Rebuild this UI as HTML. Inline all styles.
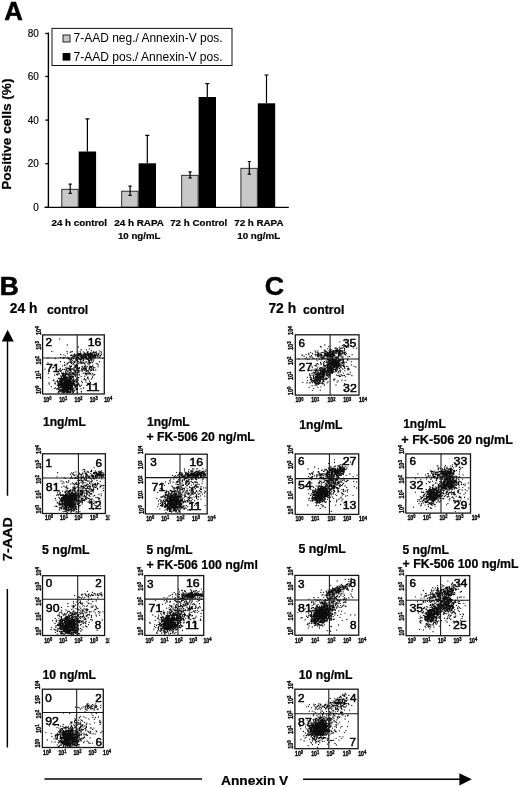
<!DOCTYPE html>
<html lang="en"><head><meta charset="utf-8"><title>Figure</title>
<style>html,body{margin:0;padding:0;background:#fff}svg{display:block}text{font-family:'Liberation Sans', Arial, Helvetica, sans-serif}</style>
</head><body>
<svg width="520" height="787" viewBox="0 0 520 787">
<defs><filter id="soft" x="0" y="0" width="520" height="787" filterUnits="userSpaceOnUse"><feGaussianBlur stdDeviation="0.38"/></filter></defs>
<g filter="url(#soft)">
<rect width="520" height="787" fill="#fff"/>
<g id="panelA">
<text x="4.3" y="20.3" font-size="25.5" font-weight="bold" textLength="18.6" lengthAdjust="spacingAndGlyphs" stroke="#000" stroke-width=".5">A</text>
<text x="11.2" y="189.8" font-size="12.6" font-weight="bold" textLength="111.3" lengthAdjust="spacingAndGlyphs" transform="rotate(-90 11.2 189.8)" stroke="#000" stroke-width=".22">Positive cells (%)</text>
<text x="38.8" y="210.9" font-size="10" text-anchor="end" stroke="#000" stroke-width=".15">0</text>
<path d="M45.3 207.3H48.8" stroke="#000" stroke-width="1.3"/>
<text x="38.8" y="167.3" font-size="10" text-anchor="end" stroke="#000" stroke-width=".15">20</text>
<path d="M45.3 163.7H48.8" stroke="#000" stroke-width="1.3"/>
<text x="38.8" y="123.7" font-size="10" text-anchor="end" stroke="#000" stroke-width=".15">40</text>
<path d="M45.3 120.1H48.8" stroke="#000" stroke-width="1.3"/>
<text x="38.8" y="80.1" font-size="10" text-anchor="end" stroke="#000" stroke-width=".15">60</text>
<path d="M45.3 76.5H48.8" stroke="#000" stroke-width="1.3"/>
<text x="38.8" y="37.1" font-size="10" text-anchor="end" stroke="#000" stroke-width=".15">80</text>
<path d="M45.3 33.5H48.8" stroke="#000" stroke-width="1.3"/>
<path d="M48.4 32.6V207.3" stroke="#000" stroke-width="1.4" fill="none"/>
<rect x="61.8" y="189.3" width="16.4" height="18.0" fill="#c8c8c8" stroke="#111" stroke-width=".85"/>
<rect x="78.7" y="151.5" width="17.4" height="55.8" fill="#050505"/>
<path d="M70.2 184.2V193.3M68.6 184.2h3.2M68.6 193.3h3.2" stroke="#000" stroke-width="1.2" fill="none"/>
<path d="M87.4 118.8V151.5M85.4 118.8h4" stroke="#000" stroke-width="1.2" fill="none"/>
<rect x="121.7" y="191.2" width="16.4" height="16.1" fill="#c8c8c8" stroke="#111" stroke-width=".85"/>
<rect x="138.6" y="163.3" width="17.4" height="44.0" fill="#050505"/>
<path d="M130.1 186.2V195.3M128.5 186.2h3.2M128.5 195.3h3.2" stroke="#000" stroke-width="1.2" fill="none"/>
<path d="M147.3 135.4V163.3M145.3 135.4h4" stroke="#000" stroke-width="1.2" fill="none"/>
<rect x="181.7" y="175.3" width="16.4" height="32.0" fill="#c8c8c8" stroke="#111" stroke-width=".85"/>
<rect x="198.6" y="97.0" width="17.4" height="110.3" fill="#050505"/>
<path d="M190.1 171.8V177.9M188.5 171.8h3.2M188.5 177.9h3.2" stroke="#000" stroke-width="1.2" fill="none"/>
<path d="M207.3 83.7V97.0M205.3 83.7h4" stroke="#000" stroke-width="1.2" fill="none"/>
<rect x="240.9" y="168.3" width="16.4" height="39.0" fill="#c8c8c8" stroke="#111" stroke-width=".85"/>
<rect x="257.8" y="103.3" width="17.4" height="104.0" fill="#050505"/>
<path d="M249.3 161.5V174.2M247.7 161.5h3.2M247.7 174.2h3.2" stroke="#000" stroke-width="1.2" fill="none"/>
<path d="M266.5 75.0V103.3M264.5 75.0h4" stroke="#000" stroke-width="1.2" fill="none"/>
<path d="M44.5 207.3H288.8" stroke="#000" stroke-width="1.35" fill="none"/>
<text x="51.5" y="226.4" font-size="9.9" font-weight="bold" textLength="55.5" lengthAdjust="spacingAndGlyphs" stroke="#000" stroke-width=".2">24 h control</text>
<text x="114.2" y="226.4" font-size="9.9" font-weight="bold" textLength="49.8" lengthAdjust="spacingAndGlyphs" stroke="#000" stroke-width=".2">24 h RAPA</text>
<text x="170.2" y="226.4" font-size="9.9" font-weight="bold" textLength="57" lengthAdjust="spacingAndGlyphs" stroke="#000" stroke-width=".2">72 h Control</text>
<text x="234.2" y="226.4" font-size="9.9" font-weight="bold" textLength="49.3" lengthAdjust="spacingAndGlyphs" stroke="#000" stroke-width=".2">72 h RAPA</text>
<text x="118" y="239.2" font-size="9.9" font-weight="bold" textLength="42.4" lengthAdjust="spacingAndGlyphs" stroke="#000" stroke-width=".2">10 ng/mL</text>
<text x="237.2" y="239.2" font-size="9.9" font-weight="bold" textLength="43" lengthAdjust="spacingAndGlyphs" stroke="#000" stroke-width=".2">10 ng/mL</text>
<rect x="52" y="28.4" width="180" height="37.1" fill="#fff" stroke="#111" stroke-width="1"/>
<rect x="63" y="35" width="7" height="7" fill="#c6c6c6" stroke="#111" stroke-width=".9"/>
<rect x="62.6" y="53" width="7.8" height="7.6" fill="#050505"/>
<text x="73.6" y="42.3" font-size="12" textLength="149" lengthAdjust="spacingAndGlyphs">7-AAD neg./ Annexin-V pos.</text>
<text x="73.6" y="60.7" font-size="12" textLength="149" lengthAdjust="spacingAndGlyphs">7-AAD pos./ Annexin-V pos.</text>
</g>
<text x="-0.3" y="294.6" font-size="25.4" font-weight="bold" textLength="19" lengthAdjust="spacingAndGlyphs" stroke="#000" stroke-width=".6">B</text>
<text x="264.8" y="294.9" font-size="25.2" font-weight="bold" textLength="19.3" lengthAdjust="spacingAndGlyphs" stroke="#000" stroke-width=".5">C</text>
<text x="9.8" y="312.9" font-size="14.2" font-weight="bold" textLength="27.6" lengthAdjust="spacingAndGlyphs" stroke="#000" stroke-width=".22">24 h</text>
<text x="47" y="314.1" font-size="12" font-weight="bold" textLength="41.2" lengthAdjust="spacingAndGlyphs" stroke="#000" stroke-width=".22">control</text>
<text x="268.4" y="313.1" font-size="14.2" font-weight="bold" textLength="27.8" lengthAdjust="spacingAndGlyphs" stroke="#000" stroke-width=".22">72 h</text>
<text x="303.1" y="314.1" font-size="12" font-weight="bold" textLength="41.2" lengthAdjust="spacingAndGlyphs" stroke="#000" stroke-width=".22">control</text>
<text x="43" y="425.7" font-size="12" font-weight="bold" textLength="42.8" lengthAdjust="spacingAndGlyphs" stroke="#000" stroke-width=".22">1ng/mL</text>
<text x="147" y="425.9" font-size="12" font-weight="bold" textLength="42.6" lengthAdjust="spacingAndGlyphs" stroke="#000" stroke-width=".22">1ng/mL</text>
<text x="146.5" y="440.7" font-size="12" font-weight="bold" textLength="108.3" lengthAdjust="spacingAndGlyphs" stroke="#000" stroke-width=".22">+ FK-506 20 ng/mL</text>
<text x="42" y="553.8" font-size="12" font-weight="bold" textLength="47.5" lengthAdjust="spacingAndGlyphs" stroke="#000" stroke-width=".22">5 ng/mL</text>
<text x="146.5" y="553.5" font-size="12" font-weight="bold" textLength="46" lengthAdjust="spacingAndGlyphs" stroke="#000" stroke-width=".22">5 ng/mL</text>
<text x="146.5" y="569.0" font-size="12" font-weight="bold" textLength="111.4" lengthAdjust="spacingAndGlyphs" stroke="#000" stroke-width=".22">+ FK-506 100 ng/ml</text>
<text x="42.5" y="679.0" font-size="12" font-weight="bold" textLength="53.5" lengthAdjust="spacingAndGlyphs" stroke="#000" stroke-width=".22">10 ng/mL</text>
<text x="299.2" y="428.6" font-size="12" font-weight="bold" textLength="43.3" lengthAdjust="spacingAndGlyphs" stroke="#000" stroke-width=".22">1ng/mL</text>
<text x="403.2" y="428.3" font-size="12" font-weight="bold" textLength="42.6" lengthAdjust="spacingAndGlyphs" stroke="#000" stroke-width=".22">1ng/mL</text>
<text x="401.3" y="443.8" font-size="12" font-weight="bold" textLength="111.7" lengthAdjust="spacingAndGlyphs" stroke="#000" stroke-width=".22">+ FK-506 20 ng/mL</text>
<text x="298.4" y="553.4" font-size="12" font-weight="bold" textLength="47.5" lengthAdjust="spacingAndGlyphs" stroke="#000" stroke-width=".22">5 ng/mL</text>
<text x="402.5" y="554.0" font-size="12" font-weight="bold" textLength="46.4" lengthAdjust="spacingAndGlyphs" stroke="#000" stroke-width=".22">5 ng/mL</text>
<text x="402.6" y="568.0" font-size="12" font-weight="bold" textLength="116" lengthAdjust="spacingAndGlyphs" stroke="#000" stroke-width=".22">+ FK-506 100 ng/mL</text>
<text x="298.7" y="679.0" font-size="12" font-weight="bold" textLength="53.8" lengthAdjust="spacingAndGlyphs" stroke="#000" stroke-width=".22">10 ng/mL</text>
<g id="b1">
<path d="M60.5 387.1h0M70.7 383.0h0M60.0 385.1h0M68.3 390.5h0M60.5 379.5h0M69.3 387.6h0M73.2 389.9h0M65.6 384.1h0M77.9 384.1h0M62.5 380.2h0M66.5 386.1h0M64.5 385.1h0M67.4 388.6h0M71.1 386.4h0M57.9 388.6h0M59.6 384.6h0M59.3 385.4h0M62.5 386.4h0M81.3 385.2h0M70.0 379.3h0M64.8 388.4h0M65.7 387.1h0M66.6 380.8h0M68.7 381.7h0M74.7 383.1h0M69.3 385.4h0M70.5 382.6h0M70.7 384.8h0M71.9 388.3h0M66.7 381.8h0M69.6 387.6h0M73.7 383.7h0M68.7 387.7h0M67.4 386.4h0M66.9 382.6h0M61.4 383.6h0M68.8 392.4h0M70.6 390.2h0M69.7 388.6h0M66.9 388.9h0M74.3 383.9h0M67.2 389.9h0M70.1 380.2h0M66.9 388.9h0M66.7 381.3h0M65.6 387.1h0M71.2 388.7h0M66.4 391.6h0M62.6 389.0h0M71.2 384.1h0M57.9 381.2h0M67.2 387.8h0M73.2 380.8h0M66.1 388.4h0M65.4 374.5h0M70.7 381.2h0M64.2 386.4h0M77.5 388.2h0M66.6 392.6h0M62.9 383.2h0M69.4 392.0h0M69.1 386.8h0M57.7 382.1h0M63.3 382.9h0M68.8 383.9h0M69.7 385.8h0M64.6 385.9h0M68.1 389.3h0M63.9 384.3h0M59.8 392.8h0M72.8 384.6h0M63.9 379.7h0M66.9 386.3h0M76.1 386.5h0M62.5 374.2h0M72.6 386.3h0M58.7 386.2h0M71.2 388.0h0M65.3 375.6h0M65.5 378.2h0M68.8 375.6h0M61.9 391.0h0M73.7 380.0h0M59.0 389.4h0M70.0 380.9h0M62.9 382.2h0M60.6 382.3h0M71.9 388.6h0M75.6 385.0h0M65.5 380.9h0M65.5 379.4h0M57.9 388.6h0M72.7 389.2h0M72.2 386.6h0M62.8 385.8h0M64.4 380.3h0M58.3 378.6h0M66.1 386.1h0M63.9 392.0h0M66.9 388.1h0M71.7 381.6h0M57.0 388.9h0M62.9 391.4h0M67.7 390.0h0M69.6 375.8h0M69.4 382.3h0M62.6 383.4h0M69.6 389.5h0M70.8 377.8h0M63.4 374.5h0M65.6 388.2h0M62.6 386.5h0M67.2 390.0h0M62.3 381.6h0M71.1 384.8h0M67.1 385.9h0M67.0 384.4h0M64.6 379.6h0M63.1 393.0h0M68.6 385.7h0M65.1 385.7h0M67.7 382.4h0M67.0 386.5h0M62.7 381.8h0M61.5 380.5h0M70.2 374.5h0M64.9 382.6h0M63.2 385.8h0M71.3 385.8h0M65.5 382.6h0M65.5 389.6h0M64.3 380.1h0M60.3 380.3h0M59.7 390.5h0M67.7 384.3h0M72.8 382.4h0M69.6 389.1h0M59.0 378.2h0M61.8 389.6h0M72.1 379.8h0M70.9 383.6h0M64.3 382.9h0M64.6 377.0h0M61.5 379.7h0M78.7 383.9h0M58.2 383.5h0M68.7 382.0h0M70.4 387.9h0M58.6 383.0h0M65.0 385.5h0M66.7 383.8h0M67.0 382.7h0M62.0 392.4h0M67.8 387.4h0M58.8 384.6h0M69.9 379.5h0M71.1 383.6h0M68.0 384.8h0M67.1 390.9h0M64.2 392.6h0M62.5 381.1h0M69.4 380.5h0M64.4 389.6h0M71.7 377.2h0M71.6 384.3h0M63.3 384.0h0M60.8 384.2h0M65.2 384.7h0M71.5 384.3h0M59.4 390.2h0M61.2 383.3h0M65.5 383.8h0M61.5 384.3h0M76.1 382.6h0M65.5 390.6h0M69.5 388.9h0M70.1 376.3h0M62.1 386.0h0M68.4 391.4h0M68.3 384.3h0M66.3 384.4h0M67.2 388.5h0M64.5 381.7h0M62.2 390.4h0M72.0 390.0h0M70.0 389.2h0M66.1 388.5h0M61.3 384.5h0M62.7 388.7h0M63.4 384.9h0M67.9 391.6h0M62.5 381.1h0M69.9 380.3h0M68.2 382.8h0M65.6 377.0h0M69.4 383.1h0M68.0 383.8h0M66.6 392.8h0M66.0 387.5h0M68.5 381.2h0M66.7 383.1h0M60.4 389.4h0M69.2 385.7h0M61.9 376.2h0M68.3 385.0h0M58.4 385.1h0M59.1 385.3h0M66.8 387.0h0M67.1 386.2h0M60.9 383.6h0M63.7 384.3h0M67.3 388.2h0M73.6 373.6h0M67.9 384.5h0M76.6 389.7h0M58.5 387.2h0M63.7 390.0h0M61.2 384.9h0M65.5 385.0h0M63.4 376.9h0M68.2 390.0h0M65.8 380.7h0M67.0 388.0h0M65.3 385.3h0M72.6 380.3h0M63.5 376.6h0M62.9 382.0h0M61.7 382.2h0M74.4 384.5h0M65.8 377.4h0M68.0 381.1h0M73.6 379.7h0M63.4 378.0h0M66.5 380.7h0M65.8 383.7h0M63.3 389.7h0M70.4 385.7h0M62.0 380.5h0M64.0 381.8h0M62.9 380.4h0M61.6 384.5h0M72.7 385.4h0M63.8 378.0h0M67.1 385.3h0M60.5 380.4h0M65.9 390.1h0M69.0 386.3h0M64.6 386.9h0M60.9 383.7h0M71.9 384.2h0M72.7 385.2h0M66.8 383.7h0M59.7 380.9h0M76.3 388.4h0M68.9 389.8h0M68.7 390.1h0M64.9 384.4h0M70.6 383.8h0M60.0 384.4h0M63.6 388.2h0M62.8 380.5h0M64.6 392.5h0M65.9 386.1h0M66.1 386.8h0M70.4 391.8h0M58.5 391.7h0M66.1 383.9h0M77.1 384.6h0M75.0 389.9h0M61.4 387.6h0M69.5 384.8h0M55.4 383.8h0M65.2 380.3h0M74.5 384.3h0M64.3 384.0h0M62.5 381.8h0M66.5 386.8h0M63.8 385.0h0M59.7 387.8h0M62.7 386.4h0M61.9 383.0h0M67.1 379.8h0M77.5 385.2h0M65.8 382.0h0M73.4 391.8h0M67.5 379.1h0M63.8 388.2h0M63.7 380.0h0M60.6 381.9h0M66.2 382.4h0M74.3 380.6h0M67.7 385.8h0M65.5 390.2h0M64.6 383.9h0M64.4 384.9h0M72.0 389.0h0M59.9 383.4h0M62.4 389.2h0M67.1 389.5h0M65.8 376.6h0M68.2 386.4h0M68.4 379.4h0M66.5 382.2h0M62.9 387.0h0M67.7 381.3h0M58.2 374.0h0M63.5 390.6h0M65.8 375.0h0M62.1 387.3h0M73.8 390.8h0M67.8 386.3h0M61.2 383.3h0M64.6 381.8h0M66.4 383.6h0M67.7 392.0h0M69.5 387.3h0M65.0 378.4h0M65.6 387.9h0M61.5 391.2h0M64.6 387.1h0M64.6 379.6h0M75.6 380.1h0M70.3 382.8h0M67.4 381.7h0M64.2 389.6h0M75.0 381.5h0M66.1 389.8h0M63.2 388.7h0M62.5 388.2h0M68.1 391.0h0M67.8 379.9h0M69.2 380.3h0M69.6 392.3h0M68.8 382.9h0M71.6 386.2h0M60.4 383.8h0M72.6 384.0h0M66.7 383.8h0M58.3 383.1h0M67.7 386.4h0M65.3 375.6h0M71.7 388.7h0M70.8 391.4h0M64.1 382.6h0M58.3 384.3h0M62.8 388.0h0M72.8 384.0h0M60.4 385.6h0M64.8 378.3h0M70.2 383.0h0M69.2 379.3h0M71.1 378.8h0M70.9 377.1h0M72.4 383.7h0M58.9 384.3h0M67.7 380.8h0M63.8 386.6h0M65.3 371.3h0M64.1 387.4h0M67.5 390.0h0M69.8 386.8h0M71.1 389.8h0M66.6 382.5h0M70.8 387.3h0M57.4 380.3h0M68.2 385.9h0M67.4 388.4h0M66.8 392.7h0M63.4 383.6h0M67.6 388.8h0M69.7 392.2h0M63.9 390.8h0M68.3 380.6h0M69.7 383.2h0M55.1 382.0h0M62.9 385.8h0M76.7 388.8h0M67.5 381.1h0M60.6 384.4h0M64.2 382.6h0M71.3 385.8h0M60.4 391.3h0M64.7 379.3h0M67.6 387.6h0M64.5 388.6h0M69.9 381.3h0M56.6 374.4h0M65.5 391.1h0M70.7 391.8h0M74.6 385.5h0M71.0 378.4h0M69.3 387.2h0M65.7 383.4h0M61.0 386.0h0M72.0 383.7h0M68.5 382.3h0M67.3 380.8h0M67.8 384.4h0M67.6 382.6h0M60.7 383.9h0M70.9 392.7h0M64.6 389.1h0M69.6 387.2h0M59.0 386.9h0M61.6 390.8h0M69.7 388.2h0M54.4 388.3h0M69.3 379.5h0M70.6 385.7h0M65.3 382.1h0M61.4 383.4h0M80.3 386.3h0M67.1 382.4h0M63.3 382.9h0M62.0 389.4h0M64.9 389.4h0M60.8 389.7h0M66.0 388.5h0M65.6 381.3h0M71.7 383.4h0M65.4 381.3h0M67.0 383.6h0M67.4 387.0h0M62.9 378.9h0M68.1 389.6h0M69.3 380.1h0M68.9 387.2h0M67.4 387.4h0M64.6 386.4h0M70.4 383.1h0M59.5 384.9h0M67.0 376.9h0M63.0 388.1h0M65.4 385.8h0M60.3 389.6h0M74.2 384.5h0M62.7 380.1h0M70.2 385.9h0M62.4 391.0h0M69.6 388.2h0M58.0 384.9h0M69.0 379.8h0M70.4 392.0h0M70.9 382.1h0M62.8 389.7h0M70.7 391.1h0M71.6 384.9h0M64.2 376.9h0M64.0 383.2h0M69.1 387.1h0M59.8 382.1h0M62.8 389.3h0M72.7 392.9h0M60.4 383.8h0M62.8 384.1h0M78.2 377.7h0M68.7 379.7h0M72.3 391.4h0M66.4 391.4h0M67.5 382.8h0M64.3 384.9h0M68.9 386.0h0M77.0 384.5h0M64.0 382.1h0M62.5 378.8h0M61.6 389.6h0M66.4 384.6h0M67.7 390.3h0M68.9 389.0h0M63.5 384.2h0M62.5 385.0h0M62.3 383.7h0M65.3 384.4h0M64.9 383.1h0M72.1 383.8h0M61.4 386.3h0M61.1 380.5h0M66.5 377.7h0M51.3 386.7h0M70.9 377.7h0M62.0 388.1h0M57.0 381.4h0M60.6 384.5h0M57.0 389.5h0M65.4 386.8h0M64.6 375.6h0M65.4 379.2h0M66.1 381.5h0M64.6 384.4h0M69.7 388.9h0M61.5 385.3h0M72.8 387.7h0M62.7 384.8h0M64.5 389.7h0M66.3 387.1h0M76.3 379.1h0M61.4 377.4h0M58.8 389.3h0M67.4 392.9h0M57.0 381.3h0M72.7 390.1h0M70.2 389.4h0M66.2 385.4h0M66.2 389.3h0M65.4 386.9h0M72.8 380.2h0M62.6 388.0h0M64.9 384.7h0M75.8 387.3h0M64.2 390.5h0M77.7 380.3h0M63.0 385.9h0M68.5 383.6h0M68.4 381.7h0M63.3 385.9h0M77.1 375.0h0M68.0 391.6h0M68.2 386.1h0M65.5 381.5h0M73.6 380.0h0M65.5 383.0h0M62.5 375.2h0M64.3 386.0h0M66.8 389.3h0M65.4 382.5h0M67.5 388.5h0M61.9 378.4h0M61.4 390.3h0M70.7 381.3h0M66.6 389.3h0M72.2 382.4h0M65.0 391.9h0M77.2 392.4h0M60.9 387.5h0M64.7 385.1h0M63.1 383.2h0M69.3 387.4h0M66.2 381.9h0M65.0 391.1h0M67.3 385.3h0M58.7 387.2h0M58.2 392.4h0M63.2 385.4h0M59.9 383.1h0M61.8 390.6h0M67.2 380.0h0M57.2 385.1h0M63.9 380.3h0M68.8 384.5h0M66.6 382.7h0M63.5 383.3h0M58.7 388.3h0M68.0 377.5h0M66.6 390.7h0M67.2 391.4h0M64.9 385.4h0M60.1 381.2h0M57.7 381.3h0M67.2 387.8h0M71.5 386.0h0M61.5 387.4h0M75.1 389.8h0M60.9 383.0h0M67.0 382.1h0M68.5 388.6h0M70.0 386.5h0M62.0 381.5h0M65.5 391.5h0M73.3 389.9h0M67.8 388.5h0M69.9 391.3h0M70.0 378.3h0M70.5 387.2h0M64.0 387.8h0M67.4 385.2h0M58.3 385.9h0M68.7 385.2h0M58.8 387.5h0M69.4 386.2h0M68.1 383.8h0M63.1 387.8h0M64.5 386.2h0M81.1 388.7h0M66.7 377.9h0M66.5 388.9h0M62.9 384.3h0M55.7 388.0h0M63.4 388.5h0M72.4 384.7h0M70.6 386.6h0M65.2 384.1h0M62.2 391.3h0M70.1 380.8h0M70.0 382.0h0M59.2 390.9h0M60.2 390.8h0M74.0 385.1h0M77.3 385.9h0M73.6 382.0h0M75.3 386.4h0M70.5 388.4h0M78.8 372.4h0M69.3 373.1h0M67.8 382.1h0M62.2 373.4h0M69.3 380.5h0M74.0 383.1h0M63.9 373.6h0M68.0 383.8h0M73.0 372.6h0M62.5 365.8h0M69.3 377.4h0M69.6 387.5h0M85.7 379.8h0M66.1 379.9h0M66.6 384.8h0M73.1 377.8h0M66.5 378.6h0M70.2 388.1h0M64.3 379.8h0M63.8 373.9h0M60.4 368.4h0M73.9 381.5h0M73.5 392.2h0M65.4 386.5h0M69.5 372.8h0M70.9 386.8h0M70.3 380.8h0M79.2 375.0h0M53.8 379.9h0M73.8 374.6h0M52.3 367.9h0M77.6 389.3h0M50.3 367.1h0M69.6 372.7h0M65.1 377.6h0M64.4 385.9h0M76.6 378.1h0M69.4 389.2h0M70.4 383.8h0M65.1 387.7h0M79.5 385.9h0M70.8 382.2h0M68.6 388.0h0M78.8 384.2h0M60.5 371.0h0M67.2 377.6h0M66.2 386.5h0M76.9 378.2h0M78.0 377.6h0M59.3 378.3h0M69.2 385.6h0M75.5 376.3h0M71.9 368.6h0M74.5 390.9h0M76.3 385.2h0M48.3 373.5h0M67.2 390.1h0M77.0 367.7h0M57.4 375.0h0M65.0 386.7h0M70.5 370.8h0M69.6 376.8h0M78.1 382.8h0M70.2 387.1h0M72.1 376.0h0M73.4 383.1h0M63.5 375.0h0M77.3 373.9h0M66.6 384.8h0M58.8 385.1h0M57.5 381.0h0M53.3 380.4h0M73.9 374.0h0M70.9 392.8h0M58.6 369.8h0M79.3 368.4h0M79.1 385.1h0M60.0 384.6h0M67.4 385.8h0M63.0 369.3h0M72.4 384.5h0M69.1 384.4h0M64.8 380.6h0M71.7 378.6h0M81.5 381.2h0M77.6 381.1h0M64.6 369.4h0M83.6 388.0h0M69.1 376.1h0M73.8 388.3h0M66.3 370.3h0M64.1 373.7h0M63.4 372.9h0M68.7 362.5h0M60.1 379.4h0M60.0 369.9h0M67.6 363.2h0M76.5 381.5h0M63.3 375.4h0M69.7 379.8h0M49.0 377.6h0M71.8 376.0h0M61.5 373.0h0M60.6 375.9h0M82.1 358.4h0M81.2 376.6h0M71.0 379.6h0M73.2 392.7h0M72.0 376.7h0M68.7 380.9h0M59.6 381.0h0M67.2 386.1h0M64.6 362.4h0M71.5 387.3h0M54.7 375.0h0M74.9 374.0h0M60.3 371.4h0M67.4 374.0h0M72.0 381.3h0M72.0 373.7h0M65.3 381.2h0M68.8 380.6h0M64.1 379.2h0M62.1 376.7h0M74.8 387.1h0M67.6 385.5h0M71.5 378.4h0M70.8 372.0h0M73.8 379.0h0M81.4 391.5h0M61.9 383.8h0M66.8 370.2h0M78.8 377.7h0M58.0 372.9h0M72.4 351.6h0M59.3 391.2h0M65.2 374.5h0M73.2 377.3h0M71.8 379.8h0M70.6 389.4h0M73.6 376.5h0M69.4 378.0h0M54.8 383.7h0M64.5 364.9h0M67.4 363.9h0M71.6 376.7h0M73.9 372.6h0M63.9 374.1h0M69.3 377.3h0M62.7 378.8h0M66.3 386.7h0M54.8 371.1h0M66.9 391.0h0M68.1 385.9h0M71.4 372.1h0M76.1 379.8h0M65.3 373.7h0M62.6 369.3h0M64.2 375.6h0M73.2 379.8h0M68.1 388.1h0M77.1 374.7h0M65.9 385.7h0M49.4 384.1h0M81.5 392.0h0M73.8 358.8h0M90.0 357.2h0M87.4 354.4h0M87.4 358.3h0M94.0 354.4h0M91.2 356.8h0M92.3 355.0h0M84.3 354.4h0M85.7 354.6h0M78.3 353.6h0M94.1 352.8h0M80.2 356.1h0M98.1 357.0h0M85.8 353.7h0M85.0 354.0h0M85.2 356.6h0M81.7 354.5h0M86.9 355.5h0M83.6 354.4h0M81.2 354.6h0M91.9 354.7h0M68.7 358.3h0M88.0 353.8h0M86.5 349.9h0M78.2 358.5h0M102.7 358.3h0M83.9 355.9h0M93.4 352.6h0M99.7 353.1h0M90.7 353.0h0M91.0 355.2h0M95.4 352.6h0M88.8 358.8h0M81.0 356.7h0M91.4 354.2h0M87.1 358.2h0M96.1 355.8h0M90.2 353.1h0M89.5 358.7h0M95.2 352.2h0M75.1 355.3h0M89.6 354.3h0M86.7 356.2h0M94.4 355.3h0M96.5 352.0h0M91.7 355.9h0M79.2 358.6h0M78.0 353.6h0M91.3 357.8h0M95.9 352.6h0M92.0 357.8h0M87.6 355.6h0M85.7 357.1h0M84.9 354.6h0M80.5 354.3h0M90.1 356.2h0M85.9 353.6h0M90.9 355.9h0M96.8 353.7h0M86.0 356.6h0M98.5 354.4h0M87.9 353.7h0M86.3 357.4h0M94.3 357.0h0M78.1 357.9h0M82.7 357.1h0M73.2 356.6h0M83.1 358.3h0M89.6 357.8h0M86.1 359.4h0M86.0 359.3h0M85.3 353.8h0M94.4 354.1h0M88.0 352.9h0M86.4 355.8h0M84.1 356.6h0M73.7 358.4h0M86.2 358.4h0M86.2 354.3h0M85.7 356.2h0M92.4 354.2h0M83.5 356.7h0M93.7 351.6h0M81.6 354.7h0M100.0 356.8h0M93.9 355.9h0M81.5 358.2h0M85.6 354.1h0M101.0 351.5h0M97.7 355.0h0M82.6 356.3h0M83.1 356.2h0M84.2 353.5h0M95.1 354.7h0M92.8 352.6h0M81.2 349.7h0M95.3 355.7h0M81.0 357.7h0M93.0 360.7h0M90.3 357.0h0M92.8 356.5h0M88.4 354.6h0M93.5 357.4h0M80.8 353.9h0M88.6 358.9h0M87.0 352.3h0M94.0 356.4h0M101.4 354.7h0M101.4 352.9h0M94.6 355.1h0M80.8 355.6h0M97.5 356.8h0M86.3 357.7h0M94.7 356.6h0M90.6 355.8h0M83.2 355.8h0M89.3 353.9h0M86.8 355.9h0M90.2 357.3h0M81.8 355.2h0M90.3 354.5h0M90.7 354.3h0M96.3 354.3h0M81.3 357.5h0M99.2 350.8h0M87.8 355.6h0M95.7 357.7h0M87.3 352.5h0M93.2 357.0h0M91.7 355.3h0M83.7 360.5h0M80.5 353.2h0M95.1 355.4h0M93.1 355.7h0M99.9 357.2h0M85.2 357.6h0M80.7 352.8h0M96.4 353.9h0M74.6 356.6h0M84.4 356.8h0M88.1 354.0h0M84.1 357.3h0M82.6 356.2h0M82.3 356.8h0M100.4 355.5h0M96.0 355.6h0M82.3 355.4h0M89.2 356.2h0M84.8 356.9h0M84.0 355.9h0M88.4 353.2h0M95.2 354.9h0M89.4 355.3h0M74.6 353.9h0M83.0 357.8h0M85.0 356.9h0M81.8 354.4h0M85.8 357.7h0M77.8 356.0h0M91.3 355.4h0M88.7 356.9h0M90.4 353.3h0M92.7 353.6h0M86.7 358.4h0M91.3 353.7h0M84.0 359.0h0M90.6 352.6h0M99.0 355.6h0M97.3 355.4h0M74.4 355.2h0M87.7 355.2h0M98.4 353.3h0M88.0 355.4h0M87.9 353.5h0M80.2 351.2h0M90.8 354.8h0M80.1 354.3h0M78.7 354.5h0M71.5 357.8h0M83.1 358.4h0M78.3 355.9h0M88.5 360.1h0M74.2 354.2h0M81.3 357.7h0M72.2 362.7h0M63.9 354.8h0M80.4 359.4h0M65.6 355.8h0M88.8 360.5h0M76.9 357.0h0M72.4 357.9h0M71.2 351.8h0M67.9 357.1h0M69.3 359.7h0M87.7 359.4h0M83.3 359.8h0M80.5 359.1h0M81.9 358.9h0M71.5 355.3h0M71.6 359.0h0M82.2 354.9h0M71.7 355.5h0M84.8 356.6h0M76.9 355.2h0M77.8 360.9h0M73.8 356.0h0M90.6 358.7h0M70.6 359.7h0M69.7 358.3h0M60.8 354.4h0M85.1 355.4h0M73.5 357.1h0M78.7 355.7h0M73.9 361.4h0M89.2 357.7h0M70.5 355.6h0M76.6 358.1h0M89.9 355.6h0M79.7 355.8h0M79.6 355.2h0M81.3 359.8h0M75.9 356.1h0M79.5 353.6h0M91.4 353.5h0M76.1 354.7h0M89.2 355.7h0M75.1 361.7h0M77.8 355.0h0M78.6 357.4h0M73.4 356.5h0M77.2 358.7h0M84.1 359.0h0M77.8 358.9h0M77.2 359.8h0M81.5 355.8h0M87.3 353.1h0M71.8 354.9h0M77.7 353.8h0M70.2 352.2h0M79.5 355.0h0M94.1 358.9h0M70.6 360.2h0M79.4 359.6h0M70.8 359.8h0M86.4 355.9h0M72.7 356.0h0M80.5 363.0h0M91.4 360.7h0M87.1 366.6h0M89.8 367.0h0M86.0 367.5h0M92.0 368.5h0M89.2 367.1h0M87.3 366.6h0M93.9 370.6h0M94.9 367.8h0M92.9 359.2h0M86.3 368.5h0M85.3 368.1h0M84.0 367.8h0M85.1 368.9h0M86.8 361.9h0M86.3 369.2h0M82.4 369.6h0M93.8 367.4h0M90.6 373.3h0M84.5 378.3h0M99.5 361.7h0M97.8 364.0h0M94.7 356.2h0M93.3 369.9h0M82.3 363.2h0M83.4 362.6h0M89.8 367.7h0M76.8 366.8h0M90.2 369.6h0M95.8 356.0h0M89.2 369.2h0M91.4 359.5h0M82.2 367.8h0M88.5 356.2h0M89.8 368.9h0M91.5 350.6h0M90.4 362.7h0M86.0 374.4h0M95.8 370.0h0M87.6 378.2h0M84.1 367.9h0M85.8 362.0h0M89.0 383.3h0M89.3 372.5h0M88.0 376.9h0M88.9 362.7h0M88.6 379.1h0M87.7 377.4h0M87.8 383.2h0M89.4 373.6h0M86.8 374.8h0M87.1 358.5h0M89.5 360.5h0M94.8 374.5h0M88.2 373.8h0M76.4 379.8h0M85.2 373.7h0M99.7 357.6h0M86.3 371.4h0M90.0 357.1h0M83.9 379.4h0M85.4 372.9h0M81.9 362.5h0M79.9 370.9h0M93.4 369.6h0M86.9 370.7h0M90.3 366.9h0M90.6 382.7h0M98.2 364.9h0M82.4 382.5h0M92.6 377.5h0M90.9 367.4h0M92.6 376.8h0M93.5 361.3h0M92.8 366.5h0M86.5 371.4h0M86.6 385.3h0M90.7 370.8h0M87.3 370.7h0M87.1 373.1h0M92.0 374.9h0M82.5 366.6h0M88.5 360.4h0M89.9 368.0h0M88.4 371.7h0M85.3 379.9h0M92.8 365.1h0M90.3 374.2h0M84.7 366.5h0M91.3 350.8h0M82.2 371.3h0M91.0 362.5h0M92.0 384.6h0M89.1 368.7h0M88.5 361.8h0M90.6 370.2h0M91.5 379.0h0M88.3 370.3h0M89.6 381.2h0M81.6 369.0h0M85.3 369.9h0M91.9 369.5h0M91.5 370.3h0M84.9 364.3h0M81.9 370.6h0M86.4 374.9h0M92.5 362.7h0M83.2 373.2h0M84.2 370.5h0M90.9 366.3h0M96.2 363.5h0M90.1 366.1h0M75.1 367.8h0M87.4 373.1h0M87.6 363.8h0M85.8 366.8h0M91.6 367.0h0M93.7 375.0h0M84.8 376.2h0M77.9 369.2h0M83.7 368.3h0M93.4 369.0h0M87.4 378.0h0M84.7 363.2h0M92.6 373.3h0M81.7 370.0h0M91.7 367.8h0M86.3 369.9h0M89.1 364.0h0M91.9 357.9h0M87.8 384.0h0M83.4 368.7h0M77.9 363.2h0M82.9 369.4h0M85.9 381.9h0M84.0 368.8h0M89.1 373.5h0M92.2 358.0h0M98.1 366.8h0M84.9 357.4h0M86.1 356.5h0M89.0 364.8h0M89.6 363.4h0M88.5 384.6h0M93.4 370.1h0M69.8 383.6h0M48.0 362.9h0M83.3 351.9h0M89.7 361.8h0M75.7 355.9h0M86.0 373.5h0M59.7 338.9h0M66.9 364.0h0M70.4 362.2h0M78.3 347.0h0M67.3 345.0h0M45.0 369.2h0M60.4 361.7h0M68.4 374.5h0M79.1 362.1h0M71.3 357.7h0M55.3 358.5h0M62.7 357.6h0M72.9 373.2h0M85.0 373.1h0M51.9 351.4h0M71.1 388.9h0M77.7 356.9h0M84.3 353.4h0M88.0 351.4h0M71.9 373.4h0M59.9 370.4h0M95.0 357.0h0M59.9 369.4h0M68.5 358.5h0M83.2 373.3h0M77.6 372.3h0M76.4 364.3h0M69.6 377.8h0M84.4 352.9h0M66.1 374.7h0M79.3 374.1h0M77.1 360.8h0M61.3 378.6h0M67.3 353.3h0M48.0 358.0h0M76.9 357.4h0M65.4 367.8h0M71.3 361.7h0M85.4 369.3h0M78.2 379.9h0M66.9 358.2h0M67.0 351.5h0M64.2 357.5h0M69.1 369.2h0M49.0 383.0h0M74.2 361.4h0M81.7 363.6h0M63.7 358.4h0M84.0 367.1h0M53.6 367.4h0M64.4 379.2h0M60.3 357.5h0M90.5 359.8h0M76.2 365.6h0M70.9 366.3h0M84.1 363.4h0M68.2 368.5h0M89.3 348.8h0M59.4 373.8h0M82.0 366.2h0M86.2 379.8h0M61.6 370.6h0M61.3 385.7h0M77.6 373.1h0M69.1 367.9h0M72.1 374.3h0M70.1 373.7h0M68.0 371.0h0M75.0 375.4h0M69.1 375.2h0M74.8 362.7h0M70.4 380.2h0M80.3 358.8h0M70.1 377.2h0M70.7 367.1h0M64.9 365.4h0M66.2 370.4h0M68.7 377.2h0M78.9 371.1h0M59.2 381.7h0M72.9 376.3h0M78.1 363.4h0M71.5 366.5h0M69.6 370.5h0M66.8 386.7h0M82.1 369.5h0M80.0 363.2h0M72.3 360.4h0M70.8 376.2h0M67.0 367.1h0M69.5 365.9h0M77.3 372.3h0M66.7 373.9h0M75.5 365.7h0M71.6 365.8h0M65.1 365.2h0M75.7 372.6h0M67.5 374.4h0M79.6 367.7h0M76.0 360.4h0M75.9 375.0h0M71.7 371.9h0M67.4 371.8h0M58.1 383.6h0M60.3 378.4h0M72.3 377.2h0M77.6 365.5h0M66.9 368.4h0M73.0 364.3h0M75.1 371.5h0M72.1 369.7h0M71.3 376.6h0M77.4 367.5h0M76.0 356.2h0M74.9 370.1h0M75.4 367.7h0M71.0 362.8h0M75.8 371.9h0M72.2 368.6h0M72.1 360.2h0M78.9 370.1h0M69.6 368.3h0M74.2 364.9h0M69.7 373.6h0M67.3 379.3h0M66.1 374.0h0M76.2 364.8h0M77.9 370.5h0M85.6 365.3h0M73.0 373.9h0M67.6 379.6h0M77.0 360.0h0M77.4 368.2h0M70.5 368.2h0M76.3 357.6h0M76.4 370.1h0M78.4 371.1h0M81.0 361.8h0M83.1 360.9h0M66.5 374.7h0M74.8 367.7h0M71.5 383.2h0M62.8 374.7h0M75.6 366.8h0M80.6 360.9h0M76.7 368.4h0M66.2 369.8h0M73.7 373.6h0M75.1 373.2h0M72.6 373.5h0M75.5 370.5h0M73.6 369.2h0M74.3 374.2h0M74.2 370.1h0M73.6 363.2h0M69.1 373.2h0M76.0 359.4h0M65.7 372.0h0M68.4 368.5h0M70.8 374.4h0M68.1 374.7h0M67.1 374.7h0M70.0 361.4h0M73.9 369.0h0M73.5 369.7h0M71.4 363.6h0M74.3 370.9h0M75.3 358.6h0M66.6 368.9h0M70.1 366.4h0M70.7 375.9h0M77.7 351.9h0M78.1 357.7h0M77.1 365.9h0M78.1 361.6h0M69.1 373.1h0M74.2 362.4h0M74.9 366.5h0M73.9 367.8h0M78.0 367.3h0M70.8 369.5h0M60.9 378.4h0M68.0 378.6h0M66.3 373.0h0M78.2 368.1h0M76.3 360.2h0M77.1 369.9h0M68.6 372.8h0M65.8 373.9h0M76.6 365.1h0M69.9 369.5h0M82.0 362.2h0M73.3 380.4h0M70.8 370.6h0M69.3 370.1h0" stroke="#0a0a0a" stroke-width="1.3" stroke-linecap="round" fill="none"/>
<rect x="42.6" y="334.9" width="61.7" height="59.1" fill="none" stroke="#161616" stroke-width="1.3"/>
<path d="M77.2 334.9V394.0M42.6 358H104.3" stroke="#161616" stroke-width="1.05" fill="none"/>
<text x="45.4" y="345.9" font-size="11.5" textLength="6.5" lengthAdjust="spacingAndGlyphs" stroke="#000" stroke-width=".5">2</text>
<text x="101.4" y="345.9" font-size="11.5" text-anchor="end" textLength="13.7" lengthAdjust="spacingAndGlyphs" stroke="#000" stroke-width=".5">16</text>
<text x="45.9" y="372.2" font-size="11.5" textLength="13.7" lengthAdjust="spacingAndGlyphs" stroke="#000" stroke-width=".5">71</text>
<text x="99.7" y="390.7" font-size="11.5" text-anchor="end" textLength="13.7" lengthAdjust="spacingAndGlyphs" stroke="#000" stroke-width=".5">11</text>
<g font-size="6.9" font-weight="bold" fill="#000" stroke="#000" stroke-width=".35">
<text x="43.5" y="401.5" textLength="8.0" lengthAdjust="spacingAndGlyphs">10<tspan dy="-1.9" font-size="5.4">0</tspan></text>
<text x="59.2" y="401.5" textLength="8.0" lengthAdjust="spacingAndGlyphs">10<tspan dy="-1.9" font-size="5.4">1</tspan></text>
<text x="74.6" y="401.5" textLength="8.0" lengthAdjust="spacingAndGlyphs">10<tspan dy="-1.9" font-size="5.4">2</tspan></text>
<text x="89.7" y="401.5" textLength="8.0" lengthAdjust="spacingAndGlyphs">10<tspan dy="-1.9" font-size="5.4">3</tspan></text>
<text x="104.2" y="401.5" textLength="8.0" lengthAdjust="spacingAndGlyphs">10<tspan dy="-1.9" font-size="5.4">4</tspan></text>
<text x="40.7" y="394.1" textLength="8.6" lengthAdjust="spacingAndGlyphs" transform="rotate(-90 40.7 394.1)">10<tspan dy="-1.9" font-size="5.4">0</tspan></text>
<text x="40.7" y="379.3" textLength="8.6" lengthAdjust="spacingAndGlyphs" transform="rotate(-90 40.7 379.3)">10<tspan dy="-1.9" font-size="5.4">1</tspan></text>
<text x="40.7" y="364.6" textLength="8.6" lengthAdjust="spacingAndGlyphs" transform="rotate(-90 40.7 364.6)">10<tspan dy="-1.9" font-size="5.4">2</tspan></text>
<text x="40.7" y="349.8" textLength="8.6" lengthAdjust="spacingAndGlyphs" transform="rotate(-90 40.7 349.8)">10<tspan dy="-1.9" font-size="5.4">3</tspan></text>
<text x="40.7" y="335.0" textLength="8.6" lengthAdjust="spacingAndGlyphs" transform="rotate(-90 40.7 335.0)">10<tspan dy="-1.9" font-size="5.4">4</tspan></text>
</g>
</g>
<g id="b2">
<path d="M62.4 502.2h0M68.0 498.8h0M73.9 501.4h0M68.0 509.8h0M66.9 495.0h0M62.7 498.6h0M72.5 505.2h0M74.8 510.0h0M77.6 504.3h0M75.8 504.4h0M66.8 505.3h0M69.8 500.3h0M79.2 505.1h0M67.2 501.0h0M80.9 500.2h0M73.1 504.4h0M72.0 504.2h0M67.2 499.1h0M68.8 499.6h0M73.5 508.9h0M65.2 504.0h0M64.8 498.0h0M68.4 501.9h0M67.4 488.7h0M76.3 500.0h0M66.5 504.7h0M66.7 494.4h0M72.0 503.4h0M65.5 505.4h0M71.4 495.8h0M78.1 502.7h0M64.0 503.6h0M70.2 506.1h0M63.0 506.4h0M74.1 504.7h0M72.5 507.8h0M73.1 502.0h0M65.5 506.8h0M74.3 502.8h0M70.3 504.9h0M57.3 502.9h0M57.4 502.5h0M74.7 510.6h0M67.3 503.4h0M69.2 490.5h0M73.1 501.3h0M69.9 496.7h0M69.3 501.7h0M75.8 502.8h0M86.5 499.3h0M68.2 501.1h0M65.6 508.7h0M72.7 495.1h0M70.1 506.9h0M62.6 502.1h0M71.5 499.3h0M66.8 510.5h0M67.3 512.4h0M61.9 500.4h0M68.4 497.9h0M68.5 504.7h0M66.3 494.4h0M76.1 508.5h0M66.2 502.8h0M57.0 506.4h0M63.1 498.6h0M80.1 495.2h0M69.6 496.1h0M60.5 495.7h0M70.8 495.0h0M66.7 504.9h0M68.8 494.9h0M76.8 501.9h0M76.4 496.2h0M77.7 494.8h0M61.0 499.3h0M67.7 502.6h0M66.8 504.4h0M76.0 498.1h0M62.8 499.4h0M73.5 505.3h0M67.8 496.5h0M69.4 506.0h0M66.0 507.6h0M70.6 502.7h0M66.5 507.9h0M69.7 494.1h0M73.5 499.3h0M74.8 502.1h0M66.5 502.1h0M67.1 497.3h0M69.6 505.4h0M69.9 500.9h0M66.8 504.1h0M70.8 506.0h0M71.3 511.7h0M61.9 501.1h0M72.1 505.7h0M62.1 495.4h0M69.3 506.4h0M74.8 493.9h0M70.1 507.0h0M69.6 496.3h0M66.0 494.8h0M75.3 500.0h0M67.4 497.1h0M68.8 496.9h0M64.8 501.1h0M68.4 503.5h0M70.2 507.0h0M69.3 502.6h0M70.6 497.4h0M75.3 498.6h0M61.8 507.4h0M72.7 498.6h0M74.1 506.0h0M72.9 495.6h0M70.4 496.3h0M66.5 498.6h0M65.4 503.7h0M65.7 504.3h0M70.3 498.4h0M70.3 504.6h0M75.0 500.0h0M77.9 504.1h0M75.5 494.7h0M64.4 507.2h0M68.4 503.6h0M75.3 494.3h0M71.7 510.7h0M73.4 501.7h0M72.2 501.3h0M73.2 507.6h0M68.4 504.1h0M71.0 504.9h0M73.5 496.1h0M75.1 505.5h0M64.2 499.9h0M62.4 499.9h0M71.1 495.7h0M65.8 497.0h0M66.1 497.5h0M64.3 504.1h0M68.5 497.3h0M74.3 498.6h0M73.8 495.3h0M76.3 499.1h0M64.9 503.3h0M63.0 496.1h0M70.6 499.0h0M71.4 502.0h0M70.7 501.9h0M72.9 501.3h0M74.8 505.9h0M60.0 492.8h0M77.0 499.1h0M70.4 500.7h0M70.8 512.0h0M66.1 501.6h0M69.5 496.1h0M65.3 500.0h0M69.4 503.1h0M60.0 493.7h0M77.4 500.4h0M73.5 499.3h0M66.1 511.5h0M63.5 496.9h0M72.7 501.4h0M61.6 502.0h0M73.0 493.9h0M66.8 505.1h0M78.7 490.1h0M66.2 501.4h0M65.1 496.9h0M67.1 503.8h0M64.3 505.5h0M73.5 505.4h0M76.9 498.8h0M69.2 506.1h0M75.6 505.8h0M67.3 498.9h0M63.1 499.2h0M65.2 498.9h0M67.6 505.3h0M73.6 501.0h0M64.0 501.0h0M71.6 505.4h0M70.5 505.2h0M66.3 504.4h0M73.0 499.6h0M65.8 507.2h0M64.7 504.6h0M68.2 499.6h0M68.3 499.1h0M69.3 509.8h0M76.5 500.6h0M71.7 505.6h0M67.4 510.1h0M69.6 504.3h0M64.9 495.9h0M64.7 498.2h0M74.4 499.7h0M73.7 499.3h0M64.9 502.1h0M67.6 493.3h0M69.7 507.0h0M68.5 495.5h0M65.8 495.4h0M68.3 496.7h0M68.9 502.1h0M75.8 495.7h0M59.6 509.1h0M71.6 499.5h0M71.9 496.8h0M67.8 504.5h0M68.0 501.9h0M71.6 501.8h0M68.3 503.7h0M75.8 507.4h0M65.2 504.9h0M60.3 494.5h0M71.4 503.8h0M76.0 493.0h0M74.7 498.7h0M67.2 503.4h0M76.2 496.7h0M61.2 498.4h0M68.9 507.0h0M71.2 499.8h0M67.0 499.0h0M74.1 493.3h0M66.1 497.1h0M74.9 501.9h0M66.2 504.9h0M78.8 506.2h0M63.2 500.2h0M74.9 492.6h0M63.6 499.3h0M72.0 497.3h0M70.2 500.5h0M71.0 495.5h0M58.8 490.9h0M70.2 505.9h0M71.7 493.5h0M61.1 499.8h0M65.0 492.4h0M66.6 497.4h0M68.8 503.0h0M70.3 502.1h0M71.9 500.7h0M67.2 499.5h0M75.1 499.9h0M73.3 509.2h0M77.8 490.9h0M70.1 505.9h0M67.2 497.8h0M62.5 498.0h0M69.4 492.2h0M69.3 497.2h0M69.5 496.0h0M69.8 502.0h0M66.1 498.0h0M73.9 504.2h0M65.6 503.3h0M63.8 498.7h0M55.4 498.5h0M72.6 498.8h0M72.2 498.1h0M70.8 500.5h0M64.7 511.2h0M65.3 494.7h0M70.0 503.4h0M71.0 500.7h0M71.6 505.6h0M72.3 494.5h0M77.6 501.0h0M59.5 505.2h0M68.7 502.5h0M78.9 498.6h0M66.4 496.5h0M70.3 504.3h0M71.2 502.0h0M59.2 502.4h0M74.6 498.7h0M66.8 496.3h0M70.5 493.7h0M78.5 500.2h0M66.5 495.3h0M72.0 505.8h0M66.7 502.0h0M70.8 505.8h0M72.3 507.1h0M67.0 495.8h0M64.9 503.0h0M75.3 497.5h0M67.7 498.9h0M66.5 500.4h0M66.4 506.8h0M71.0 504.2h0M68.6 495.6h0M71.5 499.3h0M78.9 507.1h0M63.6 496.4h0M66.7 500.2h0M74.9 500.3h0M71.6 499.6h0M68.3 507.1h0M69.4 510.6h0M69.2 503.0h0M71.3 504.4h0M78.6 497.9h0M66.9 496.7h0M78.1 503.4h0M71.6 503.4h0M60.5 504.9h0M70.0 502.7h0M69.8 500.8h0M69.0 498.5h0M68.3 504.2h0M59.3 505.2h0M72.5 496.1h0M71.8 502.7h0M66.9 509.3h0M70.2 500.6h0M63.1 511.6h0M70.4 502.7h0M68.3 511.1h0M68.7 508.7h0M74.5 505.9h0M72.4 506.7h0M68.8 491.3h0M56.5 506.5h0M59.5 507.6h0M84.2 492.1h0M72.3 503.5h0M66.0 491.7h0M69.0 509.3h0M68.9 501.2h0M69.8 501.4h0M70.8 512.2h0M65.2 492.5h0M73.4 498.7h0M67.0 494.5h0M68.5 499.1h0M71.4 499.3h0M62.4 503.6h0M69.0 492.1h0M67.8 504.8h0M69.1 499.6h0M72.2 498.1h0M66.1 503.7h0M68.6 498.2h0M70.5 502.4h0M73.9 506.0h0M69.8 501.1h0M64.9 502.2h0M67.7 505.2h0M73.2 504.3h0M69.1 502.8h0M76.6 509.4h0M66.6 487.7h0M72.4 493.9h0M69.6 503.4h0M76.6 500.4h0M68.8 498.5h0M70.8 495.4h0M72.1 502.8h0M75.9 499.7h0M71.0 502.2h0M69.3 496.6h0M66.7 501.5h0M71.8 506.2h0M66.5 502.5h0M72.3 505.3h0M70.6 502.2h0M67.8 501.4h0M68.5 492.9h0M66.0 489.8h0M71.8 505.4h0M67.7 502.0h0M70.2 500.0h0M76.5 500.3h0M71.0 500.9h0M79.0 493.4h0M70.4 494.9h0M66.0 496.7h0M73.1 496.1h0M64.6 499.7h0M64.9 496.5h0M77.0 498.1h0M65.6 507.8h0M69.9 506.6h0M61.7 499.8h0M71.7 502.3h0M72.0 507.2h0M72.2 506.5h0M73.0 497.7h0M70.4 507.5h0M64.9 503.8h0M72.5 507.6h0M62.0 501.3h0M81.6 494.8h0M80.2 502.6h0M78.6 508.2h0M70.2 497.5h0M68.0 495.1h0M62.9 503.1h0M62.5 503.0h0M69.1 500.6h0M64.5 495.3h0M73.3 496.7h0M66.7 500.4h0M72.7 510.7h0M78.8 505.0h0M72.7 504.4h0M68.5 500.3h0M61.2 503.9h0M67.1 503.1h0M80.2 505.4h0M75.0 505.5h0M66.8 498.1h0M62.5 498.5h0M70.2 504.6h0M72.2 499.6h0M64.0 501.5h0M70.9 491.8h0M69.9 494.4h0M67.3 500.6h0M64.7 498.8h0M69.5 496.4h0M72.7 504.4h0M72.0 496.2h0M68.5 499.7h0M70.0 504.8h0M66.9 501.3h0M73.4 499.7h0M72.9 501.1h0M62.7 501.0h0M70.1 499.2h0M78.6 499.4h0M62.4 500.5h0M68.3 503.7h0M81.5 501.9h0M73.3 497.8h0M64.9 497.8h0M68.5 499.1h0M69.4 498.1h0M63.7 497.5h0M73.1 495.7h0M73.1 509.0h0M65.0 505.5h0M73.4 488.5h0M73.5 504.3h0M65.6 509.6h0M60.9 507.4h0M70.7 496.3h0M69.9 493.9h0M72.3 503.8h0M75.3 507.9h0M66.1 503.6h0M66.4 487.3h0M74.0 506.8h0M70.4 509.5h0M69.1 492.9h0M67.2 499.9h0M70.7 499.2h0M58.7 495.2h0M68.7 506.6h0M66.2 494.9h0M67.1 505.6h0M75.3 496.5h0M72.6 507.5h0M73.2 495.9h0M72.3 498.8h0M66.9 510.4h0M69.2 503.6h0M75.2 509.1h0M70.7 498.2h0M69.1 497.9h0M68.8 500.6h0M62.2 497.4h0M62.6 500.9h0M73.2 504.7h0M70.3 496.6h0M69.0 494.6h0M72.1 493.7h0M66.3 509.5h0M71.4 496.5h0M68.3 496.2h0M65.5 499.1h0M65.3 502.1h0M74.5 497.0h0M64.9 497.3h0M66.4 501.8h0M66.2 496.9h0M66.1 505.9h0M74.0 506.2h0M70.2 496.6h0M76.0 511.8h0M66.2 498.2h0M74.6 504.5h0M71.3 511.2h0M68.5 497.3h0M67.6 502.2h0M70.3 507.2h0M73.0 497.7h0M72.9 500.2h0M76.6 506.7h0M66.5 503.8h0M63.1 503.4h0M69.7 503.3h0M63.5 497.1h0M66.7 500.1h0M72.6 497.2h0M59.7 498.5h0M73.0 505.3h0M63.2 504.3h0M69.8 504.6h0M70.2 507.2h0M65.9 511.5h0M74.6 495.5h0M61.8 506.1h0M61.8 497.3h0M71.6 500.4h0M70.0 490.7h0M65.7 503.6h0M79.3 503.1h0M69.5 501.7h0M74.2 504.2h0M65.0 491.6h0M68.2 499.2h0M78.1 497.0h0M72.9 491.5h0M73.0 494.8h0M69.4 500.1h0M69.7 501.1h0M63.7 503.9h0M64.9 500.8h0M65.1 500.9h0M68.7 500.1h0M65.4 506.9h0M68.4 501.4h0M58.7 503.9h0M61.6 500.0h0M59.3 510.1h0M60.7 499.7h0M63.1 494.8h0M60.7 508.0h0M79.5 500.3h0M73.1 498.6h0M63.9 509.7h0M72.2 495.4h0M68.6 500.8h0M67.7 500.5h0M65.9 500.5h0M67.1 499.3h0M65.4 508.4h0M67.0 499.9h0M70.3 501.0h0M62.8 505.1h0M63.2 497.7h0M71.1 499.9h0M65.6 500.9h0M64.9 498.0h0M63.4 494.8h0M64.3 501.0h0M66.6 500.1h0M73.4 498.6h0M60.1 501.2h0M77.6 486.8h0M67.8 495.4h0M61.8 504.7h0M68.8 500.6h0M62.7 498.3h0M63.6 508.1h0M68.8 491.1h0M67.5 507.9h0M65.2 499.5h0M68.7 503.1h0M71.3 497.8h0M67.2 504.1h0M64.0 499.1h0M70.6 499.6h0M64.3 508.7h0M69.8 499.4h0M55.0 506.1h0M73.5 500.6h0M69.1 496.8h0M78.7 505.1h0M79.9 511.7h0M60.3 503.9h0M59.1 502.6h0M69.2 498.1h0M72.2 501.5h0M67.5 499.7h0M73.5 503.2h0M73.2 502.5h0M66.9 498.6h0M70.2 497.5h0M66.1 504.8h0M70.2 499.9h0M70.1 499.1h0M75.3 500.0h0M69.3 495.3h0M65.8 494.7h0M71.2 503.6h0M72.1 499.3h0M69.4 502.7h0M67.4 492.9h0M78.6 503.3h0M73.5 504.8h0M65.7 500.8h0M66.8 506.1h0M70.1 497.5h0M69.1 503.3h0M79.2 496.5h0M70.6 506.8h0M72.3 498.1h0M69.1 501.5h0M73.8 505.9h0M59.7 501.3h0M65.7 502.4h0M67.2 502.7h0M62.0 502.0h0M71.8 506.9h0M76.7 501.0h0M66.4 507.4h0M71.1 502.6h0M72.0 494.1h0M64.9 496.8h0M63.9 508.5h0M60.4 500.3h0M68.9 496.8h0M71.1 497.0h0M62.4 494.9h0M75.7 499.1h0M70.2 503.8h0M71.3 497.5h0M73.1 506.1h0M62.5 505.0h0M71.8 506.3h0M72.1 500.3h0M65.6 504.2h0M71.1 503.1h0M66.9 506.7h0M73.7 506.3h0M66.4 504.0h0M74.0 494.7h0M65.8 502.4h0M62.4 500.7h0M69.8 494.0h0M72.1 501.1h0M75.3 501.0h0M66.9 500.9h0M71.3 492.4h0M67.9 504.6h0M73.0 502.9h0M64.1 500.7h0M71.5 501.2h0M70.1 510.1h0M78.6 499.0h0M64.8 501.3h0M75.7 496.2h0M64.8 495.2h0M74.7 498.9h0M69.0 508.9h0M72.4 499.6h0M63.2 506.5h0M69.8 499.6h0M70.5 497.7h0M70.4 502.2h0M64.2 502.4h0M72.3 508.1h0M73.6 511.2h0M73.6 501.1h0M71.1 501.4h0M64.9 500.1h0M70.2 496.3h0M69.2 503.9h0M77.4 500.7h0M67.9 498.0h0M61.7 503.9h0M67.0 498.0h0M64.1 508.2h0M75.8 503.4h0M67.7 495.5h0M59.0 497.5h0M65.7 508.3h0M68.0 493.3h0M76.0 504.1h0M67.5 502.9h0M72.5 499.0h0M65.3 502.0h0M72.3 503.7h0M64.1 496.6h0M69.3 498.3h0M68.0 510.0h0M61.5 499.9h0M64.4 502.3h0M78.3 503.0h0M75.6 496.8h0M70.7 507.7h0M67.6 497.6h0M62.1 508.2h0M68.8 507.7h0M70.3 501.4h0M73.2 502.2h0M75.0 498.4h0M66.6 501.4h0M66.9 500.2h0M73.2 502.9h0M68.9 509.5h0M63.0 498.4h0M68.4 505.8h0M72.3 503.7h0M76.4 500.8h0M65.8 506.9h0M76.7 496.4h0M66.5 500.7h0M71.0 501.7h0M72.9 493.5h0M66.9 493.8h0M73.3 506.0h0M70.5 501.2h0M68.9 500.7h0M65.5 503.4h0M72.3 497.8h0M71.3 508.1h0M76.9 512.1h0M82.4 494.2h0M67.1 499.0h0M71.6 508.3h0M62.3 503.9h0M70.9 507.1h0M71.7 498.0h0M70.6 498.8h0M68.6 499.9h0M69.4 503.0h0M71.2 506.7h0M72.6 493.0h0M72.4 499.2h0M74.0 499.2h0M65.4 494.5h0M68.8 505.0h0M65.3 502.8h0M68.0 491.6h0M68.5 499.8h0M71.7 493.3h0M72.4 500.8h0M73.7 499.1h0M66.3 500.0h0M69.3 506.1h0M65.9 499.7h0M64.5 499.4h0M70.6 507.9h0M68.8 502.3h0M69.6 506.1h0M68.0 499.9h0M70.8 499.8h0M70.4 500.7h0M67.8 505.2h0M68.3 499.3h0M71.7 509.7h0M76.0 491.3h0M82.1 493.0h0M72.0 505.4h0M82.2 484.1h0M74.4 499.1h0M77.6 492.9h0M78.0 478.4h0M73.0 499.2h0M75.8 488.2h0M66.4 509.5h0M81.9 489.9h0M81.2 498.0h0M87.5 476.1h0M67.0 482.5h0M70.5 506.4h0M63.9 482.9h0M70.9 508.8h0M83.0 498.3h0M83.9 482.7h0M72.2 490.0h0M71.6 503.7h0M73.6 488.5h0M61.0 499.7h0M69.5 491.2h0M82.4 493.0h0M82.6 498.4h0M72.0 495.1h0M86.1 478.3h0M79.5 496.7h0M76.0 492.2h0M81.5 495.8h0M74.8 491.2h0M61.1 500.6h0M65.8 493.3h0M62.6 491.2h0M69.0 498.3h0M60.1 492.5h0M86.5 492.5h0M71.8 498.1h0M74.5 496.6h0M74.1 484.3h0M64.1 507.9h0M74.4 486.3h0M85.2 488.7h0M81.0 500.8h0M89.4 492.3h0M75.3 488.9h0M74.3 490.5h0M84.4 495.5h0M79.0 499.1h0M70.9 506.8h0M68.7 480.3h0M78.0 497.9h0M74.6 486.2h0M84.2 493.7h0M80.9 501.4h0M72.2 498.2h0M66.2 481.6h0M79.7 495.0h0M70.1 496.9h0M81.1 487.0h0M80.1 492.4h0M78.6 497.3h0M57.5 494.6h0M70.2 503.4h0M81.5 486.2h0M69.2 509.4h0M67.4 490.8h0M73.9 488.3h0M80.6 493.2h0M74.2 508.6h0M76.0 496.1h0M89.3 493.1h0M56.3 506.3h0M74.4 498.0h0M85.7 498.9h0M60.1 503.5h0M81.1 486.0h0M90.8 491.4h0M78.1 483.8h0M60.5 500.7h0M74.2 495.4h0M81.3 486.5h0M73.5 509.5h0M78.7 485.7h0M57.6 472.7h0M65.3 499.2h0M77.4 490.1h0M70.4 491.1h0M75.0 506.8h0M93.2 489.5h0M62.2 483.3h0M75.7 483.5h0M72.8 497.2h0M81.8 481.0h0M74.9 499.9h0M80.2 488.2h0M79.6 495.7h0M63.9 486.2h0M79.3 503.3h0M62.2 495.1h0M87.2 497.6h0M78.4 493.5h0M56.6 495.3h0M61.8 487.1h0M76.5 482.4h0M87.0 474.6h0M74.7 489.5h0M76.9 501.2h0M65.3 497.5h0M79.0 482.9h0M88.5 472.0h0M81.2 491.0h0M77.7 491.1h0M72.9 498.5h0M66.5 491.2h0M79.7 473.7h0M76.9 487.2h0M49.6 490.3h0M69.5 501.6h0M83.8 486.6h0M84.3 487.7h0M76.7 494.0h0M78.7 480.9h0M65.8 511.4h0M76.2 495.3h0M84.1 490.5h0M79.9 502.6h0M81.9 486.8h0M74.6 490.1h0M70.9 490.5h0M76.3 484.2h0M72.9 501.5h0M82.4 501.9h0M70.6 496.9h0M77.1 500.2h0M76.0 497.7h0M61.4 498.7h0M85.9 486.1h0M81.7 498.3h0M73.6 487.8h0M74.8 490.5h0M74.6 494.2h0M86.0 496.7h0M82.7 481.5h0M81.8 500.1h0M68.2 493.2h0M91.1 488.9h0M79.0 487.3h0M89.3 492.8h0M76.5 494.9h0M79.3 490.1h0M81.1 501.6h0M66.8 487.0h0M89.8 498.9h0M73.2 499.0h0M73.0 488.9h0M70.8 499.4h0M63.3 503.9h0M60.0 503.6h0M68.9 500.2h0M71.3 494.7h0M77.6 495.7h0M79.9 496.0h0M90.3 499.6h0M80.8 491.3h0M85.7 490.6h0M78.1 484.1h0M69.1 507.1h0M61.3 495.2h0M70.5 490.0h0M81.6 492.0h0M84.0 500.7h0M74.8 491.0h0M64.1 496.1h0M70.3 498.8h0M87.5 484.2h0M68.7 482.0h0M84.4 478.7h0M70.9 483.9h0M81.5 490.2h0M74.2 506.9h0M87.4 487.4h0M72.4 497.2h0M72.6 499.9h0M69.1 491.8h0M82.3 503.9h0M68.5 506.8h0M82.1 494.7h0M79.7 495.9h0M59.3 503.9h0M59.3 504.0h0M74.3 496.6h0M74.8 487.5h0M77.4 504.2h0M83.5 487.3h0M68.9 497.2h0M82.4 491.5h0M81.5 499.2h0M80.6 494.3h0M75.1 495.3h0M72.9 487.2h0M65.1 487.1h0M68.0 488.2h0M83.0 498.9h0M74.2 499.8h0M74.8 478.2h0M76.9 477.1h0M58.8 494.5h0M57.4 492.8h0M78.5 496.1h0M82.9 492.7h0M83.5 486.4h0M77.8 503.4h0M75.1 503.9h0M66.7 485.8h0M65.9 495.3h0M77.4 495.1h0M82.3 493.1h0M76.2 478.4h0M84.6 499.7h0M72.5 501.3h0M79.3 483.8h0M56.0 500.3h0M76.3 499.5h0M81.3 493.7h0M72.4 492.2h0M70.2 496.8h0M72.0 495.4h0M66.1 491.6h0M75.8 488.1h0M84.5 495.8h0M76.4 511.7h0M59.3 491.0h0M61.7 494.8h0M79.3 500.8h0M82.9 500.2h0M61.7 509.0h0M61.0 495.3h0M99.0 473.1h0M96.4 472.2h0M97.3 475.7h0M100.4 474.7h0M97.3 475.7h0M101.2 477.5h0M99.9 475.9h0M101.7 475.3h0M100.9 474.7h0M101.6 472.4h0M95.7 473.2h0M97.1 474.0h0M103.2 474.6h0M98.9 474.7h0M101.6 472.3h0M98.8 473.0h0M101.2 476.9h0M100.0 475.6h0M103.6 473.2h0M100.0 471.2h0M100.2 474.8h0M99.0 478.1h0M100.1 473.8h0M97.6 474.4h0M92.5 475.5h0M96.3 475.1h0M101.3 476.9h0M98.0 474.4h0M99.2 475.1h0M97.0 474.8h0M97.3 475.1h0M104.2 474.6h0M103.8 475.8h0M93.4 473.6h0M93.5 475.7h0M95.3 476.5h0M98.6 475.3h0M95.4 471.0h0M96.8 473.8h0M99.5 475.5h0M95.6 475.2h0M97.2 476.7h0M96.6 475.0h0M103.1 475.3h0M101.9 476.1h0M101.6 475.3h0M96.2 477.7h0M103.2 476.9h0M97.9 475.5h0M91.6 475.2h0M96.8 474.1h0M100.9 473.8h0M100.5 471.6h0M95.4 472.7h0M101.7 470.9h0M96.3 477.4h0M94.3 473.8h0M95.7 476.4h0M96.5 475.1h0M96.8 473.8h0M92.4 476.0h0M98.3 473.7h0M100.3 474.1h0M99.0 474.8h0M100.5 473.1h0M101.7 474.9h0M96.7 473.4h0M102.1 474.3h0M94.7 472.5h0M96.2 474.3h0M95.3 477.8h0M95.6 473.1h0M99.6 472.7h0M95.2 476.0h0M102.5 476.6h0M98.9 473.0h0M97.1 473.2h0M99.2 474.7h0M97.5 475.9h0M100.8 472.3h0M102.2 472.7h0M89.0 477.9h0M94.5 473.7h0M93.2 476.5h0M82.9 469.8h0M101.7 470.9h0M88.9 481.0h0M86.5 477.4h0M82.8 480.7h0M84.1 479.7h0M91.3 479.2h0M98.5 473.4h0M84.4 471.7h0M91.9 478.6h0M89.6 476.2h0M99.4 476.0h0M97.1 476.4h0M85.6 473.9h0M90.7 473.7h0M91.6 471.5h0M93.1 477.6h0M102.0 474.5h0M97.0 480.5h0M101.0 475.4h0M83.7 477.2h0M93.7 472.7h0M84.7 471.3h0M98.7 471.5h0M86.5 476.0h0M93.9 475.9h0M85.4 473.2h0M85.8 475.8h0M85.5 476.9h0M99.2 475.5h0M92.7 477.2h0M83.1 476.9h0M93.7 478.9h0M100.9 473.5h0M103.0 474.9h0M96.8 474.6h0M88.9 472.3h0M99.8 474.0h0M96.6 472.9h0M99.7 475.5h0M88.3 476.1h0M88.9 476.9h0M99.1 476.9h0M72.2 492.7h0M82.9 500.5h0M74.5 475.5h0M85.5 485.7h0M75.4 493.1h0M88.7 484.8h0M97.3 484.7h0M90.7 471.3h0M90.3 486.1h0M86.5 493.1h0M91.5 494.0h0M90.8 494.2h0M79.3 473.1h0M81.5 477.4h0M81.2 486.5h0M87.9 492.1h0M88.1 486.7h0M92.6 485.4h0M79.9 496.7h0M82.8 496.1h0M103.1 485.6h0M98.8 498.0h0M86.8 484.7h0M98.9 494.3h0M85.4 498.2h0M86.7 488.7h0M74.3 488.1h0M89.0 478.2h0M94.6 495.5h0M92.5 481.0h0M95.2 501.8h0M103.8 475.8h0M93.1 485.9h0M100.7 485.2h0M89.3 486.3h0M101.9 478.9h0M80.9 482.3h0M82.2 490.3h0M90.0 478.0h0M83.0 482.4h0M89.9 482.1h0M86.8 478.6h0M94.8 484.4h0M94.0 487.4h0M80.3 493.0h0M98.8 483.5h0M89.0 495.6h0M82.4 494.0h0M88.1 498.5h0M78.4 485.9h0M93.2 492.0h0M85.8 482.8h0M89.9 485.9h0M94.4 478.9h0M72.7 483.0h0M97.6 497.7h0M93.6 489.0h0M94.0 503.1h0M93.6 503.3h0M93.1 489.5h0M83.3 488.3h0M85.4 479.8h0M87.1 490.7h0M87.2 493.8h0M84.5 495.5h0M93.2 496.1h0M94.2 486.9h0M90.1 487.0h0M82.5 486.4h0M86.7 494.8h0M85.1 485.9h0M85.4 496.7h0M84.2 492.2h0M100.0 500.8h0M77.0 484.6h0M86.5 484.9h0M97.5 484.6h0M99.9 487.1h0M88.8 488.5h0M84.1 485.2h0M96.0 497.5h0M83.2 477.4h0M95.8 484.6h0M101.2 495.7h0M83.2 500.1h0M80.4 490.5h0M78.3 485.1h0M97.4 484.1h0M84.9 500.5h0M96.0 487.5h0M92.4 490.0h0M91.6 470.4h0M86.0 493.3h0M91.4 499.9h0M86.0 480.4h0M94.1 467.8h0M88.8 498.3h0M95.0 485.1h0M100.2 481.4h0M86.3 478.0h0M82.9 483.1h0M92.1 498.7h0M88.0 501.9h0M95.1 505.6h0M87.9 494.3h0M70.0 502.7h0M83.1 487.3h0M92.2 491.0h0M78.7 488.1h0M97.6 489.3h0M94.1 504.1h0M86.3 495.8h0M91.5 489.9h0M101.2 493.8h0M93.2 484.7h0M89.5 495.7h0M79.9 497.3h0M88.7 491.5h0M89.1 502.2h0M90.1 503.0h0M96.6 486.0h0M91.1 490.1h0M90.2 493.7h0M89.5 483.2h0M90.0 496.3h0M89.1 489.9h0M87.5 488.1h0M97.4 483.0h0M87.5 491.9h0M97.4 488.6h0M84.1 480.1h0M83.3 491.1h0M86.5 480.0h0M87.3 474.9h0M92.4 486.5h0M80.1 480.1h0M81.7 486.1h0M86.3 491.1h0M79.6 480.3h0M92.4 483.9h0M94.2 483.9h0M91.2 476.2h0M81.6 499.3h0M73.4 490.2h0M93.8 489.6h0M103.9 485.4h0M100.5 486.7h0M101.8 485.8h0M98.8 499.5h0M102.8 476.8h0M73.3 483.8h0M90.0 488.9h0M100.6 506.3h0M96.0 487.4h0M103.4 490.7h0M71.1 505.8h0M90.3 487.0h0M80.1 491.9h0M84.1 496.9h0M82.4 502.4h0M93.9 487.7h0M91.9 480.8h0M87.2 491.2h0M96.2 505.8h0M91.2 481.4h0M86.7 485.9h0M88.8 477.1h0M95.3 483.5h0M99.7 498.5h0M93.5 478.5h0M81.3 479.1h0M85.8 489.2h0M97.7 488.3h0M90.8 484.1h0M82.0 491.4h0M82.2 488.9h0M89.4 500.7h0M93.5 509.4h0M95.3 485.6h0M96.5 502.4h0M79.8 501.8h0M103.2 488.2h0M74.9 484.1h0M93.1 490.6h0M93.5 477.1h0M94.1 500.8h0M91.2 482.1h0M87.0 488.6h0M86.8 490.8h0M91.7 493.3h0M87.4 488.1h0M86.3 497.9h0M95.4 487.4h0M91.9 499.8h0M84.1 469.4h0M86.6 490.4h0M90.1 487.6h0M84.3 495.7h0M82.4 473.2h0M77.8 475.9h0M76.6 484.0h0M81.5 475.7h0M70.4 474.2h0M80.1 477.1h0M73.7 475.2h0M75.5 477.5h0M87.3 471.3h0M83.9 473.1h0M70.5 478.3h0M87.5 481.0h0M81.1 480.1h0M76.1 474.8h0M86.9 472.3h0M80.1 477.6h0M64.1 477.8h0M85.0 470.1h0M71.1 477.7h0M72.7 474.0h0M63.0 481.3h0M81.2 474.8h0M78.0 476.5h0M77.8 476.6h0M86.6 473.7h0M82.0 477.5h0M73.5 474.8h0M83.3 476.0h0M71.5 476.2h0M72.3 478.4h0M82.2 474.1h0M81.8 478.2h0M73.6 472.7h0M77.9 480.5h0M92.0 474.6h0M80.5 477.2h0M96.2 478.6h0M61.0 481.0h0M85.7 474.1h0M79.8 474.2h0M57.0 476.8h0M75.8 471.9h0M78.6 475.2h0M80.6 474.6h0M65.6 478.3h0M71.7 473.0h0M86.2 474.7h0M92.8 476.0h0" stroke="#0a0a0a" stroke-width="1.3" stroke-linecap="round" fill="none"/>
<rect x="42.5" y="453.8" width="62.9" height="59.7" fill="none" stroke="#161616" stroke-width="1.3"/>
<path d="M78.4 453.8V513.5M42.5 477.9H105.4" stroke="#161616" stroke-width="1.05" fill="none"/>
<text x="45.5" y="466.5" font-size="11.5" textLength="6.5" lengthAdjust="spacingAndGlyphs" stroke="#000" stroke-width=".5">1</text>
<text x="102.0" y="466.5" font-size="11.5" text-anchor="end" textLength="6.5" lengthAdjust="spacingAndGlyphs" stroke="#000" stroke-width=".5">6</text>
<text x="45.8" y="491.0" font-size="11.5" textLength="13.7" lengthAdjust="spacingAndGlyphs" stroke="#000" stroke-width=".5">81</text>
<text x="101.7" y="509.2" font-size="11.5" text-anchor="end" textLength="13.7" lengthAdjust="spacingAndGlyphs" stroke="#000" stroke-width=".5">12</text>
<clipPath id="clipb2"><rect x="0" y="0" width="109.6" height="787"/></clipPath>
<g font-size="6.9" font-weight="bold" fill="#000" stroke="#000" stroke-width=".35" clip-path="url(#clipb2)">
<text x="45.1" y="520.3" textLength="8.0" lengthAdjust="spacingAndGlyphs">10<tspan dy="-1.9" font-size="5.4">0</tspan></text>
<text x="60.0" y="520.3" textLength="8.0" lengthAdjust="spacingAndGlyphs">10<tspan dy="-1.9" font-size="5.4">1</tspan></text>
<text x="74.6" y="520.3" textLength="8.0" lengthAdjust="spacingAndGlyphs">10<tspan dy="-1.9" font-size="5.4">2</tspan></text>
<text x="90.0" y="520.3" textLength="8.0" lengthAdjust="spacingAndGlyphs">10<tspan dy="-1.9" font-size="5.4">3</tspan></text>
<text x="105.4" y="520.3" textLength="8.0" lengthAdjust="spacingAndGlyphs">10<tspan dy="-1.9" font-size="5.4">4</tspan></text>
<text x="40.6" y="513.6" textLength="8.6" lengthAdjust="spacingAndGlyphs" transform="rotate(-90 40.6 513.6)">10<tspan dy="-1.9" font-size="5.4">0</tspan></text>
<text x="40.6" y="498.7" textLength="8.6" lengthAdjust="spacingAndGlyphs" transform="rotate(-90 40.6 498.7)">10<tspan dy="-1.9" font-size="5.4">1</tspan></text>
<text x="40.6" y="483.8" textLength="8.6" lengthAdjust="spacingAndGlyphs" transform="rotate(-90 40.6 483.8)">10<tspan dy="-1.9" font-size="5.4">2</tspan></text>
<text x="40.6" y="468.8" textLength="8.6" lengthAdjust="spacingAndGlyphs" transform="rotate(-90 40.6 468.8)">10<tspan dy="-1.9" font-size="5.4">3</tspan></text>
<text x="40.6" y="453.9" textLength="8.6" lengthAdjust="spacingAndGlyphs" transform="rotate(-90 40.6 453.9)">10<tspan dy="-1.9" font-size="5.4">4</tspan></text>
</g>
</g>
<g id="b3">
<path d="M175.2 509.1h0M167.7 494.8h0M175.9 504.7h0M176.5 504.1h0M172.8 499.6h0M170.2 502.3h0M173.5 507.1h0M175.7 495.7h0M177.7 501.3h0M181.6 507.9h0M174.8 493.3h0M175.6 494.2h0M181.2 497.2h0M175.7 511.1h0M165.8 504.8h0M168.5 501.3h0M171.3 506.6h0M173.3 504.4h0M175.3 493.5h0M180.9 499.4h0M165.4 501.5h0M179.9 505.9h0M171.1 503.8h0M176.9 506.9h0M175.0 507.2h0M169.1 500.2h0M178.6 504.9h0M174.9 505.3h0M176.4 505.7h0M180.8 503.3h0M177.9 499.4h0M168.7 492.0h0M176.5 502.0h0M174.7 492.8h0M171.3 500.4h0M166.7 509.1h0M178.8 494.8h0M178.8 510.0h0M169.7 508.7h0M184.6 509.1h0M166.3 499.2h0M177.0 507.8h0M167.2 500.5h0M170.3 509.1h0M172.4 505.8h0M179.1 507.0h0M176.9 503.4h0M180.7 503.1h0M167.5 501.5h0M179.1 501.9h0M173.0 504.0h0M190.7 497.8h0M177.4 503.9h0M174.6 508.4h0M179.2 503.2h0M169.3 510.2h0M178.1 501.0h0M161.0 505.7h0M168.1 502.9h0M170.8 499.1h0M179.6 501.6h0M179.3 496.2h0M175.2 509.1h0M175.1 498.5h0M169.2 500.7h0M174.9 505.8h0M176.1 505.8h0M178.7 501.8h0M181.7 504.2h0M173.3 501.8h0M173.4 498.9h0M167.8 504.3h0M172.6 505.9h0M171.6 503.6h0M174.8 499.9h0M174.4 498.7h0M173.3 506.8h0M176.3 501.8h0M171.4 506.7h0M181.5 489.4h0M179.9 502.0h0M181.3 506.5h0M171.6 512.0h0M171.1 502.0h0M177.4 501.1h0M175.0 499.6h0M169.2 503.8h0M170.7 510.2h0M177.4 508.7h0M165.5 494.1h0M162.6 503.6h0M168.4 505.8h0M165.4 497.7h0M175.2 500.1h0M178.7 505.3h0M174.6 496.1h0M173.6 504.1h0M174.9 502.1h0M172.8 499.9h0M169.2 493.5h0M182.5 499.6h0M168.5 506.6h0M175.8 494.6h0M173.7 510.2h0M177.6 503.7h0M179.1 500.4h0M174.9 510.3h0M173.3 502.2h0M177.6 501.7h0M176.3 511.0h0M175.7 497.4h0M181.8 499.5h0M170.1 503.4h0M164.2 507.1h0M170.4 502.1h0M170.8 506.8h0M177.5 507.0h0M182.9 501.5h0M175.2 503.7h0M169.6 500.8h0M177.0 497.3h0M164.3 503.3h0M177.5 509.0h0M169.6 498.9h0M174.6 501.5h0M174.9 499.6h0M174.6 499.3h0M179.6 502.4h0M176.6 499.5h0M167.3 504.3h0M175.5 507.6h0M179.0 500.9h0M172.8 497.7h0M174.4 503.4h0M170.9 497.8h0M179.5 496.3h0M184.0 505.7h0M180.8 496.3h0M175.6 494.9h0M170.6 495.6h0M170.0 500.9h0M180.4 506.2h0M172.1 501.5h0M168.2 498.2h0M165.2 503.6h0M176.2 497.9h0M174.6 496.4h0M168.6 501.1h0M177.9 498.7h0M177.6 499.6h0M166.3 494.3h0M170.7 498.4h0M179.2 503.2h0M167.3 508.4h0M173.2 487.9h0M169.4 504.8h0M165.5 501.0h0M177.1 502.8h0M177.2 504.6h0M179.4 511.6h0M173.6 505.3h0M175.7 501.1h0M176.0 503.1h0M178.6 502.7h0M175.1 504.5h0M181.3 500.7h0M177.3 502.1h0M163.5 500.6h0M168.0 497.0h0M168.9 494.8h0M174.8 499.4h0M180.6 502.5h0M167.7 502.9h0M173.5 499.0h0M171.1 497.7h0M171.0 504.5h0M174.1 508.3h0M162.9 501.3h0M174.2 509.6h0M180.5 504.3h0M180.9 508.4h0M177.1 500.3h0M174.1 498.6h0M173.5 504.2h0M171.8 503.3h0M170.4 496.7h0M168.0 507.3h0M175.3 506.0h0M173.6 502.3h0M174.9 500.3h0M182.0 505.1h0M174.7 496.8h0M171.7 503.8h0M179.6 500.5h0M174.5 504.6h0M174.4 501.3h0M170.1 509.3h0M173.1 499.8h0M171.8 496.1h0M163.6 496.0h0M174.1 495.5h0M173.0 496.5h0M164.5 501.5h0M169.4 499.8h0M182.4 500.8h0M172.1 506.9h0M173.8 508.1h0M167.6 509.1h0M167.7 500.1h0M173.5 496.8h0M165.4 502.3h0M170.3 494.8h0M177.5 497.0h0M170.5 501.8h0M175.3 506.9h0M163.4 504.8h0M178.3 502.0h0M172.0 497.0h0M174.8 499.3h0M173.1 496.9h0M172.0 501.8h0M167.9 508.7h0M171.5 496.2h0M172.7 502.9h0M170.8 497.7h0M170.9 496.0h0M167.1 509.6h0M184.3 508.4h0M186.3 505.4h0M168.5 500.6h0M178.4 498.4h0M172.0 502.4h0M174.0 495.1h0M174.5 504.2h0M165.2 509.9h0M176.4 497.2h0M183.1 501.6h0M177.9 508.6h0M161.3 505.4h0M180.6 507.2h0M173.3 501.2h0M169.6 501.4h0M166.6 492.0h0M169.6 498.1h0M170.2 500.7h0M171.5 503.1h0M172.9 500.4h0M170.6 502.3h0M172.0 501.8h0M180.7 501.3h0M169.2 493.0h0M163.0 490.2h0M179.3 506.0h0M171.2 500.4h0M176.7 504.0h0M165.0 503.1h0M170.6 496.6h0M181.5 503.6h0M170.7 502.6h0M170.4 500.4h0M173.1 507.2h0M173.1 499.8h0M170.7 504.1h0M167.5 495.6h0M175.0 509.5h0M170.6 503.6h0M174.3 507.9h0M174.4 495.5h0M182.1 499.8h0M168.6 500.8h0M175.3 506.9h0M171.4 498.9h0M182.1 507.6h0M172.1 503.1h0M175.1 500.1h0M170.6 508.0h0M166.1 494.9h0M178.0 506.6h0M176.7 497.4h0M171.1 497.3h0M168.1 491.3h0M171.2 509.5h0M170.2 511.5h0M172.1 492.7h0M177.1 496.3h0M176.2 500.5h0M171.8 501.6h0M166.4 500.2h0M174.0 510.8h0M171.3 504.3h0M177.4 507.1h0M172.8 503.3h0M166.8 505.1h0M172.3 503.2h0M170.6 500.6h0M179.7 505.2h0M173.2 501.5h0M174.5 501.4h0M176.8 505.0h0M174.1 494.1h0M172.2 497.1h0M175.6 500.1h0M175.1 501.2h0M180.0 507.1h0M172.8 494.9h0M176.3 511.3h0M170.4 502.6h0M187.7 506.7h0M177.2 502.3h0M169.4 511.4h0M176.1 493.0h0M173.1 501.6h0M172.7 499.1h0M184.7 494.8h0M181.7 503.1h0M174.4 504.1h0M176.4 497.5h0M173.5 508.2h0M178.9 502.7h0M166.0 496.0h0M182.9 506.9h0M176.8 503.2h0M172.9 504.8h0M180.6 504.1h0M171.7 504.5h0M171.2 502.4h0M165.6 492.5h0M169.0 504.3h0M170.7 505.6h0M171.5 504.2h0M173.4 509.4h0M172.0 502.7h0M181.2 507.5h0M170.1 510.4h0M167.5 499.0h0M171.1 507.9h0M169.5 506.2h0M175.7 500.7h0M178.7 511.1h0M180.6 496.1h0M174.7 499.9h0M172.6 499.8h0M175.5 497.4h0M168.0 503.9h0M177.0 507.3h0M176.1 497.2h0M169.9 504.8h0M176.1 505.1h0M177.5 490.0h0M171.6 505.5h0M170.8 511.2h0M174.2 505.0h0M173.4 504.0h0M176.5 504.1h0M164.9 495.1h0M174.5 505.9h0M172.5 501.7h0M179.9 503.8h0M169.6 504.1h0M173.0 502.7h0M174.3 504.9h0M174.3 503.7h0M173.8 501.1h0M171.5 504.1h0M178.1 508.9h0M185.1 495.8h0M172.1 507.8h0M172.1 503.3h0M168.6 506.5h0M168.2 508.7h0M170.2 504.3h0M177.7 497.0h0M176.0 512.1h0M167.4 504.5h0M164.8 506.3h0M171.8 497.2h0M169.8 509.4h0M175.7 495.7h0M176.7 496.8h0M170.6 505.0h0M174.1 504.7h0M178.4 497.8h0M177.0 502.8h0M167.0 507.9h0M177.1 494.5h0M173.6 507.1h0M177.8 499.3h0M172.5 501.0h0M168.2 504.2h0M182.3 492.9h0M172.6 497.8h0M179.2 492.6h0M178.8 503.0h0M169.5 501.8h0M176.4 510.0h0M176.8 507.3h0M179.2 501.2h0M174.1 501.8h0M183.5 506.1h0M177.9 497.9h0M173.6 506.1h0M171.4 496.1h0M167.3 506.2h0M178.3 503.6h0M179.5 492.9h0M165.5 505.0h0M177.1 497.1h0M175.6 503.3h0M170.6 498.8h0M172.2 502.1h0M177.1 499.8h0M167.9 498.4h0M172.3 505.0h0M169.3 501.5h0M176.7 502.6h0M184.4 501.7h0M179.5 511.1h0M162.7 496.5h0M170.2 503.7h0M180.4 503.7h0M169.5 496.1h0M175.3 500.4h0M167.6 497.5h0M176.8 499.8h0M174.6 501.3h0M169.5 500.8h0M170.6 502.5h0M171.1 505.7h0M169.2 504.4h0M175.0 504.6h0M159.9 508.8h0M174.7 499.4h0M171.4 500.5h0M173.0 504.1h0M167.1 501.3h0M161.8 504.4h0M169.0 502.9h0M176.9 507.5h0M172.0 496.6h0M171.5 505.0h0M178.9 487.9h0M166.2 500.0h0M173.1 504.8h0M180.6 502.6h0M179.2 496.8h0M167.1 495.1h0M170.0 505.7h0M175.4 510.9h0M170.1 497.3h0M172.9 491.4h0M177.2 502.1h0M166.6 505.5h0M175.3 506.9h0M170.7 499.2h0M172.5 500.8h0M168.8 507.0h0M176.4 496.8h0M168.5 497.1h0M169.4 498.8h0M173.3 504.5h0M178.6 495.1h0M167.3 496.9h0M173.2 505.0h0M168.1 502.4h0M165.8 496.0h0M170.8 505.8h0M168.4 493.5h0M167.1 501.1h0M180.4 493.2h0M187.2 502.1h0M179.6 503.9h0M160.3 505.6h0M174.2 503.3h0M178.5 499.3h0M169.1 504.6h0M173.8 503.2h0M170.2 501.7h0M157.8 506.3h0M177.7 500.5h0M173.0 504.4h0M170.8 500.8h0M183.2 507.3h0M163.3 501.0h0M175.1 504.6h0M166.3 500.4h0M177.5 506.3h0M167.9 501.3h0M172.9 507.2h0M175.8 502.9h0M183.1 502.9h0M175.6 508.9h0M182.9 506.3h0M182.7 501.2h0M162.8 502.8h0M174.2 501.4h0M177.5 502.2h0M183.7 502.0h0M179.6 506.3h0M180.1 497.7h0M180.6 499.9h0M165.9 512.7h0M176.5 507.4h0M169.3 506.4h0M181.1 499.6h0M161.9 505.4h0M175.0 501.1h0M175.0 500.1h0M177.3 503.1h0M170.9 506.9h0M176.1 500.5h0M169.1 498.6h0M187.9 510.0h0M177.0 498.8h0M176.3 497.3h0M166.0 493.9h0M169.9 499.4h0M179.3 502.3h0M169.8 501.2h0M172.8 501.8h0M175.0 507.3h0M166.4 504.8h0M175.2 505.6h0M172.3 498.4h0M179.1 506.2h0M171.3 508.0h0M185.7 496.3h0M173.8 489.1h0M173.8 497.5h0M175.7 500.4h0M176.6 506.9h0M179.6 505.2h0M170.3 502.0h0M173.1 500.1h0M169.9 503.3h0M175.9 500.3h0M169.5 508.5h0M172.9 511.0h0M175.5 502.8h0M180.0 500.8h0M168.0 504.3h0M164.4 506.3h0M175.0 504.4h0M176.2 510.7h0M174.0 499.7h0M188.2 498.2h0M177.3 500.3h0M172.2 502.1h0M170.7 502.6h0M171.9 499.9h0M169.3 501.4h0M162.3 506.4h0M160.3 503.6h0M172.2 498.9h0M175.8 510.6h0M173.5 499.3h0M174.2 498.0h0M163.3 500.5h0M175.9 499.9h0M176.8 504.2h0M161.9 497.2h0M167.3 496.8h0M174.8 496.6h0M169.1 509.5h0M164.7 497.3h0M179.1 500.5h0M172.8 504.4h0M169.5 500.9h0M172.8 507.7h0M170.9 495.3h0M167.4 505.5h0M164.3 496.6h0M167.7 494.8h0M176.7 510.9h0M182.6 500.0h0M180.4 500.8h0M174.0 504.8h0M172.9 499.5h0M172.4 500.5h0M176.2 506.2h0M166.5 500.8h0M169.5 510.8h0M177.0 501.7h0M169.6 507.4h0M165.9 495.5h0M171.1 508.5h0M172.0 499.7h0M171.2 506.6h0M168.0 499.9h0M176.4 503.8h0M173.2 504.0h0M172.4 491.9h0M172.5 498.8h0M172.5 501.7h0M175.5 505.2h0M167.5 499.9h0M170.7 502.0h0M165.7 504.0h0M176.1 497.9h0M165.2 507.4h0M180.5 502.1h0M182.0 505.1h0M172.4 500.6h0M185.6 502.0h0M173.0 508.3h0M169.0 500.9h0M181.2 504.7h0M172.2 506.9h0M174.5 490.7h0M173.8 506.3h0M173.2 496.8h0M176.6 498.2h0M177.8 502.3h0M177.8 497.0h0M182.2 498.3h0M171.7 499.7h0M173.0 502.7h0M172.7 505.3h0M176.0 500.3h0M173.3 503.0h0M179.5 506.7h0M169.8 506.4h0M175.2 494.7h0M177.6 509.0h0M169.6 497.0h0M162.9 504.8h0M172.1 501.4h0M175.9 495.2h0M175.0 510.2h0M180.0 496.9h0M165.1 505.7h0M175.3 502.4h0M169.7 506.5h0M167.9 497.9h0M168.9 502.7h0M171.5 496.3h0M176.9 507.4h0M166.0 506.4h0M166.1 490.3h0M172.7 496.3h0M170.9 499.1h0M158.4 501.0h0M178.3 504.4h0M167.6 506.9h0M178.2 507.8h0M185.2 507.2h0M180.6 503.6h0M172.1 496.1h0M174.3 506.5h0M177.0 497.7h0M161.4 500.6h0M165.1 505.2h0M165.0 498.9h0M171.4 500.7h0M175.2 505.5h0M176.5 507.8h0M170.3 505.3h0M188.2 500.0h0M170.5 503.2h0M172.1 500.6h0M183.1 508.9h0M170.4 498.8h0M180.4 506.1h0M175.0 506.1h0M174.1 508.8h0M174.2 503.5h0M175.9 496.4h0M181.3 494.4h0M183.4 485.4h0M160.7 501.0h0M182.1 492.2h0M187.4 500.6h0M188.9 494.0h0M176.5 487.2h0M176.3 493.5h0M171.7 499.8h0M171.5 491.4h0M162.7 489.6h0M187.7 481.3h0M163.4 483.7h0M177.4 495.6h0M177.2 487.5h0M177.7 512.6h0M176.5 498.2h0M178.7 493.6h0M191.2 489.5h0M189.6 498.4h0M184.6 490.0h0M173.6 504.9h0M172.0 485.9h0M190.8 501.3h0M187.3 491.0h0M192.5 488.9h0M171.3 500.7h0M182.3 489.0h0M166.8 491.4h0M192.8 490.5h0M177.4 506.5h0M174.9 488.9h0M175.0 502.0h0M189.2 493.2h0M165.5 481.9h0M171.4 502.8h0M165.2 492.3h0M160.3 488.5h0M180.1 474.5h0M171.5 502.8h0M187.0 497.1h0M171.2 498.6h0M188.8 479.7h0M178.0 488.0h0M161.9 497.6h0M174.2 504.3h0M193.6 502.6h0M169.2 496.5h0M179.6 488.1h0M170.2 498.2h0M182.5 485.3h0M188.8 481.6h0M189.3 493.9h0M174.3 497.4h0M182.9 480.0h0M185.9 487.1h0M189.6 496.1h0M178.8 488.2h0M174.3 487.3h0M162.1 484.1h0M173.1 482.0h0M187.7 501.4h0M192.6 492.8h0M171.8 490.8h0M156.9 498.5h0M172.8 491.5h0M189.3 483.2h0M179.9 501.6h0M177.5 502.5h0M178.9 486.8h0M183.1 488.3h0M177.3 500.6h0M177.4 490.9h0M191.9 497.8h0M175.9 491.0h0M176.8 496.7h0M180.1 478.5h0M192.7 487.9h0M190.3 510.3h0M196.5 498.4h0M180.7 503.0h0M163.7 499.9h0M176.3 507.6h0M176.1 483.9h0M187.4 490.9h0M195.9 509.5h0M169.0 509.3h0M175.0 499.9h0M188.6 499.7h0M187.8 493.3h0M158.5 504.1h0M178.5 491.3h0M176.8 502.4h0M177.1 491.2h0M173.2 491.2h0M170.5 494.7h0M192.2 499.3h0M178.9 487.0h0M176.9 499.5h0M177.3 502.1h0M196.6 494.7h0M174.1 499.4h0M180.5 497.8h0M171.6 500.4h0M176.7 488.1h0M181.8 496.9h0M175.0 491.7h0M181.6 494.9h0M171.1 497.3h0M174.4 488.9h0M179.0 488.5h0M173.9 507.4h0M182.2 480.2h0M170.5 490.7h0M167.4 510.6h0M178.1 502.0h0M170.1 490.1h0M181.9 487.5h0M178.2 481.8h0M195.8 496.4h0M164.3 485.4h0M162.1 502.9h0M161.1 502.2h0M177.4 489.5h0M180.1 489.6h0M171.4 498.6h0M174.0 499.8h0M180.5 505.9h0M174.1 503.3h0M182.9 495.1h0M171.8 490.7h0M160.0 499.4h0M184.9 493.2h0M179.6 482.6h0M177.6 490.1h0M168.7 508.1h0M188.6 484.4h0M184.3 488.5h0M161.8 488.6h0M188.4 497.3h0M179.4 503.1h0M181.2 486.0h0M188.1 494.4h0M171.7 495.4h0M177.3 488.2h0M169.8 501.8h0M195.4 485.4h0M171.9 493.9h0M185.7 481.6h0M168.6 495.4h0M173.8 491.7h0M177.1 495.6h0M189.6 490.2h0M163.0 502.0h0M165.5 492.5h0M171.3 491.6h0M175.3 491.1h0M187.4 485.7h0M170.5 504.7h0M173.8 500.0h0M157.7 492.3h0M160.9 497.0h0M186.6 482.1h0M196.7 490.9h0M169.1 496.9h0M177.5 484.5h0M178.5 484.5h0M194.7 500.7h0M184.8 499.8h0M180.3 496.1h0M171.0 499.6h0M194.1 493.3h0M167.1 497.7h0M185.3 495.9h0M172.3 486.8h0M175.4 501.1h0M182.8 485.6h0M186.9 500.6h0M166.2 492.5h0M181.8 501.2h0M178.1 496.5h0M168.7 502.6h0M162.5 505.4h0M180.6 505.1h0M177.5 482.3h0M198.0 499.5h0M180.1 495.0h0M171.4 495.2h0M178.2 498.5h0M178.1 492.3h0M190.9 495.0h0M170.9 493.5h0M173.6 494.0h0M178.5 479.7h0M176.6 493.2h0M178.5 498.6h0M179.6 493.2h0M170.7 479.1h0M181.9 489.1h0M179.6 490.3h0M170.0 505.9h0M194.1 475.0h0M193.5 473.5h0M202.5 471.5h0M205.5 475.6h0M198.3 475.5h0M188.0 473.3h0M194.2 473.8h0M190.1 474.6h0M200.9 475.2h0M197.8 471.9h0M199.8 474.7h0M200.0 474.1h0M203.3 472.2h0M196.4 475.8h0M195.5 475.1h0M203.3 478.9h0M187.9 475.0h0M198.3 473.2h0M197.0 471.3h0M201.5 475.0h0M192.6 476.0h0M192.2 474.0h0M187.1 475.5h0M198.6 478.1h0M205.1 474.8h0M190.8 473.4h0M195.4 476.9h0M194.0 474.9h0M190.7 475.8h0M195.4 472.7h0M196.1 473.3h0M191.3 477.1h0M196.7 475.0h0M198.6 474.5h0M197.1 473.9h0M199.6 472.6h0M192.6 474.5h0M197.2 471.7h0M193.7 472.8h0M196.8 476.6h0M191.9 475.4h0M203.6 473.7h0M199.6 472.5h0M188.4 476.4h0M197.9 477.3h0M196.8 473.2h0M202.1 477.2h0M201.9 473.1h0M198.8 475.4h0M194.0 474.1h0M204.2 474.9h0M198.9 473.9h0M198.6 474.1h0M198.2 475.2h0M193.3 474.9h0M193.9 474.7h0M189.5 474.6h0M195.2 475.4h0M195.2 471.9h0M196.9 468.9h0M193.5 476.4h0M192.9 473.7h0M192.3 475.2h0M193.3 475.8h0M198.9 472.0h0M205.7 471.7h0M196.0 475.6h0M186.6 474.4h0M200.7 475.5h0M195.1 474.5h0M203.9 471.6h0M193.7 477.3h0M198.1 475.2h0M194.5 473.4h0M191.1 477.0h0M197.5 472.0h0M200.3 473.2h0M202.6 471.6h0M193.9 474.0h0M189.1 475.6h0M201.3 473.6h0M191.0 471.7h0M200.2 473.9h0M194.3 474.7h0M198.7 471.5h0M202.1 473.5h0M197.1 474.0h0M198.5 476.2h0M191.6 474.2h0M191.4 473.8h0M196.6 474.0h0M197.8 473.9h0M204.1 474.2h0M205.6 474.0h0M193.0 476.1h0M203.3 472.7h0M197.7 473.2h0M193.1 475.4h0M198.5 476.2h0M194.4 475.8h0M203.3 474.3h0M194.8 475.4h0M202.0 472.1h0M198.6 477.8h0M197.9 473.8h0M199.1 474.6h0M204.2 472.7h0M190.6 474.0h0M203.3 473.7h0M200.7 474.5h0M197.7 476.7h0M196.5 476.9h0M205.4 474.9h0M199.5 475.0h0M197.4 474.1h0M202.8 475.5h0M197.6 474.3h0M201.9 476.0h0M195.0 477.4h0M195.8 475.7h0M196.7 474.1h0M199.8 473.6h0M196.3 471.2h0M201.0 472.3h0M201.6 475.2h0M200.6 476.7h0M200.4 474.3h0M194.8 472.3h0M202.3 471.8h0M201.4 472.6h0M189.2 476.7h0M198.3 474.8h0M196.1 478.1h0M194.4 475.5h0M201.3 476.8h0M197.5 475.5h0M195.2 471.9h0M195.5 477.4h0M194.6 472.9h0M204.0 473.0h0M198.5 474.5h0M195.6 472.2h0M205.3 476.1h0M199.4 475.0h0M196.1 476.8h0M192.9 471.0h0M197.3 474.9h0M198.6 475.3h0M200.2 472.8h0M192.3 475.7h0M199.3 473.8h0M195.0 475.3h0M198.5 478.1h0M197.4 476.2h0M204.1 470.8h0M188.6 473.1h0M179.4 475.9h0M176.5 472.3h0M183.4 476.9h0M200.9 470.9h0M195.7 472.0h0M200.6 475.7h0M192.1 472.5h0M179.3 473.2h0M191.0 478.2h0M205.9 469.9h0M192.5 474.9h0M182.3 473.1h0M199.2 470.5h0M183.2 475.9h0M204.1 477.1h0M191.0 470.5h0M187.6 476.8h0M185.5 478.6h0M191.4 475.3h0M184.6 476.4h0M182.7 474.5h0M195.8 474.9h0M186.2 473.0h0M182.4 481.2h0M174.1 476.6h0M188.5 474.5h0M183.9 475.8h0M188.2 476.1h0M185.1 476.2h0M191.5 479.5h0M188.2 477.8h0M194.6 476.0h0M193.8 474.9h0M187.7 474.5h0M178.3 474.6h0M180.9 473.8h0M172.3 475.4h0M185.4 476.2h0M186.6 480.4h0M188.6 471.4h0M185.2 472.5h0M188.1 480.4h0M197.9 472.0h0M204.6 473.8h0M202.2 479.1h0M184.6 470.9h0M189.6 475.4h0M187.0 478.5h0M193.0 475.6h0M197.9 474.2h0M188.2 473.9h0M195.6 479.1h0M192.2 478.2h0M184.7 476.2h0M202.8 468.7h0M185.5 474.2h0M204.1 476.3h0M203.7 476.0h0M195.7 476.6h0M193.1 471.1h0M195.1 478.1h0M184.9 474.8h0M203.2 472.7h0M193.7 475.5h0M185.6 474.2h0M179.6 473.7h0M183.4 491.5h0M202.2 481.1h0M184.6 496.2h0M201.1 486.5h0M192.9 479.5h0M204.4 493.0h0M196.1 478.1h0M195.2 488.2h0M192.3 471.0h0M194.1 497.1h0M204.8 490.8h0M203.5 487.9h0M182.9 490.0h0M184.4 469.0h0M183.3 476.4h0M201.6 492.1h0M179.3 473.5h0M194.6 505.4h0M177.9 486.4h0M190.7 495.2h0M196.8 479.3h0M185.7 482.1h0M194.4 481.9h0M191.1 487.7h0M187.2 488.6h0M189.3 475.4h0M196.4 479.6h0M192.5 468.9h0M189.3 482.0h0M197.9 493.1h0M176.0 488.0h0M202.4 494.1h0M195.7 482.1h0M184.2 497.3h0M193.1 489.9h0M193.0 491.7h0M199.1 484.4h0M195.2 485.5h0M189.3 500.2h0M199.9 493.7h0M192.4 490.2h0M189.8 509.9h0M191.2 490.9h0M189.3 483.4h0M181.2 496.3h0M195.6 492.2h0M189.8 497.5h0M186.2 491.1h0M200.0 478.1h0M192.4 476.2h0M189.6 497.1h0M188.0 493.9h0M192.1 482.3h0M191.0 492.2h0M197.0 496.5h0M196.1 484.3h0M186.5 483.3h0M195.2 488.9h0M191.2 500.7h0M196.8 491.6h0M196.6 497.2h0M205.4 491.9h0M182.8 498.3h0M193.9 468.9h0M186.6 493.2h0M193.3 487.8h0M192.3 503.5h0M205.6 487.9h0M192.5 489.1h0M199.4 490.7h0M181.7 476.6h0M192.8 487.1h0M185.7 484.4h0M188.1 492.8h0M196.0 478.4h0M197.3 487.0h0M191.9 493.2h0M195.2 493.6h0M188.5 484.4h0M193.9 477.9h0M198.7 494.3h0M195.8 476.5h0M180.6 501.1h0M183.0 484.2h0M192.7 493.8h0M191.2 481.4h0M185.1 494.6h0M195.6 486.1h0M191.5 472.0h0M196.6 491.0h0M203.5 473.5h0M182.2 481.9h0M201.6 489.4h0M196.5 487.0h0M190.8 492.1h0M193.1 489.8h0M193.7 484.1h0M197.4 486.7h0M187.2 490.4h0M192.8 492.6h0M189.7 487.0h0M198.6 486.9h0M187.1 485.4h0M196.8 496.7h0M200.8 491.5h0M200.6 489.4h0M204.8 496.2h0M194.1 492.6h0M200.6 474.5h0M191.2 490.6h0M175.9 499.5h0M191.5 488.5h0M205.2 505.3h0M185.7 492.2h0M184.2 488.3h0M186.8 485.3h0M200.3 488.3h0M189.2 502.1h0M186.1 508.4h0M200.7 495.8h0M202.1 483.3h0M200.8 488.1h0M196.5 485.6h0M196.5 505.1h0M193.2 482.8h0M187.8 481.7h0M194.3 487.4h0M196.2 481.3h0M192.3 488.1h0M191.5 493.9h0M198.6 497.0h0M194.4 486.6h0M191.3 485.1h0M185.5 483.3h0M191.9 490.6h0M184.9 501.1h0M201.0 499.1h0M195.8 482.5h0M199.3 490.9h0M187.6 481.1h0M189.6 487.5h0M189.5 500.5h0M188.2 484.0h0M193.4 491.4h0M198.8 496.8h0M193.1 494.4h0M197.3 482.5h0M196.4 495.6h0M197.6 484.1h0M189.3 475.9h0M175.1 475.9h0M184.5 480.1h0M178.8 479.9h0M185.7 477.7h0M189.6 479.6h0M176.3 482.1h0M196.1 475.7h0M177.5 481.2h0M180.9 472.5h0M188.5 475.9h0M170.0 480.5h0M186.6 481.1h0M187.5 473.8h0M184.4 479.5h0M177.7 475.6h0M181.6 475.4h0M179.2 481.1h0M175.8 475.9h0M181.1 473.4h0M182.3 476.1h0M173.8 479.1h0M170.4 482.9h0M178.0 475.8h0M176.4 477.2h0M186.0 476.2h0M183.5 477.7h0M184.5 478.6h0M190.9 476.3h0M187.0 482.5h0M177.2 477.7h0M168.5 483.5h0M190.8 474.5h0M189.0 472.5h0M197.2 468.9h0M177.0 477.7h0M179.6 479.8h0M179.5 472.7h0M181.4 474.4h0M177.0 481.3h0M179.2 476.7h0M188.9 469.6h0M185.8 478.8h0M169.9 481.2h0M186.9 472.8h0M181.2 483.8h0M182.5 476.1h0M190.1 474.1h0" stroke="#0a0a0a" stroke-width="1.3" stroke-linecap="round" fill="none"/>
<rect x="145.4" y="454.2" width="61.8" height="59.7" fill="none" stroke="#161616" stroke-width="1.3"/>
<path d="M180 454.2V513.9M145.4 477.6H207.2" stroke="#161616" stroke-width="1.05" fill="none"/>
<text x="150.2" y="466.3" font-size="11.5" textLength="6.5" lengthAdjust="spacingAndGlyphs" stroke="#000" stroke-width=".5">3</text>
<text x="203.1" y="466.3" font-size="11.5" text-anchor="end" textLength="13.7" lengthAdjust="spacingAndGlyphs" stroke="#000" stroke-width=".5">16</text>
<text x="151.5" y="491.0" font-size="11.5" textLength="13.7" lengthAdjust="spacingAndGlyphs" stroke="#000" stroke-width=".5">71</text>
<text x="201.6" y="509.6" font-size="11.5" text-anchor="end" textLength="13.7" lengthAdjust="spacingAndGlyphs" stroke="#000" stroke-width=".5">11</text>
<g font-size="6.9" font-weight="bold" fill="#000" stroke="#000" stroke-width=".35">
<text x="146.2" y="520.5" textLength="8.0" lengthAdjust="spacingAndGlyphs">10<tspan dy="-1.9" font-size="5.4">0</tspan></text>
<text x="161.2" y="520.5" textLength="8.0" lengthAdjust="spacingAndGlyphs">10<tspan dy="-1.9" font-size="5.4">1</tspan></text>
<text x="176.6" y="520.5" textLength="8.0" lengthAdjust="spacingAndGlyphs">10<tspan dy="-1.9" font-size="5.4">2</tspan></text>
<text x="192.0" y="520.5" textLength="8.0" lengthAdjust="spacingAndGlyphs">10<tspan dy="-1.9" font-size="5.4">3</tspan></text>
<text x="207.4" y="520.5" textLength="8.0" lengthAdjust="spacingAndGlyphs">10<tspan dy="-1.9" font-size="5.4">4</tspan></text>
<text x="143.5" y="514.0" textLength="8.6" lengthAdjust="spacingAndGlyphs" transform="rotate(-90 143.5 514.0)">10<tspan dy="-1.9" font-size="5.4">0</tspan></text>
<text x="143.5" y="499.1" textLength="8.6" lengthAdjust="spacingAndGlyphs" transform="rotate(-90 143.5 499.1)">10<tspan dy="-1.9" font-size="5.4">1</tspan></text>
<text x="143.5" y="484.1" textLength="8.6" lengthAdjust="spacingAndGlyphs" transform="rotate(-90 143.5 484.1)">10<tspan dy="-1.9" font-size="5.4">2</tspan></text>
<text x="143.5" y="469.2" textLength="8.6" lengthAdjust="spacingAndGlyphs" transform="rotate(-90 143.5 469.2)">10<tspan dy="-1.9" font-size="5.4">3</tspan></text>
<text x="143.5" y="454.3" textLength="8.6" lengthAdjust="spacingAndGlyphs" transform="rotate(-90 143.5 454.3)">10<tspan dy="-1.9" font-size="5.4">4</tspan></text>
</g>
</g>
<g id="b4">
<path d="M74.8 630.8h0M61.4 616.3h0M68.0 629.8h0M67.7 618.7h0M65.9 633.2h0M61.3 631.2h0M71.2 628.4h0M72.5 623.3h0M66.5 623.9h0M61.2 623.7h0M72.3 632.2h0M71.9 629.2h0M71.5 627.7h0M73.7 625.3h0M74.1 625.7h0M60.3 619.7h0M67.5 623.8h0M62.3 622.2h0M69.5 628.0h0M72.9 621.7h0M70.5 631.2h0M66.1 626.0h0M69.4 624.0h0M68.3 627.2h0M68.3 623.5h0M66.2 625.6h0M60.7 626.9h0M62.9 624.8h0M63.0 626.5h0M66.6 624.7h0M64.7 626.6h0M76.7 617.2h0M71.1 627.1h0M66.5 619.8h0M76.6 626.9h0M73.6 624.2h0M64.6 631.3h0M72.3 624.5h0M67.4 629.1h0M64.5 621.9h0M68.3 631.0h0M72.9 626.9h0M75.4 625.3h0M66.0 629.0h0M71.4 626.6h0M69.7 629.4h0M71.3 623.2h0M68.6 632.8h0M72.2 623.9h0M68.9 621.2h0M62.0 623.5h0M76.7 623.0h0M58.5 625.5h0M65.1 629.7h0M74.8 624.4h0M69.2 621.7h0M74.7 622.5h0M63.9 626.9h0M68.3 628.3h0M70.9 633.3h0M71.1 629.0h0M62.3 628.0h0M61.8 632.0h0M68.3 630.8h0M66.1 627.2h0M69.0 628.8h0M68.0 623.2h0M66.7 622.9h0M63.9 620.2h0M64.8 620.7h0M73.6 627.5h0M67.9 631.6h0M78.0 621.9h0M75.8 628.9h0M74.5 623.5h0M77.1 631.7h0M55.4 632.3h0M75.4 619.3h0M70.3 625.2h0M69.7 621.9h0M71.9 629.7h0M68.1 625.7h0M59.8 628.7h0M62.1 626.2h0M68.6 633.6h0M68.4 625.9h0M72.3 625.9h0M80.4 625.2h0M76.8 620.3h0M64.0 629.3h0M71.3 626.5h0M77.6 623.5h0M64.8 613.4h0M58.7 624.6h0M58.0 629.8h0M73.6 628.3h0M60.3 621.9h0M61.6 629.5h0M73.8 625.0h0M68.9 627.2h0M72.3 621.7h0M63.7 629.9h0M71.2 628.4h0M68.9 629.8h0M71.0 623.1h0M77.3 631.4h0M67.3 625.6h0M64.9 619.2h0M63.2 619.0h0M65.2 627.6h0M68.2 619.0h0M67.6 622.9h0M62.9 631.5h0M63.2 630.5h0M59.9 627.4h0M65.0 630.8h0M70.6 622.2h0M71.8 632.4h0M75.4 633.3h0M65.6 625.4h0M60.7 625.0h0M61.1 626.6h0M72.7 634.0h0M74.6 626.9h0M71.0 627.1h0M58.9 620.3h0M66.6 630.7h0M61.5 627.0h0M65.6 629.8h0M72.5 620.9h0M62.7 633.4h0M74.0 626.0h0M72.9 626.4h0M71.1 624.2h0M71.4 634.4h0M76.1 632.4h0M69.3 630.9h0M66.4 624.6h0M69.4 620.7h0M69.6 617.6h0M77.1 630.3h0M70.2 622.6h0M65.5 624.2h0M60.1 624.0h0M63.9 630.3h0M75.5 633.3h0M61.6 619.3h0M76.0 630.0h0M74.1 629.4h0M73.1 629.5h0M63.5 626.9h0M75.6 628.9h0M73.3 625.2h0M72.3 623.3h0M67.7 631.4h0M77.4 624.5h0M67.5 624.9h0M67.6 626.3h0M73.2 627.8h0M68.6 628.3h0M59.4 625.4h0M78.8 621.0h0M65.6 627.4h0M73.8 624.8h0M63.2 633.8h0M56.5 621.6h0M64.7 614.5h0M60.7 624.0h0M67.3 629.6h0M67.6 628.9h0M71.0 625.4h0M68.8 633.1h0M69.5 629.3h0M68.4 629.7h0M77.0 626.5h0M66.1 622.4h0M73.9 622.2h0M68.7 625.7h0M71.6 621.7h0M55.9 625.8h0M64.8 627.1h0M78.8 629.2h0M60.6 628.2h0M59.3 615.2h0M79.7 621.4h0M57.1 625.7h0M67.6 628.4h0M67.7 625.1h0M73.0 625.2h0M64.7 627.9h0M65.6 631.6h0M68.8 625.2h0M66.3 629.1h0M73.9 624.6h0M57.0 630.0h0M64.6 629.2h0M65.4 628.2h0M67.3 622.1h0M61.7 625.6h0M69.4 617.8h0M55.9 627.4h0M80.0 622.1h0M67.2 620.6h0M61.9 633.6h0M60.0 627.4h0M64.7 629.1h0M76.9 626.9h0M67.0 631.7h0M67.0 616.7h0M75.7 623.5h0M73.6 627.7h0M77.5 621.6h0M59.8 620.4h0M69.2 627.3h0M73.0 627.1h0M65.0 625.8h0M70.2 624.3h0M72.2 626.3h0M59.5 631.6h0M65.0 631.6h0M70.9 619.5h0M69.0 625.2h0M67.5 625.7h0M69.2 625.1h0M73.1 629.0h0M67.9 625.4h0M67.0 624.2h0M67.8 627.3h0M67.1 616.7h0M69.1 621.6h0M74.1 614.0h0M59.3 631.2h0M64.5 618.1h0M59.4 625.3h0M64.3 626.0h0M67.0 626.2h0M66.3 622.0h0M72.4 634.0h0M64.0 625.3h0M79.3 620.5h0M62.7 628.9h0M73.4 626.0h0M74.7 625.5h0M69.8 626.0h0M70.3 626.2h0M76.3 629.8h0M77.3 625.4h0M64.5 623.0h0M66.5 627.8h0M66.4 627.5h0M70.9 620.2h0M61.2 632.8h0M67.0 619.1h0M62.4 622.0h0M82.5 616.6h0M56.2 621.4h0M74.0 621.2h0M76.9 632.7h0M65.1 629.1h0M70.6 625.4h0M66.2 623.2h0M71.0 623.4h0M73.2 629.6h0M60.1 628.2h0M67.7 630.1h0M66.7 632.1h0M73.0 630.7h0M71.9 619.1h0M68.3 631.7h0M73.4 629.1h0M68.5 625.8h0M61.4 617.0h0M67.7 630.3h0M67.2 623.4h0M67.6 632.9h0M65.4 625.7h0M70.4 631.5h0M70.8 623.5h0M65.9 620.4h0M67.6 631.1h0M69.6 623.9h0M62.8 624.3h0M72.6 629.3h0M71.0 630.5h0M75.1 627.2h0M72.1 616.4h0M72.1 624.4h0M70.0 621.5h0M67.2 620.5h0M68.3 621.0h0M74.1 624.6h0M69.5 623.0h0M68.0 622.6h0M64.2 628.7h0M65.0 620.3h0M74.2 627.4h0M70.2 627.7h0M76.7 627.1h0M59.8 621.5h0M70.1 623.9h0M71.1 624.7h0M71.3 628.5h0M66.3 619.8h0M67.2 622.8h0M63.9 626.7h0M75.1 624.5h0M66.7 620.8h0M70.3 627.5h0M69.8 634.1h0M70.2 631.5h0M67.0 628.2h0M64.4 630.2h0M76.4 621.7h0M64.5 627.7h0M68.8 630.6h0M55.0 623.4h0M71.5 627.5h0M63.2 629.9h0M69.5 626.4h0M67.6 625.7h0M71.9 619.3h0M51.0 629.4h0M56.0 627.3h0M68.9 628.0h0M63.0 629.1h0M67.1 623.8h0M67.4 622.0h0M77.2 623.0h0M68.7 624.5h0M69.7 626.5h0M67.2 626.5h0M69.6 627.4h0M74.3 625.8h0M68.3 628.8h0M68.0 628.3h0M71.9 615.1h0M69.3 624.2h0M60.5 619.9h0M61.4 631.3h0M74.8 626.5h0M68.3 620.7h0M79.7 633.8h0M70.1 622.2h0M68.1 623.0h0M62.4 620.8h0M64.0 622.9h0M70.9 621.4h0M71.2 627.2h0M73.8 633.0h0M80.9 631.1h0M66.7 625.1h0M83.3 620.9h0M69.2 632.4h0M68.8 628.7h0M78.1 630.8h0M69.1 629.3h0M70.4 629.7h0M71.9 624.9h0M69.2 627.6h0M67.9 623.7h0M73.7 615.2h0M67.5 631.5h0M70.5 620.5h0M72.3 626.0h0M69.3 624.8h0M70.7 621.9h0M69.7 625.9h0M69.9 630.9h0M59.5 625.8h0M69.7 627.3h0M68.6 628.3h0M74.4 624.0h0M69.9 630.2h0M68.0 631.5h0M65.3 632.3h0M70.2 633.4h0M76.0 621.7h0M73.7 628.8h0M69.3 624.3h0M70.8 625.1h0M69.0 626.4h0M69.3 625.1h0M61.7 627.2h0M51.8 627.6h0M68.1 625.7h0M66.1 627.8h0M71.4 623.7h0M65.6 621.4h0M62.5 628.4h0M68.3 633.2h0M60.8 620.6h0M69.4 623.9h0M70.4 622.0h0M75.2 624.9h0M70.6 631.7h0M62.5 624.3h0M63.3 630.4h0M59.5 623.8h0M65.3 630.6h0M77.1 626.5h0M78.4 629.6h0M61.8 625.3h0M63.5 630.1h0M71.0 627.7h0M64.2 625.1h0M62.4 625.9h0M76.0 625.0h0M76.1 626.9h0M67.1 628.9h0M61.2 634.0h0M70.0 620.7h0M72.5 621.4h0M73.3 632.3h0M73.6 620.3h0M66.9 631.5h0M71.2 628.7h0M80.8 631.2h0M67.4 620.3h0M65.3 618.9h0M64.6 626.7h0M62.0 626.3h0M65.8 628.4h0M62.0 622.4h0M68.8 628.6h0M69.0 611.5h0M67.3 616.8h0M67.7 621.1h0M63.5 623.3h0M71.0 625.7h0M71.2 625.9h0M66.2 632.1h0M78.5 622.4h0M69.0 618.8h0M68.6 621.7h0M75.2 627.9h0M69.7 631.4h0M70.1 612.2h0M76.6 634.2h0M69.2 632.0h0M71.0 618.8h0M60.5 633.2h0M73.1 634.2h0M78.5 625.2h0M72.4 629.3h0M72.4 628.7h0M66.0 627.7h0M58.9 628.3h0M66.2 622.4h0M70.4 627.7h0M70.1 622.4h0M65.3 624.8h0M67.8 624.0h0M63.0 626.9h0M64.9 625.8h0M63.2 614.4h0M69.0 627.9h0M67.7 630.5h0M69.4 625.0h0M74.7 627.6h0M65.0 626.7h0M66.4 621.4h0M72.1 625.3h0M65.8 625.6h0M78.8 633.5h0M75.0 620.6h0M60.7 625.9h0M69.0 629.1h0M69.3 629.9h0M63.6 629.5h0M67.9 630.6h0M71.4 617.5h0M68.4 632.4h0M74.2 630.4h0M66.1 623.8h0M72.4 620.3h0M72.5 625.2h0M73.7 633.1h0M68.5 622.4h0M65.5 627.1h0M54.3 629.2h0M68.1 630.7h0M78.7 615.0h0M61.9 625.4h0M60.4 625.7h0M78.3 620.1h0M63.2 623.8h0M73.2 620.0h0M70.9 625.9h0M67.7 617.1h0M68.1 626.6h0M68.8 621.5h0M69.8 624.3h0M68.0 619.7h0M72.8 625.6h0M65.7 629.8h0M63.1 628.1h0M70.5 631.1h0M75.4 628.3h0M70.9 622.2h0M55.5 630.1h0M72.6 619.5h0M56.5 619.9h0M61.4 627.1h0M72.1 622.9h0M61.6 629.2h0M66.7 618.4h0M65.0 628.2h0M69.5 618.1h0M64.5 625.5h0M74.2 628.6h0M77.3 620.5h0M68.4 620.8h0M75.8 618.4h0M66.2 631.8h0M66.3 628.5h0M64.8 626.2h0M82.1 621.5h0M68.4 629.0h0M63.9 634.2h0M73.3 625.9h0M69.9 624.0h0M76.0 628.0h0M67.1 629.4h0M59.3 625.7h0M62.3 628.2h0M68.6 623.8h0M67.1 625.9h0M69.3 628.5h0M74.4 626.7h0M69.2 626.3h0M74.0 623.4h0M73.1 620.5h0M60.6 622.1h0M72.1 626.1h0M61.5 611.8h0M70.4 630.7h0M65.6 620.1h0M68.3 624.5h0M68.8 633.5h0M68.1 618.6h0M71.7 617.5h0M72.9 626.0h0M70.9 627.1h0M67.7 621.1h0M69.4 625.2h0M54.9 629.9h0M63.3 631.7h0M74.9 619.4h0M66.0 630.9h0M69.4 619.9h0M57.3 631.4h0M68.2 633.7h0M64.1 631.6h0M68.9 615.5h0M70.5 620.4h0M61.6 622.3h0M68.8 614.7h0M69.6 626.1h0M75.7 624.2h0M72.1 628.4h0M71.4 629.3h0M73.8 632.2h0M71.8 630.5h0M73.4 627.8h0M68.1 632.2h0M68.2 629.5h0M71.6 625.8h0M68.4 624.3h0M65.0 634.0h0M67.4 618.4h0M62.9 626.3h0M75.7 628.3h0M65.3 622.3h0M70.9 629.1h0M69.3 624.0h0M61.3 621.0h0M68.5 621.2h0M67.1 622.8h0M67.5 633.1h0M73.3 629.9h0M67.9 624.7h0M77.6 628.5h0M72.4 613.4h0M76.2 632.2h0M62.5 623.4h0M70.6 630.3h0M68.9 626.9h0M67.8 623.8h0M76.2 630.6h0M69.6 624.0h0M65.7 627.0h0M65.3 630.6h0M67.5 630.5h0M60.5 628.0h0M69.4 628.9h0M64.3 627.0h0M68.8 628.9h0M72.4 617.8h0M74.1 630.9h0M66.7 626.7h0M73.4 629.7h0M66.0 618.0h0M68.0 624.1h0M66.7 627.6h0M66.8 617.3h0M69.3 632.6h0M68.6 630.8h0M70.3 630.1h0M69.0 626.7h0M60.8 631.7h0M63.2 620.7h0M65.4 626.7h0M68.4 628.3h0M66.1 624.2h0M67.9 625.0h0M68.0 622.3h0M71.5 630.7h0M65.3 621.4h0M59.8 624.2h0M65.3 621.7h0M63.3 624.2h0M62.2 619.2h0M70.1 613.7h0M70.5 626.3h0M78.1 634.0h0M64.3 630.2h0M63.0 627.8h0M65.0 619.8h0M70.1 631.6h0M71.8 621.5h0M64.3 627.0h0M64.2 628.7h0M71.2 632.3h0M72.1 627.6h0M77.9 626.9h0M63.9 628.1h0M74.3 619.8h0M68.6 633.1h0M67.7 630.7h0M73.5 629.5h0M66.0 623.0h0M66.0 628.9h0M63.7 615.6h0M73.9 619.3h0M70.1 621.2h0M76.7 624.9h0M68.5 627.8h0M67.1 624.5h0M70.5 623.5h0M68.0 628.4h0M69.1 622.9h0M70.9 630.1h0M69.9 627.3h0M73.1 623.4h0M68.5 629.1h0M68.4 624.7h0M62.9 625.6h0M63.8 624.9h0M70.0 625.2h0M68.6 623.1h0M70.8 626.8h0M67.6 631.7h0M68.8 629.1h0M74.9 632.7h0M71.9 623.6h0M69.1 618.6h0M75.4 617.0h0M65.1 624.3h0M63.4 629.5h0M72.5 627.7h0M75.1 630.9h0M68.8 628.9h0M67.0 632.8h0M66.9 621.5h0M67.5 626.9h0M61.2 627.2h0M61.5 623.7h0M59.3 623.2h0M72.5 621.6h0M70.4 623.6h0M66.2 630.3h0M73.5 630.4h0M68.1 624.0h0M68.1 627.6h0M65.1 627.6h0M61.8 622.0h0M63.1 628.7h0M76.2 624.8h0M75.7 631.2h0M58.0 628.6h0M72.2 630.5h0M77.6 624.7h0M74.5 616.6h0M73.6 620.4h0M76.4 628.9h0M66.4 626.1h0M72.2 626.1h0M73.2 613.9h0M64.1 622.5h0M62.8 626.2h0M66.0 625.0h0M70.8 621.5h0M66.3 628.4h0M70.9 632.3h0M71.3 624.5h0M68.5 616.0h0M58.3 622.9h0M74.5 621.8h0M69.4 620.6h0M72.5 629.6h0M64.8 626.9h0M69.8 631.1h0M84.3 622.3h0M73.5 634.3h0M67.0 630.9h0M74.3 621.0h0M70.2 624.3h0M64.9 626.4h0M68.4 624.7h0M61.1 629.3h0M64.6 620.6h0M71.8 626.0h0M65.3 625.1h0M67.2 633.0h0M63.9 623.2h0M73.5 629.1h0M61.4 623.5h0M65.5 623.2h0M61.8 622.4h0M86.1 621.5h0M73.8 626.4h0M75.5 630.4h0M61.3 621.9h0M68.3 625.2h0M76.2 616.2h0M65.4 623.4h0M74.7 624.1h0M74.4 622.1h0M74.9 625.3h0M68.5 626.9h0M71.5 628.5h0M71.3 629.0h0M63.2 623.6h0M67.3 626.4h0M71.4 629.1h0M77.6 608.3h0M72.8 614.6h0M87.5 609.3h0M57.3 634.0h0M66.7 622.8h0M71.1 615.4h0M70.2 615.6h0M82.0 609.8h0M80.6 603.5h0M64.8 613.8h0M80.6 628.4h0M73.8 610.7h0M80.5 616.5h0M61.2 618.2h0M73.9 617.6h0M67.9 616.2h0M74.8 630.4h0M67.1 625.7h0M60.2 612.3h0M80.1 614.2h0M69.5 621.4h0M75.0 628.1h0M67.1 623.1h0M59.6 613.0h0M73.3 626.1h0M52.6 620.7h0M68.2 617.8h0M69.0 623.7h0M67.9 627.6h0M69.2 624.3h0M77.5 621.8h0M69.4 620.6h0M82.0 629.9h0M86.0 626.4h0M66.0 619.8h0M71.3 622.6h0M72.6 613.2h0M57.7 624.7h0M65.2 618.5h0M61.7 610.2h0M64.4 622.5h0M68.6 619.1h0M71.8 609.4h0M77.6 620.5h0M73.4 601.7h0M72.8 619.8h0M75.7 617.3h0M82.5 613.0h0M76.4 613.9h0M62.6 621.7h0M84.6 597.7h0M85.8 622.0h0M91.9 619.3h0M81.8 613.2h0M65.9 622.6h0M66.1 620.0h0M73.2 622.7h0M72.4 616.8h0M76.6 619.1h0M70.1 618.7h0M82.8 622.9h0M73.5 605.7h0M72.0 606.1h0M77.7 609.6h0M69.0 617.7h0M89.5 614.4h0M61.8 625.8h0M72.1 613.1h0M71.4 615.0h0M86.3 610.1h0M77.9 619.4h0M66.7 616.5h0M73.0 607.9h0M77.9 614.6h0M91.4 617.3h0M67.2 617.3h0M73.7 622.3h0M65.4 617.3h0M75.2 627.4h0M65.7 615.1h0M67.7 633.6h0M59.8 616.5h0M71.9 616.8h0M75.3 613.1h0M61.1 622.5h0M86.8 611.9h0M68.0 618.2h0M75.1 628.3h0M57.7 615.6h0M77.8 600.9h0M61.5 607.4h0M73.5 611.5h0M61.5 617.4h0M67.9 611.2h0M81.3 624.3h0M74.1 622.8h0M73.0 611.9h0M86.7 606.3h0M70.7 615.8h0M74.3 619.6h0M84.4 611.8h0M72.5 628.7h0M73.7 605.9h0M66.0 610.0h0M76.4 619.0h0M82.4 621.0h0M80.5 625.2h0M71.9 614.1h0M60.5 629.6h0M81.3 621.1h0M73.0 616.6h0M70.9 620.5h0M70.8 619.0h0M71.6 620.1h0M58.9 618.1h0M75.3 624.1h0M65.1 622.7h0M76.2 621.1h0M72.5 626.8h0M83.5 623.5h0M67.9 603.5h0M77.3 621.5h0M75.3 620.9h0M66.4 613.9h0M77.6 615.8h0M72.8 623.1h0M71.2 621.3h0M69.8 626.8h0M82.0 616.5h0M75.3 621.1h0M72.7 624.4h0M78.8 609.8h0M78.0 614.4h0M83.4 615.5h0M66.4 619.6h0M74.4 619.1h0M62.0 613.2h0M86.8 616.1h0M77.1 612.5h0M91.1 606.9h0M74.7 613.3h0M82.0 617.8h0M92.2 620.6h0M64.6 621.4h0M71.5 620.1h0M73.7 607.0h0M80.5 618.4h0M80.2 600.9h0M80.7 608.3h0M68.3 626.0h0M90.6 619.6h0M62.1 632.0h0M74.9 612.2h0M62.3 620.5h0M81.3 622.1h0M73.7 631.9h0M73.0 623.3h0M86.9 601.8h0M74.8 614.1h0M74.6 621.3h0M71.9 634.0h0M71.1 612.9h0M79.8 602.7h0M76.7 618.6h0M85.2 609.1h0M78.2 615.1h0M73.1 606.0h0M60.1 622.8h0M79.6 617.4h0M56.2 620.1h0M77.7 620.8h0M70.5 613.1h0M75.4 604.8h0M77.5 624.8h0M78.5 618.6h0M78.3 628.2h0M86.8 612.7h0M85.8 625.3h0M55.2 618.4h0M87.8 610.1h0M58.3 614.9h0M67.7 624.8h0M57.8 624.6h0M71.1 628.0h0M72.2 619.9h0M69.6 616.6h0M72.0 616.0h0M73.1 617.8h0M78.0 619.7h0M67.5 612.7h0M83.1 627.0h0M79.1 622.7h0M65.9 616.6h0M61.4 618.5h0M75.4 614.8h0M66.7 625.1h0M79.3 612.6h0M78.7 616.3h0M88.5 624.6h0M77.3 605.2h0M72.1 625.7h0M75.1 631.9h0M78.9 597.2h0M98.7 595.5h0M95.0 593.5h0M91.7 595.1h0M81.9 595.0h0M86.2 595.6h0M74.7 595.5h0M97.8 597.7h0M88.2 596.2h0M101.7 594.2h0M101.9 596.0h0M93.7 595.3h0M90.4 595.9h0M99.1 593.3h0M100.1 594.7h0M100.9 594.0h0M95.8 595.1h0M101.1 592.6h0M95.9 594.9h0M94.2 593.6h0M92.4 595.4h0M85.5 594.5h0M88.4 594.7h0M97.6 595.0h0M92.8 595.2h0M81.3 594.8h0M86.7 595.9h0M79.8 597.3h0M88.4 596.5h0M89.1 594.0h0M97.7 594.0h0M91.5 594.3h0M88.7 597.0h0M102.0 595.1h0M90.0 595.6h0M82.8 594.2h0M86.2 595.3h0M88.3 594.7h0M85.7 623.4h0M91.1 604.0h0M88.2 603.1h0M88.2 617.8h0M72.4 618.3h0M80.2 610.6h0M93.9 611.2h0M99.6 615.2h0M96.3 606.9h0M92.7 601.5h0M75.9 612.6h0M83.6 614.0h0M86.7 609.0h0M73.3 611.5h0M99.0 613.3h0M87.0 616.0h0M93.1 605.9h0M82.4 604.1h0M82.1 602.9h0M89.5 612.1h0M92.2 607.1h0M81.8 603.9h0M92.5 607.1h0M92.5 592.5h0M95.5 605.8h0M78.3 603.9h0M89.7 611.8h0M102.3 620.0h0M84.5 606.1h0M85.9 619.7h0M85.0 593.7h0M91.5 615.5h0M94.9 609.7h0M96.4 616.0h0M80.5 616.3h0M86.1 616.0h0M87.5 591.3h0M83.5 610.8h0M79.9 597.4h0M97.8 608.7h0M89.0 599.1h0M98.4 611.4h0M96.0 614.8h0M82.8 613.4h0M82.6 597.1h0M81.9 629.6h0M81.2 611.7h0M83.3 599.4h0M82.7 611.1h0M86.9 627.0h0M81.4 598.2h0M91.3 599.0h0M89.2 615.0h0M68.0 606.4h0M78.8 609.5h0M88.9 603.5h0M85.6 618.5h0M91.4 617.0h0M84.0 609.0h0M84.2 617.1h0M79.9 606.9h0M78.6 596.8h0M84.5 617.5h0M96.7 607.9h0M100.0 611.8h0M86.0 610.1h0M87.3 610.4h0M96.2 601.0h0M83.0 605.8h0M95.2 612.8h0M75.9 608.7h0M80.5 601.9h0M103.0 611.8h0M84.7 619.6h0M84.0 618.8h0M83.6 616.6h0M74.6 606.2h0M85.4 612.8h0M80.6 613.1h0M91.2 611.8h0M87.1 615.2h0M87.1 615.0h0M80.3 620.7h0M88.4 600.1h0M82.7 610.1h0M95.8 609.2h0M76.4 602.1h0M87.2 605.6h0M89.1 622.2h0M87.9 609.3h0M88.2 603.2h0M89.9 611.3h0M88.0 614.6h0M97.1 630.4h0M99.9 612.3h0M73.7 603.3h0" stroke="#0a0a0a" stroke-width="1.3" stroke-linecap="round" fill="none"/>
<rect x="42.5" y="575.7" width="62.1" height="59.8" fill="none" stroke="#161616" stroke-width="1.3"/>
<path d="M77.7 575.7V635.5M42.5 599.2H104.6" stroke="#161616" stroke-width="1.05" fill="none"/>
<text x="45.8" y="587.1" font-size="11.5" textLength="6.5" lengthAdjust="spacingAndGlyphs" stroke="#000" stroke-width=".5">0</text>
<text x="101.7" y="587.1" font-size="11.5" text-anchor="end" textLength="6.5" lengthAdjust="spacingAndGlyphs" stroke="#000" stroke-width=".5">2</text>
<text x="45.8" y="612.1" font-size="11.5" textLength="13.7" lengthAdjust="spacingAndGlyphs" stroke="#000" stroke-width=".5">90</text>
<text x="101.2" y="628.8" font-size="11.5" text-anchor="end" textLength="6.5" lengthAdjust="spacingAndGlyphs" stroke="#000" stroke-width=".5">8</text>
<clipPath id="clipb4"><rect x="0" y="0" width="109.4" height="787"/></clipPath>
<g font-size="6.9" font-weight="bold" fill="#000" stroke="#000" stroke-width=".35" clip-path="url(#clipb4)">
<text x="44.2" y="642.5" textLength="8.0" lengthAdjust="spacingAndGlyphs">10<tspan dy="-1.9" font-size="5.4">0</tspan></text>
<text x="59.2" y="642.5" textLength="8.0" lengthAdjust="spacingAndGlyphs">10<tspan dy="-1.9" font-size="5.4">1</tspan></text>
<text x="74.6" y="642.5" textLength="8.0" lengthAdjust="spacingAndGlyphs">10<tspan dy="-1.9" font-size="5.4">2</tspan></text>
<text x="90.0" y="642.5" textLength="8.0" lengthAdjust="spacingAndGlyphs">10<tspan dy="-1.9" font-size="5.4">3</tspan></text>
<text x="105.4" y="642.5" textLength="8.0" lengthAdjust="spacingAndGlyphs">10<tspan dy="-1.9" font-size="5.4">4</tspan></text>
<text x="40.6" y="635.6" textLength="8.6" lengthAdjust="spacingAndGlyphs" transform="rotate(-90 40.6 635.6)">10<tspan dy="-1.9" font-size="5.4">0</tspan></text>
<text x="40.6" y="620.7" textLength="8.6" lengthAdjust="spacingAndGlyphs" transform="rotate(-90 40.6 620.7)">10<tspan dy="-1.9" font-size="5.4">1</tspan></text>
<text x="40.6" y="605.7" textLength="8.6" lengthAdjust="spacingAndGlyphs" transform="rotate(-90 40.6 605.7)">10<tspan dy="-1.9" font-size="5.4">2</tspan></text>
<text x="40.6" y="590.8" textLength="8.6" lengthAdjust="spacingAndGlyphs" transform="rotate(-90 40.6 590.8)">10<tspan dy="-1.9" font-size="5.4">3</tspan></text>
<text x="40.6" y="575.8" textLength="8.6" lengthAdjust="spacingAndGlyphs" transform="rotate(-90 40.6 575.8)">10<tspan dy="-1.9" font-size="5.4">4</tspan></text>
</g>
</g>
<g id="b5">
<path d="M170.8 622.3h0M168.5 620.7h0M171.1 622.3h0M173.6 615.4h0M176.6 602.0h0M172.5 626.3h0M167.2 620.4h0M171.4 625.9h0M173.3 612.6h0M169.7 619.5h0M174.6 617.4h0M173.3 626.9h0M168.6 624.8h0M164.6 624.1h0M156.6 625.5h0M164.9 621.6h0M175.9 606.4h0M157.5 630.9h0M173.2 621.5h0M180.8 627.8h0M163.6 618.8h0M171.3 628.3h0M171.3 620.6h0M171.8 623.0h0M160.9 630.2h0M164.2 624.5h0M166.7 624.8h0M174.2 619.0h0M172.5 626.1h0M170.4 618.6h0M172.9 618.6h0M168.5 624.6h0M175.9 614.4h0M167.7 624.7h0M165.0 626.1h0M172.2 611.4h0M168.0 619.8h0M182.3 618.7h0M172.6 620.4h0M164.0 626.5h0M171.6 621.8h0M181.4 620.3h0M163.6 624.1h0M168.3 616.9h0M167.0 620.9h0M170.9 622.8h0M169.1 630.1h0M167.9 627.5h0M161.5 622.2h0M165.1 623.2h0M170.6 614.0h0M176.0 612.5h0M178.4 618.9h0M168.9 627.9h0M167.0 624.4h0M168.8 633.9h0M166.4 620.8h0M169.9 629.6h0M166.6 620.3h0M173.7 622.0h0M172.8 614.7h0M180.8 623.1h0M164.8 623.7h0M171.6 620.3h0M175.3 622.7h0M166.7 618.2h0M159.0 630.5h0M165.2 631.5h0M179.6 617.7h0M177.3 625.2h0M171.4 615.6h0M162.7 624.0h0M167.9 619.1h0M173.7 627.5h0M167.3 624.2h0M163.7 625.5h0M177.8 625.4h0M168.9 618.8h0M175.5 608.0h0M165.2 621.1h0M170.9 625.2h0M183.1 619.8h0M163.2 618.1h0M178.3 622.6h0M175.7 627.4h0M168.9 615.4h0M158.2 627.4h0M171.8 625.0h0M170.7 621.2h0M166.4 627.8h0M172.3 618.1h0M163.2 624.2h0M164.4 627.0h0M163.6 628.1h0M166.0 627.6h0M180.3 610.4h0M175.9 632.4h0M175.2 620.7h0M171.9 619.9h0M155.3 616.6h0M163.9 622.7h0M176.4 620.4h0M161.8 629.8h0M165.2 631.8h0M165.6 629.7h0M168.9 620.4h0M175.0 618.4h0M156.6 632.5h0M163.0 624.2h0M172.5 625.1h0M167.8 617.9h0M162.6 620.3h0M166.3 620.8h0M172.0 617.4h0M179.1 627.3h0M171.6 620.4h0M173.9 615.3h0M172.2 628.6h0M172.2 620.3h0M166.5 621.6h0M182.4 626.3h0M177.8 618.2h0M169.3 618.2h0M164.8 629.2h0M170.1 615.3h0M163.3 628.2h0M164.5 631.7h0M173.5 614.2h0M169.8 627.7h0M175.0 619.4h0M168.0 622.1h0M173.9 623.5h0M166.8 621.4h0M168.2 622.3h0M163.8 618.8h0M171.6 625.9h0M172.7 627.6h0M173.2 624.7h0M169.2 611.7h0M175.9 625.0h0M158.3 618.8h0M162.9 624.7h0M167.4 615.2h0M165.2 618.5h0M170.1 621.5h0M168.9 619.9h0M168.7 627.9h0M162.6 626.3h0M165.1 623.4h0M167.6 630.3h0M173.9 618.5h0M180.8 617.2h0M175.0 613.4h0M164.6 621.9h0M183.3 620.1h0M168.0 625.2h0M168.5 622.7h0M166.5 629.6h0M169.7 618.4h0M173.7 625.4h0M170.2 620.7h0M174.9 623.9h0M179.3 614.3h0M171.6 621.7h0M167.1 624.6h0M159.8 624.0h0M162.3 628.3h0M164.9 620.1h0M168.1 626.5h0M160.9 613.5h0M181.0 614.2h0M171.9 615.5h0M167.4 624.5h0M169.7 619.9h0M177.8 614.0h0M172.6 632.8h0M166.3 615.4h0M174.6 623.0h0M181.8 626.6h0M172.8 627.1h0M167.9 618.8h0M162.6 621.7h0M164.8 634.3h0M162.5 619.7h0M166.1 617.9h0M180.3 627.3h0M172.1 620.9h0M168.9 626.1h0M177.1 624.0h0M168.0 625.3h0M162.3 628.3h0M177.7 624.3h0M161.0 619.7h0M181.1 616.4h0M169.2 625.0h0M169.7 625.9h0M171.4 618.1h0M160.7 625.2h0M163.6 620.6h0M173.6 624.3h0M165.6 620.2h0M158.1 624.6h0M161.6 618.7h0M169.4 624.8h0M173.0 632.6h0M171.4 624.8h0M194.1 618.2h0M171.5 624.1h0M169.6 624.4h0M165.6 617.4h0M164.2 630.3h0M180.1 618.2h0M161.5 621.0h0M182.8 625.8h0M176.0 619.0h0M169.9 628.8h0M166.1 619.5h0M155.8 627.6h0M166.5 619.9h0M175.9 614.5h0M176.7 619.9h0M170.5 627.0h0M166.3 632.5h0M165.9 622.8h0M173.4 622.2h0M167.4 629.2h0M164.5 626.2h0M165.2 624.9h0M173.2 620.0h0M167.2 630.3h0M171.0 617.8h0M166.1 622.2h0M184.6 615.5h0M180.0 620.9h0M174.9 621.0h0M158.2 628.7h0M169.8 618.9h0M179.3 618.1h0M164.4 613.8h0M178.0 624.2h0M158.8 622.1h0M172.2 614.3h0M170.6 620.8h0M177.1 618.3h0M171.7 620.1h0M158.4 628.5h0M176.6 617.6h0M170.7 621.8h0M174.4 622.9h0M173.5 615.0h0M161.7 633.0h0M167.0 624.4h0M177.0 615.8h0M179.3 617.3h0M158.6 629.3h0M170.8 623.0h0M174.6 633.3h0M179.8 622.0h0M167.0 624.0h0M175.8 627.8h0M164.7 633.1h0M177.7 620.7h0M171.1 619.2h0M171.9 628.8h0M176.6 625.9h0M173.3 618.9h0M179.6 627.0h0M181.5 619.8h0M163.6 631.2h0M163.5 620.8h0M177.8 621.6h0M174.4 628.7h0M170.0 626.4h0M174.1 623.8h0M174.5 623.4h0M158.7 627.1h0M168.8 618.7h0M173.6 618.6h0M165.3 628.6h0M163.5 623.1h0M166.9 621.7h0M173.3 625.7h0M166.9 626.2h0M167.8 623.4h0M166.0 628.0h0M167.0 622.9h0M164.6 621.2h0M172.1 620.4h0M164.8 631.4h0M177.4 614.8h0M173.0 617.6h0M172.5 625.6h0M162.3 621.5h0M167.7 625.9h0M172.0 618.5h0M175.1 630.1h0M168.0 616.3h0M169.1 616.4h0M164.7 622.4h0M180.5 627.8h0M179.8 623.0h0M169.9 631.1h0M175.3 614.4h0M181.6 617.9h0M172.4 625.7h0M180.0 616.3h0M179.5 626.2h0M172.9 628.7h0M170.1 621.0h0M172.3 624.1h0M181.3 625.5h0M175.1 620.9h0M170.4 621.8h0M161.4 630.5h0M176.5 614.2h0M171.8 622.4h0M167.2 618.7h0M162.2 628.0h0M169.8 619.0h0M174.0 619.5h0M170.9 620.9h0M177.9 620.1h0M166.8 617.3h0M183.6 620.0h0M178.1 613.0h0M169.7 622.6h0M167.4 625.7h0M173.5 626.9h0M172.2 615.6h0M174.8 619.5h0M180.4 622.2h0M172.9 617.0h0M174.2 628.1h0M172.3 627.0h0M160.9 623.7h0M168.9 621.2h0M166.5 628.7h0M170.2 624.7h0M172.2 627.4h0M155.2 620.5h0M174.9 626.7h0M172.0 624.5h0M171.3 627.7h0M171.1 618.5h0M177.7 615.5h0M163.9 632.8h0M170.4 623.7h0M163.7 628.5h0M169.4 622.5h0M178.5 618.7h0M174.4 617.6h0M169.0 620.2h0M175.8 624.2h0M172.4 620.9h0M161.4 626.3h0M180.3 618.4h0M177.7 627.9h0M168.2 623.0h0M173.8 626.2h0M179.6 620.4h0M168.1 625.3h0M175.2 627.8h0M165.3 628.4h0M173.3 625.1h0M173.1 626.9h0M171.3 623.1h0M181.9 611.9h0M182.3 618.5h0M171.0 628.7h0M167.8 624.0h0M169.1 628.2h0M162.8 625.1h0M167.9 629.0h0M178.7 623.6h0M166.4 623.2h0M164.7 627.7h0M166.3 625.2h0M163.5 627.3h0M180.4 616.1h0M168.4 618.9h0M165.1 625.2h0M160.0 623.4h0M167.4 611.9h0M167.0 615.5h0M166.8 625.8h0M167.4 629.0h0M164.2 627.1h0M185.6 615.0h0M168.0 627.4h0M171.3 617.9h0M169.5 620.8h0M168.4 623.6h0M160.4 628.2h0M172.6 629.1h0M167.3 619.1h0M177.0 626.5h0M174.9 611.0h0M180.6 615.8h0M167.3 631.3h0M169.2 617.8h0M171.6 620.3h0M166.3 616.8h0M171.6 624.8h0M168.2 621.9h0M170.7 633.5h0M167.4 619.2h0M166.7 626.4h0M166.9 618.0h0M166.1 622.5h0M173.1 619.4h0M158.6 615.1h0M170.9 621.3h0M160.9 626.0h0M166.6 626.2h0M173.1 626.1h0M163.9 621.0h0M171.0 618.9h0M157.4 618.1h0M169.1 627.9h0M169.8 624.9h0M177.2 627.5h0M170.1 626.7h0M170.2 622.4h0M169.8 626.0h0M169.1 625.6h0M167.1 620.6h0M167.7 621.7h0M170.8 620.4h0M169.5 620.3h0M164.6 628.9h0M177.3 622.3h0M164.6 622.0h0M166.9 618.2h0M180.0 619.6h0M172.9 620.8h0M176.3 625.4h0M164.3 621.9h0M175.2 625.5h0M168.7 629.1h0M174.2 618.1h0M182.4 615.6h0M174.3 626.5h0M173.1 623.3h0M168.3 623.4h0M167.3 616.3h0M178.5 616.9h0M170.9 618.4h0M173.8 620.4h0M177.9 612.3h0M166.2 615.6h0M177.1 628.1h0M172.6 625.1h0M180.6 621.9h0M167.7 618.6h0M173.3 621.8h0M170.1 615.8h0M173.0 632.9h0M168.5 623.3h0M174.8 619.8h0M160.3 631.4h0M173.1 619.3h0M172.2 619.1h0M172.3 621.9h0M176.4 625.2h0M173.3 631.2h0M169.1 624.8h0M167.8 624.3h0M182.6 616.3h0M172.9 622.8h0M171.1 625.0h0M164.2 629.5h0M166.7 629.1h0M173.6 621.9h0M172.6 628.9h0M163.7 613.1h0M167.0 625.3h0M168.7 627.8h0M174.9 615.8h0M164.2 626.9h0M165.6 617.2h0M174.2 617.3h0M164.7 612.3h0M171.9 620.1h0M176.3 618.1h0M176.4 612.5h0M172.6 613.9h0M158.6 607.7h0M165.6 623.4h0M162.2 624.3h0M171.6 615.9h0M164.1 630.5h0M166.4 625.5h0M177.2 617.2h0M160.0 623.3h0M163.6 624.6h0M178.3 620.7h0M172.1 628.9h0M174.9 615.4h0M168.8 621.2h0M159.2 619.8h0M161.5 626.3h0M171.2 630.1h0M172.7 627.9h0M168.1 617.6h0M166.6 622.6h0M161.7 624.6h0M167.4 621.2h0M163.2 625.7h0M166.4 623.9h0M171.7 616.1h0M165.2 622.6h0M167.0 627.3h0M171.6 625.0h0M172.3 622.7h0M166.1 620.6h0M168.1 627.9h0M180.4 613.7h0M172.9 629.3h0M179.5 615.3h0M160.8 629.4h0M175.5 628.1h0M173.4 629.5h0M170.4 633.3h0M174.9 623.4h0M174.4 626.3h0M173.6 622.0h0M170.8 623.9h0M163.0 617.1h0M175.2 618.7h0M167.9 629.6h0M169.9 623.6h0M165.3 631.6h0M171.8 626.2h0M168.1 632.2h0M168.9 627.4h0M171.7 625.1h0M175.3 610.9h0M169.6 616.7h0M170.4 629.7h0M165.6 624.1h0M161.4 618.0h0M165.9 621.2h0M179.6 614.1h0M165.7 622.0h0M177.3 629.6h0M170.6 624.8h0M172.7 631.4h0M170.2 612.3h0M174.5 615.0h0M159.9 622.9h0M154.4 626.4h0M170.3 624.3h0M167.5 617.9h0M173.6 617.5h0M166.8 623.2h0M167.7 625.7h0M172.7 621.6h0M162.1 617.0h0M180.8 620.4h0M163.7 625.1h0M188.3 616.5h0M167.2 622.2h0M165.2 625.7h0M169.6 624.9h0M175.2 618.5h0M173.9 623.4h0M164.2 623.8h0M170.3 622.2h0M168.7 622.3h0M161.6 624.8h0M165.1 618.6h0M170.1 621.1h0M172.9 621.5h0M168.3 625.7h0M170.4 624.4h0M170.6 626.1h0M180.0 627.3h0M163.1 616.3h0M168.2 625.8h0M176.6 626.0h0M171.5 624.7h0M167.5 627.7h0M171.1 627.7h0M167.3 616.7h0M171.6 627.3h0M181.3 611.5h0M169.1 626.7h0M174.0 625.9h0M171.4 620.6h0M160.5 625.9h0M179.1 620.6h0M174.7 622.7h0M166.1 626.7h0M170.8 625.5h0M164.4 632.8h0M171.4 618.0h0M178.3 622.7h0M161.3 628.5h0M165.5 625.7h0M176.2 621.9h0M173.5 623.0h0M171.5 628.0h0M166.7 627.8h0M173.4 622.2h0M174.1 622.6h0M168.6 628.5h0M170.0 622.8h0M166.0 622.9h0M174.7 614.6h0M150.2 623.5h0M167.3 628.8h0M175.3 629.8h0M175.8 626.4h0M169.0 607.8h0M164.7 624.0h0M172.7 626.7h0M184.2 622.6h0M181.4 625.6h0M169.0 625.0h0M177.7 610.0h0M183.3 622.8h0M175.7 625.6h0M168.6 625.7h0M176.4 629.5h0M163.3 624.5h0M177.2 626.0h0M162.6 627.8h0M158.6 617.0h0M162.9 621.2h0M170.3 625.7h0M174.0 619.4h0M174.8 614.7h0M180.9 622.6h0M173.4 626.1h0M174.6 625.0h0M167.2 618.9h0M167.8 614.9h0M171.3 630.5h0M157.3 633.3h0M169.6 620.7h0M172.1 615.5h0M172.7 614.6h0M189.2 617.3h0M159.2 624.5h0M183.3 608.9h0M188.4 608.5h0M172.3 621.5h0M173.0 618.8h0M162.2 620.4h0M173.2 606.8h0M172.8 632.3h0M183.1 604.4h0M176.4 610.3h0M171.9 607.3h0M182.8 611.6h0M152.9 615.0h0M190.7 589.6h0M179.2 611.0h0M179.3 606.7h0M170.0 609.6h0M170.3 619.7h0M184.7 601.4h0M172.2 623.6h0M175.9 608.1h0M177.7 618.0h0M184.1 619.9h0M160.7 617.4h0M163.3 625.2h0M166.2 628.9h0M164.1 614.3h0M177.7 608.4h0M182.3 606.7h0M192.8 608.0h0M186.9 606.9h0M175.2 607.5h0M176.0 614.9h0M163.5 620.1h0M183.6 598.4h0M163.6 629.1h0M168.9 621.8h0M171.2 619.0h0M165.9 624.8h0M177.6 615.7h0M149.8 622.4h0M191.2 590.4h0M163.3 613.0h0M170.6 608.8h0M166.2 620.5h0M171.7 611.6h0M176.1 601.3h0M171.3 610.9h0M167.8 618.4h0M172.1 617.8h0M180.3 611.1h0M194.5 625.7h0M168.7 623.9h0M178.6 606.1h0M180.2 614.8h0M181.7 613.8h0M179.6 617.7h0M180.6 624.7h0M171.8 605.6h0M176.3 618.1h0M170.4 620.1h0M183.5 604.8h0M162.1 630.6h0M176.4 615.6h0M153.9 629.2h0M175.2 623.4h0M181.1 618.1h0M174.1 615.8h0M192.3 604.3h0M177.6 609.9h0M176.3 607.2h0M177.9 614.1h0M184.3 616.2h0M184.6 613.3h0M165.7 620.1h0M177.9 617.7h0M175.4 623.6h0M173.1 630.0h0M179.1 610.9h0M180.6 605.0h0M167.6 619.9h0M185.6 605.5h0M170.8 609.8h0M168.5 620.4h0M170.8 626.8h0M173.2 613.0h0M178.1 616.4h0M170.4 606.2h0M171.8 619.7h0M180.7 606.7h0M177.4 609.0h0M165.4 626.2h0M173.2 618.1h0M172.6 616.0h0M167.3 613.6h0M170.3 614.8h0M180.0 618.7h0M184.6 605.9h0M179.9 617.0h0M154.8 624.3h0M168.5 617.0h0M178.5 611.4h0M179.2 617.4h0M166.6 608.2h0M165.2 633.1h0M189.5 607.8h0M177.9 611.5h0M177.1 618.4h0M174.7 619.4h0M176.7 616.7h0M169.6 605.3h0M162.2 620.3h0M164.7 619.4h0M180.1 598.1h0M177.4 622.8h0M161.6 614.9h0M178.6 611.2h0M174.9 628.3h0M177.7 620.6h0M180.9 618.9h0M167.4 617.9h0M192.1 600.6h0M177.4 619.9h0M181.2 612.7h0M175.5 610.1h0M169.0 612.9h0M163.2 610.9h0M182.4 630.5h0M178.3 615.9h0M190.5 614.4h0M191.1 595.0h0M178.3 606.1h0M173.9 609.9h0M163.5 626.5h0M173.3 608.8h0M163.9 617.9h0M172.7 622.5h0M172.6 618.5h0M198.0 608.5h0M183.1 618.1h0M178.1 617.4h0M164.0 612.3h0M170.3 613.0h0M189.1 610.3h0M182.2 606.7h0M193.0 618.5h0M176.7 610.6h0M180.4 616.7h0M174.9 610.0h0M177.6 611.8h0M172.8 608.9h0M172.2 622.3h0M176.5 604.5h0M183.8 608.4h0M177.6 609.9h0M190.4 608.1h0M185.1 604.5h0M174.2 613.1h0M165.6 627.5h0M159.0 626.4h0M183.4 618.5h0M169.9 613.6h0M179.9 608.4h0M171.5 610.5h0M189.9 608.1h0M187.1 610.7h0M179.8 609.9h0M176.2 604.9h0M175.7 612.9h0M172.8 619.6h0M175.2 620.6h0M160.3 625.8h0M170.6 620.5h0M187.6 603.8h0M160.0 625.4h0M166.8 618.2h0M171.2 618.0h0M181.0 610.3h0M169.3 609.6h0M183.0 605.8h0M176.9 614.7h0M172.6 620.0h0M179.1 626.5h0M168.7 616.3h0M168.3 616.4h0M171.4 612.3h0M174.1 604.0h0M174.1 617.4h0M166.3 618.5h0M170.8 614.0h0M163.1 624.8h0M162.7 620.1h0M189.2 624.0h0M179.7 625.7h0M178.5 618.9h0M182.6 607.6h0M176.7 619.3h0M178.9 613.0h0M177.8 619.9h0M179.6 591.9h0M196.0 594.7h0M192.9 594.5h0M193.4 594.6h0M194.3 596.4h0M192.2 597.7h0M191.6 594.3h0M202.3 594.0h0M191.7 597.7h0M188.7 595.9h0M196.4 590.7h0M187.1 596.7h0M197.5 592.2h0M193.1 597.3h0M190.8 595.9h0M187.6 595.7h0M189.4 594.6h0M196.2 594.6h0M192.6 594.0h0M183.8 595.2h0M184.7 596.6h0M189.0 595.9h0M186.2 595.5h0M194.2 594.2h0M185.0 590.9h0M187.4 593.8h0M187.7 594.7h0M191.1 596.3h0M202.1 595.3h0M201.2 594.0h0M200.5 593.9h0M192.5 596.8h0M185.4 594.4h0M188.1 594.5h0M185.0 596.4h0M188.2 594.8h0M193.1 594.8h0M193.0 594.5h0M192.7 596.0h0M185.7 594.3h0M199.0 591.4h0M186.0 595.5h0M193.0 595.7h0M184.8 599.4h0M189.6 595.2h0M189.8 594.0h0M186.8 594.1h0M191.9 593.7h0M184.3 593.9h0M189.5 594.2h0M191.7 595.9h0M198.4 594.7h0M188.5 596.1h0M183.5 595.4h0M200.1 596.2h0M194.8 593.7h0M187.1 594.4h0M189.3 594.5h0M192.9 598.7h0M193.9 595.3h0M196.2 595.5h0M192.8 593.7h0M192.2 596.9h0M187.4 594.3h0M194.9 594.2h0M196.2 592.8h0M188.0 594.1h0M202.3 594.2h0M193.6 597.2h0M189.6 597.2h0M188.5 594.9h0M188.4 595.7h0M199.3 594.1h0M188.0 596.2h0M191.7 597.5h0M193.8 596.4h0M186.7 596.1h0M192.0 594.3h0M190.1 596.6h0M185.7 596.1h0M201.5 596.1h0M187.9 597.6h0M186.0 595.1h0M195.3 595.5h0M193.8 591.0h0M196.7 594.1h0M194.7 596.0h0M193.5 595.5h0M198.8 593.5h0M201.8 595.3h0M189.4 595.7h0M189.2 593.7h0M197.6 597.2h0M193.2 595.8h0M186.0 595.8h0M182.6 597.6h0M202.6 595.5h0M187.3 595.8h0M189.1 595.0h0M187.8 595.9h0M186.9 595.2h0M198.4 595.2h0M189.9 596.3h0M193.8 594.9h0M192.0 596.5h0M192.5 596.4h0M187.6 596.7h0M184.4 596.1h0M195.1 591.2h0M195.8 590.8h0M190.1 595.9h0M191.9 593.0h0M195.4 593.4h0M190.3 592.6h0M190.9 593.6h0M201.2 594.9h0M188.9 596.5h0M200.5 595.1h0M191.0 595.2h0M194.5 596.8h0M199.7 597.8h0M183.9 596.4h0M190.3 594.1h0M192.3 595.8h0M196.6 593.4h0M183.2 595.4h0M199.2 595.5h0M197.7 595.5h0M192.3 594.8h0M192.0 596.5h0M191.5 596.8h0M190.9 594.3h0M191.7 595.5h0M195.2 598.2h0M200.2 595.1h0M188.6 593.1h0M184.2 597.9h0M185.9 595.1h0M198.5 593.3h0M186.0 592.6h0M192.1 593.3h0M194.9 593.0h0M185.2 597.2h0M182.9 592.4h0M202.5 591.9h0M197.3 594.9h0M187.1 596.6h0M189.0 593.7h0M191.4 592.2h0M192.4 592.8h0M190.5 595.7h0M183.9 594.9h0M192.7 595.9h0M197.1 595.4h0M184.1 593.7h0M182.0 594.7h0M193.0 596.2h0M187.9 594.4h0M183.7 597.9h0M192.3 597.7h0M186.5 597.9h0M185.7 595.1h0M191.7 594.8h0M190.0 597.5h0M190.1 600.1h0M195.4 593.4h0M181.3 598.1h0M182.6 600.3h0M182.4 590.5h0M195.8 597.8h0M185.9 596.5h0M176.1 594.8h0M193.1 591.9h0M191.3 597.5h0M189.1 597.9h0M202.6 596.0h0M181.8 594.0h0M190.4 599.7h0M181.7 590.4h0M185.4 591.5h0M178.5 597.4h0M179.3 599.4h0M183.4 593.4h0M199.4 597.7h0M180.4 598.9h0M198.4 595.0h0M197.9 594.0h0M187.0 593.9h0M181.8 595.6h0M189.0 597.3h0M201.4 596.9h0M184.5 591.0h0M182.5 597.3h0M179.2 596.7h0M184.1 595.7h0M197.8 599.4h0M190.0 593.1h0M178.3 594.6h0M182.6 596.9h0M192.5 596.2h0M188.7 596.1h0M181.8 596.0h0M196.2 594.4h0M183.0 594.8h0M195.3 594.9h0M177.3 596.7h0M181.9 598.4h0M188.6 593.6h0M188.1 603.2h0M197.5 595.2h0M197.8 595.9h0M184.9 596.7h0M178.1 593.4h0M182.5 595.7h0M195.7 606.3h0M180.4 617.5h0M197.8 608.1h0M192.2 608.3h0M201.9 610.2h0M189.5 605.8h0M198.3 600.8h0M190.8 619.5h0M188.0 609.8h0M195.6 610.7h0M192.5 608.9h0M199.2 600.5h0M189.9 612.0h0M201.0 616.6h0M187.2 602.8h0M196.2 607.5h0M181.3 605.6h0M187.7 615.9h0M194.0 611.0h0M184.2 602.4h0M194.5 604.5h0M181.5 609.0h0M197.3 612.6h0M202.3 610.3h0M188.9 617.5h0M177.6 610.0h0M185.8 618.7h0M195.8 617.9h0M180.6 614.4h0M196.0 616.2h0M190.9 608.8h0M195.8 623.7h0M189.5 601.5h0M176.5 604.6h0M188.0 604.3h0M183.2 600.6h0M187.3 607.8h0M188.4 594.4h0M190.1 600.7h0M189.7 608.9h0M194.1 618.8h0M199.5 603.7h0M186.7 601.9h0M198.8 611.3h0M194.0 620.9h0M190.5 604.1h0M200.3 620.2h0M184.7 614.7h0M189.2 617.0h0M185.5 609.6h0M201.3 599.4h0M191.8 612.4h0M192.1 601.7h0M201.4 589.1h0M184.0 620.8h0M183.6 610.5h0M176.5 610.3h0M175.6 594.0h0M190.9 615.1h0M181.1 606.0h0M190.8 608.2h0M183.5 605.8h0M200.9 620.3h0M191.6 607.6h0M191.8 608.0h0M193.4 603.9h0M192.5 615.4h0M175.6 606.0h0M198.4 607.6h0M182.7 611.1h0M185.7 599.7h0M189.3 619.0h0M180.2 606.4h0M184.1 610.4h0M188.4 616.7h0M189.6 606.5h0M189.1 613.2h0M190.1 608.0h0M197.3 610.3h0M185.4 610.7h0M185.3 614.4h0M189.9 609.1h0M189.5 615.5h0M183.0 614.7h0M192.0 616.0h0M176.5 607.3h0M187.4 598.4h0M200.2 607.7h0M197.0 601.6h0M183.8 612.2h0M201.1 613.4h0M193.8 603.9h0M191.8 628.3h0M182.0 598.3h0M181.5 600.7h0M191.6 608.1h0M174.1 592.4h0M175.7 607.7h0M195.9 605.2h0M200.6 619.1h0M191.4 602.6h0M188.9 615.0h0M185.8 603.8h0M199.7 606.4h0M189.3 614.5h0M186.3 601.7h0M184.5 599.1h0M186.9 615.9h0M189.0 609.5h0M194.4 604.4h0M193.2 611.3h0M188.9 618.5h0M190.3 609.8h0M191.3 606.9h0M188.0 617.9h0M191.8 608.5h0M194.9 612.4h0M184.1 617.0h0M187.1 604.9h0M182.6 597.9h0M185.8 605.0h0M170.6 610.0h0M184.0 614.3h0M195.0 608.4h0M189.0 602.9h0M195.3 608.5h0M184.2 602.8h0M194.7 612.1h0M192.5 606.3h0M162.4 604.3h0M175.4 597.9h0M171.5 606.7h0M191.3 597.4h0M180.2 602.2h0M189.9 597.8h0M191.2 595.0h0M190.3 596.5h0M170.5 601.5h0M186.2 600.7h0M180.8 603.5h0M172.6 594.4h0M179.7 601.9h0M165.4 603.1h0M191.4 591.6h0M189.5 594.2h0M181.4 601.5h0M201.6 595.4h0M164.3 600.3h0M169.0 595.9h0M166.8 602.1h0M155.4 600.2h0M172.7 596.8h0M189.8 597.1h0M176.1 599.8h0M177.2 601.9h0M170.6 595.3h0M191.0 598.4h0M189.1 597.7h0M167.0 598.0h0M183.9 594.1h0M166.8 600.5h0M191.5 594.9h0M190.4 599.7h0M185.0 596.7h0M183.1 598.9h0M178.7 601.8h0M178.5 589.4h0M174.8 600.3h0M179.6 594.5h0M164.0 597.3h0M191.8 596.7h0M174.8 598.5h0M175.3 600.9h0M167.1 601.5h0M169.7 602.0h0M186.3 603.0h0M179.4 601.6h0" stroke="#0a0a0a" stroke-width="1.3" stroke-linecap="round" fill="none"/>
<rect x="144.8" y="575.6" width="58.9" height="59.8" fill="none" stroke="#161616" stroke-width="1.3"/>
<path d="M178 575.6V635.4M144.8 599.1H203.7" stroke="#161616" stroke-width="1.05" fill="none"/>
<text x="147.1" y="587.5" font-size="11.5" textLength="6.5" lengthAdjust="spacingAndGlyphs" stroke="#000" stroke-width=".5">3</text>
<text x="199.6" y="587.1" font-size="11.5" text-anchor="end" textLength="13.7" lengthAdjust="spacingAndGlyphs" stroke="#000" stroke-width=".5">16</text>
<text x="148.6" y="612.1" font-size="11.5" textLength="13.7" lengthAdjust="spacingAndGlyphs" stroke="#000" stroke-width=".5">71</text>
<text x="198.8" y="629.0" font-size="11.5" text-anchor="end" textLength="13.7" lengthAdjust="spacingAndGlyphs" stroke="#000" stroke-width=".5">11</text>
<g font-size="6.9" font-weight="bold" fill="#000" stroke="#000" stroke-width=".35">
<text x="145.5" y="642.6" textLength="8.0" lengthAdjust="spacingAndGlyphs">10<tspan dy="-1.9" font-size="5.4">0</tspan></text>
<text x="160.5" y="642.6" textLength="8.0" lengthAdjust="spacingAndGlyphs">10<tspan dy="-1.9" font-size="5.4">1</tspan></text>
<text x="174.8" y="642.6" textLength="8.0" lengthAdjust="spacingAndGlyphs">10<tspan dy="-1.9" font-size="5.4">2</tspan></text>
<text x="189.2" y="642.6" textLength="8.0" lengthAdjust="spacingAndGlyphs">10<tspan dy="-1.9" font-size="5.4">3</tspan></text>
<text x="203.5" y="642.6" textLength="8.0" lengthAdjust="spacingAndGlyphs">10<tspan dy="-1.9" font-size="5.4">4</tspan></text>
<text x="142.9" y="635.5" textLength="8.6" lengthAdjust="spacingAndGlyphs" transform="rotate(-90 142.9 635.5)">10<tspan dy="-1.9" font-size="5.4">0</tspan></text>
<text x="142.9" y="620.5" textLength="8.6" lengthAdjust="spacingAndGlyphs" transform="rotate(-90 142.9 620.5)">10<tspan dy="-1.9" font-size="5.4">1</tspan></text>
<text x="142.9" y="605.6" textLength="8.6" lengthAdjust="spacingAndGlyphs" transform="rotate(-90 142.9 605.6)">10<tspan dy="-1.9" font-size="5.4">2</tspan></text>
<text x="142.9" y="590.7" textLength="8.6" lengthAdjust="spacingAndGlyphs" transform="rotate(-90 142.9 590.7)">10<tspan dy="-1.9" font-size="5.4">3</tspan></text>
<text x="142.9" y="575.7" textLength="8.6" lengthAdjust="spacingAndGlyphs" transform="rotate(-90 142.9 575.7)">10<tspan dy="-1.9" font-size="5.4">4</tspan></text>
</g>
</g>
<g id="b6">
<path d="M64.7 742.8h0M63.7 741.2h0M62.2 742.4h0M68.0 745.4h0M72.6 738.8h0M67.0 740.8h0M68.2 734.3h0M71.5 726.6h0M71.0 731.7h0M73.8 739.4h0M65.5 735.6h0M69.1 742.7h0M65.4 742.7h0M60.8 729.2h0M68.0 739.9h0M77.7 737.0h0M69.9 732.7h0M68.7 741.3h0M66.5 743.6h0M75.5 741.5h0M68.3 737.7h0M71.6 733.7h0M73.4 735.8h0M70.0 733.3h0M63.9 734.7h0M71.2 738.9h0M69.0 743.5h0M64.2 743.0h0M65.7 734.3h0M65.9 743.8h0M76.8 736.0h0M63.2 731.0h0M68.7 740.7h0M70.5 739.9h0M75.4 738.9h0M70.5 737.3h0M63.8 727.8h0M68.7 735.7h0M65.9 735.6h0M68.7 739.2h0M57.3 736.8h0M70.6 740.2h0M67.3 739.4h0M60.5 740.3h0M67.0 738.8h0M71.7 739.1h0M62.7 728.8h0M66.1 738.5h0M69.5 743.5h0M70.3 740.0h0M59.6 742.3h0M72.2 734.8h0M68.9 741.6h0M63.8 730.5h0M70.6 735.9h0M67.5 739.0h0M67.0 742.4h0M69.8 739.9h0M72.7 738.3h0M62.2 738.5h0M61.8 739.6h0M62.6 738.4h0M74.6 741.8h0M64.5 731.6h0M66.2 743.5h0M71.2 731.1h0M72.7 739.9h0M72.1 745.3h0M64.3 741.3h0M69.3 743.8h0M67.0 731.7h0M69.3 743.3h0M67.2 737.3h0M69.3 737.9h0M66.4 736.5h0M75.8 736.5h0M69.4 744.2h0M73.9 730.6h0M64.7 732.5h0M67.9 727.6h0M61.5 737.9h0M70.2 732.9h0M69.7 744.8h0M63.8 744.8h0M68.3 727.8h0M69.2 739.2h0M75.8 735.2h0M77.6 738.4h0M71.2 737.7h0M71.1 744.7h0M68.5 736.1h0M71.8 737.4h0M69.9 743.5h0M69.3 740.4h0M69.5 739.1h0M72.8 744.5h0M70.0 730.2h0M61.1 742.6h0M75.9 745.0h0M66.2 739.8h0M66.0 740.7h0M68.2 733.8h0M71.7 738.8h0M79.2 744.3h0M61.0 743.0h0M64.1 735.7h0M67.7 732.3h0M83.8 742.7h0M64.2 744.3h0M57.3 744.8h0M69.2 739.9h0M73.3 739.8h0M71.6 734.1h0M70.9 737.4h0M71.4 737.9h0M70.9 736.4h0M62.4 735.2h0M73.5 737.6h0M69.3 737.2h0M73.3 735.0h0M55.6 735.5h0M65.7 744.7h0M64.8 736.3h0M71.6 742.6h0M67.0 745.1h0M66.7 739.6h0M64.2 728.2h0M65.3 735.7h0M60.9 741.2h0M76.6 742.6h0M71.4 736.1h0M65.9 745.2h0M76.8 736.0h0M70.8 738.8h0M72.3 735.3h0M73.6 736.9h0M70.2 735.5h0M73.9 737.3h0M71.7 738.6h0M72.9 741.0h0M81.2 735.0h0M73.0 736.3h0M69.4 730.5h0M74.9 727.2h0M72.6 731.3h0M67.1 741.2h0M64.8 740.5h0M68.4 735.6h0M70.8 746.1h0M70.4 739.0h0M69.4 738.5h0M75.1 743.2h0M68.1 740.8h0M63.7 738.6h0M70.2 738.5h0M68.3 743.6h0M72.2 742.0h0M57.0 739.6h0M65.1 735.9h0M68.9 741.6h0M59.0 746.4h0M71.2 738.0h0M63.2 731.9h0M75.9 734.8h0M66.9 736.9h0M77.2 733.1h0M63.9 745.8h0M69.6 733.7h0M65.6 743.2h0M67.4 738.3h0M87.1 741.0h0M64.1 741.3h0M63.2 735.3h0M66.4 732.8h0M69.9 738.7h0M68.0 743.1h0M74.2 738.0h0M74.9 745.3h0M66.3 743.2h0M63.0 732.7h0M68.6 743.6h0M80.1 739.2h0M75.0 732.1h0M70.4 745.1h0M65.8 739.7h0M63.1 734.4h0M72.8 743.4h0M71.0 736.5h0M67.6 743.9h0M75.5 734.5h0M66.7 742.6h0M68.4 739.9h0M65.6 738.1h0M69.9 739.9h0M75.1 740.7h0M68.5 742.4h0M60.4 737.5h0M70.1 738.2h0M67.9 739.2h0M63.9 744.3h0M65.6 742.9h0M72.2 729.0h0M60.4 731.7h0M67.0 736.8h0M60.7 735.9h0M58.5 734.7h0M69.3 741.2h0M70.0 746.3h0M63.4 735.0h0M69.9 743.4h0M67.9 740.6h0M77.0 736.0h0M69.7 733.9h0M73.2 730.9h0M69.0 736.9h0M70.1 739.8h0M67.0 736.0h0M69.2 739.5h0M64.5 740.1h0M65.5 737.3h0M66.2 732.0h0M58.1 746.3h0M63.2 735.1h0M68.7 742.6h0M67.4 734.1h0M72.5 741.7h0M65.6 738.7h0M70.4 733.6h0M68.8 731.5h0M70.5 744.3h0M74.6 741.2h0M66.1 738.0h0M64.7 738.1h0M60.4 726.2h0M69.0 736.8h0M63.2 735.0h0M71.9 736.5h0M72.4 741.2h0M63.3 746.5h0M73.5 734.1h0M68.8 733.3h0M67.6 743.7h0M66.5 734.6h0M71.0 733.7h0M68.7 744.3h0M71.6 735.1h0M66.0 743.9h0M76.9 735.8h0M67.7 734.8h0M62.7 733.7h0M66.5 744.2h0M64.9 732.3h0M71.9 730.9h0M64.6 744.1h0M73.7 743.8h0M64.1 742.8h0M70.4 734.9h0M71.1 737.3h0M57.3 734.1h0M64.2 732.8h0M71.8 742.5h0M68.5 738.3h0M67.4 734.4h0M64.4 742.7h0M72.6 738.4h0M72.6 737.5h0M67.0 737.6h0M73.9 737.7h0M55.6 738.8h0M67.5 739.0h0M67.8 739.4h0M78.3 740.9h0M70.2 730.9h0M65.3 734.8h0M64.6 736.7h0M62.4 732.4h0M65.5 741.1h0M66.7 741.5h0M76.7 734.1h0M67.6 740.6h0M60.0 738.4h0M66.1 740.8h0M71.3 731.2h0M62.4 743.5h0M65.3 746.2h0M64.8 733.2h0M66.0 745.0h0M60.6 735.4h0M70.7 739.4h0M66.8 741.3h0M63.4 743.1h0M68.7 736.1h0M67.1 736.3h0M68.8 728.8h0M67.1 734.2h0M63.7 744.9h0M69.9 736.6h0M69.0 735.1h0M69.3 739.8h0M65.6 737.2h0M69.7 740.4h0M66.4 740.2h0M73.4 742.4h0M68.8 739.1h0M76.9 740.5h0M68.1 737.9h0M77.9 735.8h0M78.8 739.1h0M71.9 738.5h0M72.9 742.8h0M66.5 735.6h0M61.0 733.9h0M71.2 739.7h0M68.5 738.0h0M67.2 742.2h0M67.7 738.1h0M75.2 738.6h0M68.1 736.9h0M65.8 736.3h0M71.3 731.9h0M65.8 735.9h0M55.0 741.9h0M61.0 738.0h0M68.8 734.5h0M67.5 735.6h0M64.1 737.7h0M64.9 732.0h0M72.3 733.5h0M72.4 742.9h0M72.7 742.0h0M64.3 740.8h0M68.4 741.4h0M67.6 745.6h0M71.2 743.4h0M81.0 735.1h0M68.5 732.6h0M63.4 735.8h0M72.4 734.9h0M78.3 741.8h0M71.5 736.0h0M72.9 734.9h0M73.2 741.9h0M72.7 736.5h0M62.0 730.2h0M63.9 737.4h0M64.9 736.4h0M70.0 735.5h0M69.0 732.5h0M71.1 737.6h0M73.8 744.5h0M66.7 743.8h0M67.9 739.9h0M57.3 738.7h0M70.4 745.9h0M76.5 745.2h0M72.1 739.0h0M68.5 745.4h0M61.0 737.8h0M59.5 734.3h0M69.6 741.7h0M60.4 735.2h0M58.3 742.5h0M60.4 738.1h0M79.0 737.2h0M70.6 731.4h0M63.7 744.9h0M63.4 734.4h0M75.8 745.7h0M72.7 727.6h0M63.9 739.4h0M59.3 732.9h0M65.1 741.8h0M58.6 724.5h0M61.9 732.4h0M66.6 739.1h0M72.8 734.9h0M66.1 735.1h0M69.6 735.9h0M57.8 735.6h0M68.3 736.7h0M76.5 728.5h0M71.9 737.1h0M74.7 738.7h0M66.8 736.3h0M66.8 738.6h0M77.5 744.8h0M65.4 735.9h0M65.9 737.3h0M63.5 744.4h0M67.6 740.5h0M70.5 737.8h0M64.4 735.2h0M60.5 736.6h0M67.9 743.8h0M66.0 743.2h0M64.8 734.7h0M70.0 731.4h0M66.4 734.0h0M66.7 744.6h0M64.7 734.1h0M71.6 738.3h0M55.1 736.0h0M67.3 746.5h0M65.6 728.1h0M65.2 741.3h0M67.7 730.4h0M63.8 734.7h0M73.3 741.3h0M63.7 745.2h0M74.3 737.8h0M70.6 734.2h0M62.0 742.0h0M70.7 743.5h0M72.8 740.0h0M79.0 728.5h0M68.5 744.9h0M67.2 738.4h0M72.5 744.6h0M75.6 745.6h0M71.9 736.5h0M70.4 738.8h0M77.5 743.7h0M58.8 728.1h0M63.1 731.7h0M61.7 741.2h0M71.0 737.5h0M69.5 739.1h0M65.4 741.3h0M66.8 743.3h0M62.9 737.7h0M72.1 746.2h0M68.0 737.3h0M59.8 745.4h0M66.3 738.5h0M69.0 735.6h0M60.2 737.0h0M82.8 738.8h0M69.2 738.9h0M68.3 739.6h0M65.3 734.3h0M61.8 737.9h0M72.4 741.0h0M78.3 735.3h0M62.9 736.7h0M73.1 728.7h0M73.5 739.5h0M76.8 738.5h0M64.1 732.4h0M75.8 741.2h0M66.6 738.2h0M70.7 741.0h0M66.2 741.2h0M63.8 732.3h0M70.9 732.4h0M63.6 735.1h0M65.6 731.1h0M76.4 742.5h0M83.0 738.0h0M67.4 741.8h0M77.0 735.2h0M73.6 741.6h0M66.9 737.2h0M71.8 737.7h0M70.8 736.2h0M71.9 739.1h0M75.8 741.3h0M65.2 736.7h0M69.5 734.8h0M65.8 741.1h0M57.3 735.3h0M70.9 729.5h0M73.2 732.8h0M68.4 744.6h0M62.8 741.3h0M66.3 740.9h0M73.4 733.1h0M63.2 735.8h0M72.4 742.6h0M73.6 739.8h0M64.7 743.0h0M66.5 736.4h0M70.5 740.2h0M67.0 745.6h0M71.3 742.9h0M77.7 740.9h0M76.3 731.8h0M69.6 736.6h0M64.6 739.9h0M64.1 743.2h0M75.3 732.4h0M73.3 743.9h0M74.2 735.4h0M69.1 746.5h0M71.4 739.8h0M72.9 739.0h0M61.0 741.0h0M68.5 740.3h0M66.3 737.8h0M68.3 732.1h0M63.4 742.1h0M74.5 741.0h0M55.5 737.1h0M79.0 736.4h0M71.9 739.4h0M79.4 737.7h0M75.7 736.9h0M70.8 742.6h0M61.8 744.8h0M71.0 744.5h0M57.5 733.3h0M70.4 730.4h0M68.6 733.1h0M64.0 742.5h0M74.7 739.6h0M79.6 733.6h0M68.6 742.5h0M70.1 733.9h0M74.7 737.7h0M66.6 745.4h0M60.0 732.9h0M68.8 734.9h0M68.3 740.7h0M72.2 735.0h0M73.2 733.6h0M70.9 739.1h0M67.0 735.9h0M75.8 742.9h0M73.4 738.4h0M84.5 737.5h0M62.0 738.5h0M75.6 734.8h0M65.8 741.9h0M80.0 739.8h0M64.8 735.9h0M74.7 741.9h0M77.6 737.5h0M74.1 743.6h0M81.3 740.3h0M67.7 733.3h0M64.1 734.9h0M61.7 738.1h0M74.3 734.2h0M74.1 737.8h0M71.4 732.0h0M68.1 729.9h0M58.6 740.7h0M67.4 739.6h0M81.1 738.5h0M65.5 741.9h0M70.4 738.3h0M61.8 739.5h0M76.5 741.3h0M71.7 743.1h0M54.0 738.8h0M66.5 741.8h0M63.8 741.5h0M65.8 732.0h0M73.5 737.2h0M72.9 736.2h0M70.7 744.6h0M65.7 740.9h0M64.1 727.3h0M67.5 734.7h0M73.8 739.0h0M73.7 734.8h0M60.0 741.4h0M61.9 732.0h0M61.3 737.6h0M70.6 736.1h0M67.8 738.9h0M79.0 739.6h0M72.7 729.9h0M66.6 742.2h0M74.4 740.4h0M65.9 744.3h0M61.7 737.4h0M64.6 737.4h0M65.5 740.2h0M67.9 735.1h0M80.1 734.6h0M62.9 740.9h0M62.8 733.3h0M70.2 731.4h0M65.1 741.0h0M68.0 739.7h0M70.2 731.7h0M68.3 731.4h0M70.0 739.6h0M66.3 726.8h0M63.2 732.7h0M72.2 737.9h0M69.8 739.6h0M70.7 738.8h0M72.7 734.1h0M73.5 740.6h0M82.9 730.1h0M70.3 739.0h0M65.9 743.9h0M76.8 740.0h0M65.4 742.7h0M65.9 741.2h0M73.5 735.0h0M71.7 730.4h0M67.8 733.1h0M65.1 743.7h0M62.3 735.3h0M70.3 740.0h0M69.5 738.4h0M63.1 735.6h0M62.8 731.7h0M65.9 729.0h0M72.3 740.4h0M65.3 733.7h0M75.0 742.6h0M68.6 737.6h0M71.4 739.5h0M75.4 735.1h0M77.2 740.9h0M72.0 729.3h0M59.6 740.9h0M70.3 733.6h0M68.5 736.2h0M70.3 736.0h0M73.2 730.3h0M60.8 744.9h0M77.4 732.4h0M77.5 733.3h0M72.8 738.2h0M73.2 744.5h0M64.5 741.7h0M80.5 727.5h0M68.6 740.9h0M76.1 733.6h0M64.1 742.9h0M73.0 736.2h0M73.6 741.4h0M62.9 726.4h0M69.0 743.4h0M64.8 737.5h0M78.2 741.5h0M61.4 728.7h0M72.7 733.8h0M65.6 740.5h0M68.0 741.5h0M73.1 735.6h0M69.0 735.5h0M66.8 739.9h0M71.3 737.4h0M71.9 721.8h0M70.7 737.8h0M69.0 742.9h0M75.8 739.5h0M67.7 745.2h0M70.7 736.4h0M67.2 742.0h0M67.7 743.3h0M65.7 731.0h0M67.8 727.5h0M73.8 740.0h0M70.6 745.0h0M68.8 735.9h0M65.0 732.4h0M60.2 732.4h0M72.5 738.7h0M66.2 740.4h0M62.3 728.4h0M81.1 730.1h0M72.4 736.5h0M76.0 740.2h0M72.9 733.0h0M66.6 742.6h0M67.0 738.2h0M75.7 738.3h0M77.6 731.7h0M69.4 733.1h0M72.0 730.0h0M64.2 736.2h0M70.0 737.1h0M62.7 737.4h0M67.7 732.0h0M72.1 734.1h0M60.3 729.6h0M68.1 739.1h0M62.0 740.0h0M71.5 733.8h0M76.8 743.1h0M69.4 737.1h0M75.0 736.7h0M78.9 746.2h0M74.1 745.9h0M58.6 731.8h0M59.9 732.3h0M73.1 733.3h0M74.2 735.0h0M62.1 743.3h0M75.5 739.0h0M65.4 740.9h0M69.8 745.7h0M64.5 735.8h0M69.9 738.8h0M71.5 736.2h0M67.8 732.1h0M65.8 738.3h0M67.3 738.0h0M62.5 743.3h0M65.1 739.0h0M76.6 743.2h0M71.7 735.7h0M66.0 736.5h0M65.2 739.1h0M70.0 740.1h0M64.5 739.3h0M71.0 736.2h0M63.4 736.9h0M70.9 741.7h0M63.0 733.0h0M61.3 741.7h0M65.7 736.6h0M69.5 735.7h0M73.0 732.2h0M66.2 730.8h0M70.9 730.4h0M73.3 735.2h0M69.4 738.4h0M72.2 741.3h0M69.0 741.7h0M74.6 741.1h0M71.4 738.4h0M77.6 744.0h0M78.1 734.3h0M73.5 738.6h0M67.8 733.8h0M70.3 731.3h0M69.6 746.0h0M69.1 735.5h0M57.3 737.4h0M80.8 739.9h0M72.9 738.1h0M70.7 734.4h0M72.3 736.5h0M81.2 741.1h0M70.7 728.2h0M69.6 713.5h0M85.1 734.5h0M75.9 734.7h0M92.6 729.4h0M69.9 739.8h0M72.1 722.9h0M74.9 720.5h0M80.6 724.0h0M65.4 737.3h0M78.9 732.6h0M57.0 735.2h0M72.2 727.5h0M64.4 736.8h0M74.9 728.1h0M90.6 731.5h0M74.5 725.6h0M72.5 727.7h0M94.0 728.1h0M84.9 725.7h0M72.1 729.7h0M80.6 731.1h0M62.3 729.9h0M73.9 741.8h0M66.9 730.4h0M75.0 722.7h0M70.9 731.4h0M72.2 731.6h0M79.3 730.8h0M76.6 724.3h0M74.5 721.3h0M78.5 730.8h0M77.9 722.4h0M79.2 730.9h0M63.0 741.5h0M60.9 743.0h0M81.5 729.2h0M84.0 733.2h0M77.0 724.5h0M70.5 736.3h0M83.4 738.0h0M63.2 724.4h0M80.0 728.8h0M96.6 731.7h0M84.2 741.3h0M88.3 742.1h0M85.9 727.4h0M78.8 723.0h0M70.0 724.1h0M47.3 739.9h0M76.0 737.6h0M60.8 736.2h0M45.9 732.3h0M65.4 739.6h0M76.0 727.1h0M69.3 728.3h0M79.9 729.5h0M73.9 725.0h0M71.4 723.2h0M70.1 734.9h0M85.5 728.3h0M75.6 737.8h0M63.8 744.4h0M72.2 727.0h0M82.4 721.0h0M77.4 731.4h0M87.5 735.3h0M61.0 737.1h0M65.6 735.7h0M79.4 727.7h0M80.5 722.1h0M51.9 741.8h0M70.9 730.2h0M58.4 742.9h0M89.0 743.1h0M77.5 739.1h0M78.8 732.8h0M64.8 744.4h0M85.1 734.8h0M64.5 727.6h0M65.7 730.6h0M77.2 742.7h0M84.5 725.8h0M77.5 737.2h0M78.2 744.7h0M66.1 728.0h0M68.3 726.6h0M82.6 725.4h0M51.2 733.3h0M70.0 731.1h0M75.1 738.9h0M61.3 744.9h0M57.0 727.6h0M75.6 737.3h0M74.7 722.1h0M72.2 740.9h0M74.5 738.3h0M65.6 733.1h0M78.5 740.4h0M84.4 736.8h0M77.6 731.7h0M59.3 731.1h0M85.0 728.7h0M68.6 732.5h0M61.7 734.0h0M86.7 735.2h0M81.0 732.3h0M77.9 733.2h0M74.4 736.8h0M80.5 716.3h0M81.8 733.8h0M68.8 735.1h0M79.0 735.0h0M68.4 742.9h0M55.1 725.3h0M77.9 741.9h0M88.5 732.1h0M76.9 723.1h0M81.8 726.7h0M74.8 732.8h0M78.1 740.7h0M81.4 725.7h0M68.2 733.0h0M57.4 736.4h0M69.9 738.1h0M77.3 733.3h0M76.2 716.0h0M74.7 744.5h0M59.8 730.1h0M60.9 730.7h0M58.4 725.6h0M71.5 726.8h0M56.0 734.5h0M51.9 736.4h0M75.7 726.1h0M75.4 730.1h0M57.2 735.9h0M75.3 731.0h0M49.5 726.0h0M62.6 742.5h0M63.1 733.5h0M90.4 727.9h0M72.9 738.5h0M62.6 731.8h0M81.4 738.5h0M74.2 741.4h0M65.7 726.9h0M71.0 737.9h0M69.0 736.3h0M85.0 711.6h0M79.4 735.4h0M79.6 728.7h0M61.1 739.0h0M81.3 731.1h0M70.3 731.2h0M85.9 730.5h0M77.4 729.2h0M64.5 731.7h0M66.0 736.5h0M75.0 718.7h0M78.9 724.5h0M65.4 742.3h0M69.2 736.7h0M77.1 725.3h0M56.7 738.4h0M66.3 727.7h0M61.6 738.0h0M62.8 735.2h0M63.7 733.5h0M67.3 735.3h0M76.2 730.5h0M81.2 720.1h0M60.4 730.1h0M71.1 722.6h0M70.3 727.1h0M72.4 729.4h0M79.2 739.4h0M75.8 733.6h0M77.6 745.0h0M68.2 742.0h0M71.4 725.4h0M81.1 734.8h0M58.1 735.0h0M83.9 716.9h0M80.5 726.5h0M74.8 727.4h0M78.7 720.2h0M88.8 732.0h0M80.4 724.6h0M86.6 734.2h0M83.8 734.8h0M76.6 738.9h0M85.2 708.3h0M85.5 709.3h0M89.6 707.1h0M94.0 710.2h0M79.2 707.8h0M92.1 708.7h0M87.3 705.5h0M86.9 709.0h0M87.4 707.2h0M92.4 704.6h0M91.3 705.3h0M94.4 708.9h0M96.3 705.6h0M87.7 704.9h0M91.9 708.8h0M96.8 706.4h0M63.5 713.1h0M94.4 706.9h0M89.5 707.7h0M90.9 706.3h0M92.2 706.4h0M89.0 705.2h0M89.1 705.7h0M90.3 707.7h0M88.3 708.4h0M85.4 706.2h0M96.5 707.0h0M81.7 708.1h0M85.2 707.2h0M95.3 706.0h0M100.6 707.6h0M86.3 706.2h0M95.9 707.7h0M88.2 706.4h0M86.8 704.1h0M78.0 707.4h0M93.8 705.2h0M91.5 707.0h0M90.8 709.0h0M87.8 705.2h0M87.9 708.0h0M97.2 709.4h0M80.4 709.1h0M75.5 707.0h0M88.0 705.3h0M95.2 707.2h0M85.6 706.1h0M88.0 703.6h0M100.7 705.4h0M83.1 707.0h0M92.9 708.4h0M95.7 704.0h0M93.0 715.4h0M79.3 729.7h0M88.9 718.9h0M80.9 724.2h0M96.3 713.5h0M99.8 720.4h0M78.9 741.5h0M96.1 731.0h0M71.8 728.9h0M76.0 722.7h0M90.1 743.2h0M79.6 717.9h0M94.6 722.8h0M98.1 709.0h0M82.8 724.6h0M76.6 724.3h0M86.5 724.5h0M93.0 733.7h0M90.1 737.9h0M100.3 721.9h0M82.1 729.5h0M92.3 743.1h0M84.6 722.4h0M81.0 719.8h0M76.0 720.4h0M75.4 719.8h0M98.4 717.0h0M88.8 712.3h0M81.3 720.2h0M99.6 722.2h0M100.9 722.7h0M87.8 731.1h0M79.2 717.5h0M80.5 724.3h0M95.5 717.5h0M100.8 732.7h0M100.1 724.4h0M90.0 724.2h0M86.9 723.2h0M102.0 731.5h0M94.4 719.4h0M75.9 724.3h0M86.4 726.5h0M87.0 710.4h0M83.4 729.5h0M80.2 723.5h0M91.6 713.8h0M85.8 729.1h0M90.9 733.2h0M86.0 717.8h0M89.9 733.0h0M92.8 717.4h0M86.3 727.4h0M91.2 728.0h0M95.1 733.9h0M70.7 722.1h0M83.1 727.1h0" stroke="#0a0a0a" stroke-width="1.3" stroke-linecap="round" fill="none"/>
<rect x="42.4" y="689.2" width="60.9" height="58.3" fill="none" stroke="#161616" stroke-width="1.3"/>
<path d="M76.7 689.2V747.5M42.4 712.5H103.3" stroke="#161616" stroke-width="1.05" fill="none"/>
<text x="45.2" y="701.7" font-size="11.5" textLength="6.5" lengthAdjust="spacingAndGlyphs" stroke="#000" stroke-width=".5">0</text>
<text x="101.7" y="701.7" font-size="11.5" text-anchor="end" textLength="6.5" lengthAdjust="spacingAndGlyphs" stroke="#000" stroke-width=".5">2</text>
<text x="45.2" y="725.4" font-size="11.5" textLength="13.7" lengthAdjust="spacingAndGlyphs" stroke="#000" stroke-width=".5">92</text>
<text x="102.0" y="746.0" font-size="11.5" text-anchor="end" textLength="6.5" lengthAdjust="spacingAndGlyphs" stroke="#000" stroke-width=".5">6</text>
<g font-size="6.9" font-weight="bold" fill="#000" stroke="#000" stroke-width=".35">
<text x="43.1" y="754.7" textLength="8.0" lengthAdjust="spacingAndGlyphs">10<tspan dy="-1.9" font-size="5.4">0</tspan></text>
<text x="58.5" y="754.7" textLength="8.0" lengthAdjust="spacingAndGlyphs">10<tspan dy="-1.9" font-size="5.4">1</tspan></text>
<text x="73.4" y="754.7" textLength="8.0" lengthAdjust="spacingAndGlyphs">10<tspan dy="-1.9" font-size="5.4">2</tspan></text>
<text x="88.5" y="754.7" textLength="8.0" lengthAdjust="spacingAndGlyphs">10<tspan dy="-1.9" font-size="5.4">3</tspan></text>
<text x="103.1" y="754.7" textLength="8.0" lengthAdjust="spacingAndGlyphs">10<tspan dy="-1.9" font-size="5.4">4</tspan></text>
<text x="40.5" y="747.6" textLength="8.6" lengthAdjust="spacingAndGlyphs" transform="rotate(-90 40.5 747.6)">10<tspan dy="-1.9" font-size="5.4">0</tspan></text>
<text x="40.5" y="733.0" textLength="8.6" lengthAdjust="spacingAndGlyphs" transform="rotate(-90 40.5 733.0)">10<tspan dy="-1.9" font-size="5.4">1</tspan></text>
<text x="40.5" y="718.5" textLength="8.6" lengthAdjust="spacingAndGlyphs" transform="rotate(-90 40.5 718.5)">10<tspan dy="-1.9" font-size="5.4">2</tspan></text>
<text x="40.5" y="703.9" textLength="8.6" lengthAdjust="spacingAndGlyphs" transform="rotate(-90 40.5 703.9)">10<tspan dy="-1.9" font-size="5.4">3</tspan></text>
<text x="40.5" y="689.3" textLength="8.6" lengthAdjust="spacingAndGlyphs" transform="rotate(-90 40.5 689.3)">10<tspan dy="-1.9" font-size="5.4">4</tspan></text>
</g>
</g>
<g id="c1">
<path d="M324.9 379.1h0M313.7 377.4h0M324.2 381.6h0M317.8 372.9h0M315.8 379.8h0M322.5 374.7h0M317.0 378.0h0M317.8 374.9h0M319.5 378.4h0M325.1 372.5h0M320.3 371.7h0M322.6 375.5h0M316.8 379.1h0M321.6 373.9h0M326.4 379.0h0M328.9 377.5h0M314.8 382.4h0M318.4 382.4h0M319.7 378.0h0M319.3 374.5h0M317.6 375.2h0M325.9 370.0h0M314.9 372.4h0M311.3 379.6h0M323.8 377.5h0M318.5 374.9h0M323.7 369.0h0M316.7 381.6h0M315.7 381.4h0M322.5 374.5h0M320.6 376.5h0M309.0 370.3h0M314.2 381.3h0M311.3 380.9h0M322.8 380.9h0M312.4 380.2h0M321.0 378.5h0M317.8 387.3h0M318.3 383.3h0M319.1 379.4h0M327.0 374.6h0M317.1 374.2h0M313.1 375.4h0M323.2 366.9h0M312.7 390.3h0M323.1 372.6h0M320.3 372.6h0M317.8 380.8h0M319.4 375.0h0M326.9 374.8h0M316.7 373.7h0M318.7 376.2h0M320.5 380.2h0M317.3 380.1h0M322.8 376.2h0M323.8 365.4h0M315.9 374.3h0M324.5 385.3h0M311.8 381.7h0M321.7 375.9h0M318.9 370.2h0M320.5 371.8h0M315.4 383.0h0M319.0 374.0h0M315.2 379.5h0M318.4 377.1h0M309.5 373.8h0M324.4 374.1h0M310.3 376.7h0M315.2 378.5h0M313.8 388.3h0M319.7 375.3h0M320.7 377.2h0M323.3 374.8h0M327.4 378.3h0M316.5 377.2h0M314.8 379.6h0M316.0 379.8h0M321.3 378.3h0M316.8 384.4h0M317.3 378.2h0M312.1 373.2h0M315.7 371.5h0M323.2 374.3h0M326.4 374.8h0M324.8 379.6h0M322.2 382.3h0M318.9 378.8h0M317.4 381.3h0M320.2 374.0h0M313.7 381.4h0M320.1 375.8h0M313.3 378.4h0M311.6 370.6h0M319.8 383.7h0M313.2 380.9h0M327.0 374.5h0M322.0 374.3h0M320.3 390.2h0M320.5 377.4h0M327.1 375.0h0M316.4 374.1h0M317.8 377.6h0M314.1 377.1h0M314.6 380.3h0M317.4 380.6h0M323.5 375.4h0M322.5 382.2h0M317.9 371.2h0M316.4 380.4h0M317.1 382.6h0M307.4 377.3h0M323.9 376.3h0M312.6 382.7h0M321.4 370.2h0M311.2 377.6h0M310.8 375.4h0M313.5 374.8h0M324.2 384.1h0M316.7 383.5h0M317.9 367.1h0M319.1 377.2h0M319.3 381.0h0M317.8 380.0h0M316.9 378.4h0M320.9 386.8h0M315.9 374.4h0M330.0 376.3h0M316.4 376.2h0M318.7 383.5h0M315.8 376.5h0M321.4 374.2h0M323.0 383.5h0M325.0 378.7h0M323.4 380.2h0M320.3 381.0h0M321.9 373.2h0M314.9 383.1h0M319.7 379.8h0M317.6 381.0h0M328.0 381.7h0M326.6 373.3h0M322.9 371.3h0M323.6 374.4h0M324.7 374.5h0M316.2 376.2h0M323.8 373.9h0M322.6 376.8h0M312.1 385.7h0M318.2 379.9h0M316.4 370.7h0M317.3 378.4h0M322.4 379.2h0M315.5 379.0h0M316.9 370.2h0M323.8 369.1h0M324.2 374.0h0M328.5 374.9h0M314.6 372.6h0M320.0 378.2h0M317.9 372.2h0M313.7 377.8h0M317.8 374.1h0M320.4 380.7h0M320.2 382.9h0M319.3 376.0h0M324.2 375.7h0M316.2 376.7h0M319.3 378.8h0M323.8 374.9h0M313.2 375.5h0M320.6 378.0h0M321.9 372.6h0M315.6 384.1h0M315.2 374.5h0M327.3 375.2h0M319.6 378.2h0M318.1 382.8h0M316.0 377.6h0M314.9 375.1h0M326.6 379.4h0M316.9 369.2h0M316.0 376.6h0M315.2 370.1h0M309.2 382.8h0M322.1 374.0h0M325.4 368.3h0M318.5 377.0h0M318.0 383.4h0M311.1 378.5h0M316.2 377.3h0M321.9 372.6h0M319.6 374.7h0M323.7 373.6h0M315.9 371.9h0M320.0 373.5h0M323.4 376.4h0M323.5 379.3h0M318.1 373.8h0M319.7 377.6h0M315.5 383.0h0M325.0 373.8h0M320.2 378.6h0M321.8 372.6h0M320.7 372.5h0M322.0 377.5h0M315.2 383.5h0M315.7 372.0h0M315.5 377.1h0M316.2 381.6h0M315.7 380.2h0M313.8 380.1h0M326.8 373.2h0M310.4 379.6h0M314.4 373.2h0M322.4 374.5h0M318.6 378.0h0M313.4 376.3h0M302.8 382.3h0M321.2 378.9h0M313.7 372.7h0M317.5 378.7h0M316.8 385.6h0M314.3 381.0h0M316.5 383.6h0M311.7 378.8h0M320.1 370.5h0M317.8 380.9h0M316.0 371.3h0M320.4 374.9h0M319.5 368.7h0M322.6 376.5h0M316.2 377.5h0M318.6 374.4h0M315.6 376.4h0M320.8 379.2h0M312.5 382.5h0M323.4 381.1h0M318.7 383.6h0M318.1 380.4h0M335.8 364.4h0M332.7 360.2h0M341.2 367.7h0M334.2 363.1h0M332.7 358.8h0M331.5 366.1h0M337.8 361.9h0M330.6 360.4h0M333.4 366.8h0M333.5 358.2h0M331.2 365.9h0M337.5 369.9h0M339.8 363.0h0M332.7 365.0h0M330.3 362.0h0M338.8 365.0h0M339.4 368.6h0M334.2 367.0h0M335.3 364.7h0M336.1 365.4h0M328.8 359.7h0M335.6 365.3h0M333.1 363.6h0M331.0 368.4h0M337.8 368.8h0M333.3 363.6h0M336.4 368.6h0M337.1 364.5h0M328.4 361.9h0M329.7 364.2h0M337.7 363.0h0M333.7 372.0h0M332.5 369.7h0M338.9 363.5h0M338.2 358.3h0M332.6 363.0h0M335.8 362.6h0M340.1 360.6h0M332.8 359.3h0M337.2 366.1h0M331.0 359.6h0M331.3 369.2h0M337.7 363.9h0M337.8 364.7h0M334.7 357.1h0M337.2 365.7h0M339.6 366.2h0M332.8 365.2h0M331.5 370.2h0M330.9 367.5h0M331.3 361.2h0M331.5 363.2h0M337.2 367.4h0M334.6 367.0h0M339.8 370.5h0M333.1 365.3h0M337.2 363.5h0M336.2 360.5h0M332.9 361.6h0M331.7 360.8h0M333.2 359.1h0M333.4 366.3h0M328.4 361.0h0M332.3 359.9h0M333.3 371.5h0M335.4 361.6h0M330.7 358.4h0M328.5 356.0h0M336.1 361.2h0M337.8 362.7h0M330.0 372.5h0M337.4 366.4h0M332.3 362.0h0M335.9 370.4h0M329.5 360.7h0M334.5 355.7h0M338.6 357.9h0M338.6 361.9h0M332.4 359.6h0M339.4 361.2h0M330.9 367.2h0M334.8 365.6h0M333.8 365.3h0M336.3 363.2h0M329.8 366.9h0M339.8 364.0h0M338.7 365.7h0M334.8 367.8h0M333.0 360.0h0M331.6 368.6h0M337.8 365.3h0M331.1 357.3h0M337.3 362.5h0M332.1 361.8h0M331.0 357.2h0M337.6 365.6h0M337.3 361.5h0M329.2 359.6h0M335.5 370.4h0M337.9 362.9h0M337.2 366.2h0M335.2 364.4h0M334.9 361.2h0M330.4 362.5h0M337.0 356.7h0M332.9 362.4h0M334.4 361.9h0M337.0 361.5h0M335.5 366.2h0M331.1 368.9h0M336.9 357.8h0M333.7 360.9h0M334.3 366.8h0M329.3 368.4h0M336.2 363.2h0M341.7 359.8h0M330.1 366.4h0M334.6 361.1h0M325.8 358.4h0M338.7 356.5h0M340.2 365.4h0M327.6 366.3h0M338.0 367.1h0M340.5 367.1h0M334.4 362.7h0M334.6 365.7h0M330.6 360.4h0M343.4 365.1h0M338.1 361.8h0M331.5 362.8h0M331.5 362.0h0M330.2 367.3h0M336.7 366.2h0M334.3 360.9h0M342.5 365.3h0M337.5 366.4h0M334.5 366.6h0M333.3 368.0h0M338.7 365.9h0M336.2 363.7h0M336.3 366.1h0M334.0 366.6h0M336.1 358.2h0M329.4 366.2h0M332.8 360.9h0M329.5 360.6h0M328.9 363.7h0M327.9 358.6h0M335.9 369.3h0M338.7 361.8h0M335.8 362.3h0M333.6 360.8h0M333.7 359.6h0M332.1 363.6h0M336.5 371.2h0M330.7 360.2h0M337.5 365.1h0M336.9 362.5h0M329.4 363.6h0M330.4 364.4h0M340.3 360.8h0M336.2 367.5h0M331.0 367.6h0M332.9 361.3h0M332.5 360.2h0M337.7 363.2h0M333.7 365.8h0M327.0 354.6h0M338.5 360.2h0M336.3 359.5h0M327.6 361.1h0M338.1 364.1h0M333.3 366.6h0M333.9 364.4h0M328.9 356.1h0M335.7 365.9h0M333.3 370.2h0M337.4 369.8h0M338.1 367.5h0M332.4 358.3h0M343.4 366.4h0M336.1 359.5h0M336.7 358.9h0M337.3 366.5h0M335.4 359.4h0M336.9 363.7h0M337.8 367.7h0M331.7 361.0h0M329.1 371.0h0M333.3 369.0h0M337.1 367.6h0M336.0 365.1h0M334.4 365.4h0M332.2 368.3h0M328.5 363.1h0M333.5 364.2h0M333.3 359.9h0M332.1 353.3h0M332.1 363.8h0M333.2 367.7h0M334.6 365.4h0M331.7 367.9h0M335.5 357.1h0M338.1 357.9h0M331.4 367.6h0M341.1 364.3h0M333.3 360.9h0M332.3 364.8h0M334.8 359.5h0M334.0 354.8h0M334.4 359.8h0M332.4 372.4h0M336.2 361.7h0M332.3 369.7h0M334.1 360.5h0M327.5 369.0h0M337.5 364.6h0M329.1 357.6h0M338.0 361.2h0M334.5 353.2h0M334.3 366.3h0M336.2 370.3h0M338.5 366.5h0M336.6 362.0h0M331.0 361.0h0M338.5 361.6h0M327.6 366.0h0M334.3 361.5h0M335.0 359.7h0M342.8 359.4h0M331.3 364.7h0M336.0 366.5h0M335.9 365.7h0M334.3 362.4h0M330.3 361.6h0M333.1 358.8h0M336.9 361.6h0M339.3 365.4h0M336.6 375.1h0M338.6 359.7h0M335.4 360.8h0M331.6 364.8h0M333.8 367.1h0M330.1 365.7h0M339.2 363.2h0M342.9 369.1h0M330.1 363.1h0M334.1 369.6h0M330.8 356.1h0M332.1 362.8h0M333.8 362.9h0M333.8 360.4h0M333.9 361.7h0M332.8 362.7h0M337.6 363.6h0M335.9 360.0h0M328.6 364.2h0M337.3 362.5h0M331.1 358.0h0M334.8 360.0h0M329.2 366.2h0M335.9 367.9h0M328.9 359.3h0M336.5 369.1h0M336.3 353.6h0M327.8 355.1h0M326.0 350.8h0M339.2 353.9h0M331.3 353.9h0M337.7 351.3h0M335.4 353.2h0M329.8 351.4h0M338.5 356.8h0M332.7 352.2h0M344.6 348.5h0M332.2 357.6h0M339.0 353.1h0M324.4 358.3h0M334.3 355.0h0M338.9 355.7h0M340.5 355.2h0M332.3 355.8h0M338.0 350.6h0M327.7 354.1h0M330.2 352.9h0M332.1 351.9h0M335.8 352.7h0M329.4 352.4h0M335.9 351.2h0M332.0 351.3h0M325.2 354.6h0M329.6 353.8h0M333.2 352.1h0M339.3 349.6h0M341.3 351.7h0M348.7 346.9h0M331.8 354.3h0M339.1 350.9h0M339.3 351.7h0M327.6 355.3h0M339.9 352.2h0M334.1 350.8h0M339.9 354.6h0M328.1 355.9h0M325.7 355.6h0M320.8 356.0h0M337.7 348.6h0M328.1 354.7h0M333.9 353.6h0M341.8 348.1h0M335.3 348.1h0M318.5 354.8h0M320.9 357.5h0M340.1 352.4h0M326.0 353.3h0M325.9 354.6h0M330.3 356.4h0M336.6 349.3h0M343.1 350.9h0M339.8 351.4h0M342.7 353.2h0M340.2 354.4h0M338.7 352.4h0M330.0 349.1h0M342.2 352.1h0M329.9 356.0h0M336.2 352.6h0M345.7 352.1h0M328.0 354.7h0M341.4 353.6h0M337.9 351.0h0M336.2 348.0h0M342.1 350.6h0M331.9 351.9h0M335.7 350.6h0M329.4 351.9h0M344.6 349.9h0M338.2 352.6h0M332.4 355.2h0M334.0 351.2h0M329.6 353.2h0M333.5 356.2h0M322.4 358.6h0M344.0 353.8h0M331.0 351.8h0M342.5 352.2h0M336.4 350.3h0M333.1 350.5h0M344.8 352.5h0M333.6 355.5h0M334.9 348.1h0M338.0 350.2h0M336.8 351.1h0M329.7 353.3h0M340.3 348.5h0M329.2 350.7h0M332.5 355.4h0M339.6 352.7h0M338.9 355.2h0M344.3 353.9h0M330.3 352.5h0M340.0 353.0h0M332.4 352.9h0M340.2 351.0h0M331.5 354.4h0M332.6 354.6h0M336.4 351.6h0M331.1 356.0h0M330.7 354.1h0M333.4 353.2h0M333.9 355.3h0M335.3 350.2h0M329.1 356.0h0M334.9 355.5h0M338.5 354.7h0M327.6 353.9h0M341.3 348.1h0M339.1 351.5h0M340.6 350.5h0M331.9 355.4h0M346.2 347.0h0M336.4 350.5h0M338.2 352.9h0M330.6 350.7h0M335.7 352.6h0M340.1 351.2h0M341.2 351.7h0M343.9 352.7h0M328.0 354.0h0M337.6 351.5h0M338.3 355.7h0M330.5 352.4h0M331.4 356.1h0M347.0 347.6h0M347.3 346.3h0M336.3 352.7h0M336.8 350.7h0M329.3 353.9h0M340.9 350.7h0M338.0 353.0h0M342.7 348.2h0M345.2 354.5h0M330.0 356.7h0M325.2 353.5h0M334.0 353.0h0M325.2 353.7h0M327.4 357.0h0M330.7 354.5h0M320.8 356.3h0M304.1 356.5h0M312.7 353.8h0M327.8 356.4h0M317.3 354.4h0M340.3 353.6h0M332.6 356.4h0M330.8 354.0h0M323.6 356.8h0M302.7 355.1h0M328.1 355.8h0M329.3 353.3h0M317.7 352.3h0M326.2 354.6h0M324.9 349.8h0M321.1 352.8h0M332.3 355.7h0M329.9 355.6h0M333.7 354.6h0M317.9 355.7h0M324.9 355.6h0M328.4 354.6h0M326.4 354.6h0M322.3 352.6h0M318.4 354.3h0M338.6 353.1h0M317.4 356.7h0M328.3 353.8h0M331.9 352.0h0M315.2 354.5h0M321.3 354.5h0M324.5 356.8h0M325.0 355.7h0M322.2 352.7h0M323.7 352.7h0M329.8 353.7h0M316.0 355.4h0M325.3 353.6h0M315.8 354.8h0M320.1 354.0h0M301.9 355.1h0M341.6 356.8h0M332.8 353.6h0M332.6 355.3h0M324.7 354.7h0M324.2 351.0h0M332.6 356.1h0M326.5 355.4h0M317.6 355.1h0M318.8 353.0h0M327.0 359.5h0M338.6 353.7h0M321.3 359.7h0M317.3 353.9h0M328.0 358.7h0M336.6 349.3h0M308.7 353.5h0M333.4 352.0h0M318.8 357.8h0M316.5 358.9h0M309.0 354.7h0M334.5 351.6h0M326.6 356.5h0M330.6 355.3h0M328.1 356.0h0M325.3 353.6h0M339.7 351.0h0M324.9 353.1h0M322.3 357.3h0M310.7 352.6h0M327.7 354.6h0M325.0 354.3h0M328.2 353.6h0M333.2 353.7h0M312.4 353.3h0M327.8 352.4h0M310.8 356.9h0M324.2 356.7h0M335.4 350.5h0M327.6 352.7h0M322.3 355.8h0M325.5 354.1h0M325.1 355.2h0M299.1 358.9h0M329.9 355.0h0M323.2 358.3h0M321.3 356.1h0M317.8 350.9h0M325.8 355.4h0M309.0 359.0h0M328.4 354.9h0M315.8 352.6h0M322.0 355.2h0M320.8 354.8h0M326.8 354.9h0M327.7 354.1h0M309.8 356.7h0M326.9 356.7h0M326.8 351.8h0M327.9 357.1h0M339.0 353.4h0M326.0 354.5h0M333.2 355.0h0M344.7 353.5h0M321.9 357.7h0M330.2 352.7h0M324.6 353.5h0M312.3 357.1h0M319.3 355.5h0M328.9 352.8h0M330.1 353.3h0M326.1 353.6h0M315.0 350.8h0M318.4 353.7h0M344.8 352.3h0M326.7 353.2h0M333.7 355.6h0M326.2 355.2h0M306.1 354.6h0M322.7 359.0h0M338.7 356.5h0M329.7 368.5h0M339.5 355.2h0M329.3 370.1h0M324.7 369.8h0M329.9 368.7h0M320.2 373.7h0M327.1 367.4h0M332.2 360.1h0M322.8 377.9h0M323.9 370.4h0M331.1 363.9h0M314.3 380.3h0M331.2 366.4h0M336.5 362.5h0M331.7 372.6h0M315.0 365.7h0M331.0 370.3h0M325.4 366.3h0M333.4 370.1h0M325.7 366.0h0M324.8 373.3h0M319.3 381.5h0M321.8 383.4h0M324.1 376.4h0M323.7 362.7h0M327.8 365.0h0M323.7 373.4h0M314.6 378.8h0M330.0 370.6h0M333.3 366.0h0M309.2 387.3h0M315.4 371.1h0M330.6 371.1h0M324.8 370.0h0M317.4 375.5h0M330.5 367.0h0M325.7 368.2h0M320.5 371.9h0M319.9 382.0h0M319.4 382.2h0M326.9 364.5h0M331.8 367.8h0M330.3 365.7h0M322.1 372.4h0M321.8 367.4h0M330.5 362.6h0M337.0 365.8h0M311.1 378.9h0M320.8 374.7h0M320.2 377.9h0M320.6 369.3h0M328.9 363.6h0M333.9 372.1h0M324.2 369.6h0M316.1 381.6h0M323.1 372.1h0M330.0 361.5h0M332.6 371.3h0M329.1 363.2h0M332.4 363.0h0M335.3 362.7h0M328.3 359.6h0M321.3 363.9h0M326.1 365.6h0M330.2 367.9h0M340.8 360.4h0M326.2 361.0h0M324.9 366.6h0M324.9 371.2h0M331.5 369.6h0M331.9 366.6h0M322.6 373.3h0M328.3 370.3h0M316.5 381.4h0M318.7 379.5h0M320.0 367.9h0M325.7 365.6h0M330.2 367.6h0M327.4 373.4h0M319.1 373.7h0M326.8 372.6h0M317.4 363.3h0M324.1 369.9h0M318.9 369.3h0M317.3 376.8h0M328.7 364.1h0M324.0 369.7h0M327.8 363.9h0M332.3 370.9h0M327.0 365.2h0M326.0 377.2h0M341.3 356.5h0M326.2 375.3h0M324.8 373.4h0M321.1 373.9h0M315.8 380.9h0M307.0 382.9h0M328.8 370.8h0M336.3 364.2h0M326.9 372.9h0M309.6 375.0h0M320.9 363.7h0M331.8 363.1h0M332.0 372.8h0M327.6 370.8h0M322.1 379.4h0M320.5 372.1h0M329.9 369.1h0M319.1 373.6h0M315.9 377.7h0M313.5 377.7h0M331.3 363.2h0M323.9 376.7h0M327.7 371.9h0M322.7 368.7h0M332.5 365.4h0M326.1 371.9h0M334.9 363.5h0M326.1 362.3h0M321.9 372.4h0M321.9 371.5h0M329.0 372.0h0M329.0 369.5h0M328.7 368.0h0M334.6 361.5h0M325.1 369.2h0M323.2 370.3h0M319.6 376.0h0M327.9 367.6h0M334.3 363.4h0M317.3 377.4h0M332.3 367.1h0M321.5 368.6h0M326.3 370.9h0M339.7 360.9h0M326.8 371.6h0M326.8 372.9h0M324.3 371.7h0M317.2 376.9h0M317.8 376.6h0M328.9 372.5h0M324.4 368.3h0M326.8 367.2h0M314.4 382.4h0M322.3 370.8h0M324.5 374.7h0M324.2 367.8h0M328.1 362.7h0M327.4 364.4h0M327.9 375.7h0M324.8 372.2h0M323.1 374.1h0M331.3 367.4h0M333.8 361.6h0M320.3 378.1h0M322.4 377.6h0M330.0 376.0h0M325.7 366.1h0M320.2 374.3h0M323.5 364.2h0M328.3 367.5h0M328.9 366.2h0M332.5 367.7h0M323.6 370.9h0M312.0 373.8h0M324.1 363.8h0M331.0 369.6h0M328.6 372.6h0M336.1 351.3h0M328.5 374.2h0M310.1 377.2h0M323.8 373.2h0M329.8 368.7h0M323.9 372.8h0M323.5 370.0h0M336.4 363.1h0M317.5 380.0h0M320.1 373.8h0M338.7 363.0h0M322.7 370.3h0M335.2 365.5h0M333.6 360.5h0M339.6 351.5h0M330.0 369.1h0M323.7 373.1h0M315.8 380.6h0M329.7 375.6h0M330.2 375.2h0M329.5 368.5h0M334.7 364.5h0M335.9 362.7h0M317.5 383.1h0M320.7 381.1h0M324.2 367.8h0M324.7 365.6h0M319.7 373.5h0M332.7 369.1h0M319.7 375.6h0M329.8 366.9h0M331.2 362.8h0M334.2 366.6h0M331.4 370.7h0M316.7 380.0h0M327.8 368.0h0M332.6 357.1h0M328.5 369.9h0M325.0 371.8h0M333.3 367.9h0M331.3 371.8h0M331.9 371.8h0M324.0 371.1h0M316.2 369.9h0M328.0 368.7h0M322.5 370.0h0M321.8 376.8h0M335.3 364.2h0M337.6 366.7h0M334.9 366.4h0M324.7 371.4h0M333.3 367.5h0M324.5 373.6h0M330.8 368.3h0M326.4 367.9h0M325.3 368.9h0M326.9 362.6h0M329.1 364.7h0M332.0 364.4h0M310.6 363.4h0M333.3 365.4h0M324.4 361.5h0M338.4 371.7h0M337.6 367.4h0M333.7 367.0h0M328.8 346.5h0M323.6 357.8h0M338.1 352.9h0M328.0 365.6h0M328.9 371.8h0M305.4 358.6h0M321.1 364.3h0M330.5 360.8h0M329.9 362.0h0M344.5 350.8h0M341.0 356.2h0M320.5 362.4h0M323.9 355.6h0M315.7 380.3h0M336.1 357.4h0M345.3 389.4h0M329.6 374.3h0M321.3 368.5h0M323.8 371.7h0M317.2 381.0h0M320.4 346.5h0M335.7 357.5h0M325.2 351.8h0M318.1 364.3h0M338.2 352.5h0M333.7 360.5h0M329.1 370.2h0M322.7 358.2h0M330.7 373.5h0M322.4 371.3h0M316.9 374.8h0M337.6 360.6h0M314.8 373.2h0M312.3 367.6h0M315.1 385.3h0M325.5 355.2h0M310.2 370.3h0M332.9 371.8h0M318.7 373.0h0M343.3 359.9h0M342.4 345.6h0M313.5 372.3h0M329.1 368.7h0M329.9 352.8h0M315.3 365.6h0M337.8 358.1h0M312.2 369.8h0M311.5 355.7h0M349.6 356.3h0M339.7 360.5h0M327.1 382.8h0M335.7 352.1h0M314.0 370.6h0M340.5 359.4h0M327.8 367.6h0M331.3 372.4h0M337.1 365.2h0M325.9 379.6h0M331.8 356.0h0M325.9 351.0h0M337.6 364.1h0M332.2 359.3h0M316.3 364.2h0M327.8 348.7h0M329.9 359.6h0M315.9 351.8h0M306.6 357.6h0M342.7 362.2h0M337.6 357.8h0M329.2 373.1h0M326.8 375.5h0M322.6 369.9h0M307.6 380.6h0M329.1 372.4h0M339.6 349.6h0M324.9 345.0h0M338.2 358.3h0M346.4 353.6h0M320.8 362.2h0M339.7 347.1h0M315.0 369.0h0M326.5 370.9h0M334.0 379.3h0M318.6 373.5h0M307.3 359.6h0M335.0 364.8h0M327.5 359.1h0M317.1 368.6h0M317.1 360.3h0M323.7 378.3h0M343.6 347.1h0M317.2 378.8h0M336.0 384.9h0M343.1 356.1h0M321.2 347.1h0M317.3 370.5h0M312.0 366.1h0M325.8 379.1h0M332.3 367.9h0M337.3 363.2h0M327.5 370.0h0M325.5 351.8h0M327.9 371.1h0M318.4 384.4h0M331.3 349.7h0M322.8 383.9h0M321.1 370.7h0M337.7 350.0h0M334.5 363.3h0M315.0 378.6h0M321.5 376.1h0M344.4 366.2h0M325.1 374.1h0M340.2 372.2h0M330.5 352.8h0M316.4 365.9h0M318.8 356.4h0M356.7 348.2h0M327.3 367.1h0M318.9 354.4h0M326.6 378.5h0M348.0 356.9h0M313.8 358.7h0M310.4 382.8h0M329.7 365.8h0M340.1 363.1h0M335.1 369.3h0M346.3 362.2h0M339.9 341.8h0M328.1 376.6h0M316.0 372.4h0M323.5 358.0h0M339.4 359.6h0M345.7 355.2h0M341.5 354.1h0M319.5 359.1h0M335.6 359.9h0M320.3 367.5h0M324.6 370.8h0M327.5 357.1h0M338.2 380.8h0M336.9 360.9h0M340.1 350.8h0M334.5 367.4h0M313.0 358.5h0M353.6 348.1h0M328.2 361.7h0M327.4 355.4h0M328.0 366.0h0M342.7 357.3h0M339.4 362.8h0M344.5 367.2h0M352.1 354.7h0M351.9 375.7h0M337.5 362.2h0M335.3 371.7h0M351.4 361.8h0M335.7 369.3h0M345.7 376.8h0M347.7 359.1h0M336.9 362.7h0M354.0 366.3h0M333.5 366.5h0M343.9 362.0h0M338.9 363.0h0M342.8 361.0h0M351.3 364.9h0M334.6 366.0h0M338.2 364.6h0M348.8 369.1h0M340.5 376.5h0M343.3 373.1h0M348.1 366.8h0M342.3 363.4h0M350.1 374.2h0M332.4 373.4h0M349.3 369.1h0M338.8 364.5h0M341.5 362.6h0M345.0 370.7h0M348.1 370.1h0M343.1 363.0h0M341.2 374.9h0M344.5 383.7h0M343.8 364.3h0M335.3 353.1h0M348.4 368.4h0M347.5 369.0h0M347.1 374.0h0M345.1 380.3h0M340.5 370.1h0M336.0 364.9h0M341.7 354.6h0M342.4 375.7h0M339.4 347.2h0M334.5 364.3h0M339.1 375.2h0M339.4 376.3h0M341.1 374.7h0M344.8 368.4h0M346.0 362.3h0M346.7 366.4h0M334.0 380.6h0M333.8 371.9h0M343.3 360.0h0M342.6 368.9h0M347.4 359.9h0M345.7 345.6h0M347.9 360.1h0M348.3 374.5h0M339.5 368.2h0M347.8 368.7h0M333.8 379.6h0M355.8 367.0h0M337.2 381.9h0M338.1 373.0h0M340.8 366.7h0M341.3 365.3h0M333.9 360.8h0M350.3 372.1h0M336.8 367.4h0M343.4 361.0h0M344.5 375.5h0M334.9 378.9h0M343.9 375.6h0M343.5 359.0h0M340.5 371.6h0M337.9 375.7h0M346.2 340.3h0M335.4 365.8h0M342.7 358.9h0M342.0 380.2h0M344.4 362.9h0M343.7 365.6h0" stroke="#0a0a0a" stroke-width="1.3" stroke-linecap="round" fill="none"/>
<rect x="295.3" y="334.8" width="63.7" height="60.3" fill="none" stroke="#161616" stroke-width="1.3"/>
<path d="M330.1 334.8V395.1M295.3 358.9H359.0" stroke="#161616" stroke-width="1.05" fill="none"/>
<text x="298.6" y="346.6" font-size="11.5" textLength="6.5" lengthAdjust="spacingAndGlyphs" stroke="#000" stroke-width=".5">6</text>
<text x="356.4" y="346.6" font-size="11.5" text-anchor="end" textLength="13.7" lengthAdjust="spacingAndGlyphs" stroke="#000" stroke-width=".5">35</text>
<text x="298.6" y="371.0" font-size="11.5" textLength="13.7" lengthAdjust="spacingAndGlyphs" stroke="#000" stroke-width=".5">27</text>
<text x="356.8" y="391.6" font-size="11.5" text-anchor="end" textLength="13.7" lengthAdjust="spacingAndGlyphs" stroke="#000" stroke-width=".5">32</text>
<g font-size="6.9" font-weight="bold" fill="#000" stroke="#000" stroke-width=".35">
<text x="295.5" y="402.4" textLength="8.0" lengthAdjust="spacingAndGlyphs">10<tspan dy="-1.9" font-size="5.4">0</tspan></text>
<text x="311.2" y="402.4" textLength="8.0" lengthAdjust="spacingAndGlyphs">10<tspan dy="-1.9" font-size="5.4">1</tspan></text>
<text x="327.4" y="402.4" textLength="8.0" lengthAdjust="spacingAndGlyphs">10<tspan dy="-1.9" font-size="5.4">2</tspan></text>
<text x="343.2" y="402.4" textLength="8.0" lengthAdjust="spacingAndGlyphs">10<tspan dy="-1.9" font-size="5.4">3</tspan></text>
<text x="358.9" y="402.4" textLength="8.0" lengthAdjust="spacingAndGlyphs">10<tspan dy="-1.9" font-size="5.4">4</tspan></text>
<text x="293.4" y="395.2" textLength="8.6" lengthAdjust="spacingAndGlyphs" transform="rotate(-90 293.4 395.2)">10<tspan dy="-1.9" font-size="5.4">0</tspan></text>
<text x="293.4" y="380.1" textLength="8.6" lengthAdjust="spacingAndGlyphs" transform="rotate(-90 293.4 380.1)">10<tspan dy="-1.9" font-size="5.4">1</tspan></text>
<text x="293.4" y="365.1" textLength="8.6" lengthAdjust="spacingAndGlyphs" transform="rotate(-90 293.4 365.1)">10<tspan dy="-1.9" font-size="5.4">2</tspan></text>
<text x="293.4" y="350.0" textLength="8.6" lengthAdjust="spacingAndGlyphs" transform="rotate(-90 293.4 350.0)">10<tspan dy="-1.9" font-size="5.4">3</tspan></text>
<text x="293.4" y="334.9" textLength="8.6" lengthAdjust="spacingAndGlyphs" transform="rotate(-90 293.4 334.9)">10<tspan dy="-1.9" font-size="5.4">4</tspan></text>
</g>
</g>
<g id="c2">
<path d="M322.2 492.5h0M334.6 486.0h0M322.4 495.2h0M317.0 493.7h0M321.5 491.5h0M323.1 491.4h0M310.8 495.6h0M312.7 490.8h0M319.6 493.7h0M322.0 489.0h0M321.1 496.8h0M320.9 489.1h0M324.8 488.1h0M324.3 490.0h0M316.1 491.8h0M325.8 502.1h0M321.9 500.9h0M324.6 489.4h0M328.1 495.4h0M318.2 493.7h0M325.6 492.2h0M329.6 489.6h0M316.2 497.6h0M318.0 500.1h0M322.3 491.1h0M319.5 499.7h0M322.1 499.2h0M316.3 496.4h0M316.1 492.8h0M334.8 491.6h0M320.2 498.7h0M316.9 503.5h0M323.8 490.2h0M319.9 496.2h0M321.5 492.0h0M316.8 496.1h0M320.9 498.0h0M321.5 494.9h0M313.5 498.1h0M317.9 494.0h0M319.5 493.8h0M317.2 501.7h0M322.9 490.2h0M320.8 489.7h0M315.5 497.5h0M326.2 489.6h0M315.6 499.6h0M316.9 493.9h0M317.9 488.0h0M310.6 495.2h0M325.1 491.6h0M316.9 494.1h0M326.3 496.3h0M318.8 497.3h0M331.1 489.4h0M320.4 496.4h0M322.9 496.1h0M321.0 491.9h0M321.4 495.9h0M318.5 496.6h0M320.5 500.9h0M324.6 487.2h0M324.5 492.5h0M320.7 493.4h0M324.3 496.7h0M318.8 501.1h0M317.3 491.8h0M322.3 496.5h0M321.3 495.6h0M318.4 493.7h0M322.4 488.6h0M325.4 492.5h0M319.4 494.5h0M319.8 495.1h0M320.4 494.1h0M308.7 493.6h0M320.7 491.5h0M318.4 495.5h0M320.5 502.3h0M320.5 493.9h0M319.1 500.1h0M327.1 496.8h0M322.3 489.4h0M319.5 502.2h0M318.2 496.0h0M321.6 496.4h0M320.5 489.7h0M314.5 491.0h0M322.6 492.3h0M317.2 502.4h0M318.6 491.3h0M318.1 493.8h0M321.8 494.7h0M319.9 497.3h0M310.6 500.8h0M325.6 495.4h0M321.4 489.0h0M314.0 498.2h0M329.9 488.7h0M314.3 491.5h0M320.4 492.6h0M323.2 493.6h0M312.1 500.7h0M322.4 490.4h0M313.8 494.3h0M321.2 504.8h0M324.6 488.6h0M323.4 487.3h0M317.2 493.7h0M321.7 496.9h0M330.0 490.8h0M320.8 495.2h0M320.9 496.2h0M318.3 497.6h0M324.7 495.9h0M318.8 498.0h0M320.0 491.2h0M312.4 498.4h0M323.4 491.1h0M330.4 489.6h0M318.0 496.2h0M323.6 494.5h0M321.0 496.4h0M333.7 488.7h0M320.3 492.5h0M314.8 500.0h0M319.2 495.4h0M320.6 498.3h0M323.1 489.3h0M316.6 499.2h0M326.8 491.7h0M319.3 488.9h0M320.2 497.7h0M322.1 493.3h0M324.9 495.3h0M319.5 492.0h0M316.2 499.0h0M319.8 494.4h0M323.3 489.3h0M321.3 497.1h0M312.6 490.5h0M320.7 498.4h0M318.0 495.4h0M316.9 503.2h0M312.9 497.4h0M324.6 500.7h0M319.5 492.0h0M314.7 497.7h0M314.9 496.0h0M323.8 497.9h0M320.0 501.6h0M318.3 505.6h0M317.6 495.1h0M319.6 496.4h0M319.8 493.6h0M317.0 494.7h0M319.7 492.7h0M315.0 492.1h0M322.0 495.8h0M319.4 500.2h0M320.9 494.8h0M316.1 501.0h0M329.7 496.6h0M318.4 495.9h0M324.7 493.9h0M318.6 496.4h0M325.6 493.3h0M323.0 497.6h0M316.5 499.9h0M317.6 495.2h0M327.7 497.3h0M322.7 493.5h0M328.4 492.0h0M311.5 498.8h0M316.9 494.3h0M316.9 500.5h0M325.4 499.0h0M320.1 495.5h0M320.5 499.5h0M329.2 495.8h0M323.2 489.9h0M323.1 488.4h0M318.3 495.6h0M326.7 486.5h0M317.9 497.9h0M326.4 492.8h0M321.0 490.4h0M322.5 499.2h0M319.8 492.2h0M322.8 499.3h0M328.0 490.8h0M321.9 501.5h0M318.9 496.5h0M322.5 493.2h0M324.0 499.6h0M318.9 489.4h0M321.9 499.9h0M318.1 491.9h0M325.3 493.3h0M322.5 495.9h0M320.1 496.0h0M321.8 491.2h0M323.0 487.9h0M328.5 488.9h0M319.6 489.9h0M321.9 489.8h0M322.8 493.1h0M322.2 501.8h0M320.4 492.5h0M320.5 496.3h0M323.1 496.7h0M319.5 496.6h0M317.7 493.7h0M322.1 489.8h0M316.8 500.8h0M320.5 497.5h0M324.1 494.4h0M324.9 498.7h0M320.0 500.7h0M321.2 495.7h0M321.5 498.1h0M321.8 491.8h0M322.4 495.7h0M326.2 501.9h0M322.2 491.7h0M325.3 492.4h0M318.6 494.8h0M317.2 501.0h0M326.3 490.0h0M314.4 491.6h0M316.9 497.8h0M318.6 495.7h0M317.8 496.3h0M320.8 495.6h0M321.9 494.7h0M317.7 495.8h0M315.7 496.3h0M322.0 495.8h0M314.3 495.3h0M316.5 492.4h0M319.7 494.6h0M322.2 501.0h0M320.2 496.3h0M316.8 501.7h0M322.7 494.1h0M313.5 500.1h0M319.6 497.4h0M319.8 493.0h0M322.2 499.2h0M321.0 486.5h0M320.9 497.4h0M320.3 496.4h0M323.6 500.0h0M323.2 491.9h0M327.5 492.4h0M325.9 488.5h0M317.6 500.8h0M317.2 489.3h0M307.8 505.1h0M319.5 491.9h0M319.6 496.0h0M319.0 501.8h0M316.5 498.1h0M319.9 493.0h0M320.2 499.0h0M315.3 498.8h0M324.9 487.8h0M314.5 497.2h0M308.9 500.2h0M314.9 495.2h0M319.1 498.5h0M318.7 491.4h0M323.2 488.0h0M324.9 489.0h0M316.6 495.6h0M326.2 490.8h0M317.0 489.7h0M320.0 493.6h0M317.8 493.1h0M318.1 502.5h0M318.7 498.8h0M323.2 493.3h0M322.7 495.9h0M319.4 495.1h0M322.4 494.1h0M313.6 487.5h0M317.9 490.9h0M327.8 494.8h0M322.2 494.5h0M313.2 499.5h0M322.2 501.9h0M321.2 504.6h0M315.5 489.0h0M326.7 488.8h0M324.6 496.6h0M314.1 497.4h0M324.2 497.7h0M321.5 496.6h0M315.8 500.8h0M316.8 495.9h0M323.2 496.7h0M319.4 497.6h0M321.2 497.1h0M322.4 499.7h0M314.8 494.3h0M323.7 488.8h0M324.8 494.6h0M314.2 498.2h0M318.9 495.4h0M316.0 499.0h0M319.0 490.6h0M321.4 495.0h0M314.6 498.9h0M325.7 494.1h0M315.2 495.2h0M321.8 495.5h0M323.9 492.4h0M322.1 490.3h0M326.8 488.8h0M316.1 495.4h0M312.7 497.2h0M320.7 496.7h0M322.7 488.8h0M319.6 498.5h0M326.0 493.8h0M318.9 490.3h0M315.2 491.4h0M321.0 500.0h0M325.5 489.3h0M325.8 496.7h0M313.7 493.4h0M313.5 490.1h0M322.8 492.2h0M319.6 495.4h0M322.2 493.0h0M317.6 499.6h0M319.2 496.7h0M318.1 496.3h0M315.2 499.1h0M321.8 498.3h0M315.6 494.1h0M318.4 486.7h0M322.4 492.4h0M319.0 495.9h0M317.3 492.5h0M320.9 489.8h0M320.3 493.5h0M316.3 494.6h0M320.5 492.6h0M327.0 493.2h0M321.0 498.5h0M315.9 505.8h0M312.8 494.3h0M320.5 486.6h0M318.4 497.4h0M312.7 499.7h0M321.9 489.8h0M323.5 487.8h0M326.3 491.6h0M320.2 493.3h0M319.2 500.2h0M316.1 497.6h0M323.9 493.8h0M321.3 490.7h0M316.3 498.6h0M322.2 497.9h0M313.3 499.8h0M320.6 491.9h0M314.6 498.9h0M322.4 489.5h0M314.7 494.0h0M312.7 491.9h0M330.8 485.1h0M327.1 494.5h0M319.6 497.6h0M329.9 493.2h0M322.3 489.5h0M318.2 496.3h0M324.3 488.1h0M325.5 495.9h0M323.3 492.2h0M319.8 498.2h0M320.2 496.4h0M317.5 494.3h0M316.6 492.7h0M320.7 487.8h0M320.9 492.1h0M318.5 488.2h0M320.7 494.6h0M327.8 493.5h0M321.7 493.2h0M323.1 497.2h0M326.6 492.5h0M321.5 486.7h0M328.5 497.5h0M319.8 492.4h0M321.4 485.2h0M322.3 487.7h0M319.8 489.7h0M326.1 490.5h0M318.6 496.0h0M329.1 495.1h0M321.1 493.1h0M326.5 490.7h0M323.2 501.5h0M316.0 499.7h0M327.6 491.3h0M324.1 496.4h0M317.6 497.1h0M323.2 497.4h0M323.0 493.4h0M328.6 494.9h0M322.8 505.2h0M321.5 492.0h0M321.8 482.6h0M317.7 498.6h0M316.4 492.9h0M323.8 499.5h0M323.5 496.7h0M324.0 492.3h0M320.1 492.4h0M324.0 496.1h0M320.7 494.8h0M323.3 493.3h0M318.4 488.3h0M319.2 488.7h0M323.3 492.2h0M317.2 492.1h0M323.7 490.7h0M315.7 490.2h0M325.6 488.7h0M321.1 500.0h0M317.9 485.9h0M324.4 499.0h0M318.9 493.0h0M325.9 494.3h0M316.8 494.9h0M318.3 494.4h0M315.4 495.9h0M320.2 488.2h0M326.0 493.1h0M325.6 494.6h0M315.0 492.2h0M325.1 491.2h0M324.9 496.0h0M316.6 497.8h0M318.9 491.8h0M318.2 496.8h0M325.3 497.0h0M327.5 496.1h0M320.2 496.4h0M320.3 493.7h0M322.3 499.6h0M326.4 490.6h0M309.3 498.4h0M322.0 501.5h0M324.4 490.7h0M324.4 493.4h0M320.6 494.3h0M315.7 494.0h0M318.2 491.8h0M321.8 492.6h0M319.0 497.7h0M317.7 495.5h0M319.3 498.8h0M321.1 493.5h0M321.4 496.3h0M315.5 490.5h0M327.2 490.1h0M321.8 489.9h0M313.1 495.5h0M322.2 491.7h0M319.3 493.6h0M319.2 503.2h0M315.5 494.2h0M317.8 498.4h0M325.6 491.6h0M321.8 492.6h0M326.1 491.5h0M320.1 490.3h0M326.7 493.1h0M317.8 493.7h0M319.7 489.7h0M319.6 491.9h0M319.8 500.3h0M313.4 492.1h0M324.6 488.6h0M324.7 491.5h0M314.1 492.4h0M320.8 495.7h0M317.8 495.1h0M317.9 496.2h0M320.8 493.4h0M312.1 497.6h0M318.4 494.1h0M313.0 497.7h0M311.7 493.8h0M319.9 490.7h0M326.9 494.5h0M314.6 500.1h0M316.5 500.1h0M327.3 495.4h0M321.8 487.1h0M318.1 489.4h0M323.9 495.5h0M321.9 497.2h0M316.6 495.3h0M312.5 492.4h0M320.9 494.1h0M315.1 494.8h0M316.9 500.5h0M321.4 491.4h0M318.2 494.2h0M318.3 497.8h0M319.4 486.0h0M321.5 489.5h0M316.1 491.3h0M318.4 495.4h0M325.2 502.5h0M318.5 494.7h0M320.4 496.5h0M324.6 494.5h0M320.8 495.1h0M312.6 501.0h0M317.7 497.8h0M319.8 497.6h0M320.8 496.9h0M315.7 502.7h0M319.2 502.7h0M315.6 498.4h0M317.3 497.5h0M322.2 489.0h0M323.5 495.9h0M318.8 499.5h0M319.9 497.6h0M323.7 506.1h0M315.6 489.0h0M321.4 492.2h0M314.2 497.7h0M316.5 498.1h0M331.1 470.9h0M337.7 472.4h0M336.8 472.7h0M336.5 472.8h0M343.0 472.1h0M340.8 474.9h0M330.0 477.5h0M327.1 473.5h0M332.9 474.9h0M342.3 467.6h0M329.2 477.7h0M334.3 468.4h0M346.7 469.0h0M337.5 471.9h0M335.7 474.0h0M338.2 474.9h0M329.7 474.6h0M340.2 466.9h0M339.1 468.4h0M342.4 473.5h0M339.5 470.7h0M332.5 471.6h0M337.9 471.3h0M332.5 474.0h0M332.8 477.3h0M340.4 470.4h0M341.5 469.3h0M343.2 469.6h0M328.7 469.1h0M343.4 464.1h0M337.3 474.4h0M334.4 470.1h0M336.0 472.8h0M338.0 472.9h0M332.9 476.9h0M338.9 473.4h0M341.4 471.6h0M330.6 472.2h0M332.1 470.7h0M332.1 468.5h0M336.8 471.8h0M341.0 468.7h0M344.5 468.5h0M335.4 472.6h0M344.4 471.9h0M338.2 471.3h0M333.3 469.2h0M335.6 471.3h0M343.7 467.7h0M342.8 469.7h0M335.8 474.3h0M324.7 470.9h0M345.3 469.5h0M338.3 470.7h0M337.2 471.4h0M336.5 472.6h0M338.5 472.9h0M331.7 472.7h0M343.9 467.9h0M338.5 471.7h0M337.1 477.4h0M337.6 465.9h0M340.4 466.6h0M327.7 473.4h0M338.7 465.9h0M339.9 467.9h0M343.0 471.6h0M330.7 467.0h0M334.2 466.3h0M339.7 469.2h0M341.4 468.2h0M332.6 474.9h0M331.9 473.9h0M335.3 470.1h0M331.1 475.9h0M343.8 468.1h0M332.1 472.7h0M329.0 469.0h0M341.4 470.4h0M336.9 477.1h0M336.5 471.8h0M339.8 468.7h0M338.4 472.3h0M340.2 471.5h0M343.8 471.4h0M340.8 472.8h0M333.0 470.6h0M336.5 475.3h0M331.1 475.2h0M332.8 472.0h0M330.9 468.7h0M342.7 468.6h0M336.7 472.0h0M325.4 480.5h0M343.9 468.7h0M338.5 473.2h0M340.4 473.1h0M339.5 470.1h0M337.8 467.8h0M337.3 475.1h0M343.4 470.7h0M339.5 469.2h0M340.3 470.0h0M333.7 476.9h0M337.3 472.5h0M331.3 474.1h0M338.8 472.7h0M339.4 472.1h0M341.9 473.5h0M340.6 467.6h0M338.9 475.0h0M340.6 469.5h0M336.5 471.6h0M335.5 466.2h0M326.6 474.2h0M329.0 471.9h0M332.2 473.9h0M337.3 475.6h0M336.6 471.1h0M335.9 471.5h0M330.8 470.4h0M341.8 467.6h0M331.3 470.2h0M331.9 469.6h0M331.0 468.7h0M331.7 480.0h0M337.5 472.5h0M342.7 470.7h0M337.7 470.2h0M340.0 468.2h0M334.7 471.1h0M341.8 469.7h0M338.6 475.5h0M343.6 470.4h0M337.5 470.2h0M337.5 474.1h0M340.3 474.5h0M337.6 468.3h0M331.1 467.8h0M337.6 468.7h0M338.6 469.9h0M337.2 470.5h0M336.2 473.4h0M334.4 472.2h0M334.1 471.8h0M333.0 470.1h0M336.3 473.7h0M336.1 470.1h0M333.7 479.2h0M340.9 466.8h0M329.3 470.3h0M339.4 465.7h0M335.6 469.1h0M335.8 469.1h0M335.6 472.1h0M341.9 473.7h0M338.8 471.8h0M342.0 465.0h0M344.4 467.8h0M336.1 476.2h0M334.7 472.6h0M341.4 473.6h0M332.0 475.7h0M338.1 470.8h0M346.2 475.3h0M340.7 472.3h0M333.0 472.6h0M335.1 473.8h0M337.2 469.6h0M334.6 469.3h0M334.8 472.6h0M337.2 471.3h0M337.1 471.3h0M333.8 475.4h0M333.4 471.7h0M340.9 470.1h0M339.9 475.6h0M332.0 470.2h0M345.2 466.6h0M335.5 478.6h0M337.7 470.8h0M327.2 475.2h0M333.8 474.7h0M328.0 476.0h0M343.6 469.5h0M331.0 466.6h0M333.8 471.1h0M330.9 470.2h0M343.6 473.0h0M330.8 471.8h0M331.7 470.4h0M338.7 472.5h0M340.8 470.3h0M339.4 474.9h0M339.0 471.9h0M328.4 474.6h0M335.2 472.6h0M341.4 468.2h0M342.4 466.9h0M342.7 466.2h0M334.4 466.6h0M328.3 467.8h0M338.8 470.1h0M326.0 477.2h0M318.0 471.9h0M320.4 475.1h0M322.3 474.6h0M327.8 476.3h0M312.7 476.5h0M311.6 473.2h0M310.2 473.8h0M331.9 474.3h0M335.3 471.9h0M333.2 468.0h0M328.4 476.3h0M328.3 472.5h0M318.1 474.7h0M339.1 475.3h0M321.7 470.4h0M331.1 471.8h0M330.4 470.3h0M314.6 475.9h0M325.9 476.7h0M324.3 473.8h0M328.2 473.4h0M316.5 474.9h0M334.1 474.2h0M326.8 476.3h0M327.4 471.7h0M320.9 475.7h0M337.7 473.6h0M316.5 475.2h0M323.5 471.4h0M326.4 480.2h0M317.3 476.1h0M331.4 473.4h0M308.5 476.6h0M319.5 473.3h0M326.0 474.4h0M331.5 476.8h0M316.5 477.1h0M322.7 475.1h0M334.9 473.1h0M318.7 471.6h0M337.4 474.5h0M327.1 472.8h0M335.7 468.5h0M331.9 478.3h0M336.0 474.4h0M327.5 473.8h0M321.7 474.7h0M320.6 474.5h0M318.1 474.9h0M327.8 477.3h0M323.7 475.7h0M321.6 476.8h0M318.2 472.0h0M312.3 473.6h0M321.9 478.1h0M326.5 474.5h0M312.5 473.9h0M320.0 481.5h0M334.4 476.3h0M312.8 474.4h0M320.7 475.0h0M312.1 476.7h0M322.1 470.0h0M320.4 477.4h0M329.6 475.6h0M311.0 477.5h0M325.3 474.6h0M312.9 472.3h0M334.2 475.1h0M332.7 477.4h0M319.6 473.5h0M312.6 478.5h0M325.2 474.0h0M319.6 475.2h0M342.1 471.4h0M309.8 477.8h0M323.3 479.0h0M326.2 476.0h0M310.2 474.8h0M319.5 474.9h0M327.8 474.3h0M321.1 478.0h0M330.3 478.7h0M319.0 473.1h0M309.2 473.6h0M323.0 478.0h0M313.4 471.8h0M321.6 473.8h0M326.7 472.8h0M320.0 473.9h0M326.4 469.7h0M327.2 470.5h0M331.5 472.1h0M327.0 472.5h0M327.1 475.4h0M312.2 477.8h0M330.5 480.0h0M328.0 475.8h0M328.8 491.4h0M333.5 486.8h0M335.6 484.0h0M337.8 479.9h0M331.5 480.3h0M340.3 486.2h0M331.7 486.7h0M333.5 482.9h0M334.8 474.2h0M341.0 471.7h0M319.1 486.8h0M336.5 487.3h0M331.8 480.4h0M340.5 467.7h0M334.4 483.9h0M335.8 481.5h0M331.4 491.8h0M334.7 484.2h0M324.0 482.3h0M341.1 474.3h0M328.3 482.7h0M330.7 484.8h0M331.9 483.3h0M328.9 479.7h0M335.4 483.0h0M327.5 485.3h0M329.1 478.9h0M331.2 481.3h0M341.7 485.7h0M328.5 481.1h0M333.9 481.2h0M329.3 484.1h0M332.7 485.8h0M331.5 484.7h0M339.1 483.3h0M337.7 482.8h0M339.9 473.6h0M341.3 478.9h0M325.2 486.6h0M329.5 472.7h0M330.1 492.7h0M337.3 484.3h0M335.6 473.3h0M330.9 493.4h0M320.3 489.2h0M331.2 478.4h0M331.8 485.6h0M333.2 480.0h0M337.0 480.4h0M336.0 482.0h0M328.5 482.1h0M333.1 477.8h0M334.7 473.0h0M335.2 486.9h0M329.4 482.8h0M343.2 474.4h0M335.6 479.9h0M342.4 480.3h0M326.2 483.7h0M319.5 495.6h0M339.4 485.4h0M333.2 486.0h0M327.7 482.2h0M323.5 487.6h0M337.7 479.2h0M327.5 493.3h0M330.4 479.0h0M328.2 492.6h0M331.3 482.2h0M330.9 474.3h0M334.5 488.4h0M328.7 487.0h0M339.2 478.5h0M328.8 480.8h0M328.9 483.5h0M332.3 475.1h0M329.9 485.3h0M337.3 477.9h0M333.0 483.6h0M333.3 493.2h0M324.3 489.9h0M329.4 487.7h0M338.4 482.6h0M327.0 482.0h0M326.6 490.1h0M341.6 485.5h0M332.9 479.8h0M333.9 474.7h0M341.5 475.6h0M331.8 479.2h0M337.0 484.0h0M335.3 480.5h0M328.3 481.8h0M327.0 495.2h0M331.3 479.5h0M333.8 481.8h0M326.0 483.2h0M338.1 476.5h0M322.4 486.5h0M326.2 488.5h0M331.0 489.0h0M327.6 481.6h0M329.5 480.4h0M326.6 484.7h0M322.6 489.0h0M333.6 482.4h0M334.8 484.1h0M338.8 481.7h0M327.8 488.9h0M331.2 481.3h0M337.7 473.1h0M336.4 487.7h0M332.3 482.6h0M331.2 490.8h0M332.1 485.9h0M333.5 486.0h0M328.0 480.8h0M330.3 497.2h0M331.6 489.2h0M339.4 466.8h0M329.1 488.4h0M325.5 485.3h0M325.3 488.0h0M334.8 483.4h0M328.1 485.5h0M331.0 484.4h0M331.6 486.0h0M321.9 494.0h0M335.5 482.9h0M332.0 486.9h0M334.5 481.8h0M323.2 482.4h0M340.9 474.8h0M330.3 476.3h0M331.1 481.6h0M334.5 490.7h0M323.1 490.9h0M337.1 488.4h0M333.6 479.5h0M320.5 475.0h0M336.3 480.0h0M336.3 474.2h0M331.6 486.1h0M332.9 481.2h0M333.5 481.5h0M332.1 488.5h0M321.8 488.1h0M325.5 496.1h0M332.4 487.2h0M336.4 478.4h0M330.4 484.8h0M330.9 478.0h0M333.9 475.1h0M331.3 484.7h0M331.4 488.8h0M330.2 488.9h0M334.4 484.5h0M337.6 472.9h0M329.5 492.9h0M340.3 478.6h0M333.7 485.8h0M325.7 489.4h0M333.1 485.9h0M328.2 493.2h0M338.6 471.1h0M323.7 477.5h0M343.5 474.5h0M331.9 484.3h0M339.9 485.5h0M330.2 483.0h0M333.2 493.1h0M344.6 470.0h0M337.2 470.2h0M334.3 476.8h0M335.4 486.5h0M339.1 477.7h0M333.4 485.3h0M327.3 491.2h0M324.7 488.6h0M335.6 479.4h0M308.1 489.6h0M319.7 480.8h0M331.0 480.4h0M323.7 487.5h0M320.8 490.5h0M329.6 474.1h0M334.6 487.4h0M341.6 485.5h0M334.6 462.5h0M327.2 481.8h0M321.3 484.1h0M334.3 485.1h0M327.8 481.8h0M331.6 475.9h0M322.3 506.8h0M338.6 488.7h0M331.8 470.7h0M331.9 488.0h0M328.3 471.6h0M334.0 479.3h0M333.8 498.3h0M331.3 511.4h0M330.0 489.5h0M325.1 488.0h0M320.2 508.4h0M318.8 482.5h0M311.5 479.6h0M356.9 475.1h0M334.4 474.7h0M341.4 492.9h0M323.8 487.0h0M316.1 486.1h0M326.7 485.2h0M317.3 489.9h0M333.1 468.9h0M320.0 477.4h0M341.0 497.2h0M340.6 504.5h0M318.3 490.5h0M324.0 496.1h0M323.4 488.8h0M327.5 487.7h0M323.7 486.7h0M330.7 486.3h0M326.6 486.6h0M315.8 496.3h0M338.9 485.2h0M331.3 494.8h0M330.2 494.0h0M329.7 482.9h0M342.8 464.1h0M311.8 483.0h0M322.6 478.1h0M333.8 486.3h0M312.7 486.4h0M308.1 468.9h0M332.3 497.0h0M336.4 501.8h0M344.3 480.2h0M331.4 477.5h0M338.4 476.6h0M337.5 478.9h0M334.2 475.6h0M328.6 463.6h0M310.8 489.5h0M318.3 468.6h0M327.9 471.5h0M320.0 477.0h0M330.2 486.4h0M332.4 480.2h0M325.2 491.0h0M333.1 488.9h0M323.6 487.3h0M332.5 471.1h0M336.3 485.3h0M314.6 467.0h0M328.1 486.9h0M335.7 494.6h0M324.6 501.2h0M345.2 481.7h0M309.0 498.4h0M322.9 493.8h0M325.3 507.4h0M321.2 481.2h0M323.4 494.2h0M356.8 482.0h0M334.5 459.8h0M325.8 486.9h0M337.0 483.7h0M321.5 491.7h0M347.0 467.2h0M322.7 492.8h0M326.4 495.7h0M326.1 489.2h0M330.3 469.3h0M337.4 479.1h0M316.9 501.1h0M316.5 505.1h0M324.6 479.1h0M321.7 478.5h0M334.1 478.4h0M334.1 491.0h0M334.9 483.6h0M331.3 472.4h0M325.4 469.7h0M318.9 483.8h0M332.0 476.1h0M330.9 481.1h0M300.8 486.2h0M319.1 490.0h0M319.6 493.3h0M339.2 487.8h0M338.3 490.7h0M315.2 491.1h0M327.8 484.0h0M339.9 482.4h0M348.0 480.3h0M324.3 481.0h0M320.4 488.6h0M327.4 499.3h0M325.2 488.1h0M343.8 479.8h0M331.2 471.0h0M316.1 491.3h0M312.5 496.2h0M317.9 489.6h0M333.6 492.6h0M318.2 494.6h0M340.2 480.9h0M336.3 475.1h0M323.0 473.6h0M340.2 474.4h0M343.4 483.3h0M350.4 462.0h0M319.7 482.9h0M324.8 484.1h0M325.0 469.2h0M330.4 501.5h0M340.3 464.6h0M331.0 469.6h0M317.0 493.5h0M334.5 488.5h0M337.3 487.4h0M329.9 489.7h0M336.8 500.8h0M353.1 476.7h0M327.7 480.4h0M343.5 489.5h0M345.3 491.2h0M346.7 487.5h0M346.6 481.4h0M347.4 491.9h0M332.1 480.0h0M343.3 491.4h0M333.7 492.4h0M343.9 479.7h0M336.6 479.0h0M337.8 489.0h0M353.6 481.3h0M338.5 477.7h0M342.0 482.4h0M348.0 489.8h0M337.9 490.2h0M335.7 505.1h0M340.3 484.6h0M339.0 499.0h0M337.6 482.3h0M326.6 480.9h0M356.7 488.0h0M338.8 491.5h0M332.3 488.1h0M343.7 490.8h0M338.6 481.5h0M347.1 490.3h0M326.6 485.2h0M334.5 478.5h0M347.4 480.5h0M331.6 482.5h0M329.7 492.5h0M323.9 491.9h0M327.3 478.1h0M347.3 495.7h0M342.2 495.1h0M339.0 488.1h0M343.4 478.1h0M336.7 495.6h0M342.6 484.5h0M336.9 499.8h0M354.2 486.5h0M337.9 492.0h0M341.9 489.7h0M343.7 494.2h0M340.0 486.4h0M342.8 499.2h0M341.1 481.4h0M344.9 486.0h0M342.5 493.5h0M322.2 488.6h0M342.0 500.8h0M328.1 477.6h0M349.9 474.0h0M333.4 479.5h0M333.6 487.7h0M338.3 483.6h0M344.8 504.9h0M333.4 490.4h0M335.5 482.7h0M341.1 498.1h0M329.4 496.7h0M333.8 485.8h0M333.1 494.1h0M353.0 495.3h0M345.6 496.1h0" stroke="#0a0a0a" stroke-width="1.3" stroke-linecap="round" fill="none"/>
<rect x="295.2" y="453.9" width="63.5" height="60.5" fill="none" stroke="#161616" stroke-width="1.3"/>
<path d="M329.4 453.9V514.4M295.2 478.6H358.7" stroke="#161616" stroke-width="1.05" fill="none"/>
<text x="298.1" y="465.0" font-size="11.5" textLength="6.5" lengthAdjust="spacingAndGlyphs" stroke="#000" stroke-width=".5">6</text>
<text x="356.4" y="465.0" font-size="11.5" text-anchor="end" textLength="13.7" lengthAdjust="spacingAndGlyphs" stroke="#000" stroke-width=".5">27</text>
<text x="298.1" y="489.0" font-size="11.5" textLength="13.7" lengthAdjust="spacingAndGlyphs" stroke="#000" stroke-width=".5">54</text>
<text x="356.4" y="509.2" font-size="11.5" text-anchor="end" textLength="13.7" lengthAdjust="spacingAndGlyphs" stroke="#000" stroke-width=".5">13</text>
<g font-size="6.9" font-weight="bold" fill="#000" stroke="#000" stroke-width=".35">
<text x="295.5" y="521.4" textLength="8.0" lengthAdjust="spacingAndGlyphs">10<tspan dy="-1.9" font-size="5.4">0</tspan></text>
<text x="311.2" y="521.4" textLength="8.0" lengthAdjust="spacingAndGlyphs">10<tspan dy="-1.9" font-size="5.4">1</tspan></text>
<text x="327.4" y="521.4" textLength="8.0" lengthAdjust="spacingAndGlyphs">10<tspan dy="-1.9" font-size="5.4">2</tspan></text>
<text x="343.2" y="521.4" textLength="8.0" lengthAdjust="spacingAndGlyphs">10<tspan dy="-1.9" font-size="5.4">3</tspan></text>
<text x="358.9" y="521.4" textLength="8.0" lengthAdjust="spacingAndGlyphs">10<tspan dy="-1.9" font-size="5.4">4</tspan></text>
<text x="293.3" y="514.5" textLength="8.6" lengthAdjust="spacingAndGlyphs" transform="rotate(-90 293.3 514.5)">10<tspan dy="-1.9" font-size="5.4">0</tspan></text>
<text x="293.3" y="499.4" textLength="8.6" lengthAdjust="spacingAndGlyphs" transform="rotate(-90 293.3 499.4)">10<tspan dy="-1.9" font-size="5.4">1</tspan></text>
<text x="293.3" y="484.2" textLength="8.6" lengthAdjust="spacingAndGlyphs" transform="rotate(-90 293.3 484.2)">10<tspan dy="-1.9" font-size="5.4">2</tspan></text>
<text x="293.3" y="469.1" textLength="8.6" lengthAdjust="spacingAndGlyphs" transform="rotate(-90 293.3 469.1)">10<tspan dy="-1.9" font-size="5.4">3</tspan></text>
<text x="293.3" y="454.0" textLength="8.6" lengthAdjust="spacingAndGlyphs" transform="rotate(-90 293.3 454.0)">10<tspan dy="-1.9" font-size="5.4">4</tspan></text>
</g>
</g>
<g id="c3">
<path d="M438.2 485.6h0M432.9 494.3h0M427.4 497.4h0M430.0 497.6h0M436.4 497.9h0M435.8 498.8h0M434.1 495.0h0M428.7 494.0h0M425.5 501.2h0M432.1 497.7h0M430.1 491.4h0M426.3 495.3h0M435.6 492.6h0M430.1 493.1h0M425.4 498.7h0M432.6 497.9h0M426.7 502.2h0M427.2 497.5h0M429.5 496.0h0M435.8 497.3h0M431.8 493.5h0M434.4 495.9h0M435.9 494.2h0M423.6 499.3h0M432.5 500.3h0M433.6 499.4h0M430.1 491.8h0M433.4 497.7h0M429.8 490.5h0M432.1 493.1h0M422.2 501.5h0M420.9 499.0h0M443.6 498.7h0M437.1 494.0h0M440.1 491.0h0M421.9 492.2h0M429.8 486.6h0M419.0 503.7h0M430.0 493.5h0M435.7 492.5h0M433.8 496.8h0M430.1 498.8h0M438.7 485.7h0M433.8 497.2h0M429.6 497.9h0M424.0 500.6h0M434.8 499.4h0M434.2 491.4h0M432.1 505.4h0M430.7 487.6h0M428.3 494.7h0M425.3 493.1h0M429.0 496.1h0M433.6 500.1h0M429.8 491.8h0M423.8 500.4h0M438.9 495.2h0M432.6 501.6h0M432.2 493.0h0M433.5 494.5h0M426.5 498.6h0M436.0 499.6h0M428.5 500.4h0M432.0 496.0h0M430.4 504.1h0M441.3 496.6h0M437.7 499.1h0M436.7 497.4h0M431.3 498.0h0M428.2 494.1h0M427.6 494.3h0M426.7 498.8h0M434.9 504.4h0M441.9 493.5h0M433.1 491.0h0M429.6 491.0h0M428.4 496.9h0M432.8 500.0h0M435.1 506.1h0M432.2 500.5h0M428.1 504.2h0M427.7 500.9h0M434.2 498.7h0M435.6 495.3h0M436.5 502.6h0M430.4 497.8h0M430.6 498.2h0M427.3 498.2h0M432.7 492.8h0M432.6 492.9h0M437.5 491.0h0M440.5 491.8h0M434.0 499.5h0M440.7 496.9h0M440.0 494.2h0M429.8 502.9h0M432.8 497.7h0M435.4 489.8h0M443.6 498.9h0M433.6 493.4h0M438.1 492.1h0M439.6 496.4h0M426.9 502.3h0M424.3 499.2h0M431.6 490.6h0M428.1 497.3h0M434.3 496.2h0M432.7 493.2h0M430.2 500.0h0M426.6 496.7h0M432.9 491.5h0M431.3 502.6h0M426.3 489.6h0M434.0 504.6h0M442.7 485.8h0M436.8 496.1h0M428.8 489.7h0M436.8 493.7h0M427.0 492.1h0M429.3 498.0h0M431.6 497.7h0M433.0 500.5h0M431.7 490.7h0M430.7 499.5h0M433.4 502.3h0M430.5 498.8h0M431.6 490.8h0M436.5 491.4h0M427.4 496.5h0M421.8 497.8h0M437.7 490.8h0M431.4 497.7h0M432.3 491.9h0M431.9 497.7h0M436.7 493.6h0M438.1 490.0h0M427.2 493.2h0M433.5 498.3h0M430.6 496.5h0M426.6 497.7h0M430.0 497.4h0M437.6 494.1h0M438.6 496.7h0M433.5 501.8h0M428.9 492.1h0M429.4 498.0h0M431.7 508.3h0M434.0 498.9h0M427.4 500.6h0M431.1 493.1h0M433.0 495.4h0M430.4 491.4h0M433.3 493.6h0M423.1 492.5h0M430.3 495.7h0M438.4 484.7h0M441.0 495.0h0M434.2 495.6h0M430.2 490.1h0M436.8 490.5h0M429.0 498.7h0M417.7 501.4h0M423.3 495.5h0M438.3 499.0h0M431.2 495.2h0M431.9 493.6h0M433.5 497.0h0M430.0 495.8h0M432.3 496.2h0M430.8 489.4h0M426.2 498.5h0M430.6 490.7h0M440.3 496.5h0M431.7 502.0h0M423.3 502.9h0M428.1 504.8h0M436.5 494.9h0M426.6 494.8h0M432.2 493.3h0M430.5 489.2h0M434.7 496.3h0M419.5 500.0h0M427.4 496.8h0M424.9 502.0h0M427.0 499.8h0M421.4 498.8h0M430.1 488.8h0M435.1 500.7h0M431.5 489.6h0M439.1 487.1h0M437.7 496.0h0M431.9 499.2h0M420.8 505.7h0M431.4 494.7h0M434.8 499.0h0M433.8 491.2h0M437.7 497.1h0M433.0 497.0h0M417.9 499.7h0M429.3 490.5h0M437.9 496.9h0M424.7 496.1h0M431.3 497.6h0M434.2 492.8h0M429.2 493.1h0M430.7 493.0h0M437.3 495.0h0M425.8 502.7h0M429.6 502.8h0M430.5 503.5h0M440.6 498.5h0M432.9 495.3h0M433.3 488.5h0M430.5 495.4h0M427.3 491.7h0M420.5 496.8h0M436.5 490.3h0M433.6 493.8h0M433.8 500.9h0M421.7 503.3h0M426.0 496.1h0M421.2 497.1h0M429.4 503.5h0M427.5 497.2h0M432.3 498.7h0M436.1 493.4h0M432.8 497.8h0M428.8 499.5h0M436.5 488.7h0M424.2 494.5h0M433.2 497.9h0M428.9 496.7h0M436.2 492.4h0M433.3 492.8h0M438.9 494.6h0M429.4 495.0h0M438.9 484.6h0M421.5 492.0h0M434.4 494.1h0M427.4 492.0h0M429.6 493.8h0M426.3 499.4h0M432.4 494.8h0M431.4 500.1h0M431.6 494.3h0M434.6 495.2h0M437.3 495.7h0M433.0 492.0h0M439.3 494.8h0M432.6 501.7h0M429.5 493.0h0M428.3 492.6h0M432.9 488.8h0M435.3 488.8h0M434.3 500.5h0M428.9 490.2h0M426.6 491.3h0M431.8 491.0h0M431.0 496.1h0M426.5 502.2h0M436.4 487.6h0M430.3 499.2h0M434.3 489.6h0M433.3 496.6h0M433.8 490.3h0M446.5 494.1h0M424.4 498.4h0M431.6 493.2h0M429.7 498.0h0M427.3 496.8h0M431.6 494.4h0M435.8 498.1h0M436.4 492.8h0M438.9 488.3h0M439.8 498.6h0M434.6 498.0h0M428.6 496.1h0M433.8 497.0h0M434.9 497.0h0M432.9 494.9h0M429.2 497.9h0M432.1 496.0h0M430.8 503.5h0M436.8 493.3h0M432.8 501.0h0M430.4 496.3h0M432.9 492.7h0M431.3 494.4h0M435.4 495.5h0M435.9 495.2h0M434.2 496.3h0M432.8 490.8h0M427.6 500.3h0M432.0 495.0h0M439.0 492.7h0M437.2 492.4h0M423.4 496.7h0M436.3 492.8h0M433.3 501.5h0M439.7 491.8h0M436.3 491.1h0M424.4 494.5h0M432.5 488.2h0M430.7 497.7h0M429.8 488.9h0M429.2 494.6h0M437.2 490.9h0M433.7 503.3h0M434.6 498.0h0M432.9 494.7h0M433.2 491.7h0M425.1 498.8h0M433.6 493.1h0M437.9 494.8h0M435.6 498.7h0M434.3 495.9h0M430.8 496.8h0M434.4 499.5h0M440.8 494.2h0M432.8 495.1h0M431.7 493.7h0M431.2 495.3h0M426.2 489.5h0M433.7 498.1h0M432.2 504.8h0M431.3 494.1h0M435.3 488.9h0M440.8 485.4h0M439.2 497.3h0M435.1 494.3h0M429.1 498.1h0M435.4 498.3h0M425.1 505.1h0M426.3 498.1h0M430.2 494.7h0M430.5 489.5h0M431.5 491.8h0M430.5 497.2h0M427.7 501.9h0M438.7 487.5h0M432.3 503.4h0M433.6 484.9h0M428.8 495.0h0M432.5 495.4h0M427.1 498.2h0M434.1 490.0h0M434.5 497.3h0M439.7 491.9h0M430.7 492.7h0M436.3 499.3h0M436.8 498.3h0M432.2 500.0h0M429.4 495.0h0M432.6 501.7h0M433.9 493.8h0M433.1 499.4h0M433.1 500.9h0M431.9 493.6h0M428.9 493.8h0M426.8 498.2h0M429.4 496.7h0M427.6 496.7h0M430.1 491.3h0M426.5 509.3h0M433.0 496.4h0M439.3 495.7h0M440.0 494.3h0M436.3 495.1h0M431.4 496.3h0M429.3 493.7h0M434.9 490.5h0M431.5 492.5h0M430.4 503.2h0M428.9 491.3h0M436.9 496.7h0M432.8 499.2h0M440.0 495.4h0M436.5 496.4h0M438.9 491.6h0M430.5 496.3h0M442.1 482.9h0M427.8 490.8h0M431.6 495.8h0M433.7 498.7h0M438.4 492.1h0M427.8 497.3h0M430.4 494.0h0M433.1 498.0h0M437.9 501.4h0M426.1 502.0h0M433.5 489.6h0M430.6 507.8h0M437.2 494.7h0M434.3 489.4h0M431.5 504.4h0M449.1 477.4h0M451.3 488.7h0M445.4 478.5h0M442.7 484.6h0M449.3 480.9h0M448.2 482.6h0M447.7 481.6h0M453.4 482.4h0M450.2 476.2h0M448.2 487.4h0M451.7 486.6h0M446.2 486.6h0M448.4 483.6h0M447.1 480.4h0M446.7 483.5h0M452.6 478.5h0M447.4 480.2h0M448.2 486.1h0M447.9 480.1h0M452.8 483.7h0M451.5 483.3h0M449.1 486.4h0M448.5 484.4h0M451.8 487.0h0M450.5 486.1h0M444.9 485.0h0M451.0 483.3h0M444.5 487.4h0M447.6 481.3h0M455.0 481.0h0M451.6 476.3h0M452.7 483.2h0M450.3 479.5h0M451.2 482.1h0M454.1 480.2h0M446.1 488.2h0M446.6 483.3h0M454.2 488.3h0M452.7 485.1h0M451.0 483.4h0M450.4 484.3h0M447.6 484.6h0M454.2 482.7h0M450.5 485.9h0M447.3 483.1h0M458.3 484.1h0M452.7 482.1h0M447.0 479.8h0M451.6 487.6h0M450.9 486.1h0M449.5 483.8h0M454.3 493.1h0M449.9 479.9h0M453.3 482.3h0M451.4 480.2h0M452.6 480.0h0M451.3 481.5h0M448.6 485.9h0M449.8 475.8h0M453.4 485.4h0M451.3 484.2h0M451.6 484.0h0M450.2 487.1h0M453.6 479.2h0M449.7 480.0h0M449.8 486.9h0M450.7 483.9h0M451.4 491.6h0M454.4 483.5h0M452.6 489.1h0M454.5 483.2h0M448.8 479.4h0M456.2 487.9h0M458.1 482.2h0M451.4 475.7h0M451.8 480.1h0M447.0 481.0h0M447.2 482.2h0M451.5 480.3h0M449.1 483.0h0M457.5 484.2h0M449.2 486.4h0M455.5 481.3h0M453.7 486.3h0M446.1 484.9h0M450.8 486.1h0M454.1 480.4h0M445.2 482.8h0M449.8 480.9h0M450.1 479.0h0M452.8 485.3h0M456.6 481.1h0M452.9 479.9h0M447.5 481.1h0M448.8 478.9h0M446.8 492.4h0M449.5 483.4h0M450.6 481.6h0M450.8 487.2h0M452.3 486.8h0M447.1 485.8h0M446.3 479.5h0M452.9 483.4h0M453.2 484.8h0M444.7 486.7h0M456.5 482.2h0M454.7 487.3h0M453.7 473.2h0M449.3 482.9h0M450.6 487.1h0M444.2 475.9h0M451.0 482.1h0M454.7 486.1h0M452.8 487.5h0M446.2 484.0h0M447.9 490.7h0M450.4 486.7h0M452.5 485.3h0M454.6 486.1h0M452.9 482.9h0M450.9 476.1h0M448.9 488.9h0M450.9 477.9h0M445.3 480.1h0M449.9 486.4h0M451.0 485.8h0M446.2 483.9h0M451.3 484.5h0M452.7 483.0h0M454.1 486.7h0M450.8 478.7h0M447.5 480.8h0M456.0 484.6h0M450.0 481.1h0M449.9 488.7h0M449.3 481.3h0M448.6 486.2h0M444.1 482.9h0M453.1 485.4h0M451.9 481.7h0M454.5 488.1h0M447.0 481.1h0M449.4 483.8h0M448.2 481.5h0M444.1 488.0h0M447.1 484.2h0M449.4 486.0h0M445.5 480.4h0M450.7 483.4h0M449.2 484.9h0M448.5 482.4h0M446.6 484.1h0M453.1 481.9h0M451.0 486.5h0M448.5 481.3h0M452.2 488.8h0M449.1 483.3h0M451.0 481.4h0M450.4 487.8h0M445.5 486.3h0M454.4 486.6h0M451.5 484.6h0M447.0 477.8h0M451.2 483.6h0M452.9 487.3h0M458.8 482.8h0M456.0 482.4h0M450.6 479.6h0M450.7 480.9h0M449.8 478.4h0M452.5 477.2h0M450.0 475.8h0M450.6 484.1h0M454.4 487.7h0M446.5 483.8h0M449.7 483.5h0M453.7 480.1h0M446.5 482.0h0M452.5 479.8h0M444.3 483.2h0M455.5 487.6h0M447.7 481.5h0M453.7 486.0h0M450.4 483.4h0M451.4 477.2h0M453.9 478.4h0M445.5 489.2h0M451.3 485.9h0M445.8 485.6h0M451.5 483.7h0M450.8 482.8h0M449.1 479.2h0M456.2 479.7h0M446.6 485.3h0M448.9 480.8h0M460.8 481.9h0M444.3 483.0h0M449.0 483.2h0M452.7 484.3h0M455.9 480.2h0M450.5 487.2h0M454.0 481.3h0M449.8 487.6h0M453.6 486.7h0M454.5 484.1h0M451.3 483.7h0M449.4 478.9h0M453.0 485.8h0M452.2 480.4h0M450.9 487.4h0M453.2 479.2h0M446.1 485.2h0M447.6 491.1h0M450.7 485.8h0M444.7 485.3h0M449.7 477.8h0M456.3 481.7h0M451.6 481.8h0M451.8 485.4h0M452.1 484.3h0M445.3 484.5h0M446.7 485.3h0M446.4 477.7h0M455.2 480.9h0M449.3 483.5h0M450.4 485.6h0M455.1 480.4h0M453.1 485.0h0M447.0 486.7h0M453.2 481.9h0M448.4 480.0h0M453.0 480.0h0M449.6 478.4h0M447.8 477.6h0M448.3 486.4h0M445.6 480.3h0M447.3 482.0h0M446.6 484.5h0M448.8 485.9h0M451.7 483.4h0M451.5 484.3h0M446.2 491.6h0M445.8 489.4h0M445.5 476.3h0M443.7 477.2h0M450.5 481.7h0M458.8 481.1h0M449.0 488.3h0M458.8 477.7h0M447.4 483.5h0M445.3 481.4h0M456.3 485.5h0M453.7 482.4h0M452.5 476.0h0M453.2 476.6h0M447.4 485.1h0M446.6 484.8h0M451.9 486.4h0M449.8 483.5h0M449.2 482.9h0M449.2 483.0h0M452.8 486.4h0M448.2 472.4h0M449.2 476.5h0M443.0 474.5h0M435.2 473.6h0M448.7 471.5h0M444.5 469.4h0M456.4 466.2h0M444.5 474.4h0M449.0 473.3h0M453.6 467.8h0M450.0 469.6h0M448.3 471.5h0M444.0 473.1h0M445.3 479.5h0M460.8 468.7h0M438.9 467.9h0M440.1 477.0h0M441.8 472.6h0M445.2 471.4h0M445.6 471.7h0M456.4 470.5h0M459.7 469.7h0M451.2 476.3h0M446.4 475.9h0M445.0 475.9h0M450.2 472.9h0M448.5 478.6h0M452.0 469.5h0M459.3 467.5h0M453.3 473.1h0M449.9 473.6h0M447.5 473.7h0M445.1 471.9h0M447.2 473.3h0M448.4 476.0h0M446.8 478.4h0M449.3 472.0h0M449.1 474.6h0M447.0 474.5h0M447.3 468.7h0M450.1 476.3h0M444.7 475.2h0M443.7 476.2h0M442.8 472.1h0M449.5 472.4h0M448.8 476.4h0M452.6 469.7h0M451.5 471.7h0M450.6 470.8h0M446.7 472.8h0M443.7 473.2h0M462.4 467.4h0M438.7 474.4h0M445.1 470.4h0M448.3 471.3h0M453.9 474.3h0M440.6 473.6h0M440.0 471.3h0M448.6 473.3h0M447.0 476.9h0M439.7 474.1h0M448.4 469.7h0M446.5 468.2h0M442.1 473.4h0M443.0 473.8h0M450.7 474.3h0M450.3 469.9h0M444.4 474.1h0M446.3 477.6h0M447.8 471.0h0M443.6 472.9h0M446.9 473.1h0M444.2 471.7h0M446.9 471.2h0M442.8 473.1h0M447.0 471.6h0M449.0 468.9h0M448.6 473.3h0M448.5 471.5h0M444.4 471.9h0M442.4 478.7h0M450.7 472.4h0M453.1 470.8h0M449.7 471.8h0M442.1 468.3h0M452.3 473.6h0M451.3 470.8h0M452.2 473.2h0M454.8 471.2h0M452.4 466.6h0M453.6 472.5h0M442.8 473.3h0M451.8 473.9h0M453.4 473.5h0M448.5 471.9h0M450.7 469.6h0M443.6 474.7h0M447.4 472.2h0M452.6 464.8h0M447.4 474.0h0M447.9 475.5h0M441.8 473.1h0M445.0 471.6h0M442.1 473.2h0M442.7 471.0h0M450.9 471.1h0M441.5 473.5h0M451.3 473.0h0M449.2 474.6h0M446.7 470.5h0M445.1 473.1h0M436.4 479.0h0M451.6 469.6h0M446.9 473.5h0M455.8 466.2h0M453.7 471.2h0M445.6 473.7h0M442.5 469.6h0M439.9 479.1h0M445.1 471.6h0M446.9 471.1h0M443.1 474.9h0M449.5 472.6h0M441.9 476.8h0M450.6 473.9h0M445.6 471.7h0M442.0 477.0h0M449.2 468.7h0M447.9 471.8h0M449.3 473.9h0M453.7 471.4h0M442.1 471.3h0M443.2 471.5h0M449.9 470.0h0M447.6 473.8h0M446.6 477.0h0M438.0 476.1h0M443.4 473.4h0M447.2 471.8h0M443.7 473.4h0M443.3 473.5h0M443.8 470.1h0M454.4 470.3h0M444.4 474.1h0M452.9 474.7h0M450.4 473.0h0M444.3 477.6h0M445.4 472.8h0M449.8 473.5h0M448.4 471.7h0M449.6 475.4h0M454.4 471.9h0M450.7 469.0h0M445.4 469.8h0M457.0 465.3h0M441.0 471.8h0M444.6 468.6h0M442.7 475.3h0M426.2 477.3h0M440.3 471.7h0M417.9 473.8h0M437.2 472.3h0M435.0 474.3h0M436.7 478.3h0M442.2 476.5h0M438.3 467.9h0M435.7 474.5h0M429.0 476.3h0M438.3 469.1h0M444.7 474.3h0M436.9 472.1h0M444.7 467.0h0M433.5 477.2h0M447.8 474.1h0M449.2 471.7h0M430.9 479.4h0M446.8 473.2h0M444.5 474.2h0M437.5 475.2h0M446.7 470.1h0M433.7 473.9h0M432.8 474.2h0M427.8 473.7h0M442.7 472.9h0M437.5 475.5h0M449.5 471.4h0M433.6 476.3h0M441.5 470.7h0M431.6 473.2h0M437.6 473.9h0M444.2 477.4h0M445.6 471.8h0M433.6 472.1h0M432.1 476.9h0M440.4 468.5h0M437.8 476.6h0M427.1 476.3h0M450.4 468.1h0M433.0 471.5h0M439.7 474.3h0M447.5 473.5h0M436.0 473.7h0M445.5 470.8h0M435.7 472.4h0M435.1 477.0h0M433.7 476.9h0M432.2 471.7h0M428.3 481.6h0M437.8 477.0h0M436.4 474.5h0M431.9 477.2h0M442.4 471.7h0M443.4 476.3h0M445.9 474.1h0M446.0 475.7h0M438.2 469.7h0M431.4 478.0h0M432.7 474.2h0M436.4 472.4h0M449.9 471.5h0M448.5 473.2h0M435.6 474.3h0M428.6 475.3h0M441.9 473.8h0M438.2 472.0h0M442.3 471.7h0M434.0 472.3h0M448.2 473.4h0M435.8 477.1h0M434.9 471.2h0M439.5 475.1h0M444.4 468.8h0M433.1 477.2h0M441.6 473.2h0M425.5 474.8h0M432.4 471.8h0M439.3 471.5h0M439.0 475.9h0M435.0 476.5h0M447.8 476.2h0M430.9 471.5h0M431.0 471.0h0M432.7 475.0h0M438.6 475.0h0M448.0 472.2h0M431.3 472.0h0M430.2 475.8h0M448.2 473.9h0M435.2 474.6h0M445.6 472.2h0M443.0 473.6h0M434.5 476.7h0M444.9 473.3h0M432.1 471.4h0M439.5 496.1h0M442.9 487.6h0M445.1 484.9h0M441.7 483.8h0M447.2 478.3h0M440.2 476.7h0M433.1 489.4h0M441.3 481.3h0M434.8 497.0h0M452.5 482.1h0M456.8 478.5h0M429.6 488.2h0M435.6 489.3h0M434.8 493.7h0M453.2 482.3h0M444.8 487.7h0M440.2 495.4h0M438.1 493.0h0M435.8 490.7h0M449.6 488.3h0M433.7 496.9h0M459.2 474.2h0M447.2 488.1h0M445.6 487.8h0M439.7 483.5h0M444.1 485.1h0M446.7 475.5h0M440.2 498.6h0M443.5 493.4h0M440.4 493.9h0M429.9 491.3h0M441.1 489.9h0M443.4 493.9h0M440.1 493.5h0M435.8 488.8h0M444.1 482.0h0M429.8 499.3h0M447.6 483.8h0M434.0 488.2h0M436.3 494.3h0M449.2 475.2h0M443.4 491.2h0M444.2 485.4h0M439.9 493.0h0M439.1 487.4h0M431.8 499.3h0M445.5 486.5h0M439.1 495.0h0M444.5 483.9h0M434.5 495.9h0M442.3 477.3h0M443.3 484.3h0M441.0 489.4h0M447.7 483.2h0M435.1 496.1h0M443.7 484.9h0M449.6 478.8h0M450.1 485.5h0M443.6 487.1h0M438.4 488.3h0M435.9 488.4h0M436.9 488.2h0M438.6 489.0h0M444.9 478.1h0M438.3 495.9h0M450.1 483.7h0M448.5 493.7h0M442.8 487.4h0M446.0 479.0h0M438.7 488.8h0M433.8 497.5h0M452.7 481.4h0M438.1 489.5h0M434.8 493.0h0M440.6 482.6h0M442.9 479.4h0M437.4 491.5h0M446.4 483.1h0M430.2 491.2h0M442.8 488.0h0M439.8 481.6h0M445.7 487.4h0M433.6 490.6h0M443.1 481.8h0M448.9 488.7h0M438.2 492.6h0M445.6 486.9h0M444.7 486.8h0M438.3 490.3h0M448.7 488.0h0M449.2 488.1h0M446.6 483.6h0M448.1 486.6h0M431.8 497.2h0M432.5 499.6h0M449.9 482.5h0M447.2 484.2h0M444.0 483.5h0M459.5 476.6h0M449.6 480.9h0M448.8 486.5h0M441.6 485.5h0M447.4 478.9h0M445.2 486.6h0M435.9 498.1h0M442.7 484.3h0M444.5 480.1h0M449.1 482.2h0M442.9 492.7h0M440.6 486.2h0M443.5 486.7h0M430.9 495.4h0M443.9 493.2h0M444.0 481.4h0M442.3 487.4h0M451.5 483.7h0M441.3 487.3h0M428.6 491.2h0M442.7 498.3h0M440.6 485.4h0M450.0 488.7h0M441.5 488.9h0M450.6 480.3h0M438.4 487.8h0M444.7 482.4h0M443.1 489.9h0M432.1 489.5h0M442.0 485.8h0M436.2 489.3h0M450.5 483.2h0M443.4 487.8h0M443.1 486.0h0M435.6 493.5h0M455.4 487.8h0M443.6 486.5h0M440.8 494.2h0M431.2 494.1h0M434.1 491.9h0M444.0 485.2h0M436.6 493.0h0M447.8 481.3h0M430.8 497.3h0M449.9 479.7h0M445.0 485.3h0M443.2 487.3h0M456.9 476.5h0M435.2 497.8h0M442.7 490.0h0M443.7 485.5h0M442.1 485.9h0M435.3 494.0h0M432.5 493.1h0M453.1 484.2h0M444.4 488.7h0M445.8 484.9h0M434.1 491.6h0M450.6 477.0h0M439.8 492.5h0M436.5 492.2h0M438.6 495.8h0M449.3 492.3h0M445.5 479.3h0M429.6 482.5h0M435.5 493.8h0M431.8 489.7h0M438.0 492.1h0M450.7 479.3h0M439.2 487.9h0M436.2 496.2h0M443.3 483.1h0M451.4 482.8h0M443.7 481.0h0M438.0 486.7h0M441.2 490.2h0M452.3 483.2h0M441.6 481.9h0M433.6 493.2h0M441.1 486.1h0M443.4 488.8h0M447.9 481.3h0M437.9 486.9h0M441.3 480.1h0M430.2 508.0h0M450.9 478.5h0M438.4 500.3h0M448.2 480.4h0M438.5 495.6h0M441.2 490.2h0M441.6 492.1h0M434.3 494.9h0M447.4 479.3h0M435.6 494.7h0M438.5 472.2h0M435.9 494.3h0M433.5 474.8h0M441.0 490.5h0M444.1 485.6h0M428.3 473.7h0M439.1 485.7h0M440.5 492.1h0M457.0 483.0h0M445.5 465.7h0M441.0 477.7h0M436.7 479.4h0M439.4 502.0h0M456.2 476.7h0M442.5 495.7h0M446.1 489.2h0M451.2 475.6h0M452.4 492.9h0M446.2 473.2h0M421.2 488.9h0M446.2 473.6h0M435.5 486.8h0M467.0 490.7h0M448.8 493.7h0M445.2 487.7h0M446.2 493.3h0M454.1 501.0h0M446.6 504.8h0M420.8 479.7h0M440.1 486.6h0M445.8 485.7h0M445.3 485.1h0M448.3 493.1h0M435.6 483.0h0M432.7 500.9h0M458.7 483.5h0M443.6 484.6h0M437.4 474.5h0M432.7 485.8h0M454.6 487.5h0M437.1 465.8h0M450.4 488.4h0M440.0 490.0h0M429.4 495.4h0M443.1 490.5h0M449.5 480.9h0M413.4 507.2h0M436.3 480.7h0M444.6 490.3h0M442.2 483.8h0M451.5 468.1h0M444.4 496.5h0M458.7 484.2h0M433.7 498.7h0M459.9 467.0h0M441.3 471.6h0M437.8 497.3h0M437.6 478.3h0M451.9 472.3h0M445.5 479.5h0M430.2 493.3h0M444.5 496.5h0M432.5 491.5h0M447.2 494.3h0M438.5 492.5h0M453.8 480.2h0M437.0 483.1h0M444.4 479.5h0M445.2 484.6h0M441.1 478.8h0M458.8 479.4h0M447.2 491.4h0M432.7 487.3h0M445.9 474.4h0M426.4 483.7h0M423.7 492.1h0M443.0 490.4h0M426.8 501.3h0M431.6 493.9h0M450.7 465.8h0M454.1 470.9h0M432.5 481.2h0M453.8 498.2h0M415.7 478.7h0M454.9 500.5h0M454.3 493.6h0M428.4 502.3h0M432.8 485.2h0M440.8 478.9h0M433.1 475.6h0M430.8 470.6h0M462.8 487.3h0M433.0 471.3h0M453.2 473.8h0M438.0 475.0h0M450.5 474.3h0M439.8 485.9h0M439.0 489.9h0M454.1 477.0h0M446.9 483.5h0M447.7 479.1h0M440.7 500.9h0M463.1 474.8h0M438.4 488.0h0M451.4 483.6h0M430.3 481.8h0M442.3 488.4h0M436.6 480.3h0M433.6 494.0h0M415.4 492.2h0M437.8 465.9h0M447.1 496.7h0M426.5 479.1h0M428.4 506.7h0M423.0 500.7h0M427.8 497.6h0M446.7 489.2h0M426.6 491.8h0M422.5 497.7h0M444.2 474.2h0M452.5 482.1h0M459.8 489.6h0M447.7 497.1h0M434.5 478.0h0M445.3 475.2h0M421.4 504.8h0M454.5 491.8h0M449.8 481.0h0M420.2 501.7h0M447.1 467.1h0M461.0 498.9h0M455.3 494.4h0M455.0 476.2h0M448.5 494.9h0M452.7 496.9h0M464.5 497.3h0M454.9 484.3h0M457.3 500.3h0M468.1 498.9h0M456.2 481.1h0M453.3 494.2h0M460.3 500.9h0M450.3 492.7h0M451.8 489.6h0M459.7 481.2h0M459.6 496.4h0M461.0 497.2h0M451.9 492.6h0M465.1 489.6h0M449.9 498.7h0M454.2 488.2h0M447.8 489.8h0M454.0 498.3h0M450.8 481.6h0M459.0 487.7h0M447.9 503.3h0M457.9 492.6h0M460.2 493.4h0M458.9 497.4h0M451.3 491.3h0M447.6 484.9h0M454.4 494.9h0M462.2 490.0h0M458.4 492.8h0M454.8 482.4h0M465.0 485.8h0M464.6 497.5h0M460.8 481.8h0M465.2 484.2h0M451.5 494.1h0M458.4 491.2h0M453.8 492.9h0M460.3 497.4h0M455.2 511.6h0M458.8 500.3h0M449.7 489.9h0M459.5 471.8h0M456.9 488.4h0M452.0 497.5h0M463.6 484.5h0M449.2 500.0h0M458.3 490.4h0M458.5 490.3h0M457.7 491.0h0M459.1 485.7h0M461.4 482.8h0M463.5 507.3h0M461.6 484.5h0M458.0 492.5h0M456.2 496.2h0M455.8 485.4h0M453.4 492.3h0M458.8 484.8h0M465.4 492.9h0M453.1 482.2h0M456.0 483.8h0M459.7 477.3h0M445.9 493.3h0M453.6 500.5h0M454.3 489.0h0M446.9 482.4h0M448.9 496.5h0M469.3 504.2h0M464.0 494.3h0M445.4 495.3h0M468.3 482.9h0M468.8 488.0h0M458.6 491.4h0M447.0 492.3h0M462.6 479.1h0" stroke="#0a0a0a" stroke-width="1.3" stroke-linecap="round" fill="none"/>
<rect x="405.8" y="453.9" width="64.7" height="59.2" fill="none" stroke="#161616" stroke-width="1.3"/>
<path d="M441 453.9V513.1M405.8 477.7H470.5" stroke="#161616" stroke-width="1.05" fill="none"/>
<text x="409.6" y="465.0" font-size="11.5" textLength="6.5" lengthAdjust="spacingAndGlyphs" stroke="#000" stroke-width=".5">6</text>
<text x="467.3" y="464.6" font-size="11.5" text-anchor="end" textLength="13.7" lengthAdjust="spacingAndGlyphs" stroke="#000" stroke-width=".5">33</text>
<text x="409.6" y="489.0" font-size="11.5" textLength="13.7" lengthAdjust="spacingAndGlyphs" stroke="#000" stroke-width=".5">32</text>
<text x="467.3" y="509.2" font-size="11.5" text-anchor="end" textLength="13.7" lengthAdjust="spacingAndGlyphs" stroke="#000" stroke-width=".5">29</text>
<g font-size="6.9" font-weight="bold" fill="#000" stroke="#000" stroke-width=".35">
<text x="407.4" y="520.2" textLength="8.0" lengthAdjust="spacingAndGlyphs">10<tspan dy="-1.9" font-size="5.4">0</tspan></text>
<text x="423.1" y="520.2" textLength="8.0" lengthAdjust="spacingAndGlyphs">10<tspan dy="-1.9" font-size="5.4">1</tspan></text>
<text x="439.4" y="520.2" textLength="8.0" lengthAdjust="spacingAndGlyphs">10<tspan dy="-1.9" font-size="5.4">2</tspan></text>
<text x="455.4" y="520.2" textLength="8.0" lengthAdjust="spacingAndGlyphs">10<tspan dy="-1.9" font-size="5.4">3</tspan></text>
<text x="471.7" y="520.2" textLength="8.0" lengthAdjust="spacingAndGlyphs">10<tspan dy="-1.9" font-size="5.4">4</tspan></text>
<text x="403.9" y="513.2" textLength="8.6" lengthAdjust="spacingAndGlyphs" transform="rotate(-90 403.9 513.2)">10<tspan dy="-1.9" font-size="5.4">0</tspan></text>
<text x="403.9" y="498.4" textLength="8.6" lengthAdjust="spacingAndGlyphs" transform="rotate(-90 403.9 498.4)">10<tspan dy="-1.9" font-size="5.4">1</tspan></text>
<text x="403.9" y="483.6" textLength="8.6" lengthAdjust="spacingAndGlyphs" transform="rotate(-90 403.9 483.6)">10<tspan dy="-1.9" font-size="5.4">2</tspan></text>
<text x="403.9" y="468.8" textLength="8.6" lengthAdjust="spacingAndGlyphs" transform="rotate(-90 403.9 468.8)">10<tspan dy="-1.9" font-size="5.4">3</tspan></text>
<text x="403.9" y="454.0" textLength="8.6" lengthAdjust="spacingAndGlyphs" transform="rotate(-90 403.9 454.0)">10<tspan dy="-1.9" font-size="5.4">4</tspan></text>
</g>
</g>
<g id="c4">
<path d="M315.1 610.2h0M334.3 619.2h0M326.3 616.7h0M328.8 612.5h0M327.6 615.1h0M316.2 610.1h0M315.4 622.1h0M323.0 612.6h0M310.6 621.1h0M318.3 611.3h0M323.1 623.6h0M328.8 612.2h0M321.3 611.8h0M321.3 617.6h0M316.9 616.3h0M324.9 604.6h0M322.1 622.5h0M323.1 613.5h0M314.0 612.5h0M319.8 602.0h0M321.7 610.9h0M315.5 607.9h0M326.4 613.1h0M323.4 614.6h0M315.7 619.3h0M323.0 612.3h0M307.3 624.5h0M318.8 610.3h0M324.6 618.1h0M324.0 618.7h0M316.9 613.7h0M320.0 610.5h0M314.6 621.0h0M322.6 616.1h0M316.2 615.7h0M322.0 611.0h0M320.7 615.7h0M318.4 617.5h0M316.0 620.7h0M334.2 607.2h0M315.3 610.4h0M315.4 617.2h0M319.0 618.4h0M323.6 616.2h0M322.1 617.5h0M324.7 606.7h0M320.3 614.1h0M323.6 618.1h0M317.4 612.5h0M311.7 614.0h0M322.9 617.4h0M319.3 611.5h0M318.1 611.9h0M325.8 611.2h0M329.0 611.4h0M321.5 609.1h0M322.4 611.3h0M319.3 616.6h0M329.4 610.4h0M331.5 609.6h0M314.1 617.1h0M330.8 609.8h0M320.6 612.5h0M323.1 615.0h0M319.5 615.4h0M319.9 609.9h0M318.6 612.7h0M316.6 613.5h0M316.8 613.7h0M328.4 607.9h0M321.1 610.5h0M323.1 615.1h0M332.5 614.4h0M324.0 621.2h0M324.9 617.8h0M323.1 616.7h0M317.9 610.3h0M323.3 611.3h0M321.7 615.4h0M329.8 620.2h0M316.0 616.1h0M320.7 621.2h0M319.0 613.3h0M323.8 612.9h0M320.3 607.8h0M323.2 616.0h0M322.2 620.0h0M319.4 612.1h0M321.2 617.2h0M324.8 609.3h0M323.2 611.3h0M315.5 614.1h0M323.6 610.4h0M326.2 618.8h0M324.8 609.7h0M321.1 615.9h0M314.5 623.1h0M320.4 618.8h0M317.8 615.4h0M326.5 613.5h0M328.0 606.9h0M322.7 620.8h0M321.0 608.8h0M320.6 617.0h0M316.1 611.3h0M322.8 615.4h0M329.5 613.4h0M322.9 609.1h0M314.1 615.0h0M326.0 615.1h0M315.0 622.0h0M328.8 616.0h0M326.9 614.7h0M321.7 612.5h0M320.8 614.5h0M316.4 617.6h0M324.8 609.9h0M324.5 607.5h0M321.3 610.4h0M327.6 612.9h0M327.4 613.6h0M326.2 616.0h0M316.3 606.0h0M323.2 615.3h0M314.7 625.3h0M323.6 617.6h0M320.6 615.7h0M317.4 616.1h0M315.5 620.1h0M318.2 613.4h0M315.9 613.6h0M320.9 613.9h0M323.3 619.4h0M315.8 616.4h0M315.2 617.7h0M316.1 609.2h0M317.7 606.8h0M318.3 615.1h0M319.1 622.6h0M318.7 609.6h0M323.7 614.2h0M316.8 613.5h0M330.7 618.2h0M327.3 620.0h0M310.1 614.7h0M320.0 611.9h0M326.7 619.1h0M317.9 618.9h0M317.9 610.3h0M317.5 611.4h0M323.7 619.6h0M328.1 614.1h0M320.5 612.2h0M329.9 607.5h0M325.6 616.0h0M321.8 616.1h0M321.9 615.4h0M321.7 607.1h0M320.3 612.2h0M321.2 616.0h0M322.3 602.9h0M326.9 606.8h0M315.9 614.7h0M322.2 614.1h0M309.8 614.9h0M324.9 610.7h0M312.4 619.7h0M323.4 619.9h0M316.3 615.0h0M320.2 616.7h0M324.6 614.6h0M328.1 608.1h0M327.9 609.3h0M326.7 614.6h0M326.2 605.3h0M325.8 600.9h0M320.0 614.2h0M324.3 618.6h0M311.1 616.2h0M329.2 616.5h0M315.0 616.0h0M325.2 614.0h0M314.2 618.9h0M315.7 612.3h0M318.1 612.3h0M320.9 625.5h0M316.1 612.8h0M327.8 606.9h0M312.9 607.8h0M317.9 623.9h0M316.3 615.6h0M320.5 615.5h0M325.1 602.8h0M318.1 624.5h0M325.9 614.2h0M326.5 609.7h0M326.9 615.2h0M327.9 610.1h0M314.6 615.8h0M319.4 613.7h0M323.4 607.0h0M322.3 611.1h0M325.6 618.1h0M324.2 608.9h0M323.7 617.2h0M324.0 617.3h0M326.0 608.6h0M328.5 618.4h0M322.4 609.9h0M327.0 609.7h0M321.2 616.3h0M323.2 610.0h0M324.3 615.0h0M324.7 611.3h0M318.5 616.9h0M323.5 613.5h0M326.1 612.2h0M317.0 620.5h0M321.1 605.9h0M326.6 614.6h0M324.7 614.5h0M319.6 618.4h0M321.4 609.9h0M326.6 615.3h0M325.5 620.9h0M323.7 613.9h0M324.9 612.8h0M320.5 612.8h0M311.5 615.4h0M325.6 618.4h0M313.6 608.1h0M321.9 608.3h0M318.7 618.1h0M322.6 614.1h0M317.7 613.9h0M325.8 615.0h0M327.1 614.8h0M324.1 610.5h0M323.7 612.7h0M322.3 622.3h0M325.1 608.9h0M320.3 616.1h0M321.1 613.3h0M324.4 619.3h0M318.8 613.1h0M326.6 609.5h0M318.5 613.1h0M320.9 613.4h0M320.2 614.3h0M319.3 609.5h0M316.7 615.7h0M320.7 613.3h0M321.7 614.3h0M319.5 614.2h0M329.0 608.4h0M321.6 617.9h0M321.0 610.3h0M321.8 601.8h0M324.4 613.8h0M324.3 612.0h0M308.3 616.9h0M319.4 608.4h0M330.7 615.2h0M316.5 621.1h0M330.5 618.8h0M319.9 617.7h0M322.3 608.0h0M319.0 618.8h0M318.6 611.6h0M316.1 617.2h0M319.4 618.1h0M324.8 619.6h0M318.6 613.7h0M325.0 615.2h0M315.7 615.3h0M314.6 613.5h0M321.5 615.6h0M316.1 613.2h0M321.0 622.7h0M323.2 614.4h0M316.8 614.2h0M319.3 613.9h0M316.0 618.8h0M319.6 616.4h0M325.0 613.1h0M323.5 621.7h0M328.6 611.5h0M324.9 609.6h0M326.5 615.6h0M323.7 610.0h0M319.2 612.5h0M323.0 617.1h0M310.5 615.5h0M322.3 614.4h0M324.2 618.5h0M316.5 612.5h0M317.7 611.5h0M331.4 616.0h0M321.1 614.7h0M324.1 615.0h0M318.5 612.3h0M327.0 616.0h0M315.2 613.1h0M325.1 621.3h0M316.3 613.8h0M322.8 611.2h0M322.4 619.1h0M315.3 615.9h0M328.7 612.7h0M324.5 610.9h0M321.0 612.1h0M327.1 613.5h0M324.6 609.0h0M322.6 615.7h0M324.6 607.8h0M324.1 611.7h0M319.9 612.3h0M325.5 614.1h0M320.3 621.3h0M318.9 617.8h0M324.0 605.7h0M315.9 620.9h0M325.0 613.1h0M322.6 609.2h0M324.3 613.9h0M322.7 610.0h0M331.7 605.4h0M312.1 616.6h0M320.0 621.6h0M326.3 612.1h0M324.4 612.0h0M325.0 608.6h0M329.6 610.2h0M324.0 603.7h0M319.5 616.4h0M318.8 609.8h0M326.3 611.8h0M313.4 614.8h0M317.3 614.4h0M322.5 613.9h0M325.7 613.9h0M317.6 623.6h0M313.7 619.9h0M315.2 612.2h0M321.6 606.0h0M317.0 612.3h0M321.5 611.0h0M322.2 615.8h0M322.8 615.0h0M324.3 615.5h0M311.4 608.6h0M314.4 613.7h0M318.6 615.5h0M317.3 611.0h0M314.9 621.4h0M322.9 611.9h0M325.1 611.6h0M315.7 615.9h0M321.9 617.0h0M319.8 615.9h0M313.0 621.1h0M323.4 606.9h0M324.8 615.6h0M324.1 614.0h0M322.7 613.4h0M318.8 612.3h0M316.6 612.8h0M324.2 618.7h0M318.6 616.3h0M323.1 618.1h0M324.0 617.3h0M318.8 624.3h0M328.4 615.3h0M322.3 614.5h0M321.1 607.3h0M317.1 623.2h0M322.2 617.7h0M322.1 606.7h0M323.8 610.7h0M315.1 608.4h0M318.2 612.3h0M325.8 606.9h0M326.2 611.7h0M327.3 607.8h0M319.8 613.5h0M321.4 610.9h0M326.1 617.8h0M309.0 626.0h0M321.2 612.5h0M323.9 612.8h0M324.7 613.0h0M320.9 615.0h0M315.8 609.9h0M319.6 619.2h0M307.6 617.4h0M319.8 612.1h0M317.3 615.8h0M325.0 605.7h0M313.0 623.1h0M318.6 607.7h0M319.8 622.1h0M328.7 615.9h0M318.2 623.5h0M318.4 617.1h0M322.8 617.2h0M322.5 609.4h0M321.3 624.8h0M320.7 613.0h0M311.6 621.3h0M320.9 614.6h0M313.7 616.8h0M318.0 609.8h0M318.8 618.6h0M331.4 613.2h0M323.0 612.6h0M322.1 614.2h0M319.5 621.3h0M320.3 617.5h0M316.6 619.4h0M315.7 616.1h0M318.7 618.7h0M317.5 613.8h0M326.6 609.3h0M321.5 608.2h0M321.7 613.7h0M322.6 618.8h0M324.0 609.9h0M325.7 616.7h0M321.7 613.7h0M327.4 612.4h0M330.0 616.6h0M327.9 610.2h0M322.3 619.3h0M316.4 613.1h0M319.9 624.7h0M319.1 616.9h0M326.8 610.1h0M324.9 617.0h0M322.3 615.6h0M315.8 619.1h0M315.6 625.0h0M323.1 608.0h0M313.8 610.7h0M315.0 623.6h0M326.7 621.0h0M321.6 612.2h0M326.6 610.1h0M319.6 618.8h0M325.9 612.1h0M313.6 614.9h0M314.0 616.2h0M314.6 623.7h0M324.2 617.2h0M319.5 622.5h0M320.4 616.3h0M317.0 610.5h0M323.8 622.4h0M324.2 611.9h0M323.8 606.0h0M317.4 616.0h0M328.4 611.0h0M332.7 613.6h0M323.8 615.1h0M325.4 612.2h0M315.1 620.6h0M322.8 614.7h0M322.6 623.1h0M322.2 617.7h0M327.1 607.1h0M316.7 620.8h0M318.9 619.9h0M318.6 612.5h0M328.2 611.2h0M314.5 610.1h0M326.6 612.7h0M318.0 616.3h0M317.6 619.6h0M322.2 612.3h0M331.3 616.8h0M316.8 617.3h0M321.2 603.8h0M319.3 626.0h0M316.3 615.8h0M316.9 612.0h0M319.6 613.5h0M320.5 611.5h0M322.6 619.2h0M315.4 615.0h0M324.0 615.6h0M316.5 614.2h0M324.8 613.3h0M315.9 618.1h0M325.9 609.6h0M323.9 605.6h0M322.2 614.2h0M322.6 609.8h0M308.5 613.2h0M325.6 611.1h0M318.7 611.6h0M318.7 612.4h0M321.9 608.2h0M327.3 613.0h0M321.5 616.7h0M322.5 611.9h0M316.8 615.9h0M316.1 616.2h0M318.2 620.6h0M325.9 616.0h0M317.2 615.1h0M328.6 612.3h0M311.1 616.2h0M321.7 611.7h0M324.4 611.0h0M317.7 616.9h0M314.0 615.7h0M322.2 616.8h0M315.7 615.0h0M318.9 614.9h0M326.8 605.8h0M324.7 614.1h0M322.8 613.3h0M323.8 612.5h0M310.5 616.4h0M318.8 615.8h0M321.3 612.0h0M316.5 614.2h0M319.5 616.2h0M327.6 613.8h0M316.9 612.8h0M320.6 621.1h0M315.6 622.1h0M319.7 614.2h0M325.0 614.4h0M327.2 609.9h0M323.3 606.2h0M315.3 616.9h0M322.9 610.3h0M322.2 612.4h0M328.3 610.8h0M320.8 611.9h0M320.2 622.3h0M327.3 605.4h0M315.4 617.7h0M327.2 604.3h0M328.5 617.4h0M324.6 608.9h0M323.6 617.2h0M317.0 609.1h0M320.1 615.6h0M324.2 614.1h0M321.8 617.8h0M318.5 618.3h0M321.7 618.7h0M324.8 611.6h0M317.7 608.0h0M326.6 612.0h0M319.3 613.9h0M318.0 619.7h0M323.2 616.1h0M326.0 611.2h0M318.0 615.9h0M316.4 615.8h0M327.3 612.6h0M323.0 608.0h0M324.6 608.3h0M330.9 614.7h0M322.8 616.3h0M325.5 616.5h0M319.4 617.4h0M323.5 613.9h0M320.8 616.8h0M325.7 611.7h0M315.1 616.3h0M322.2 611.6h0M317.0 612.7h0M320.9 616.3h0M322.7 613.7h0M327.7 618.1h0M318.6 614.2h0M314.4 613.2h0M317.2 615.5h0M323.2 608.7h0M317.8 624.9h0M318.8 608.5h0M309.4 622.9h0M320.0 617.6h0M329.2 611.4h0M321.1 610.2h0M324.0 609.9h0M329.8 608.3h0M332.4 610.9h0M315.4 616.7h0M316.8 618.4h0M327.6 609.0h0M318.3 613.0h0M325.3 620.8h0M319.9 615.9h0M314.1 623.7h0M330.5 608.5h0M323.4 617.6h0M315.7 615.8h0M315.8 617.5h0M323.1 615.2h0M322.6 612.7h0M322.0 611.1h0M323.0 619.7h0M311.6 617.5h0M321.1 620.2h0M326.3 611.7h0M317.9 620.3h0M321.6 606.9h0M325.0 612.4h0M318.6 612.4h0M326.2 620.3h0M321.8 609.0h0M313.5 619.7h0M316.6 618.1h0M320.7 617.0h0M321.7 608.7h0M316.0 611.1h0M325.9 615.7h0M324.0 612.1h0M311.9 615.9h0M319.4 607.4h0M326.3 612.8h0M316.6 615.6h0M323.0 610.3h0M321.0 607.4h0M315.9 615.3h0M311.5 622.1h0M321.4 615.6h0M321.2 618.0h0M320.6 617.4h0M318.1 614.6h0M318.3 613.4h0M329.0 614.6h0M325.1 605.9h0M317.4 611.8h0M312.6 618.5h0M324.1 615.6h0M324.6 611.4h0M319.4 616.9h0M317.7 618.6h0M318.4 617.7h0M323.4 603.2h0M318.8 613.4h0M326.5 608.3h0M317.7 612.3h0M326.4 621.1h0M321.0 618.2h0M330.1 615.7h0M321.0 612.6h0M323.7 616.4h0M323.5 614.7h0M326.2 612.0h0M316.0 614.0h0M320.4 618.9h0M315.5 616.1h0M317.8 610.6h0M319.7 610.7h0M315.7 617.9h0M333.3 602.0h0M326.3 613.5h0M317.5 621.6h0M322.2 608.0h0M332.3 613.9h0M319.6 616.2h0M318.9 621.3h0M325.3 609.0h0M320.9 613.6h0M322.2 620.5h0M322.5 614.5h0M320.1 615.3h0M322.8 613.3h0M314.7 617.0h0M319.6 611.5h0M308.7 615.3h0M326.0 609.4h0M317.9 613.7h0M326.8 617.9h0M314.1 622.1h0M326.3 604.1h0M324.6 619.2h0M325.3 602.5h0M317.9 614.5h0M320.0 618.7h0M313.8 616.1h0M320.2 616.7h0M314.9 620.9h0M324.1 610.4h0M323.2 619.7h0M321.6 610.6h0M324.3 624.9h0M328.1 613.1h0M313.3 616.1h0M313.9 616.5h0M321.7 614.1h0M317.0 611.6h0M326.7 610.3h0M329.1 609.2h0M318.6 610.4h0M319.6 621.5h0M325.7 612.6h0M322.3 603.8h0M320.1 614.1h0M319.9 616.0h0M316.6 621.2h0M318.7 615.4h0M316.9 617.5h0M322.8 618.0h0M315.0 618.1h0M319.4 616.4h0M321.9 610.7h0M322.1 613.0h0M322.6 603.0h0M325.7 613.6h0M319.7 618.3h0M318.8 618.9h0M320.7 620.6h0M316.8 616.3h0M320.3 611.6h0M319.2 612.9h0M313.3 618.1h0M319.5 628.0h0M335.3 605.4h0M322.4 611.2h0M321.1 608.0h0M315.9 623.0h0M322.1 610.8h0M319.1 607.6h0M313.9 610.9h0M321.2 615.2h0M316.3 616.9h0M318.9 619.1h0M325.3 606.2h0M314.7 615.7h0M316.2 622.6h0M320.7 616.7h0M320.2 614.4h0M318.3 616.6h0M317.2 611.2h0M320.7 617.2h0M320.5 616.4h0M314.2 615.9h0M316.2 613.0h0M312.0 607.7h0M324.2 616.0h0M317.3 613.9h0M330.4 612.2h0M321.0 610.0h0M324.4 612.3h0M316.4 613.3h0M311.2 619.7h0M324.2 610.4h0M313.0 616.3h0M321.6 613.1h0M316.1 612.7h0M313.2 621.4h0M318.8 619.4h0M324.8 610.0h0M319.7 614.6h0M320.0 621.9h0M320.3 618.0h0M325.3 611.4h0M314.5 619.6h0M323.9 618.1h0M315.1 617.3h0M323.7 614.0h0M322.9 613.5h0M321.9 610.7h0M322.3 614.8h0M316.2 624.7h0M321.4 609.5h0M319.6 613.4h0M328.8 612.5h0M317.1 617.3h0M323.3 611.2h0M327.1 612.8h0M328.6 610.7h0M322.9 616.3h0M326.8 614.5h0M315.5 617.9h0M323.1 604.9h0M335.4 612.9h0M323.2 613.9h0M318.3 608.2h0M325.2 613.0h0M318.3 607.8h0M318.9 608.4h0M321.9 615.0h0M324.0 610.9h0M320.8 620.1h0M323.4 614.9h0M320.5 618.0h0M327.0 621.2h0M315.4 616.6h0M320.2 616.1h0M315.0 609.6h0M330.5 609.2h0M319.0 609.8h0M323.4 616.0h0M317.6 611.2h0M321.8 616.9h0M316.7 606.8h0M309.7 610.1h0M315.3 616.5h0M317.7 611.6h0M315.7 622.0h0M315.5 616.0h0M316.8 615.3h0M314.9 617.9h0M317.2 611.6h0M320.7 615.4h0M325.3 607.8h0M320.9 612.5h0M323.1 607.2h0M317.1 620.7h0M315.1 617.0h0M316.8 617.7h0M321.9 610.3h0M322.4 613.6h0M328.6 614.1h0M323.7 614.0h0M318.6 608.2h0M314.0 613.7h0M311.3 619.0h0M319.3 616.7h0M316.5 616.7h0M321.5 621.5h0M313.7 621.0h0M324.1 615.7h0M313.3 607.3h0M312.0 620.3h0M317.9 610.4h0M323.5 617.8h0M327.7 611.0h0M322.9 613.5h0M321.5 606.8h0M311.0 610.3h0M323.8 619.0h0M314.7 625.6h0M321.3 617.5h0M329.7 616.5h0M322.9 621.3h0M321.1 621.1h0M323.3 619.7h0M316.0 619.1h0M312.7 621.8h0M324.7 612.5h0M316.3 613.7h0M326.4 614.6h0M320.0 615.4h0M316.5 621.9h0M328.4 616.3h0M326.2 612.8h0M317.8 615.6h0M314.4 615.7h0M322.0 615.2h0M322.4 609.4h0M332.6 607.4h0M325.0 611.9h0M323.5 614.6h0M323.0 609.5h0M328.6 609.8h0M318.6 615.0h0M327.0 606.1h0M324.7 618.1h0M318.7 610.6h0M318.6 617.7h0M322.6 611.7h0M323.4 610.9h0M317.3 625.9h0M322.0 619.7h0M318.1 620.2h0M320.1 613.0h0M323.5 616.6h0M318.2 624.7h0M321.3 617.4h0M315.1 613.2h0M320.1 616.1h0M324.9 610.2h0M319.2 612.8h0M327.6 609.3h0M319.7 614.5h0M324.4 603.5h0M313.8 619.8h0M314.0 615.2h0M333.2 619.5h0M311.9 612.0h0M324.5 612.2h0M328.1 616.0h0M320.6 613.0h0M333.0 607.5h0M326.8 602.9h0M321.9 624.9h0M320.4 616.4h0M315.4 623.4h0M326.7 615.9h0M315.6 621.8h0M325.0 611.4h0M320.3 615.1h0M319.5 606.1h0M317.6 615.1h0M315.4 619.6h0M315.3 615.5h0M315.2 618.0h0M331.5 615.1h0M317.1 614.5h0M319.2 617.9h0M317.3 615.0h0M315.5 615.0h0M316.5 608.6h0M333.7 588.6h0M332.4 588.0h0M336.6 591.9h0M336.9 590.7h0M334.9 591.1h0M342.4 587.5h0M335.7 592.7h0M330.0 593.7h0M339.6 588.8h0M331.7 590.5h0M332.1 591.5h0M348.1 583.5h0M346.2 585.0h0M343.5 587.7h0M328.2 595.4h0M334.9 592.9h0M339.1 589.3h0M328.8 591.5h0M337.3 592.2h0M333.3 590.5h0M327.1 592.9h0M327.0 593.9h0M343.4 587.3h0M339.2 591.2h0M338.0 591.8h0M342.8 588.0h0M347.9 588.1h0M323.0 594.3h0M345.2 585.8h0M341.4 589.8h0M338.0 590.2h0M334.1 594.1h0M337.4 590.4h0M340.2 590.5h0M337.4 590.3h0M343.1 586.0h0M336.2 593.9h0M345.0 585.6h0M315.0 599.2h0M333.4 591.1h0M328.8 592.1h0M333.6 591.0h0M346.4 584.5h0M336.7 591.6h0M343.4 588.1h0M332.1 591.3h0M344.0 588.2h0M335.6 589.9h0M339.4 586.5h0M333.4 590.9h0M345.0 586.4h0M330.6 592.5h0M327.1 594.7h0M337.0 587.9h0M332.3 593.8h0M330.8 589.9h0M330.0 594.9h0M344.5 587.5h0M339.9 589.2h0M337.2 592.6h0M339.3 588.9h0M340.1 586.8h0M339.4 588.6h0M326.4 595.7h0M328.0 593.5h0M350.0 584.0h0M337.4 592.5h0M338.9 585.9h0M334.4 589.9h0M338.9 590.5h0M340.9 585.4h0M320.9 592.5h0M349.5 586.3h0M337.2 586.3h0M337.3 588.0h0M338.3 592.9h0M343.9 589.5h0M343.0 587.7h0M342.4 586.6h0M328.5 593.4h0M345.3 586.1h0M340.8 587.9h0M326.1 591.1h0M326.8 593.1h0M347.5 584.4h0M340.9 587.9h0M335.7 588.0h0M342.6 589.7h0M328.1 592.1h0M341.3 584.4h0M338.8 588.4h0M329.7 594.5h0M340.7 587.4h0M331.4 592.6h0M342.6 585.5h0M334.5 588.5h0M347.3 588.0h0M322.0 595.2h0M347.8 586.0h0M340.1 589.2h0M330.0 594.5h0M350.1 583.1h0M336.8 591.6h0M352.0 582.1h0M342.1 586.8h0M331.6 592.2h0M335.3 589.2h0M333.6 593.1h0M332.8 591.7h0M329.1 592.4h0M337.3 590.6h0M336.9 591.9h0M332.4 593.6h0M345.7 587.8h0M348.0 585.7h0M336.7 589.1h0M333.3 588.9h0M332.0 590.2h0M328.1 590.1h0M338.4 592.7h0M339.0 587.5h0M337.3 586.7h0M330.9 595.0h0M331.6 592.2h0M337.5 589.9h0M340.9 589.6h0M313.9 597.5h0M336.8 588.9h0M349.3 585.0h0M339.9 589.6h0M338.9 587.3h0M332.8 592.0h0M338.5 588.7h0M343.6 586.7h0M346.1 586.8h0M332.9 589.8h0M333.0 589.5h0M329.3 598.9h0M337.2 590.6h0M332.4 589.3h0M342.4 587.4h0M336.0 591.5h0M344.1 587.3h0M334.1 590.6h0M338.9 592.2h0M337.1 587.6h0M334.7 590.6h0M331.9 591.3h0M331.3 590.8h0M327.0 594.0h0M338.4 590.7h0M334.6 589.8h0M332.6 596.4h0M339.2 588.6h0M339.3 588.2h0M344.9 588.2h0M342.5 587.5h0M348.7 579.4h0M329.1 593.8h0M338.0 590.7h0M338.4 592.3h0M328.8 593.9h0M332.6 592.7h0M330.9 591.9h0M338.7 589.4h0M341.0 587.0h0M336.6 592.7h0M345.6 586.8h0M321.5 606.9h0M311.9 601.1h0M346.5 589.0h0M326.1 611.2h0M338.9 611.0h0M331.9 596.6h0M332.2 598.5h0M321.9 612.8h0M340.9 594.1h0M333.7 595.4h0M332.4 606.3h0M339.6 596.7h0M339.3 601.6h0M331.9 591.3h0M334.3 598.0h0M325.1 615.1h0M322.4 614.9h0M321.1 590.1h0M332.2 594.8h0M330.0 608.9h0M319.7 612.7h0M314.8 613.4h0M333.9 597.0h0M333.9 594.3h0M343.2 596.3h0M345.4 606.5h0M325.1 595.2h0M333.1 593.1h0M336.6 587.6h0M318.3 614.6h0M326.4 595.1h0M320.1 611.6h0M322.7 603.4h0M348.2 589.8h0M323.4 612.5h0M324.3 620.3h0M326.2 595.1h0M323.7 612.4h0M350.9 594.0h0M340.8 595.3h0M334.3 608.0h0M333.2 607.5h0M333.5 595.1h0M328.8 602.3h0M338.0 600.3h0M326.3 611.3h0M336.4 603.5h0M337.6 599.6h0M348.9 581.4h0M338.8 591.7h0M335.1 605.0h0M335.8 590.6h0M332.3 607.1h0M339.6 593.1h0M332.0 594.5h0M337.7 600.6h0M324.1 607.3h0M335.4 598.2h0M334.8 614.9h0M332.0 607.2h0M318.1 604.5h0M340.5 599.9h0M330.1 594.2h0M325.7 612.1h0M351.9 591.2h0M320.2 599.7h0M316.0 624.7h0M311.3 615.5h0M328.9 616.3h0M344.0 594.1h0M341.1 591.8h0M335.5 597.2h0M342.4 606.2h0M351.2 578.5h0M345.8 601.0h0M327.6 609.9h0M332.1 601.6h0M332.6 607.7h0M329.6 603.3h0M320.1 610.2h0M325.1 602.1h0M323.5 600.6h0M313.0 610.5h0M325.4 605.3h0M326.8 608.0h0M336.8 603.4h0M330.3 600.8h0M338.7 594.1h0M322.8 611.4h0M317.9 607.7h0M326.9 608.6h0M333.9 592.8h0M311.6 620.5h0M331.6 601.1h0M340.2 603.4h0M328.9 602.8h0M335.4 603.1h0M333.7 603.6h0M331.7 610.4h0M323.8 597.3h0M342.9 586.1h0M324.8 604.9h0M336.5 599.0h0M311.7 614.5h0M337.4 595.5h0M323.7 604.7h0M327.0 600.5h0M333.7 603.7h0M324.7 609.6h0M344.6 595.3h0M327.4 600.2h0M330.1 604.7h0M331.0 610.8h0M327.9 607.6h0M328.3 610.8h0M330.8 597.1h0M343.0 598.8h0M325.7 613.6h0M322.0 610.3h0M324.4 615.9h0M339.7 601.6h0M328.4 605.1h0M323.5 615.3h0M319.9 607.5h0M333.2 616.7h0M339.6 591.4h0M323.0 609.4h0M321.4 608.7h0M343.3 591.8h0M320.5 611.2h0M344.8 597.7h0M332.5 605.9h0M334.3 599.1h0M323.3 606.4h0M334.0 609.6h0M329.7 604.9h0M326.8 603.2h0M332.4 607.8h0M328.5 593.5h0M322.9 607.1h0M320.2 608.8h0M331.2 608.6h0M328.3 595.5h0M336.6 598.1h0M324.5 602.0h0M331.7 602.0h0M332.7 595.0h0M322.9 608.2h0M337.2 581.0h0M326.7 608.3h0M337.2 596.5h0M323.6 592.3h0M332.2 613.6h0M326.5 591.8h0M344.6 602.1h0M334.7 598.8h0M334.6 598.3h0M328.8 611.5h0M336.2 604.3h0M329.5 604.8h0M335.1 604.8h0M325.8 605.9h0M333.3 598.9h0M323.0 616.4h0M345.3 579.5h0M333.1 604.3h0M345.8 602.4h0M339.5 600.8h0M327.6 610.1h0M325.0 601.4h0M315.9 614.3h0M355.2 582.9h0M333.3 602.3h0M340.5 591.1h0M333.2 610.0h0M336.3 604.0h0M335.3 609.8h0M328.2 598.3h0M333.0 600.9h0M318.4 607.4h0M325.0 600.4h0M330.8 585.3h0M347.5 589.5h0M333.9 601.6h0M343.5 599.7h0M329.7 593.8h0M320.1 612.5h0M321.1 602.5h0M337.5 605.4h0M330.3 591.3h0M346.4 599.0h0M334.4 596.1h0M325.8 605.4h0M343.9 605.0h0M330.7 609.4h0M340.9 591.6h0M334.7 601.3h0M322.6 609.8h0M336.5 596.6h0M321.0 608.1h0M322.3 602.0h0M326.8 603.3h0M321.5 612.6h0M342.0 593.5h0M325.5 599.3h0M328.8 602.2h0M328.4 598.6h0M332.8 609.7h0M325.0 609.2h0M336.2 606.9h0M331.3 599.0h0M328.3 599.8h0M326.9 606.3h0M331.8 597.4h0M337.1 602.7h0M326.9 597.6h0M348.8 598.0h0M352.4 589.3h0M334.5 607.9h0M339.0 601.9h0M340.7 599.6h0M327.6 598.4h0M315.4 607.9h0M317.2 605.7h0M330.3 606.6h0M345.8 599.2h0M333.7 600.9h0M332.8 609.0h0M331.7 596.6h0M332.1 605.8h0M332.5 598.9h0M339.0 597.1h0M344.4 599.3h0M336.3 603.0h0M331.2 606.0h0M331.2 602.8h0M331.6 591.7h0M322.9 608.4h0M346.4 586.3h0M338.2 606.3h0M324.6 604.2h0M320.3 622.1h0M340.6 605.3h0M355.0 615.0h0M324.0 617.5h0M330.4 598.3h0M323.0 602.5h0M313.6 604.4h0M307.7 623.9h0M320.9 609.9h0M342.9 605.9h0M322.8 609.3h0M351.7 596.0h0M313.2 602.0h0M323.1 611.0h0M313.7 602.7h0M315.9 601.2h0M337.7 607.1h0M332.3 603.2h0M342.3 620.3h0M330.4 631.1h0M312.1 605.6h0M337.6 600.9h0M317.6 612.8h0M315.2 612.0h0M329.0 611.2h0M321.0 614.2h0M322.7 617.7h0M328.3 617.4h0M323.4 606.5h0M330.6 596.9h0M316.6 607.8h0M315.0 603.9h0M333.2 607.0h0M318.8 600.5h0M311.9 615.5h0M326.7 596.0h0M329.9 599.6h0M330.0 605.9h0M320.5 617.2h0M333.3 609.9h0M312.3 627.0h0M332.8 614.4h0M346.9 619.5h0M327.2 596.9h0M337.8 588.2h0M316.0 610.9h0M306.5 616.2h0M332.7 602.0h0M343.6 602.5h0M326.0 617.5h0M337.0 587.1h0M331.3 626.5h0M336.4 608.2h0M350.7 614.9h0M313.2 618.2h0M309.0 599.2h0M319.6 612.7h0M324.4 622.0h0M320.0 609.6h0M335.7 613.0h0M317.2 599.8h0M301.0 617.9h0M315.1 612.5h0M330.6 631.2h0M333.7 606.8h0M315.9 622.8h0M338.6 625.0h0M331.6 613.1h0M330.2 613.4h0M341.2 607.4h0M330.4 606.9h0M309.0 623.7h0M330.1 599.0h0M325.3 604.0h0M316.8 620.8h0M311.5 602.5h0M346.0 606.2h0M331.3 620.3h0M340.9 591.2h0M344.7 598.1h0M339.8 607.6h0M327.1 630.7h0M333.2 601.1h0M312.4 610.7h0M325.0 609.4h0M338.3 603.6h0M331.2 619.7h0M317.7 610.2h0M348.3 590.4h0M311.3 623.4h0M334.6 594.7h0M331.0 617.9h0M313.5 604.1h0M332.3 611.2h0M324.4 613.6h0M320.7 603.4h0M323.5 616.1h0M337.6 615.3h0M328.4 598.5h0M331.7 618.8h0M308.4 628.1h0M341.7 611.2h0M329.6 606.4h0M340.0 617.3h0M338.7 599.9h0M332.6 610.0h0M322.7 626.0h0M315.8 611.0h0M323.3 617.6h0M322.8 607.6h0M332.2 597.1h0M329.0 605.0h0M333.5 593.7h0M318.2 597.6h0M326.0 617.3h0M314.4 614.0h0M329.6 592.2h0M340.9 614.3h0M311.5 613.0h0M325.4 605.5h0M323.2 608.0h0M320.8 613.2h0M327.4 595.4h0M317.3 600.4h0M327.0 603.4h0M330.8 603.1h0M323.3 617.1h0M305.5 608.8h0M323.0 612.0h0M305.2 619.7h0M336.7 630.1h0M330.8 626.6h0M334.8 609.9h0M334.6 612.6h0M327.5 610.2h0M297.9 612.3h0M335.3 610.4h0M327.6 619.4h0M302.1 617.6h0M333.4 605.5h0M345.0 613.1h0M352.8 597.5h0" stroke="#0a0a0a" stroke-width="1.3" stroke-linecap="round" fill="none"/>
<rect x="294.9" y="575.4" width="63.8" height="59.8" fill="none" stroke="#161616" stroke-width="1.3"/>
<path d="M329.4 575.4V635.2M294.9 600.0H358.7" stroke="#161616" stroke-width="1.05" fill="none"/>
<text x="298.1" y="587.5" font-size="11.5" textLength="6.5" lengthAdjust="spacingAndGlyphs" stroke="#000" stroke-width=".5">3</text>
<text x="356.1" y="587.1" font-size="11.5" text-anchor="end" textLength="6.5" lengthAdjust="spacingAndGlyphs" stroke="#000" stroke-width=".5">8</text>
<text x="298.1" y="612.1" font-size="11.5" textLength="13.7" lengthAdjust="spacingAndGlyphs" stroke="#000" stroke-width=".5">81</text>
<text x="356.4" y="629.0" font-size="11.5" text-anchor="end" textLength="6.5" lengthAdjust="spacingAndGlyphs" stroke="#000" stroke-width=".5">8</text>
<g font-size="6.9" font-weight="bold" fill="#000" stroke="#000" stroke-width=".35">
<text x="295.1" y="642.5" textLength="8.0" lengthAdjust="spacingAndGlyphs">10<tspan dy="-1.9" font-size="5.4">0</tspan></text>
<text x="311.2" y="642.5" textLength="8.0" lengthAdjust="spacingAndGlyphs">10<tspan dy="-1.9" font-size="5.4">1</tspan></text>
<text x="327.4" y="642.5" textLength="8.0" lengthAdjust="spacingAndGlyphs">10<tspan dy="-1.9" font-size="5.4">2</tspan></text>
<text x="343.2" y="642.5" textLength="8.0" lengthAdjust="spacingAndGlyphs">10<tspan dy="-1.9" font-size="5.4">3</tspan></text>
<text x="358.2" y="642.5" textLength="8.0" lengthAdjust="spacingAndGlyphs">10<tspan dy="-1.9" font-size="5.4">4</tspan></text>
<text x="293.0" y="635.3" textLength="8.6" lengthAdjust="spacingAndGlyphs" transform="rotate(-90 293.0 635.3)">10<tspan dy="-1.9" font-size="5.4">0</tspan></text>
<text x="293.0" y="620.4" textLength="8.6" lengthAdjust="spacingAndGlyphs" transform="rotate(-90 293.0 620.4)">10<tspan dy="-1.9" font-size="5.4">1</tspan></text>
<text x="293.0" y="605.4" textLength="8.6" lengthAdjust="spacingAndGlyphs" transform="rotate(-90 293.0 605.4)">10<tspan dy="-1.9" font-size="5.4">2</tspan></text>
<text x="293.0" y="590.5" textLength="8.6" lengthAdjust="spacingAndGlyphs" transform="rotate(-90 293.0 590.5)">10<tspan dy="-1.9" font-size="5.4">3</tspan></text>
<text x="293.0" y="575.5" textLength="8.6" lengthAdjust="spacingAndGlyphs" transform="rotate(-90 293.0 575.5)">10<tspan dy="-1.9" font-size="5.4">4</tspan></text>
</g>
</g>
<g id="c5">
<path d="M428.6 626.3h0M431.2 612.9h0M432.4 609.4h0M442.3 609.1h0M433.1 618.4h0M427.9 621.9h0M438.2 615.0h0M430.8 610.8h0M429.2 610.7h0M430.8 613.3h0M430.5 620.9h0M443.8 612.8h0M429.0 616.0h0M426.2 617.7h0M433.4 616.7h0M429.9 617.5h0M425.5 618.6h0M440.5 614.9h0M433.9 614.2h0M430.6 613.0h0M428.0 621.7h0M428.0 621.1h0M426.4 620.0h0M439.7 611.5h0M431.6 617.0h0M427.5 624.3h0M426.0 616.4h0M428.5 618.7h0M426.8 616.6h0M433.6 614.7h0M438.3 613.7h0M433.2 608.2h0M432.9 617.1h0M434.0 611.7h0M436.6 616.8h0M425.3 616.8h0M428.5 619.6h0M426.8 620.0h0M426.8 614.8h0M429.8 628.9h0M439.0 614.3h0M427.1 624.1h0M426.6 613.6h0M427.7 616.6h0M438.1 610.4h0M432.2 617.4h0M430.0 610.6h0M436.5 612.3h0M439.6 617.0h0M435.8 623.7h0M429.2 616.3h0M425.9 627.8h0M429.0 615.0h0M430.4 619.5h0M437.5 614.0h0M428.5 614.9h0M421.9 620.9h0M432.0 613.1h0M441.5 611.6h0M431.3 618.4h0M430.2 612.9h0M426.1 612.8h0M432.6 620.0h0M433.8 622.5h0M432.4 618.7h0M431.5 612.3h0M427.8 621.2h0M434.4 613.0h0M423.5 608.4h0M431.0 620.8h0M436.5 613.1h0M430.4 621.2h0M432.2 619.2h0M434.8 608.0h0M430.9 617.6h0M433.2 614.8h0M437.2 615.4h0M428.8 617.6h0M432.8 609.1h0M423.7 612.0h0M432.8 624.6h0M439.0 607.2h0M440.0 610.7h0M432.9 614.1h0M432.5 607.6h0M438.1 611.2h0M427.3 610.9h0M443.4 609.6h0M433.1 615.1h0M434.5 610.9h0M435.1 616.9h0M427.4 616.4h0M434.3 609.1h0M429.8 620.3h0M444.8 613.5h0M433.4 625.1h0M425.5 619.4h0M435.9 617.0h0M436.3 614.5h0M420.4 617.9h0M433.1 617.2h0M430.3 614.0h0M435.4 617.5h0M423.3 630.0h0M440.6 611.5h0M429.3 618.2h0M437.3 621.5h0M435.4 616.9h0M436.3 612.6h0M425.1 613.3h0M431.1 620.5h0M430.2 607.4h0M430.1 617.4h0M433.6 611.8h0M430.0 617.1h0M433.2 614.3h0M427.6 618.0h0M430.3 613.8h0M430.2 615.8h0M429.7 626.6h0M433.2 618.5h0M440.1 609.8h0M428.1 618.7h0M427.4 617.7h0M432.6 611.1h0M434.4 614.4h0M439.0 611.7h0M436.6 614.5h0M429.0 616.5h0M424.8 616.0h0M437.2 605.4h0M435.5 611.1h0M427.1 620.0h0M437.3 615.4h0M435.8 611.6h0M431.4 612.4h0M430.0 620.7h0M434.4 612.0h0M429.8 614.2h0M428.5 612.5h0M431.8 615.2h0M435.8 622.3h0M428.8 619.5h0M432.0 611.1h0M432.6 610.2h0M433.2 614.8h0M432.9 605.9h0M444.5 618.2h0M431.0 610.6h0M428.7 611.8h0M434.8 613.5h0M431.1 625.1h0M434.0 621.0h0M428.8 616.1h0M427.0 621.2h0M428.2 613.8h0M438.0 609.0h0M440.1 609.4h0M419.9 618.2h0M436.4 619.9h0M427.7 613.9h0M430.5 621.9h0M436.6 609.9h0M424.3 616.0h0M431.2 610.1h0M430.1 615.4h0M433.1 604.3h0M424.9 618.3h0M434.5 610.2h0M433.0 610.1h0M420.6 620.5h0M434.3 609.8h0M425.3 619.4h0M427.8 619.8h0M433.7 617.8h0M438.8 621.0h0M427.1 625.2h0M419.5 629.4h0M426.8 617.2h0M429.2 619.5h0M431.4 619.3h0M432.9 619.3h0M441.6 608.4h0M430.3 612.3h0M431.1 614.5h0M424.8 617.0h0M434.5 603.1h0M422.2 617.8h0M429.5 615.2h0M433.4 615.4h0M428.4 612.6h0M430.6 621.1h0M434.3 610.8h0M431.0 611.8h0M423.5 615.4h0M439.8 618.3h0M433.3 616.8h0M433.6 612.9h0M425.1 626.5h0M436.2 618.5h0M429.8 615.1h0M444.4 613.4h0M430.5 609.7h0M425.8 616.3h0M431.5 614.9h0M432.4 618.8h0M420.4 616.1h0M432.4 617.2h0M436.5 621.1h0M428.5 616.3h0M427.5 614.1h0M435.2 613.8h0M432.1 605.0h0M428.6 623.9h0M432.3 613.8h0M434.5 617.1h0M431.5 621.9h0M433.6 613.3h0M433.3 620.0h0M429.4 614.6h0M424.6 619.0h0M429.2 612.8h0M431.9 621.3h0M429.9 620.9h0M426.2 606.7h0M433.5 613.6h0M425.4 619.4h0M428.0 617.6h0M431.6 620.1h0M435.5 617.5h0M434.0 609.2h0M434.4 616.2h0M429.6 624.3h0M433.0 614.6h0M431.1 611.8h0M436.0 617.3h0M438.2 611.5h0M431.6 614.3h0M421.0 623.1h0M431.8 619.2h0M431.2 615.7h0M437.2 612.2h0M430.6 610.5h0M427.1 614.7h0M433.9 612.2h0M428.2 617.3h0M432.6 621.2h0M439.0 612.5h0M436.0 620.5h0M437.5 615.6h0M428.1 618.7h0M428.7 610.4h0M428.7 621.7h0M427.0 623.6h0M432.6 614.9h0M429.4 616.6h0M433.5 606.3h0M433.0 617.4h0M431.5 614.2h0M429.1 617.6h0M435.1 612.0h0M427.7 615.2h0M432.7 608.6h0M432.8 614.5h0M432.0 619.3h0M437.2 611.6h0M436.5 612.0h0M429.1 613.6h0M433.3 623.5h0M427.7 610.3h0M434.7 614.9h0M430.2 621.2h0M426.0 609.5h0M429.3 616.6h0M435.6 612.9h0M432.2 614.2h0M431.7 615.2h0M436.0 612.3h0M435.4 614.0h0M440.9 605.4h0M428.9 610.4h0M430.6 620.4h0M427.1 618.7h0M428.0 616.2h0M426.7 619.2h0M433.9 615.7h0M428.2 620.0h0M428.0 626.3h0M432.7 619.3h0M428.6 627.0h0M437.4 609.6h0M436.1 611.6h0M433.5 612.7h0M427.8 611.2h0M420.2 622.5h0M436.2 624.3h0M433.5 623.3h0M426.1 614.2h0M429.4 618.5h0M430.8 624.8h0M428.6 617.4h0M425.3 617.8h0M433.9 606.2h0M431.8 613.3h0M426.2 619.9h0M425.9 624.9h0M432.7 613.6h0M429.8 612.0h0M430.7 616.9h0M425.3 620.6h0M429.2 614.9h0M433.0 620.4h0M435.3 622.5h0M430.4 617.0h0M428.3 617.6h0M428.1 613.4h0M432.4 613.2h0M425.5 613.5h0M429.7 624.5h0M430.6 605.2h0M427.9 616.8h0M430.9 613.2h0M428.3 614.2h0M429.9 619.9h0M421.7 617.4h0M431.0 615.2h0M431.7 609.1h0M428.7 625.3h0M434.8 622.4h0M435.9 609.2h0M431.0 620.1h0M432.5 619.8h0M439.9 616.4h0M431.0 619.0h0M435.9 618.2h0M439.4 611.7h0M448.8 600.9h0M454.1 611.3h0M440.8 611.4h0M444.3 599.5h0M446.2 603.6h0M452.4 607.7h0M446.4 606.9h0M449.8 602.2h0M443.7 604.8h0M448.4 601.6h0M446.8 607.2h0M450.8 606.6h0M446.2 597.8h0M446.6 609.4h0M444.4 605.2h0M446.1 598.9h0M450.7 605.6h0M445.3 601.9h0M445.4 602.9h0M448.0 606.5h0M448.2 599.7h0M452.0 606.3h0M448.1 604.7h0M448.8 603.0h0M450.6 601.9h0M453.9 607.5h0M443.7 600.5h0M454.7 609.6h0M448.8 599.4h0M440.1 612.2h0M450.1 601.8h0M444.3 607.1h0M439.3 594.7h0M447.3 601.2h0M448.6 604.4h0M449.1 604.7h0M445.6 608.0h0M442.9 604.6h0M447.5 603.5h0M446.6 602.1h0M445.5 596.6h0M452.4 605.7h0M451.1 607.0h0M451.0 608.9h0M444.3 612.7h0M440.7 603.5h0M447.4 611.2h0M453.3 606.4h0M448.2 602.5h0M445.3 603.9h0M451.2 610.2h0M453.4 607.0h0M445.8 604.7h0M448.2 609.0h0M450.9 608.6h0M457.5 598.8h0M448.6 604.4h0M444.6 610.1h0M450.5 601.0h0M446.4 606.8h0M447.5 598.4h0M445.2 608.1h0M441.4 606.1h0M451.5 595.3h0M447.3 598.9h0M447.7 601.2h0M447.9 601.8h0M450.0 598.2h0M452.4 608.8h0M444.9 607.4h0M450.6 606.5h0M443.7 605.7h0M447.3 604.2h0M444.7 595.7h0M444.4 608.3h0M447.1 601.5h0M442.9 602.0h0M449.5 598.3h0M445.0 603.8h0M449.2 603.8h0M450.7 596.1h0M449.7 609.8h0M449.6 607.7h0M450.6 606.6h0M453.2 607.3h0M445.0 604.7h0M449.1 601.7h0M447.7 608.8h0M453.1 611.7h0M446.7 605.6h0M449.2 606.6h0M449.4 603.0h0M447.5 605.1h0M452.1 600.6h0M453.9 602.9h0M447.6 608.2h0M448.8 604.2h0M446.9 598.1h0M443.0 601.0h0M446.3 602.1h0M444.0 605.9h0M443.6 608.6h0M446.7 609.1h0M448.9 603.6h0M441.4 604.6h0M450.8 594.5h0M444.5 609.9h0M450.2 598.2h0M445.2 607.6h0M445.9 601.8h0M447.9 604.8h0M449.2 601.0h0M451.4 605.8h0M447.1 605.2h0M445.8 599.2h0M439.6 600.1h0M446.2 601.4h0M446.8 593.0h0M444.4 601.2h0M446.6 605.0h0M447.2 597.8h0M449.4 606.0h0M443.2 608.1h0M451.0 609.9h0M449.0 602.3h0M448.3 605.3h0M442.5 606.8h0M450.5 605.6h0M446.2 607.3h0M446.9 604.6h0M448.8 597.2h0M449.1 604.2h0M452.9 608.0h0M453.7 603.7h0M445.7 611.3h0M445.9 610.2h0M451.1 603.9h0M450.1 607.7h0M452.2 599.3h0M446.3 606.2h0M452.5 605.6h0M448.1 600.0h0M448.9 602.4h0M448.8 605.1h0M445.9 604.3h0M444.7 597.9h0M448.2 612.9h0M453.1 602.5h0M443.5 603.7h0M445.1 611.3h0M453.6 604.3h0M443.1 605.0h0M453.0 606.7h0M445.7 605.5h0M442.8 607.0h0M438.3 596.8h0M437.7 596.3h0M452.8 603.7h0M449.2 600.8h0M448.4 604.8h0M446.6 610.1h0M449.9 606.3h0M446.7 604.6h0M450.0 606.0h0M446.9 597.4h0M446.6 607.0h0M448.7 608.1h0M442.7 598.5h0M450.5 602.1h0M446.4 606.3h0M446.3 604.4h0M447.3 605.2h0M446.0 611.1h0M439.1 614.6h0M449.3 598.8h0M450.5 600.2h0M449.2 601.5h0M448.4 611.6h0M444.1 600.5h0M448.4 608.5h0M447.6 605.1h0M444.9 598.7h0M439.7 607.1h0M453.1 605.2h0M453.0 606.3h0M448.0 603.4h0M451.2 599.6h0M443.2 605.6h0M448.4 603.9h0M445.7 603.0h0M450.3 606.3h0M441.6 604.4h0M444.4 600.3h0M455.0 602.5h0M458.0 602.0h0M442.4 606.5h0M444.4 602.7h0M443.1 599.8h0M449.3 610.6h0M445.7 606.1h0M447.2 609.6h0M448.8 607.1h0M448.3 603.8h0M450.6 601.6h0M450.4 598.7h0M448.7 601.6h0M440.3 605.8h0M446.1 606.4h0M450.1 600.1h0M446.5 601.3h0M447.3 599.9h0M449.3 599.9h0M446.1 605.4h0M448.4 600.8h0M444.2 600.6h0M444.0 605.8h0M447.9 605.3h0M447.9 606.7h0M450.7 611.9h0M450.6 601.4h0M448.0 603.8h0M451.7 604.9h0M449.4 609.1h0M445.5 605.3h0M456.4 605.4h0M447.6 610.3h0M446.8 604.0h0M448.2 601.3h0M448.4 593.1h0M441.1 598.1h0M450.7 591.7h0M444.4 596.7h0M447.9 595.9h0M450.3 600.1h0M445.4 599.4h0M451.2 599.1h0M437.2 590.2h0M449.6 591.9h0M449.6 591.3h0M450.0 599.4h0M453.9 592.8h0M450.0 594.5h0M453.5 594.4h0M451.2 593.8h0M454.7 592.7h0M450.4 588.4h0M448.1 586.9h0M441.3 589.4h0M452.0 590.2h0M440.1 597.6h0M445.7 593.3h0M448.0 591.6h0M454.2 588.0h0M454.3 587.7h0M444.5 598.5h0M445.9 592.9h0M450.4 594.2h0M444.4 591.8h0M447.3 591.3h0M444.0 598.2h0M451.6 584.6h0M438.3 593.4h0M443.4 589.9h0M450.7 594.0h0M446.7 586.9h0M445.0 592.6h0M444.9 591.2h0M449.0 595.8h0M447.7 589.7h0M458.3 588.9h0M453.3 589.5h0M446.4 593.8h0M447.8 591.1h0M448.3 595.6h0M449.2 593.8h0M450.2 598.4h0M447.8 594.0h0M447.0 593.2h0M442.0 593.3h0M447.0 590.8h0M455.7 588.4h0M449.5 587.9h0M453.3 585.6h0M442.4 595.6h0M450.2 595.0h0M450.9 595.5h0M448.8 594.6h0M446.3 590.1h0M453.2 586.2h0M451.2 590.3h0M443.0 597.6h0M453.9 588.9h0M448.8 592.9h0M448.4 595.4h0M448.2 591.5h0M441.6 590.7h0M449.8 594.3h0M449.7 589.4h0M446.0 588.2h0M451.2 593.6h0M442.9 589.5h0M439.3 592.5h0M449.6 593.9h0M453.1 586.1h0M447.4 592.0h0M447.3 589.1h0M451.1 600.4h0M446.8 588.4h0M444.4 591.4h0M452.2 586.2h0M451.0 592.7h0M449.6 598.1h0M443.2 591.6h0M454.0 588.8h0M446.9 594.1h0M451.8 591.3h0M443.8 594.7h0M451.1 590.7h0M437.8 597.1h0M447.8 587.7h0M442.4 593.6h0M439.1 591.2h0M454.2 584.6h0M452.0 588.5h0M438.9 595.1h0M449.2 590.3h0M451.9 589.7h0M445.9 596.6h0M448.2 593.3h0M452.4 590.7h0M443.6 597.1h0M448.8 595.9h0M443.9 591.6h0M438.0 595.8h0M439.6 593.7h0M451.8 587.3h0M452.5 589.0h0M445.8 591.1h0M447.5 590.0h0M449.6 594.8h0M445.4 587.8h0M445.7 598.7h0M448.5 595.5h0M448.3 595.0h0M439.7 598.5h0M448.0 591.2h0M453.3 585.1h0M452.2 590.1h0M451.1 590.1h0M447.7 588.6h0M450.7 591.7h0M440.5 597.5h0M452.4 592.5h0M452.6 594.2h0M448.7 591.5h0M440.6 597.2h0M453.3 594.5h0M440.4 589.0h0M448.2 594.9h0M446.1 594.9h0M439.7 596.2h0M440.1 595.3h0M436.5 593.4h0M442.2 594.2h0M437.9 594.7h0M451.9 588.9h0M435.6 596.3h0M434.9 594.1h0M454.5 592.7h0M444.1 591.9h0M438.7 594.0h0M442.2 595.6h0M461.5 591.5h0M442.1 595.1h0M440.7 593.4h0M438.0 594.7h0M429.7 599.9h0M445.6 594.2h0M438.2 593.6h0M430.6 593.9h0M436.6 590.8h0M430.8 596.2h0M443.9 598.1h0M438.1 591.9h0M432.3 597.1h0M432.3 592.9h0M433.1 590.9h0M441.5 590.2h0M448.1 597.1h0M441.4 601.9h0M440.6 591.2h0M444.3 593.1h0M438.6 591.0h0M451.3 591.2h0M456.7 589.3h0M441.1 592.9h0M436.2 590.3h0M437.4 588.6h0M433.7 596.5h0M447.8 591.2h0M434.7 596.3h0M437.8 590.9h0M424.1 597.9h0M452.1 583.5h0M438.1 588.4h0M447.7 592.1h0M443.4 589.6h0M429.0 597.5h0M440.9 592.9h0M436.6 590.5h0M430.5 604.6h0M443.2 589.3h0M430.7 596.4h0M437.9 589.6h0M451.2 593.0h0M449.4 595.6h0M457.9 581.9h0M460.4 592.0h0M449.5 586.3h0M431.6 591.1h0M430.0 594.8h0M439.9 593.7h0M442.9 586.0h0M438.1 595.0h0M442.0 592.9h0M435.7 592.7h0M437.5 587.6h0M432.8 595.8h0M432.6 597.7h0M438.1 590.0h0M451.6 591.9h0M427.6 598.4h0M431.6 590.0h0M429.5 598.2h0M443.1 598.0h0M424.7 596.2h0M440.3 594.4h0M444.0 598.8h0M415.4 596.8h0M447.4 590.9h0M441.9 584.6h0M434.9 595.1h0M441.6 601.2h0M430.6 592.3h0M437.6 593.9h0M425.4 600.7h0M442.4 594.7h0M433.6 594.8h0M438.0 593.5h0M431.1 601.5h0M445.3 592.9h0M421.3 594.7h0M442.8 592.8h0M425.6 593.6h0M435.5 599.1h0M431.4 598.0h0M437.0 590.2h0M453.6 587.4h0M449.5 588.7h0M429.6 601.5h0M444.0 585.8h0M450.8 589.7h0M444.4 590.6h0M449.0 590.1h0M445.6 591.5h0M438.7 597.0h0M431.7 594.2h0M447.9 589.9h0M439.7 594.7h0M432.8 587.7h0M450.2 589.7h0M433.4 596.0h0M450.5 591.3h0M439.0 590.9h0M438.3 596.4h0M432.6 600.7h0M452.7 582.9h0M450.9 593.8h0M444.5 599.7h0M434.4 595.0h0M435.7 597.4h0M436.4 594.0h0M433.0 594.7h0M443.3 590.0h0M426.8 595.3h0M443.0 589.4h0M432.4 597.9h0M443.9 596.8h0M437.3 593.0h0M428.4 595.0h0M430.7 597.1h0M429.6 597.9h0M451.1 590.5h0M441.2 591.7h0M423.1 601.0h0M432.9 593.6h0M430.7 602.4h0M420.7 600.3h0M446.9 594.6h0M441.6 589.4h0M448.9 598.0h0M437.2 595.8h0M437.5 594.2h0M426.2 593.3h0M449.2 588.3h0M423.5 590.5h0M445.4 588.9h0M458.1 584.5h0M444.1 589.1h0M440.1 594.0h0M459.9 586.3h0M436.6 592.9h0M433.6 594.1h0M452.7 589.3h0M445.4 588.1h0M444.4 595.4h0M426.3 595.6h0M452.1 592.9h0M445.1 598.3h0M443.7 596.8h0M449.4 592.1h0M446.9 601.1h0M442.4 592.7h0M437.6 585.7h0M438.6 597.3h0M440.8 591.9h0M417.4 601.7h0M442.8 592.4h0M425.1 618.1h0M431.1 612.9h0M432.8 615.9h0M434.5 610.7h0M427.3 612.3h0M438.3 599.8h0M438.7 598.9h0M449.1 609.4h0M436.8 599.9h0M442.4 607.1h0M439.0 598.6h0M437.4 613.9h0M439.1 605.7h0M437.0 607.3h0M429.6 609.4h0M438.4 607.1h0M432.3 611.6h0M441.7 605.3h0M438.6 607.4h0M429.0 616.0h0M437.5 610.4h0M438.3 608.4h0M446.1 602.0h0M442.8 599.8h0M444.5 610.2h0M435.4 603.1h0M445.1 604.1h0M439.0 605.8h0M449.0 602.5h0M439.4 600.1h0M441.8 607.7h0M433.4 608.9h0M432.9 618.4h0M442.3 602.2h0M444.5 603.4h0M445.4 597.5h0M436.6 599.4h0M439.8 596.9h0M438.3 600.4h0M429.1 617.0h0M447.8 593.5h0M434.8 611.7h0M434.7 606.7h0M437.6 601.2h0M438.0 612.8h0M449.7 607.9h0M427.7 621.5h0M439.0 603.9h0M437.0 604.8h0M438.1 608.0h0M428.2 620.1h0M451.0 606.8h0M455.8 590.0h0M437.2 604.1h0M442.7 607.2h0M443.2 601.6h0M430.9 615.0h0M434.2 609.8h0M439.3 605.5h0M445.5 598.2h0M437.2 613.6h0M436.2 608.0h0M441.0 600.3h0M435.2 612.2h0M437.3 606.6h0M444.8 604.4h0M439.2 609.3h0M443.3 605.1h0M434.9 612.1h0M432.6 615.9h0M449.5 606.6h0M433.7 606.7h0M431.1 615.6h0M453.0 607.5h0M446.0 597.6h0M431.9 615.7h0M446.2 604.2h0M440.9 609.5h0M450.2 600.2h0M448.6 595.8h0M427.5 620.4h0M427.5 617.1h0M431.6 619.2h0M438.5 604.3h0M434.7 605.7h0M439.8 609.1h0M440.3 604.6h0M447.2 604.1h0M440.2 607.2h0M436.7 604.3h0M435.4 611.2h0M429.9 605.1h0M428.6 610.6h0M440.9 596.9h0M435.5 608.4h0M451.4 609.5h0M438.9 603.1h0M441.7 611.1h0M432.9 605.8h0M437.8 594.3h0M440.3 602.7h0M430.3 612.2h0M454.9 594.1h0M433.4 610.9h0M430.3 605.2h0M438.9 611.4h0M440.9 611.8h0M433.7 600.3h0M437.1 613.7h0M440.6 598.5h0M432.4 609.4h0M446.9 599.2h0M442.5 604.6h0M444.0 607.9h0M439.0 609.1h0M443.3 597.6h0M434.1 608.7h0M443.7 606.8h0M443.3 599.3h0M439.2 605.9h0M453.0 602.3h0M434.4 606.4h0M433.3 616.5h0M436.9 599.2h0M436.8 617.0h0M446.5 596.0h0M432.2 603.8h0M447.8 597.9h0M453.9 594.5h0M446.3 609.0h0M429.7 609.7h0M434.0 608.3h0M445.9 604.8h0M446.0 602.1h0M438.7 607.3h0M427.6 607.0h0M433.9 604.3h0M426.7 609.1h0M428.0 620.3h0M449.5 607.2h0M440.2 614.3h0M431.8 601.1h0M438.7 609.7h0M445.0 608.7h0M439.3 608.9h0M445.1 604.1h0M441.0 605.4h0M440.9 610.2h0M439.8 604.5h0M441.0 608.0h0M438.5 609.2h0M430.1 614.4h0M430.8 605.5h0M436.3 610.5h0M429.2 614.5h0M438.4 605.1h0M447.1 601.7h0M439.4 605.8h0M436.6 601.9h0M440.9 612.0h0M433.5 618.0h0M446.4 607.5h0M431.6 617.8h0M445.5 605.5h0M428.2 613.6h0M443.9 602.6h0M431.5 607.0h0M438.8 606.3h0M443.9 607.1h0M437.4 614.2h0M427.6 617.3h0M433.5 613.2h0M432.0 610.8h0M431.2 614.3h0M428.6 615.5h0M441.0 607.1h0M436.9 618.2h0M446.8 606.4h0M448.8 600.8h0M446.7 602.3h0M452.3 608.2h0M449.6 595.4h0M446.5 606.2h0M439.3 626.1h0M439.8 595.9h0M457.8 608.7h0M444.6 593.9h0M451.1 615.3h0M459.3 601.4h0M434.2 618.8h0M437.8 599.5h0M433.0 631.7h0M436.2 598.8h0M433.2 613.0h0M440.4 613.0h0M433.0 598.2h0M440.8 601.3h0M453.5 590.5h0M430.5 611.0h0M421.0 598.1h0M437.4 604.6h0M441.9 587.1h0M440.4 610.4h0M435.3 587.9h0M440.5 599.9h0M445.3 602.0h0M431.2 610.9h0M437.4 615.7h0M441.8 605.5h0M440.0 606.5h0M433.9 627.0h0M438.4 601.5h0M430.4 598.8h0M437.5 608.8h0M425.6 602.1h0M451.9 600.5h0M432.3 601.1h0M435.5 599.3h0M427.9 610.4h0M440.8 593.9h0M431.8 610.1h0M463.9 603.3h0M437.0 608.7h0M447.9 611.0h0M447.1 622.2h0M434.4 597.3h0M442.6 611.0h0M437.0 595.7h0M441.7 603.2h0M431.8 615.5h0M423.8 602.0h0M448.2 606.5h0M418.4 612.9h0M435.4 606.4h0M450.4 615.7h0M462.0 600.4h0M443.6 614.2h0M435.8 607.1h0M440.8 610.0h0M447.9 581.1h0M433.2 597.1h0M439.9 601.1h0M434.1 589.8h0M424.5 608.1h0M459.7 597.2h0M440.2 596.4h0M436.4 620.1h0M426.3 623.3h0M440.7 600.7h0M442.8 597.1h0M445.3 598.0h0M427.0 612.3h0M446.3 610.1h0M437.0 615.9h0M444.7 609.9h0M454.8 601.2h0M459.0 579.1h0M435.7 596.9h0M449.1 614.8h0M452.2 602.8h0M451.6 594.3h0M443.5 601.5h0M439.4 595.1h0M434.0 610.5h0M449.3 591.7h0M455.4 590.0h0M436.0 612.7h0M447.2 603.2h0M461.3 596.8h0M427.6 601.4h0M454.5 617.4h0M435.3 620.5h0M437.0 599.9h0M426.4 609.0h0M447.6 618.5h0M436.3 617.1h0M439.1 604.1h0M434.1 601.6h0M423.7 611.4h0M451.3 604.1h0M427.2 615.2h0M443.8 598.7h0M457.4 597.2h0M439.1 614.0h0M441.5 620.7h0M445.9 604.7h0M455.7 600.1h0M443.4 614.4h0M430.6 626.9h0M419.9 621.5h0M437.3 623.0h0M452.9 591.5h0M422.0 612.3h0M451.3 588.7h0M424.3 607.5h0M425.8 595.6h0M453.3 621.2h0M449.5 587.1h0M435.9 607.4h0M435.1 608.9h0M440.0 596.2h0M447.0 618.6h0M434.8 609.2h0M453.9 603.5h0M465.1 605.7h0M455.8 589.2h0M423.0 602.8h0M426.2 596.5h0M438.2 617.8h0M432.3 618.4h0M446.6 587.7h0M422.7 613.2h0M433.8 617.5h0M446.1 613.4h0M435.5 618.2h0M436.9 604.6h0M427.8 617.8h0M449.2 609.6h0M451.4 601.7h0M445.1 602.7h0M440.0 607.8h0M435.2 613.5h0M448.0 604.4h0M436.1 619.4h0M457.5 607.9h0M463.0 613.8h0M448.2 600.8h0M455.8 616.0h0M460.7 608.3h0M449.4 608.4h0M447.9 616.8h0M459.4 607.7h0M437.5 612.2h0M454.5 612.6h0M458.2 610.5h0M454.0 617.2h0M450.4 600.8h0M447.8 601.4h0M451.3 613.1h0M448.5 615.2h0M454.7 612.8h0M436.2 611.6h0M458.3 606.3h0M449.6 625.5h0M443.9 612.2h0M459.5 611.6h0M456.5 622.0h0M453.8 611.3h0M452.1 610.6h0M449.4 610.9h0M449.4 618.2h0M451.0 610.7h0M450.9 619.6h0M452.3 613.0h0M451.7 609.4h0M450.8 619.2h0M462.3 616.5h0M460.4 620.1h0M444.4 607.5h0M446.0 620.6h0M464.0 597.2h0M455.3 617.0h0M455.8 602.4h0M457.2 621.1h0M449.4 607.8h0M449.9 616.7h0M450.5 600.2h0M455.5 613.5h0M461.9 618.4h0M440.7 612.2h0M459.9 603.4h0M463.5 614.7h0M455.2 613.9h0M447.0 622.1h0M453.9 612.3h0M453.0 608.4h0M439.1 616.9h0M452.6 607.7h0M458.6 603.4h0M460.3 614.4h0M460.0 597.6h0M455.7 601.1h0" stroke="#0a0a0a" stroke-width="1.3" stroke-linecap="round" fill="none"/>
<rect x="406.1" y="575.6" width="63.6" height="60.1" fill="none" stroke="#161616" stroke-width="1.3"/>
<path d="M440.6 575.6V635.7M406.1 600.2H469.7" stroke="#161616" stroke-width="1.05" fill="none"/>
<text x="409.4" y="586.9" font-size="11.5" textLength="6.5" lengthAdjust="spacingAndGlyphs" stroke="#000" stroke-width=".5">6</text>
<text x="467.4" y="586.9" font-size="11.5" text-anchor="end" textLength="13.7" lengthAdjust="spacingAndGlyphs" stroke="#000" stroke-width=".5">34</text>
<text x="409.4" y="611.7" font-size="11.5" textLength="13.7" lengthAdjust="spacingAndGlyphs" stroke="#000" stroke-width=".5">35</text>
<text x="466.8" y="629.3" font-size="11.5" text-anchor="end" textLength="13.7" lengthAdjust="spacingAndGlyphs" stroke="#000" stroke-width=".5">25</text>
<g font-size="6.9" font-weight="bold" fill="#000" stroke="#000" stroke-width=".35">
<text x="407.7" y="642.8" textLength="8.0" lengthAdjust="spacingAndGlyphs">10<tspan dy="-1.9" font-size="5.4">0</tspan></text>
<text x="422.5" y="642.8" textLength="8.0" lengthAdjust="spacingAndGlyphs">10<tspan dy="-1.9" font-size="5.4">1</tspan></text>
<text x="437.9" y="642.8" textLength="8.0" lengthAdjust="spacingAndGlyphs">10<tspan dy="-1.9" font-size="5.4">2</tspan></text>
<text x="453.5" y="642.8" textLength="8.0" lengthAdjust="spacingAndGlyphs">10<tspan dy="-1.9" font-size="5.4">3</tspan></text>
<text x="469.2" y="642.8" textLength="8.0" lengthAdjust="spacingAndGlyphs">10<tspan dy="-1.9" font-size="5.4">4</tspan></text>
<text x="404.2" y="635.8" textLength="8.6" lengthAdjust="spacingAndGlyphs" transform="rotate(-90 404.2 635.8)">10<tspan dy="-1.9" font-size="5.4">0</tspan></text>
<text x="404.2" y="620.8" textLength="8.6" lengthAdjust="spacingAndGlyphs" transform="rotate(-90 404.2 620.8)">10<tspan dy="-1.9" font-size="5.4">1</tspan></text>
<text x="404.2" y="605.8" textLength="8.6" lengthAdjust="spacingAndGlyphs" transform="rotate(-90 404.2 605.8)">10<tspan dy="-1.9" font-size="5.4">2</tspan></text>
<text x="404.2" y="590.7" textLength="8.6" lengthAdjust="spacingAndGlyphs" transform="rotate(-90 404.2 590.7)">10<tspan dy="-1.9" font-size="5.4">3</tspan></text>
<text x="404.2" y="575.7" textLength="8.6" lengthAdjust="spacingAndGlyphs" transform="rotate(-90 404.2 575.7)">10<tspan dy="-1.9" font-size="5.4">4</tspan></text>
</g>
</g>
<g id="c6">
<path d="M318.2 726.2h0M323.8 732.1h0M327.8 726.5h0M319.1 727.4h0M315.4 726.0h0M308.8 726.1h0M323.9 725.6h0M320.9 721.0h0M320.5 727.8h0M321.9 725.9h0M325.6 729.6h0M321.1 717.8h0M317.1 736.5h0M331.8 723.8h0M320.5 733.5h0M320.9 728.7h0M325.6 725.3h0M310.8 730.4h0M320.6 724.0h0M320.2 725.6h0M321.0 725.3h0M322.8 725.0h0M315.9 733.0h0M321.5 728.1h0M312.1 730.8h0M324.4 727.0h0M317.0 735.9h0M321.4 727.3h0M317.4 729.2h0M317.1 719.2h0M315.5 725.0h0M321.7 727.8h0M320.5 729.9h0M330.7 730.8h0M317.7 737.8h0M316.7 722.2h0M323.7 722.4h0M318.6 733.3h0M319.1 729.6h0M325.7 726.6h0M307.4 733.8h0M311.2 727.5h0M314.3 732.4h0M319.6 727.4h0M324.4 726.3h0M320.4 732.7h0M322.5 727.9h0M326.0 728.5h0M320.5 728.1h0M315.8 726.3h0M330.5 723.8h0M309.7 734.9h0M314.3 726.9h0M318.6 730.4h0M323.7 725.1h0M319.8 730.8h0M306.2 728.8h0M315.3 735.8h0M315.7 725.5h0M312.9 726.2h0M320.5 727.4h0M322.8 729.4h0M323.5 727.8h0M317.4 731.1h0M319.1 728.8h0M323.8 722.3h0M322.8 728.6h0M318.6 726.5h0M318.9 727.6h0M312.8 727.6h0M311.2 731.2h0M329.1 718.0h0M325.1 727.1h0M327.1 729.2h0M321.5 730.1h0M320.4 728.3h0M320.7 730.9h0M311.1 732.1h0M317.2 725.9h0M322.8 734.7h0M321.5 734.0h0M324.7 724.4h0M318.4 729.5h0M323.7 737.4h0M321.2 728.1h0M315.6 728.4h0M316.2 728.5h0M321.7 730.7h0M315.1 724.2h0M326.9 725.6h0M317.7 724.4h0M320.4 728.5h0M321.4 727.2h0M321.1 727.6h0M329.0 713.7h0M315.6 719.9h0M319.5 726.9h0M317.1 734.5h0M313.7 724.7h0M317.9 727.3h0M314.2 738.4h0M316.8 727.7h0M312.7 738.2h0M320.4 730.2h0M319.3 722.5h0M317.9 733.3h0M322.0 734.2h0M320.3 733.7h0M323.8 722.9h0M319.1 730.8h0M318.2 729.3h0M318.1 724.3h0M316.7 731.4h0M316.1 725.7h0M317.3 730.9h0M321.5 728.3h0M323.6 733.7h0M317.0 727.4h0M323.3 727.1h0M316.9 726.9h0M317.7 730.2h0M318.4 723.3h0M309.7 739.3h0M316.0 730.4h0M310.8 723.2h0M309.5 727.0h0M315.6 729.6h0M318.0 728.1h0M324.5 725.2h0M323.5 727.0h0M310.8 727.2h0M322.3 724.8h0M322.2 723.6h0M310.0 729.9h0M315.9 724.8h0M323.7 726.6h0M317.4 725.0h0M328.7 724.8h0M317.5 735.5h0M318.8 732.6h0M313.9 728.8h0M323.5 723.4h0M318.3 733.9h0M316.5 722.8h0M325.1 725.9h0M322.0 723.9h0M321.8 729.4h0M311.1 731.6h0M318.0 724.8h0M323.7 727.4h0M314.1 728.7h0M318.1 731.3h0M317.5 730.5h0M317.1 728.0h0M329.3 731.7h0M323.9 726.7h0M317.6 729.7h0M317.0 737.4h0M318.3 725.1h0M317.9 731.8h0M320.0 724.8h0M314.9 719.3h0M321.0 734.1h0M319.4 723.3h0M322.1 725.5h0M315.9 731.4h0M321.8 738.3h0M324.1 727.5h0M322.8 726.3h0M311.8 724.7h0M321.2 730.7h0M318.2 727.7h0M309.9 728.0h0M325.0 719.8h0M312.1 733.8h0M325.4 723.4h0M322.8 734.5h0M314.9 730.8h0M326.9 731.6h0M318.5 728.0h0M320.5 729.2h0M312.1 730.8h0M319.2 731.3h0M316.7 734.2h0M321.5 727.9h0M310.9 725.0h0M317.7 728.8h0M316.1 730.3h0M315.9 729.7h0M324.2 737.6h0M318.2 733.1h0M324.2 725.7h0M319.2 731.8h0M327.3 731.4h0M324.1 723.7h0M317.4 728.2h0M324.2 727.7h0M327.1 726.9h0M313.8 723.2h0M317.5 733.4h0M324.6 727.4h0M321.4 725.7h0M313.6 729.1h0M321.6 731.1h0M328.5 728.6h0M322.6 720.4h0M320.1 727.6h0M323.5 728.5h0M326.0 730.4h0M315.4 728.5h0M320.4 728.0h0M321.4 730.2h0M323.6 727.4h0M308.9 723.3h0M316.2 729.5h0M313.8 731.2h0M324.9 731.7h0M322.2 722.2h0M325.5 728.9h0M325.7 723.5h0M319.0 731.8h0M318.8 725.2h0M329.3 720.7h0M316.9 728.8h0M313.9 728.2h0M321.1 727.7h0M315.3 731.9h0M327.2 729.9h0M316.3 727.6h0M318.0 723.4h0M317.7 734.6h0M321.0 728.7h0M315.2 726.0h0M318.2 733.0h0M317.3 727.9h0M317.2 727.9h0M322.0 725.5h0M313.3 727.9h0M322.2 728.3h0M327.8 718.2h0M321.5 720.0h0M322.2 725.1h0M321.6 730.1h0M319.2 730.8h0M316.3 735.2h0M317.9 729.4h0M320.2 725.1h0M320.4 726.9h0M323.3 726.7h0M309.8 726.0h0M311.3 731.2h0M323.7 727.2h0M317.2 731.0h0M321.0 728.1h0M321.9 729.9h0M319.4 729.4h0M310.7 728.9h0M316.6 726.9h0M311.6 733.6h0M320.2 733.9h0M317.9 732.1h0M314.8 736.0h0M319.2 726.7h0M313.4 724.4h0M317.2 728.3h0M321.8 724.6h0M313.9 732.7h0M320.4 729.7h0M324.8 723.8h0M320.7 728.5h0M318.9 727.5h0M324.0 725.3h0M315.8 724.1h0M323.1 724.8h0M321.9 723.8h0M318.8 733.4h0M320.9 731.5h0M313.1 723.6h0M325.0 729.6h0M314.8 725.8h0M315.8 723.3h0M318.2 729.5h0M318.9 725.7h0M329.0 729.6h0M321.5 724.2h0M315.8 731.1h0M318.2 723.9h0M325.8 720.7h0M323.3 733.6h0M313.8 730.3h0M321.0 728.9h0M323.9 730.5h0M309.9 732.2h0M317.4 727.1h0M313.7 739.2h0M322.6 729.2h0M314.7 737.2h0M321.0 736.1h0M318.5 728.0h0M327.1 729.1h0M316.2 729.3h0M314.7 733.3h0M326.7 734.5h0M317.2 729.8h0M320.5 729.8h0M317.6 733.1h0M312.8 733.5h0M319.2 730.4h0M303.8 735.8h0M325.1 730.1h0M308.6 735.7h0M331.3 733.2h0M319.5 729.2h0M315.4 727.3h0M324.0 719.2h0M318.1 720.0h0M316.5 731.6h0M315.2 736.4h0M324.7 728.3h0M316.7 734.7h0M323.1 725.5h0M315.6 728.5h0M317.8 725.5h0M312.5 733.3h0M322.7 730.8h0M319.5 721.8h0M326.4 722.1h0M314.4 733.0h0M314.8 729.2h0M311.0 725.2h0M315.0 733.6h0M320.4 732.3h0M322.5 727.4h0M320.1 722.6h0M321.4 725.8h0M320.9 722.4h0M317.4 726.6h0M320.7 724.5h0M321.8 726.2h0M320.7 725.0h0M318.9 729.4h0M321.8 725.0h0M322.4 724.0h0M317.0 728.1h0M325.0 725.6h0M314.3 729.5h0M328.6 727.9h0M329.4 729.7h0M317.4 730.8h0M325.7 723.7h0M315.1 723.5h0M314.6 733.6h0M318.4 732.7h0M324.9 732.2h0M322.0 728.1h0M328.1 723.4h0M317.8 726.1h0M323.8 724.9h0M318.8 724.5h0M322.1 727.0h0M319.1 727.6h0M320.3 722.3h0M318.8 726.6h0M322.4 725.2h0M324.0 727.8h0M312.9 728.3h0M327.3 725.7h0M321.5 723.2h0M326.0 725.6h0M314.8 730.0h0M321.0 718.8h0M321.7 730.3h0M312.8 733.8h0M318.8 728.9h0M313.4 720.0h0M324.6 720.0h0M323.0 727.1h0M321.6 734.8h0M323.9 729.3h0M321.5 730.0h0M321.6 719.7h0M321.8 729.4h0M320.3 733.7h0M317.6 733.8h0M322.8 725.8h0M311.6 723.0h0M323.4 729.3h0M317.5 724.5h0M320.9 730.1h0M318.8 725.5h0M314.5 727.0h0M319.4 726.4h0M317.7 726.3h0M320.7 725.3h0M313.8 728.5h0M325.1 729.6h0M307.6 731.0h0M316.8 728.9h0M318.0 729.2h0M315.5 723.8h0M319.1 727.8h0M322.6 731.3h0M320.2 727.7h0M315.3 727.8h0M318.1 724.4h0M324.7 724.6h0M324.3 727.8h0M314.7 731.4h0M317.3 730.4h0M316.7 728.5h0M317.7 730.0h0M317.9 730.5h0M327.5 733.7h0M312.6 732.0h0M321.8 724.4h0M309.4 725.5h0M315.8 739.8h0M309.5 734.3h0M324.5 734.1h0M315.9 732.6h0M313.5 730.6h0M324.2 724.6h0M323.5 734.5h0M321.2 722.5h0M322.8 735.7h0M316.0 729.0h0M324.5 724.2h0M322.1 727.2h0M321.8 735.2h0M313.3 734.5h0M317.4 730.6h0M325.4 724.1h0M320.2 723.9h0M322.9 730.1h0M324.8 730.6h0M323.5 729.1h0M322.0 725.5h0M328.6 729.3h0M322.2 728.2h0M312.1 729.9h0M317.5 723.8h0M317.6 727.1h0M321.2 726.6h0M320.5 732.5h0M308.8 732.6h0M317.6 735.9h0M317.9 722.9h0M310.3 733.8h0M323.3 731.7h0M319.9 723.2h0M322.2 729.7h0M311.7 730.1h0M322.6 727.5h0M323.8 728.2h0M316.3 718.5h0M322.2 725.1h0M318.3 729.0h0M318.8 724.8h0M309.0 721.3h0M321.6 717.4h0M316.6 727.6h0M321.0 730.3h0M316.6 739.0h0M309.7 726.8h0M316.7 730.4h0M320.3 730.0h0M320.0 733.1h0M328.3 729.4h0M324.9 726.1h0M326.1 730.2h0M323.2 728.2h0M321.6 725.3h0M319.0 724.4h0M318.5 731.6h0M317.1 736.3h0M322.2 731.2h0M334.7 729.7h0M323.9 727.4h0M311.1 727.8h0M322.3 723.0h0M314.8 733.5h0M323.6 728.3h0M305.4 732.9h0M320.1 725.2h0M312.8 731.0h0M318.0 727.2h0M322.2 723.1h0M317.4 732.2h0M314.8 728.0h0M324.7 727.4h0M315.2 734.5h0M317.6 731.7h0M305.5 726.9h0M308.7 732.4h0M320.8 729.7h0M325.0 737.7h0M310.8 730.5h0M320.4 730.1h0M312.9 728.2h0M320.1 729.6h0M322.2 719.5h0M318.9 726.1h0M321.0 724.0h0M311.6 729.7h0M320.9 732.4h0M326.3 722.3h0M314.8 727.0h0M312.0 726.3h0M319.8 728.6h0M310.5 725.2h0M320.7 718.8h0M319.7 731.9h0M320.8 727.4h0M320.5 732.5h0M326.2 732.0h0M326.5 730.9h0M313.1 728.5h0M317.9 730.7h0M326.4 725.5h0M326.1 731.7h0M313.8 731.5h0M320.9 722.6h0M321.2 728.1h0M320.9 727.1h0M321.2 729.0h0M322.4 724.3h0M311.5 728.8h0M321.5 734.3h0M324.8 731.3h0M329.2 723.2h0M319.0 731.4h0M325.2 722.3h0M320.2 727.6h0M319.6 729.8h0M322.5 722.9h0M317.8 728.3h0M329.9 727.2h0M323.4 730.9h0M321.0 733.1h0M326.4 726.3h0M319.6 723.0h0M313.9 736.5h0M321.1 730.2h0M316.1 738.7h0M314.1 732.5h0M316.9 730.0h0M321.8 729.4h0M325.1 735.0h0M316.9 731.4h0M322.3 727.6h0M325.8 720.9h0M309.5 728.3h0M322.7 731.7h0M324.4 726.2h0M323.6 733.9h0M311.5 729.1h0M329.7 725.3h0M327.2 729.3h0M316.3 728.6h0M314.9 729.8h0M314.1 729.3h0M319.2 732.5h0M319.9 731.5h0M321.2 733.5h0M318.1 728.7h0M321.9 729.0h0M326.6 728.9h0M316.6 727.7h0M317.5 729.5h0M325.9 722.0h0M327.5 729.1h0M314.3 729.6h0M308.9 728.4h0M324.9 727.0h0M322.8 723.4h0M325.4 726.4h0M323.2 730.9h0M324.8 729.8h0M309.3 726.8h0M319.6 730.4h0M325.7 728.1h0M321.6 730.6h0M319.5 726.0h0M318.8 725.4h0M312.2 729.7h0M324.2 725.2h0M328.4 729.0h0M320.8 722.6h0M314.0 730.3h0M319.6 732.9h0M316.5 733.4h0M315.7 725.2h0M323.5 732.0h0M319.9 725.3h0M314.0 726.8h0M319.6 725.5h0M318.3 732.7h0M315.1 725.4h0M322.9 731.5h0M315.9 733.0h0M317.5 727.5h0M328.4 731.1h0M319.6 733.3h0M325.3 728.4h0M318.2 733.3h0M318.0 726.0h0M320.2 721.0h0M317.0 724.7h0M327.4 728.9h0M324.0 724.2h0M331.8 718.7h0M322.5 729.4h0M315.8 726.1h0M318.9 731.2h0M307.8 729.4h0M325.8 732.9h0M316.3 722.8h0M318.9 732.0h0M319.2 730.8h0M313.2 730.9h0M314.2 730.5h0M322.5 730.2h0M315.4 721.6h0M319.4 728.0h0M312.4 725.1h0M318.9 729.6h0M322.1 730.6h0M322.9 732.7h0M322.1 725.8h0M325.3 728.9h0M317.0 726.9h0M317.0 726.4h0M316.5 728.6h0M323.4 722.8h0M314.5 727.7h0M319.4 727.1h0M323.1 725.4h0M315.4 735.2h0M319.9 726.0h0M313.3 733.9h0M322.0 732.6h0M321.3 737.5h0M317.5 733.5h0M318.7 731.0h0M315.0 735.2h0M319.5 730.9h0M317.3 727.0h0M321.4 729.4h0M323.7 722.4h0M318.2 732.6h0M323.9 724.6h0M313.8 720.8h0M312.8 727.9h0M314.7 730.6h0M320.3 723.5h0M313.9 730.0h0M314.9 731.1h0M321.4 728.2h0M312.6 737.6h0M319.5 725.8h0M315.5 720.8h0M316.3 731.5h0M320.5 734.5h0M321.7 731.0h0M317.1 730.8h0M320.5 720.4h0M314.9 728.4h0M319.4 726.9h0M318.2 727.1h0M316.5 735.1h0M317.6 727.1h0M315.7 731.0h0M324.6 720.9h0M316.8 733.5h0M312.3 726.5h0M323.0 718.0h0M319.8 730.2h0M312.3 739.0h0M321.2 725.5h0M318.1 730.6h0M318.7 738.5h0M318.3 727.9h0M317.4 734.7h0M315.8 726.3h0M321.0 740.2h0M316.4 734.6h0M314.8 739.6h0M321.4 726.7h0M320.6 727.3h0M323.2 729.6h0M321.0 731.9h0M318.4 721.3h0M325.8 733.2h0M324.5 733.9h0M309.9 729.9h0M327.9 732.7h0M320.3 725.2h0M322.1 725.0h0M313.8 730.2h0M322.2 732.4h0M312.7 732.3h0M313.1 719.3h0M318.8 729.0h0M325.0 729.9h0M311.4 731.4h0M328.2 730.4h0M313.4 738.6h0M325.5 731.0h0M319.9 731.8h0M314.4 730.5h0M325.1 733.8h0M317.0 724.0h0M321.3 732.4h0M315.7 724.3h0M325.6 730.3h0M318.2 720.5h0M322.3 728.1h0M326.9 729.5h0M316.1 732.5h0M322.0 725.7h0M313.8 725.9h0M312.2 733.4h0M312.0 730.3h0M320.0 729.2h0M319.2 722.7h0M312.6 727.2h0M323.2 728.4h0M313.6 730.1h0M320.3 725.2h0M312.5 734.1h0M319.0 726.6h0M317.0 734.7h0M317.5 722.7h0M316.7 724.4h0M318.6 726.7h0M319.1 720.0h0M325.2 724.3h0M317.5 728.4h0M317.1 725.3h0M316.2 733.0h0M322.9 732.6h0M321.0 725.3h0M320.2 729.8h0M321.2 724.7h0M327.6 730.9h0M320.7 731.3h0M326.5 727.5h0M323.1 737.4h0M316.3 726.9h0M318.8 731.7h0M319.6 731.7h0M323.5 725.9h0M316.9 734.0h0M320.5 718.3h0M311.3 732.1h0M325.4 724.6h0M310.0 730.0h0M317.4 731.8h0M323.1 732.4h0M319.2 726.4h0M316.6 733.1h0M321.2 727.0h0M321.8 731.4h0M317.4 735.2h0M322.2 725.9h0M317.3 730.8h0M319.1 735.1h0M319.7 727.4h0M313.1 728.3h0M320.1 731.0h0M320.0 729.1h0M318.4 730.1h0M319.1 724.3h0M323.3 724.9h0M316.6 734.9h0M320.1 728.0h0M318.4 726.3h0M322.2 729.8h0M323.3 731.8h0M304.1 741.0h0M321.8 730.9h0M312.8 733.9h0M316.2 734.8h0M325.1 724.0h0M312.8 735.3h0M322.9 728.5h0M319.8 738.0h0M326.6 725.9h0M319.0 728.7h0M326.1 726.1h0M322.0 733.1h0M324.0 728.9h0M320.9 734.3h0M318.2 726.3h0M321.4 721.5h0M324.3 724.9h0M318.9 727.4h0M315.4 723.0h0M324.8 728.2h0M316.8 733.5h0M326.2 728.8h0M310.2 732.0h0M324.0 723.3h0M319.5 728.3h0M325.1 726.3h0M317.2 730.9h0M320.0 725.4h0M314.0 721.7h0M330.1 724.0h0M325.6 728.8h0M323.1 723.5h0M318.2 723.9h0M320.1 724.7h0M320.3 728.7h0M320.2 732.1h0M320.0 728.9h0M329.0 724.2h0M322.3 724.8h0M322.9 717.7h0M315.8 730.7h0M322.5 728.2h0M323.6 733.1h0M316.7 729.9h0M317.0 734.4h0M316.5 725.7h0M310.4 732.4h0M315.4 731.0h0M321.7 731.5h0M315.3 732.3h0M321.7 728.9h0M321.8 726.3h0M311.9 735.2h0M324.6 724.3h0M312.4 728.1h0M322.6 727.4h0M314.5 728.8h0M324.6 721.0h0M320.0 728.7h0M315.8 727.3h0M322.4 735.1h0M317.2 731.1h0M318.2 727.6h0M325.6 723.0h0M320.4 728.9h0M320.3 735.7h0M319.3 740.3h0M312.0 722.3h0M317.0 726.5h0M323.9 725.9h0M323.7 720.9h0M323.0 722.3h0M312.8 727.2h0M312.1 724.3h0M323.2 728.0h0M319.7 735.0h0M310.8 725.2h0M321.3 731.8h0M315.5 724.8h0M323.9 734.5h0M321.4 726.6h0M319.4 728.4h0M319.1 719.1h0M314.6 727.9h0M317.8 725.1h0M315.8 729.1h0M317.6 722.6h0M316.0 731.8h0M328.6 731.7h0M321.6 734.8h0M317.4 733.5h0M313.8 734.8h0M317.5 729.0h0M321.9 728.0h0M322.4 724.9h0M314.8 725.3h0M318.9 725.4h0M322.2 711.3h0M320.2 724.8h0M323.6 733.2h0M326.7 731.9h0M316.5 728.2h0M320.7 731.9h0M322.4 725.6h0M326.4 725.8h0M319.0 730.2h0M318.6 729.3h0M317.7 735.4h0M317.7 726.2h0M317.8 731.9h0M314.1 726.5h0M313.5 724.7h0M323.5 730.0h0M318.3 729.8h0M320.3 728.8h0M319.9 729.0h0M321.8 731.9h0M322.5 729.1h0M311.0 725.6h0M320.3 722.7h0M310.9 734.8h0M321.3 730.1h0M318.7 729.5h0M318.4 723.1h0M325.1 726.2h0M319.5 730.3h0M313.4 728.2h0M317.1 730.7h0M322.3 729.9h0M322.7 732.5h0M316.6 730.3h0M318.8 729.0h0M311.5 733.4h0M322.1 730.4h0M314.3 730.2h0M317.2 729.4h0M313.8 734.2h0M323.9 725.7h0M321.8 728.1h0M316.8 727.1h0M314.2 729.1h0M326.5 727.0h0M320.0 725.5h0M313.5 732.9h0M314.2 728.3h0M316.6 727.4h0M309.1 734.0h0M323.8 718.2h0M316.8 720.7h0M321.6 724.4h0M316.8 727.9h0M324.2 724.5h0M320.9 732.4h0M317.3 726.3h0M317.9 730.9h0M324.3 731.3h0M311.0 728.3h0M322.3 734.7h0M314.9 733.2h0M314.4 727.6h0M319.5 722.0h0M310.3 730.3h0M320.7 727.9h0M313.2 726.5h0M319.8 728.8h0M314.4 726.1h0M314.4 722.2h0M310.0 734.6h0M318.0 735.5h0M325.4 728.3h0M324.3 725.9h0M326.9 726.2h0M318.7 731.4h0M319.6 726.9h0M321.2 727.7h0M319.8 730.9h0M321.8 729.7h0M319.1 737.3h0M328.0 731.6h0M323.2 731.3h0M319.5 730.5h0M315.0 736.4h0M316.8 724.5h0M311.8 725.9h0M325.0 726.1h0M311.7 727.6h0M310.7 728.6h0M316.7 731.3h0M331.4 722.2h0M319.2 724.2h0M311.4 735.9h0M325.9 732.9h0M322.0 723.0h0M325.8 737.8h0M324.5 730.3h0M318.8 726.3h0M315.8 724.0h0M321.3 726.6h0M311.1 737.0h0M327.7 729.2h0M320.3 716.0h0M320.3 727.9h0M326.4 725.5h0M318.9 727.1h0M320.2 725.6h0M335.9 700.3h0M331.7 706.4h0M336.4 699.4h0M346.3 700.3h0M334.0 702.6h0M345.3 700.4h0M340.2 702.2h0M334.7 701.6h0M342.6 699.9h0M340.1 707.8h0M331.1 702.7h0M338.9 706.5h0M341.2 708.0h0M337.9 702.2h0M337.2 699.7h0M340.9 696.2h0M341.6 697.9h0M335.9 701.9h0M342.2 703.2h0M341.8 702.3h0M340.7 699.3h0M335.1 700.1h0M339.7 699.5h0M344.7 704.4h0M337.1 706.8h0M334.2 701.9h0M346.8 697.4h0M339.5 697.7h0M333.9 706.7h0M346.1 698.1h0M335.8 705.6h0M346.5 701.2h0M346.0 694.7h0M339.3 700.4h0M344.1 696.2h0M340.5 696.4h0M335.1 702.3h0M333.4 705.6h0M342.0 701.7h0M347.9 699.8h0M342.5 700.4h0M346.5 706.0h0M342.7 702.0h0M340.4 697.0h0M333.5 703.1h0M328.3 701.5h0M337.3 706.7h0M343.9 699.0h0M335.9 700.3h0M339.3 703.4h0M338.3 701.5h0M345.8 700.4h0M346.8 703.7h0M337.2 702.8h0M346.7 698.5h0M342.3 701.1h0M341.0 704.0h0M339.4 702.7h0M336.8 699.9h0M337.7 706.9h0M341.3 706.8h0M343.4 704.8h0M337.6 697.9h0M342.1 700.1h0M341.5 708.2h0M342.2 699.6h0M345.4 707.1h0M330.2 702.3h0M344.3 703.9h0M342.2 705.7h0M334.0 705.1h0M338.6 701.6h0M338.2 704.5h0M341.3 702.9h0M337.1 703.4h0M340.4 703.7h0M339.4 699.9h0M333.1 700.8h0M331.8 709.2h0M345.0 703.0h0M334.9 703.7h0M342.9 694.4h0M340.4 704.8h0M336.2 703.8h0M338.2 700.3h0M336.0 702.5h0M343.4 706.7h0M336.3 702.7h0M339.1 701.1h0M335.5 703.3h0M345.8 703.5h0M344.2 702.8h0M343.2 699.0h0M338.3 699.1h0M343.8 703.6h0M337.4 702.3h0M342.6 695.1h0M336.4 704.0h0M334.7 698.3h0M336.7 705.4h0M344.7 696.3h0M348.5 703.5h0M345.2 693.4h0M346.5 697.8h0M340.7 706.4h0M343.1 702.6h0M341.6 705.7h0M329.7 705.8h0M348.8 695.4h0M344.7 701.7h0M341.5 708.4h0M332.9 712.1h0M344.4 700.4h0M335.4 707.3h0M339.4 700.9h0M338.0 709.4h0M337.9 702.9h0M339.0 703.7h0M351.8 705.4h0M342.7 705.5h0M343.8 695.7h0M335.4 709.3h0M338.6 702.7h0M340.0 697.0h0M338.0 703.6h0M341.5 712.4h0M344.7 695.0h0M344.0 699.5h0M338.9 706.4h0M340.5 701.1h0M338.2 699.6h0M348.8 704.4h0M312.2 711.1h0M327.1 705.1h0M322.1 711.0h0M330.1 703.6h0M321.6 708.3h0M324.0 706.6h0M320.8 709.8h0M328.1 703.9h0M326.6 707.8h0M328.1 708.8h0M315.4 707.1h0M316.1 708.4h0M320.4 705.0h0M306.6 706.8h0M315.5 704.6h0M330.3 706.1h0M325.3 705.6h0M324.6 707.4h0M309.3 704.6h0M315.2 709.3h0M328.0 705.8h0M323.6 712.5h0M319.0 708.5h0M311.6 707.8h0M314.0 705.7h0M327.6 707.0h0M318.4 705.8h0M316.7 707.1h0M318.1 705.9h0M332.0 708.1h0M313.9 704.2h0M328.6 706.1h0M332.4 705.0h0M318.9 703.7h0M319.8 707.0h0M318.8 705.2h0M326.5 711.5h0M322.8 706.1h0M325.6 704.2h0M322.1 706.8h0M331.5 704.1h0M327.2 706.4h0M320.9 705.1h0M325.4 704.4h0M325.2 705.7h0M323.0 706.2h0M320.7 704.2h0M332.6 702.7h0M338.2 704.5h0M341.5 702.4h0M324.6 705.1h0M309.3 711.2h0M325.3 709.1h0M317.4 706.3h0M334.7 701.9h0M326.7 707.0h0M325.7 704.8h0M321.5 708.1h0M323.8 706.8h0M315.2 706.9h0M330.4 718.0h0M338.6 710.1h0M324.2 728.4h0M349.6 710.1h0M318.8 726.3h0M330.0 708.0h0M339.3 717.4h0M336.4 709.7h0M320.6 717.2h0M347.8 715.9h0M337.5 705.3h0M344.6 710.1h0M333.6 710.8h0M326.2 722.9h0M324.8 723.5h0M323.8 719.3h0M336.4 727.2h0M322.7 721.2h0M330.2 698.5h0M343.0 714.9h0M339.7 722.1h0M340.9 712.0h0M337.6 711.4h0M329.4 713.9h0M328.4 728.2h0M318.4 723.5h0M345.1 719.0h0M313.9 714.3h0M316.8 733.7h0M318.3 717.9h0M326.4 717.2h0M332.9 733.0h0M330.4 715.2h0M335.3 711.8h0M319.4 717.8h0M330.2 715.1h0M333.0 710.5h0M329.5 717.7h0M329.3 719.0h0M330.1 712.3h0M326.1 728.9h0M325.4 723.1h0M344.9 703.0h0M323.7 730.0h0M330.2 719.5h0M344.5 706.8h0M321.8 723.5h0M319.4 734.4h0M326.9 719.8h0M335.1 713.7h0M339.0 714.5h0M328.7 708.7h0M345.3 716.2h0M321.9 721.7h0M329.1 731.1h0M336.0 724.4h0M330.4 718.3h0M326.0 727.5h0M334.0 714.6h0M331.6 713.9h0M320.7 712.2h0M330.0 705.9h0M331.1 712.1h0M339.6 730.8h0M323.0 727.9h0M333.5 714.0h0M332.6 717.0h0M324.1 716.6h0M331.7 718.6h0M324.1 730.7h0M328.9 721.6h0M329.5 711.6h0M332.8 705.8h0M317.1 716.1h0M336.5 702.5h0M319.3 730.0h0M342.1 714.8h0M328.1 720.0h0M328.1 723.4h0M337.4 708.5h0M341.9 709.7h0M313.2 726.2h0M336.2 731.7h0M333.3 716.9h0M342.0 713.7h0M340.6 712.5h0M327.6 720.0h0M336.9 719.9h0M339.9 716.8h0M327.8 725.7h0M328.9 714.6h0M325.6 708.5h0M337.3 717.2h0M348.2 714.8h0M334.1 720.3h0M342.7 712.3h0M332.3 722.3h0M334.1 720.8h0M323.5 738.4h0M318.3 732.4h0M314.1 711.8h0M320.7 733.8h0M327.3 720.2h0M325.2 728.9h0M329.5 731.4h0M325.2 718.0h0M329.2 723.6h0M329.3 727.7h0M314.8 726.5h0M328.2 715.7h0M300.7 728.7h0M322.1 723.7h0M322.0 713.6h0M327.1 724.1h0M321.9 724.7h0M336.5 713.5h0M330.5 726.3h0M332.5 728.2h0M322.8 729.5h0M344.2 703.0h0M319.9 718.5h0M327.4 719.2h0M338.5 709.5h0M345.6 700.7h0M335.7 721.8h0M322.4 716.0h0M316.9 732.8h0M330.2 720.7h0M341.5 713.2h0M335.0 705.4h0M327.2 719.0h0M336.5 722.5h0M327.8 729.7h0M323.6 720.5h0M335.7 708.5h0M318.4 722.8h0M327.1 713.8h0M341.4 711.9h0M347.6 715.3h0M315.8 723.1h0M334.9 716.0h0M323.2 730.8h0M333.9 715.3h0M321.3 720.1h0M321.1 724.4h0M317.9 726.8h0M322.6 728.9h0M322.5 728.3h0M317.0 715.6h0M311.5 728.5h0M308.2 745.7h0M326.2 727.9h0M322.5 719.7h0M325.2 730.1h0M306.0 724.8h0M341.8 726.4h0M323.2 732.7h0M310.1 725.8h0M331.2 740.7h0M320.2 707.6h0M322.3 731.3h0M322.2 722.8h0M334.8 730.5h0M311.5 727.9h0M322.6 739.0h0M324.0 735.1h0M319.3 732.0h0M338.2 716.5h0M321.4 734.9h0M324.9 726.8h0M333.3 732.9h0M340.5 727.8h0M312.6 741.0h0M327.3 738.8h0M327.3 738.4h0M308.3 730.5h0M326.2 715.1h0M318.1 734.8h0M300.0 726.6h0M329.5 729.9h0M322.5 714.5h0M329.7 726.1h0M313.6 734.6h0M306.2 735.4h0M310.8 734.3h0M312.9 724.2h0M319.8 742.7h0M299.8 724.9h0M344.5 732.6h0M323.3 724.8h0M317.1 727.8h0M319.2 732.9h0M336.4 727.0h0M315.8 712.6h0M330.3 720.5h0M303.4 731.5h0M343.0 736.8h0M319.2 717.2h0M323.8 727.2h0M327.1 723.8h0M315.6 730.4h0M330.1 722.1h0M335.4 731.5h0M328.9 735.7h0M316.7 741.3h0M337.9 718.5h0M348.6 721.8h0M333.6 740.2h0M329.1 742.4h0M327.3 744.1h0M309.9 721.5h0M339.0 740.1h0M320.6 737.2h0M317.5 747.5h0M331.0 720.2h0M326.1 723.1h0M332.0 731.6h0M313.7 739.7h0M326.3 735.0h0M347.5 726.7h0M308.2 734.3h0M336.3 745.0h0M323.2 714.1h0M324.7 737.9h0M328.7 738.6h0M320.3 730.2h0M318.3 730.2h0M335.0 743.4h0M304.9 738.1h0M338.1 723.9h0M317.7 709.4h0M336.3 725.2h0M307.3 720.0h0M317.5 723.9h0M308.4 706.3h0M312.5 744.5h0M331.0 725.6h0M322.4 741.3h0M320.5 737.7h0M318.6 744.4h0M322.2 733.0h0M318.1 741.5h0M324.1 723.2h0M331.0 707.8h0M310.8 742.1h0M327.5 740.4h0M332.2 740.3h0M336.0 707.9h0M331.5 730.8h0M311.3 743.0h0M300.9 739.7h0M324.3 726.6h0M321.8 727.2h0M308.7 731.7h0M307.1 735.2h0M322.6 727.6h0M322.8 729.7h0M332.0 719.4h0M315.3 718.7h0M315.6 742.2h0M317.8 735.7h0M306.1 737.2h0M330.3 740.4h0M336.1 738.3h0M315.7 733.3h0M310.2 730.5h0M318.8 714.3h0M330.2 734.1h0M319.2 726.6h0M319.7 721.7h0M318.1 732.1h0M326.8 718.9h0M345.9 730.7h0M333.6 732.8h0M313.4 715.5h0M310.4 719.8h0M320.7 725.9h0M315.9 742.9h0M323.2 732.7h0M330.9 726.7h0M326.1 724.2h0M316.5 737.0h0M323.0 729.4h0M317.7 729.2h0M318.8 741.2h0M334.0 718.5h0M334.3 721.6h0M324.2 741.3h0M314.4 737.4h0M318.3 728.9h0M315.4 740.7h0M339.9 736.6h0M334.9 726.3h0M341.6 738.3h0M323.5 722.5h0" stroke="#0a0a0a" stroke-width="1.3" stroke-linecap="round" fill="none"/>
<rect x="294.9" y="689.2" width="63.2" height="59.5" fill="none" stroke="#161616" stroke-width="1.3"/>
<path d="M328.8 689.2V748.7M294.9 713.8H358.1" stroke="#161616" stroke-width="1.05" fill="none"/>
<text x="298.1" y="701.7" font-size="11.5" textLength="6.5" lengthAdjust="spacingAndGlyphs" stroke="#000" stroke-width=".5">2</text>
<text x="356.4" y="701.7" font-size="11.5" text-anchor="end" textLength="6.5" lengthAdjust="spacingAndGlyphs" stroke="#000" stroke-width=".5">4</text>
<text x="298.1" y="726.3" font-size="11.5" textLength="13.7" lengthAdjust="spacingAndGlyphs" stroke="#000" stroke-width=".5">87</text>
<text x="356.1" y="746.0" font-size="11.5" text-anchor="end" textLength="6.5" lengthAdjust="spacingAndGlyphs" stroke="#000" stroke-width=".5">7</text>
<g font-size="6.9" font-weight="bold" fill="#000" stroke="#000" stroke-width=".35">
<text x="295.1" y="756.1" textLength="8.0" lengthAdjust="spacingAndGlyphs">10<tspan dy="-1.9" font-size="5.4">0</tspan></text>
<text x="311.2" y="756.1" textLength="8.0" lengthAdjust="spacingAndGlyphs">10<tspan dy="-1.9" font-size="5.4">1</tspan></text>
<text x="326.6" y="756.1" textLength="8.0" lengthAdjust="spacingAndGlyphs">10<tspan dy="-1.9" font-size="5.4">2</tspan></text>
<text x="342.8" y="756.1" textLength="8.0" lengthAdjust="spacingAndGlyphs">10<tspan dy="-1.9" font-size="5.4">3</tspan></text>
<text x="358.2" y="756.1" textLength="8.0" lengthAdjust="spacingAndGlyphs">10<tspan dy="-1.9" font-size="5.4">4</tspan></text>
<text x="293.0" y="748.8" textLength="8.6" lengthAdjust="spacingAndGlyphs" transform="rotate(-90 293.0 748.8)">10<tspan dy="-1.9" font-size="5.4">0</tspan></text>
<text x="293.0" y="733.9" textLength="8.6" lengthAdjust="spacingAndGlyphs" transform="rotate(-90 293.0 733.9)">10<tspan dy="-1.9" font-size="5.4">1</tspan></text>
<text x="293.0" y="719.1" textLength="8.6" lengthAdjust="spacingAndGlyphs" transform="rotate(-90 293.0 719.1)">10<tspan dy="-1.9" font-size="5.4">2</tspan></text>
<text x="293.0" y="704.2" textLength="8.6" lengthAdjust="spacingAndGlyphs" transform="rotate(-90 293.0 704.2)">10<tspan dy="-1.9" font-size="5.4">3</tspan></text>
<text x="293.0" y="689.3" textLength="8.6" lengthAdjust="spacingAndGlyphs" transform="rotate(-90 293.0 689.3)">10<tspan dy="-1.9" font-size="5.4">4</tspan></text>
</g>
</g>
<path d="M7.5 340V495.7M7.35 589V747.6" stroke="#000" stroke-width="1.45" fill="none"/>
<path d="M7.6 329.8L13.8 341.6H1.8Z" fill="#000"/>
<text x="11.7" y="561.0" font-size="12.8" font-weight="bold" textLength="43.8" lengthAdjust="spacingAndGlyphs" transform="rotate(-90 11.7 561.0)" stroke="#000" stroke-width=".22">7-AAD</text>
<path d="M44.5 779H202M303 779.3H460" stroke="#000" stroke-width="1.45" fill="none"/>
<path d="M471.8 779.3L459.4 773.2V785.4Z" fill="#000"/>
<text x="221" y="784.6" font-size="12.9" font-weight="bold" textLength="67.3" lengthAdjust="spacingAndGlyphs" stroke="#000" stroke-width=".22">Annexin V</text>
</g>
</svg></body></html>
